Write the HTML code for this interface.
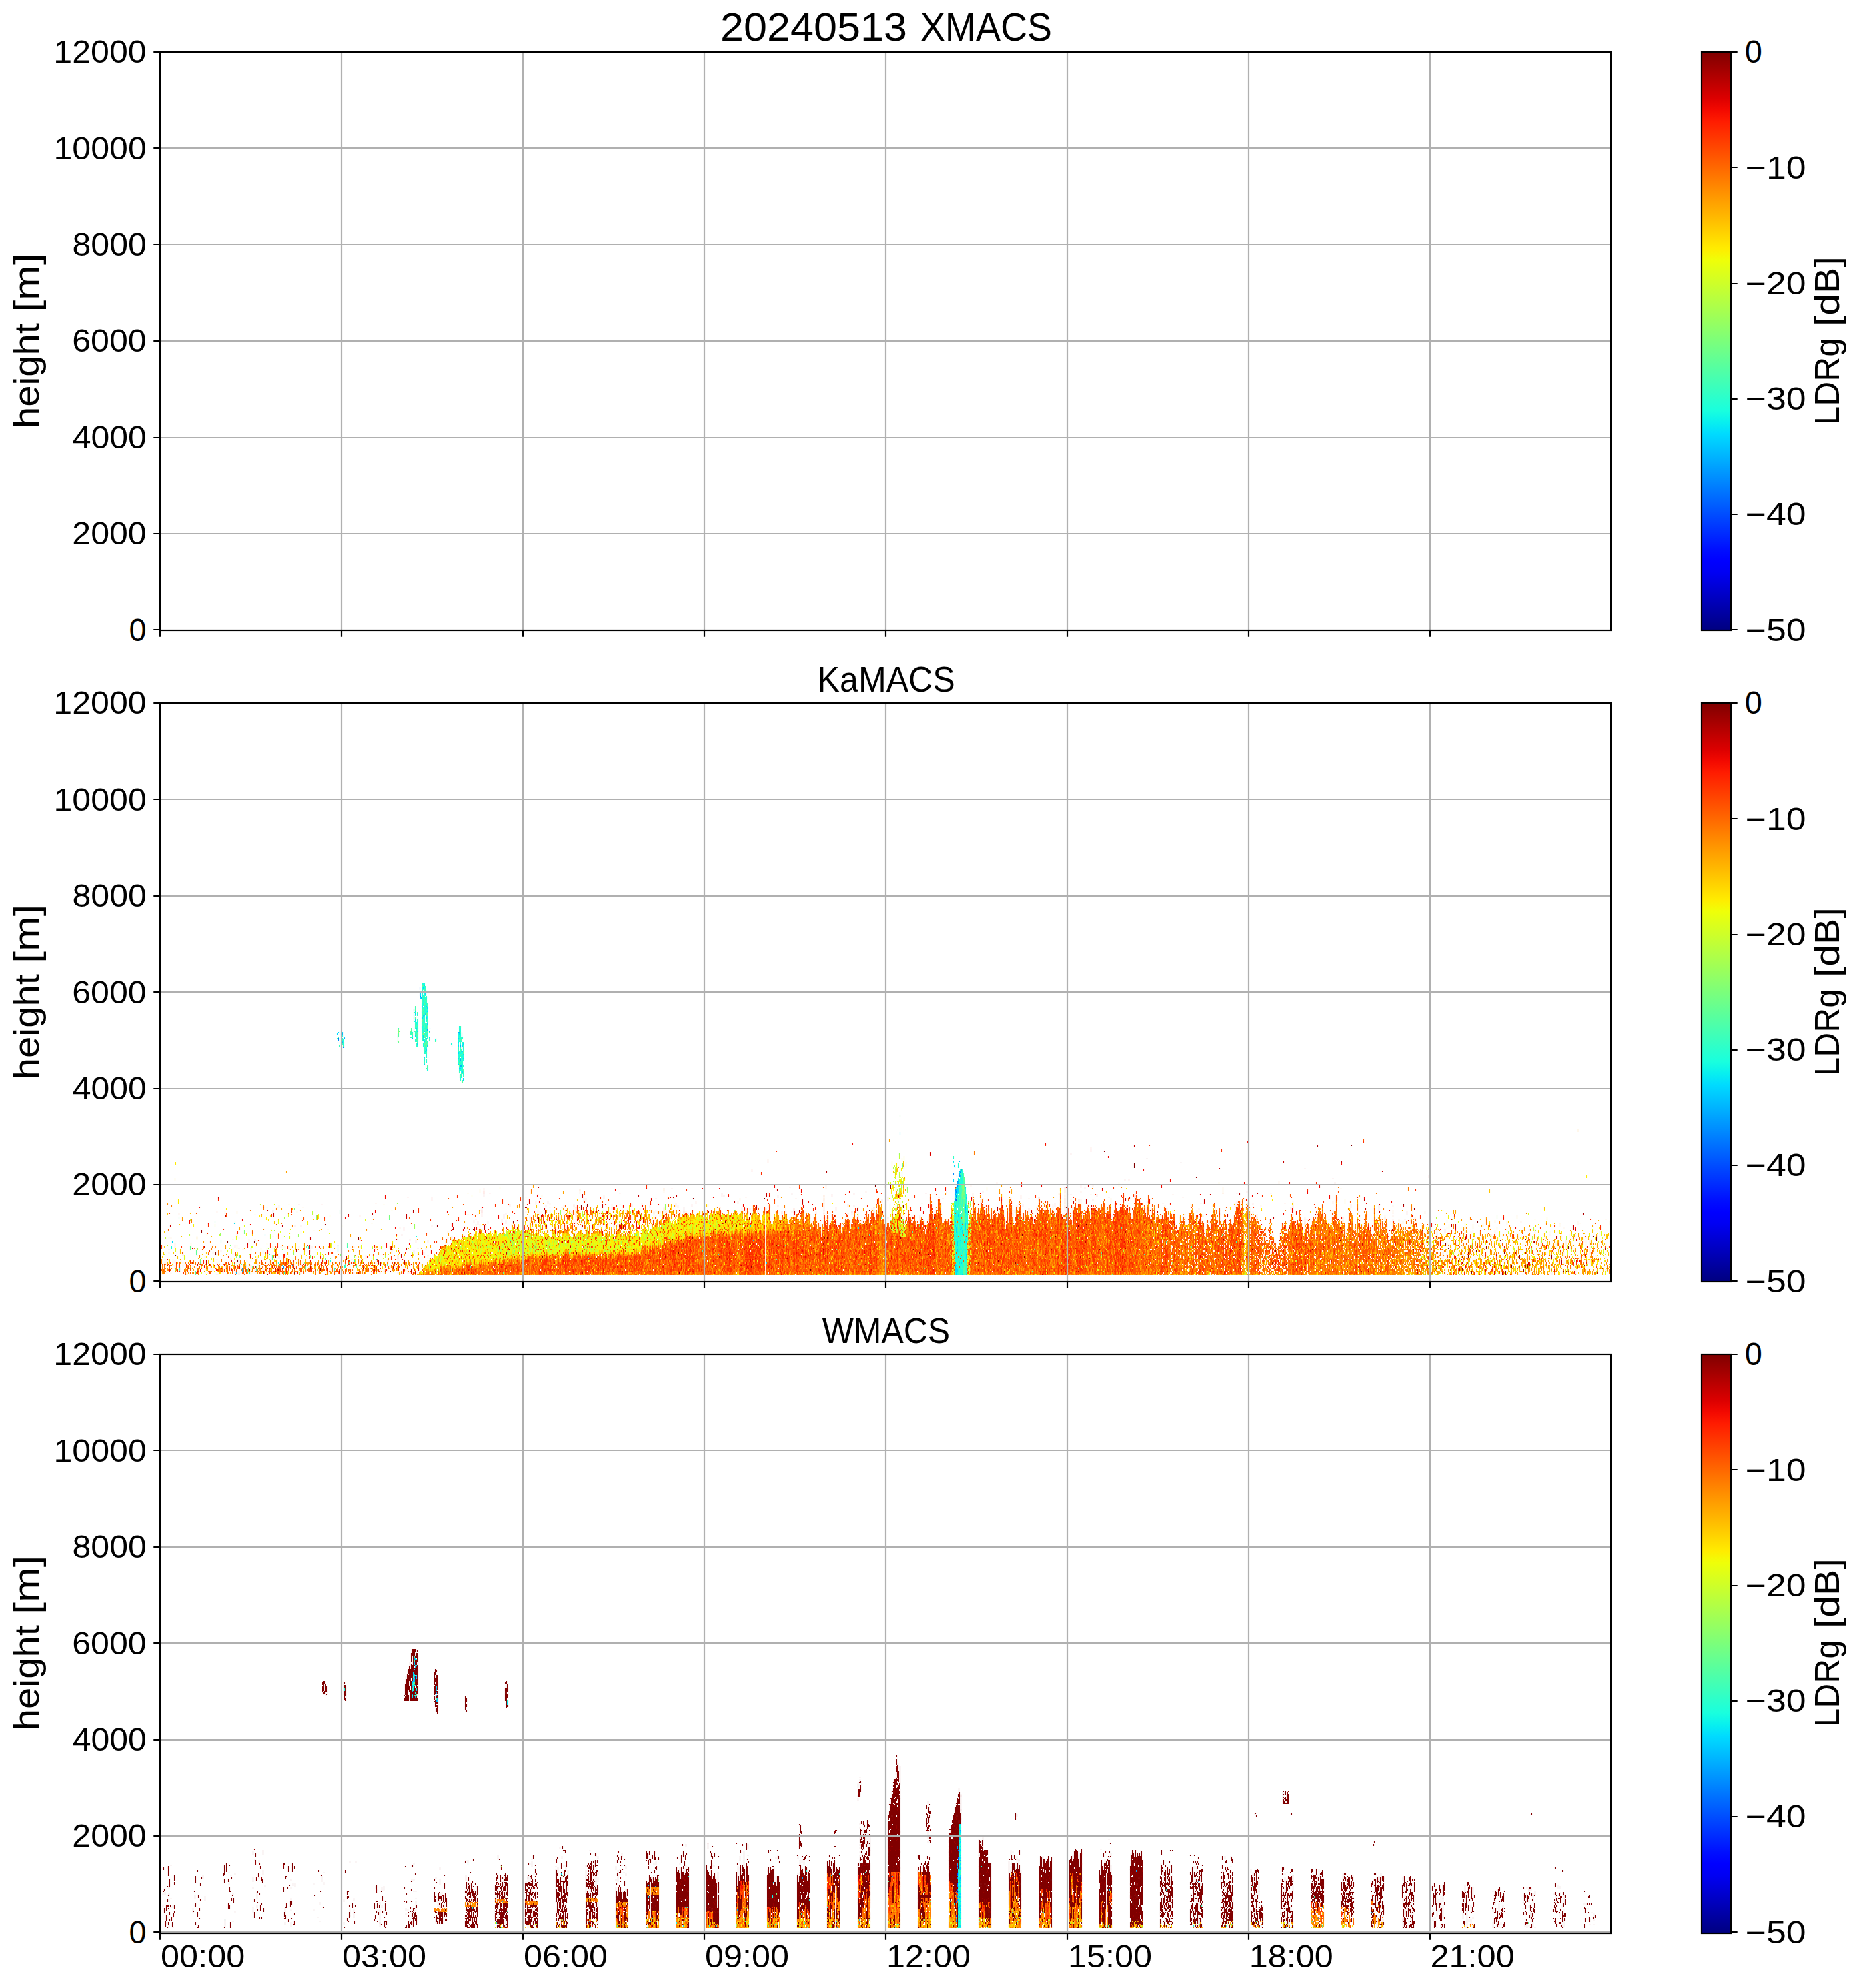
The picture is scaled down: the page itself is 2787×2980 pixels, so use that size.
<!DOCTYPE html>
<html lang="en"><head><meta charset="utf-8"><title>20240513 XMACS / KaMACS / WMACS LDRg</title><style>html,body{margin:0;padding:0;background:#fff}svg{display:block}text{font-family:"Liberation Sans",sans-serif}</style></head>
<body>
<svg width="2787" height="2980" viewBox="0 0 2787 2980">
<defs><linearGradient id="jet" x1="0" y1="0" x2="0" y2="1"><stop offset="0%" stop-color="#800000"/><stop offset="2%" stop-color="#970000"/><stop offset="4%" stop-color="#ae0000"/><stop offset="6%" stop-color="#c50000"/><stop offset="8%" stop-color="#dc0000"/><stop offset="10%" stop-color="#f30900"/><stop offset="12%" stop-color="#ff1c00"/><stop offset="14%" stop-color="#ff2f00"/><stop offset="16%" stop-color="#ff4200"/><stop offset="18%" stop-color="#f50"/><stop offset="20%" stop-color="#ff6800"/><stop offset="22%" stop-color="#ff7b00"/><stop offset="24%" stop-color="#ff8e00"/><stop offset="26%" stop-color="#ffa100"/><stop offset="28%" stop-color="#ffb300"/><stop offset="30%" stop-color="#ffc600"/><stop offset="32%" stop-color="#ffd900"/><stop offset="34%" stop-color="#ffec00"/><stop offset="36%" stop-color="#efff08"/><stop offset="38%" stop-color="#deff19"/><stop offset="40%" stop-color="#ceff29"/><stop offset="42%" stop-color="#bdff3a"/><stop offset="44%" stop-color="#adff4a"/><stop offset="46%" stop-color="#9cff5a"/><stop offset="48%" stop-color="#8cff6b"/><stop offset="50%" stop-color="#7bff7b"/><stop offset="52%" stop-color="#6bff8c"/><stop offset="54%" stop-color="#5aff9c"/><stop offset="56%" stop-color="#4affad"/><stop offset="58%" stop-color="#3affbd"/><stop offset="60%" stop-color="#29ffce"/><stop offset="62%" stop-color="#19ffde"/><stop offset="64%" stop-color="#08f0ef"/><stop offset="66%" stop-color="#00dbff"/><stop offset="68%" stop-color="#00c7ff"/><stop offset="70%" stop-color="#00b3ff"/><stop offset="72%" stop-color="#009eff"/><stop offset="74%" stop-color="#008aff"/><stop offset="76%" stop-color="#0075ff"/><stop offset="78%" stop-color="#0061ff"/><stop offset="80%" stop-color="#004cff"/><stop offset="82%" stop-color="#0038ff"/><stop offset="84%" stop-color="#0024ff"/><stop offset="86%" stop-color="#000fff"/><stop offset="88%" stop-color="#00f"/><stop offset="90%" stop-color="#0000f3"/><stop offset="92%" stop-color="#0000dc"/><stop offset="94%" stop-color="#0000c5"/><stop offset="96%" stop-color="#0000ae"/><stop offset="98%" stop-color="#000097"/><stop offset="100%" stop-color="#000080"/></linearGradient>
<clipPath id="cp0"><rect x="240" y="78" width="2175" height="867"/></clipPath>
<clipPath id="cp1"><rect x="240" y="1054" width="2175" height="867"/></clipPath>
<clipPath id="cp2"><rect x="240" y="2030" width="2175" height="868"/></clipPath>
</defs>
<rect width="2787" height="2980" fill="#fff"/>
<g id="panel0">
<path d="M512 78V945M784 78V945M1056 78V945M1328 78V945M1600 78V945M1872 78V945M2144 78V945M240 800H2415M240 656H2415M240 511H2415M240 367H2415M240 222H2415" stroke="#b0b0b0" stroke-width="2.2" fill="none"/>
<path d="M230.3 944H240M230.3 800H240M230.3 656H240M230.3 511H240M230.3 367H240M230.3 222H240M230.3 78H240M240 945V954.7M512 945V954.7M784 945V954.7M1056 945V954.7M1328 945V954.7M1600 945V954.7M1872 945V954.7M2144 945V954.7M2595 78H2604.7M2595 251H2604.7M2595 425H2604.7M2595 598H2604.7M2595 771H2604.7M2595 944H2604.7" stroke="#000" stroke-width="2.2" fill="none"/>
<rect x="240" y="78" width="2175" height="867" fill="none" stroke="#000" stroke-width="2.2"/>
<rect x="2551" y="78" width="44" height="867" fill="url(#jet)" stroke="#000" stroke-width="2.2"/>
</g>
<g id="panel1">
<g clip-path="url(#cp1)" fill="none" stroke-width="1.2">
<g transform="translate(240.5 1911) scale(1 -1)" stroke-width="1.08"><path stroke="#008aff" d="M1192 104v17"/><path stroke="#00b2ff" d="M1191 104v17m1 0v15m1-15v11"/><path stroke="#00dbff" d="M266 35v10m21-28v7m905-24v17m1-17v17m1 0v18m0 17v17m1-34v17m0 69v18m1-18v18m6-87v17m1-17v17m0 70v17m4-87v35m1-87v18"/><path stroke="#19ffde" d="M1190 52v17m0 18v17m1-104v17m0 70v17m1-87v18m0 34v35m1-87v52m0 18v17m1-104v17m0 18v17m0 17v67m1-136v35m0 17v52m1-104v52m0 17v50m1-102v18m1 0v52m0 52v17m1-156v87m0 34v18m1-87v17m1-69v35m0 17v17m0 70v17m1-156v52m0 87v17m1-156v52m0 35v17m3-35v18m1-70v52m0 52v11m1-132v17m0 18v34m0 18v34m1-104v52m1-17v52"/><path stroke="#3affbd" d="M1190 69v18m1-70v70m1-52v34m1 0v18m0 17v17m2-17v17m1-69v17m1-69v17m0 18v104m1-139v35m0 52v52m1-52v34m0 18v17m1-156v52m0 17v18m0 34v35m1-121v17m0 17v35m0 17v18m1-52v34m1-52v18m0 17v35m1-139v52m1-35v70m1-87v69m0 18v52m1-139v17m0 87v17m1-52v18m1-18v46"/><path stroke="#5aff9c" d="M4 17v7m164-7v13m50-26v13m895 141v9m84-28v13m3-65v34m1-17v17m1-52v18m2-35v17m0 35v17m0 18v13m1-152v17m0 70v60"/><path stroke="#7bff7b" d="M60 17v7m1055 45v13m23-13v7m64 45v18m2-70v35m0 17v18m5-139v17m5 87v6m1-58v17"/><path stroke="#9cff5a" d="M291 17v13m90 39v7m183-41v17m36 37v8m27-45v13m25-13v17m165-17v17m281 0v18m5 34v18m7-70v18m1 34v18m1-70v18m6-18v15m2 39v9m69-97v17m21-17v17m1 52v6m737-110v17"/><path stroke="#bdff3a" d="M187 37v6m22-43v11m19 78v6m170-95v15m12 2v13m11-13v18m4 0v8m25-8v17m24 0v17m7-34v17m1-17v17m15-35v18m3-18v18m17 0v17m1-17v17m1 0v15m1-32v34m1-34v17m1-35v18m6-18v35m3-35v18m0 17v15m7-32v17m2-17v30m3-48v35m1-17v17m4 0v13m6-13v17m6-34v17m2-17v17m1-17v17m3 0v15m1-32v17m3 0v17m12-34v17m9-17v17m7-17v17m6 0v13m8-13v17m7-17v17m2-17v15m3-32v17m1-17v17m6-35v18m6 0v17m1-17v17m1-17v17m1 0v17m5-34v17m1-17v17m1-17v17m2-17v17m1 0v15m11-15v17m2 18v17m2-69v17m5-17v30m10-30v17m3-35v18m16 0v17m3-17v17m1-17v17m25-17v17m4 0v17m12-17v17m13 0v18m23-18v18m5-18v18m11-18v18m5-35v17m17 0v18m4-18v13m12-13v18m9 0v6m16-24v18m29 0v6m211-24v18m1-18v18m2 52v23m4-93v52m2-52v18m0 52v15m0 19v9m1-130v17m2-17v17m1-17v17m1-17v32m1-15v15m1-32v17m1-17v17m72-52v18m0 17v17m2-69v17m0 18v17m21-17v17m1-35v18m2 34v18m1-18v18m822-35v11m19-28v15m1 2v6m51-6v6"/><path stroke="#deff19" d="M114 52v6m78 29v6m111-76v7m100-24v17m5-17v26m4-9v13m1-30v30m3-13v11m4-11v18m1 0v8m2-26v18m1 0v8m3-26v18m1-18v18m1 0v17m2-35v18m3-18v18m3 0v17m1-35v18m1 0v17m1-17v17m2-35v35m1-35v35m2-35v18m3-35v17m1 0v18m3-18v18m1-18v18m5-18v35m3-35v18m2 17v17m1-17v6m1-23v17m1 0v6m1-58v35m1-18v15m1 3v17m5-17v17m1-35v35m4-35v18m1 0v17m1 0v15m1-15v17m1-34v17m2-35v35m4 0v11m3-46v52m1-52v18m2-18v35m2-17v28m2-46v18m4-18v18m1-18v18m0 17v13m1-30v17m1-35v18m1 0v17m2-17v17m2 0v9m1-44v48m3-48v35m7-17v17m1 0v15m1-32v32m1-32v32m1-32v32m1-32v17m1 0v17m1-52v35m1-35v50m1-32v17m1-35v52m1-17v15m1-32v34m2-34v17m1-17v34m1-17v15m1-15v15m1-50v18m1-18v35m1-17v30m1-13v15m2-32v32m1-32v17m1-17v32m2-50v50m1-32v17m1-17v34m1-34v34m1-34v32m1-32v17m1-17v34m1-34v17m1-17v17m2-17v17m2-17v17m2-35v18m1 17v15m2-50v35m2-17v17m0 19v16m3-52v17m1-17v17m4-17v17m1-17v17m3-17v17m3-17v17m1-17v17m1-17v17m1-17v17m1 0v13m1-30v17m2 0v17m1-17v15m1-32v17m1 0v17m1-52v18m2 0v34m1-34v17m2-17v17m2-17v17m3-17v17m2-17v17m1-17v34m1-34v17m1-17v17m1-17v17m1-17v17m1-17v17m1-17v17m2-17v17m1-17v17m2-17v17m1-17v17m4-17v17m3-35v35m2 0v13m1-30v17m2-17v17m3-17v17m1-17v17m1-17v17m3 22v13m1-52v17m2-17v17m5 0v13m1-30v17m2-17v17m1-17v32m1-32v17m2-17v34m1-34v17m1-17v34m0 20v6m1-78v52m1-17v15m2-32v30m1-30v17m1-17v30m4-30v17m2 17v18m2-70v18m1 0v17m0 35v6m2-58v17m1-17v17m4-17v17m2 35v6m1-58v17m1-17v17m2-17v17m2 0v13m1-30v34m2-34v17m6 0v17m1-17v17m1-34v17m1-17v17m2 0v17m1-34v17m7 0v17m1-34v17m1-17v17m2 0v17m3-34v17m1 0v13m4-30v17m1-17v17m1 0v15m1-32v34m1-17v17m2-17v17m1-17v17m2-17v17m1-17v15m1-32v17m1-17v17m1-17v30m3-13v17m2-17v17m8-17v17m3 0v13m1-30v17m1-34v17m1 0v17m1-17v17m1 0v18m1-35v35m4-35v17m1 0v18m1-18v18m1-18v18m2-35v17m4-17v17m2-17v17m7 0v18m2-35v17m5 0v18m2-35v35m1-35v17m8-17v17m2 0v18m6-35v17m2-17v17m0 18v6m1-24v18m2-18v26m6-26v18m6 0v10m5-28v18m1-18v18m2-35v17m3 18v13m2-13v8m2-26v18m10-18v18m9-18v18m2-18v18m3-35v17m1 0v18m5-18v24m6-24v26m5-26v18m21-35v17m20 0v9m1-9v7m177-7v13m3 5v13m4-31v18m2-18v18m0 69v11m1-115v17m4 0v35m77-52v17m1 18v13m1-100v17m0 52v15m1-15v18m1-70v18m20-18v18m1-18v18m1-35v17m0 52v18m1-87v17m1 70v17m559-104v17m120-17v17m2 35v11m6-63v35m5-13v13m3-18v18m3-35v17m24-17v13m31 22v17m2 0v11m45-63v15m2 20v6m31-39v15m1-17v17m61 0v28"/><path stroke="#ffec00" d="M27 106v7m42-113v17m37 0v9m30 9v6m22-24v18m33-18v18m163 17v9m38-61v17m8-17v17m4-17v26m2-26v17m3-17v24m1-24v15m1-15v15m0 2v15m1-30v15m2-17v35m1-35v17m1-17v17m1-17v17m1-17v35m1-18v18m3-18v24m2-24v18m1-18v18m1-18v18m1-35v17m2 0v18m1-18v18m2-18v18m1-18v26m1-8v10m1-28v18m1 0v13m1-48v35m1-35v17m0 18v17m1-35v18m1-18v18m1-18v15m0 3v17m3-35v35m1-52v17m0 18v17m1-35v35m1-35v35m1-35v35m1-17v15m1-33v18m1-18v18m1 0v17m2-35v35m1-17v17m1-35v33m1-33v35m2-35v35m1-35v35m1-17v17m1-35v48m1-48v35m1-35v35m1-35v18m1-18v35m1-17v17m1-17v17m1-35v18m1-18v35m1-35v52m1-52v48m1-48v35m1-35v18m2-18v35m1-35v35m1-35v52m1-34v17m1-35v18m0 17v17m1-52v18m2-18v18m1-18v35m2-35v35m1-35v35m1-35v35m1-35v35m1-35v44m1-44v35m2-17v28m1-46v35m1 0v13m1-48v15m0 3v26m2-44v15m0 3v28m1-28v26m1-26v17m0 2v13m1-50v50m1-50v50m1-32v30m1-30v17m1-35v18m0 17v6m1-23v26m1-44v18m1-18v46m1-46v18m1-18v46m1-46v35m2-35v52m1-52v52m1-17v13m1-48v46m1-11v9m1-9v13m1-48v35m2-35v18m0 17v15m1-15v17m1-52v35m2-35v18m1-18v18m1 17v17m2-17v17m4-34v17m2-17v34m1-17v17m1 0v7m2-59v35m2 0v15m4-50v18m1-18v18m0 17v17m2-34v17m10-17v17m2-35v18m1-18v18m4 0v17m2-35v18m1-18v18m1 0v17m1-17v17m2-35v18m1 0v17m1-35v35m1-35v35m3-35v35m1-17v17m2-35v52m1-52v18m2-18v18m3 0v17m1 0v17m1-34v32m1-32v17m2 17v11m1-45v17m1-17v17m1-17v17m2 35v6m1-76v18m0 17v15m1-50v18m1 0v17m0 17v13m2-47v32m1-32v34m2-34v34m1-17v17m3-17v15m0 20v10m1-45v17m1-17v15m0 22v11m2-13v8m1-78v35m3-17v17m1-35v18m0 17v17m2-34v17m1-17v17m1-17v17m1 0v17m4-34v17m1-17v17m2-17v17m1 0v15m1-32v17m1-17v17m6 35v15m2-67v17m2-17v17m1-17v17m4 0v17m1-17v17m4-34v32m5-32v17m1-17v17m4-17v17m1-17v17m3-17v34m1-34v17m1-17v32m3-32v17m3-17v17m0 35v6m1-58v17m1-17v17m1 0v9m1-26v17m1 17v18m1-70v18m2 0v17m2-17v17m1-17v17m2-17v34m0 18v8m1-78v18m0 17v17m1-34v17m1-17v17m1-17v17m1-17v17m1-17v17m1-17v17m1-17v17m4-17v17m1 0v13m2 22v17m1-69v17m1-17v34m1-34v17m1-17v17m1-17v17m3-17v32m0 20v13m1-65v17m1-17v17m1-17v34m1-17v15m1-32v17m1-17v30m1-30v17m0 17v15m1-49v17m2 0v15m1-32v17m2-17v17m1-17v34m1 18v10m2-45v17m1-34v17m1-17v17m4-17v34m1-34v34m1-34v17m1 0v17m2-34v34m1-34v34m0 18v8m2-43v17m1-17v17m2-34v17m0 2v15m1-34v17m1 0v17m1-17v17m1-17v17m2-17v17m2 0v26m1-43v17m2-17v30m1-30v17m1-17v35m2-35v17m1-17v17m1-17v17m1-17v35m1-18v18m1-35v17m1-17v17m1-17v17m1 20v6m1-43v17m2-17v32m1-15v18m1-35v17m1-17v17m1-17v32m1-32v17m2-17v35m1-18v18m1-35v17m1-17v35m1-35v35m1-35v35m1-35v17m1-17v17m2 0v24m1-41v35m1-18v18m1-35v35m1-18v18m1-35v35m1-35v35m1-18v18m2-35v17m2 0v28m1-45v35m1-35v35m1-18v18m1-35v35m1-18v18m1-35v35m1-18v18m2-35v41m2-41v43m1-26v18m1-35v35m1-18v18m1-18v18m2-18v18m1-35v35m1-18v18m1-35v17m1-17v35m1-35v35m1-35v35m1-35v17m1-17v35m1-18v18m1 0v6m3-24v18m2-18v18m1-18v18m1-18v18m1-35v35m1 0v8m1-8v15m1-33v18m1-18v26m1-26v18m1-18v18m1-18v18m1-18v18m1-18v18m1-18v18m2-35v17m1 0v18m3-18v18m1-18v18m1-18v18m1-18v18m3-35v35m1-35v17m1 0v18m3-35v17m1 0v18m1-18v28m1-28v26m1-26v26m2-26v18m1-35v35m1-18v18m1-35v35m1 0v6m2-24v18m1-18v18m1-35v32m1-15v15m1-32v17m3 0v18m2-18v18m2-18v18m1-18v18m2-18v18m1-18v18m1-18v18m1-18v18m6-35v17m4 0v18m3-18v11m1-11v18m1-18v26m25-26v18m1-18v13m7-13v18m12-35v17m147 52v9m1-61v18m6-18v18m2 0v17m5 35v8m4-95v17m0 20v15m19-69v17m53 35v17m1-87v35m47-17v17m115 69v9m203-130v17m29 52v18m4-35v17m43-69v17m95 0v18m132 17v17m21-69v17m37-17v17m9-15v15m10 52v7m24-7v9m10-78v17m15-15v15m4-17v17m2 0v18m19-33v15m22 18v15m1-33v18m2-13v13m32-33v15m1 35v6m3-6v11m49-24v11m22-33v18m35-33v13m1 22v13"/><path stroke="#ffc600" d="M55 52v6m25-39v7m19-22v13m37-17v15m10-13v7m8-7v15m6-17v15m6-13v15m15-17v17m22 20v11m13-13v13m2-31v7m130 13v13m42-50v6m3-6v17m1-17v11m2-11v13m1-13v15m8-15v17m2-17v17m10 0v15m2-32v17m1-17v17m0 18v8m3-43v17m5 18v15m8-50v35m3-35v17m7-17v17m1-17v17m4 18v17m2-17v17m2-35v18m22 17v11m5-46v18m35-18v18m10-18v18m0 34v7m9-59v18m2-18v15m4-15v18m6-18v18m2 17v15m5 2v9m7 9v6m3-76v18m2 36v16m3-70v18m6 17v13m1-48v18m3-18v18m0 17v15m6-50v18m5 54v13m2-85v18m7 17v15m10 2v18m3-35v17m2-52v18m1 34v18m4 2v15m10-17v6m10-76v18m1 17v15m1-15v13m10 22v8m3-8v17m2-30v13m11-70v18m6 52v8m4-78v18m6 34v18m1-35v15m0 20v13m4-31v15m1 3v10m1-45v17m2 18v8m1-6v15m3-52v17m3-52v18m2 34v18m6 2v8m1-8v8m11-80v18m5 52v8m12-60v17m4 0v17m3 0v13m2 7v6m2-60v17m0 17v11m1-45v17m0 35v8m2-26v15m18-49v17m3 0v17m4 0v18m1-35v17m11 18v8m7-26v18m3-35v17m14 18v8m2-43v17m3 18v6m7-6v6m2-6v10m1-28v18m2-18v18m1-35v17m0 18v8m5-43v17m3 18v13m5-48v17m1 0v18m3-35v35m1-18v18m5-35v35m3 0v6m1-41v17m2 18v6m4-93v17m3 35v17m4 0v18m3 0v8m2-43v17m3 0v18m1-35v17m0 18v6m1-24v18m1 0v8m1-26v15m3-32v17m2-17v17m1-17v17m2 0v18m1-18v18m1-18v33m1-33v18m1-18v18m1-18v18m1-18v15m1-15v18m1-18v18m2-18v13m3-30v17m2 0v18m1-18v18m2-18v18m1-18v18m1-18v18m1-18v18m1-18v18m2-18v18m1-18v11m2-28v17m3 0v18m1-18v18m1-18v18m1-18v26m4-26v18m1-18v13m3-13v13m26-30v17m83-17v17m6 18v15m51-15v13m4-31v18m6-18v18m1 0v17m1 0v17m3-34v15m2 19v18m36-70v11m37-80v17m2-17v17m146 52v18m80-35v17m75-17v17m3-17v17m1-32v15m38-52v15m4-15v35m17 34v18m26-50v15m0 35v17m10-35v11m14-45v17m20-35v18m4 52v6m1-58v17m0 19v16m3-52v17m0 35v17m2-104v17m13 52v11m4-45v17m24-52v17m1-17v17m7 0v18m5 0v17m10-17v17m15 0v17m6-69v17m15-17v17m10 0v15m5 37v13m1-47v17m1 17v7m1-57v16m3-13v13m14-35v17m2-17v17m6 89v7m5-61v17m13-15v15m13-34v17m3-17v17m6-35v18m18-35v17m3-17v17m12 35v28m3-28v17m5-34v17m5-52v17m6 35v15m4-50v18m1-35v17m4 18v17m3-13v13m7-17v17m7-52v17m0 18v17m1-35v18m5 17v15m2-50v18m3 34v7m2-76v15m1 2v18m1-31v13m1 18v17m1-50v15m5-17v17m5-13v13m21-17v17m4-15v15m1 2v16m1 17v11m2-46v18m1-33v15m7-15v15m3-17v35m7 34v7m10-41v17m5 19v7m3-78v15m1 39v7m13-44v18m7 17v9m13-9v6m1-54v13m5-17v17m44 20v15m26-52v17m0 18v17m3 0v11m4-28v13m31-31v13m7 22v6m2-41v18m25 19v7m1-7v7"/><path stroke="#ffa100" d="M7 17v7m12-7v7m21-24v11m1-7v11m48-13v15m29-17v17m7-15v15m8-15v15m34-15v15m16-15v15m2-17v17m3-17v17m62-17v15m8-11v13m63-15v13m20 2v7m38-24v17m23-17v17m20-17v17m4 18v10m6-45v17m1-17v17m18-17v17m2 37v7m1-61v17m1-17v17m3-17v17m24-17v17m7-17v17m3-17v17m8-17v17m4-17v17m1-17v17m2-17v17m18-17v17m8 0v18m1-18v18m3-18v18m7-18v18m8-35v17m2 52v18m1-87v17m1 0v18m13-35v17m0 35v17m4-52v18m5-35v15m5 2v18m1-35v15m7 2v18m1-18v18m16-18v18m3-18v18m0 34v18m19-35v15m9-15v15m7 22v8m2-10v8m1-78v18m1 52v10m5-45v17m4 18v8m2-78v18m0 34v18m4-87v17m7 0v18m4 17v17m3-52v18m2 17v17m3-17v17m12-52v18m0 36v16m2 0v10m4-80v18m5-18v18m11 54v6m1-43v15m3-67v17m3 52v15m1-15v18m1-18v15m2-67v18m1 36v16m4-87v17m2-17v17m6 18v17m3-52v17m5 52v13m5 41v7m2-130v17m1-17v17m2 18v17m3-17v17m1-52v15m2 72v17m4-87v18m4-18v18m4 52v10m1-10v8m1-95v17m2 18v17m3-17v17m1-35v18m2-35v17m7-17v17m14 20v15m1-17v17m3 0v17m8-34v17m7-52v17m2 18v17m2 0v17m2-17v17m2-17v17m0 18v10m7-97v17m5 35v17m3 18v10m14-62v34m2-69v17m1 0v18m3 17v17m6-17v17m9-17v17m3 18v17m1-17v13m1-48v17m2-17v17m0 18v6m13-93v17m2 70v13m5-48v35m3-35v24m1-41v17m2 17v11m1-28v17m1-69v17m1 0v18m2 34v18m1-18v18m1-70v18m0 17v35m1-35v17m1-52v18m3-35v17m1 52v18m1-18v18m1-18v18m1-18v18m1-18v18m1-35v17m2 0v18m1-18v15m1-15v11m1-11v7m1-7v13m1-13v18m2-35v35m1-52v17m1 0v17m3 0v18m8-18v15m1-15v15m1-67v18m1 34v18m6-87v17m1 35v17m1 0v18m2-35v35m1-18v18m7-70v18m3 34v18m1-52v17m3-52v17m11-17v17m4-17v17m7 52v18m2-35v17m7-52v18m5 17v17m8-17v17m4-69v17m14-17v17m4 52v7m2-76v17m5 35v17m13-34v17m4-52v17m1 0v18m0 34v35m1-35v18m1-52v17m3-52v17m1-17v35m1-35v17m9 35v17m3-17v17m2-34v17m4-35v18m7 52v15m6 39v6m14-147v17m33 0v18m1 34v18m3-70v18m3 34v18m2-18v9m8-43v17m1 0v17m30-69v17m3-17v17m13 52v15m2-67v18m1 69v9m7-96v18m1 52v17m1-52v17m5 0v15m1-32v17m1-52v18m0 34v18m7-70v18m0 34v18m2-35v17m3 52v7m9-128v17m9 104v7m1-59v18m1-52v17m18-52v17m5-17v17m2-17v17m3 70v10m9-62v17m1-17v34m1 18v17m5-17v13m12-83v18m3-35v17m3-17v35m0 17v17m3 0v18m1-52v17m3-17v17m1-17v17m0 17v18m6-18v15m2 37v11m23-63v18m11-87v17m4-17v69m2-52v18m8 0v17m7-35v18m1 34v18m1-35v17m2-69v17m4 70v13m2-65v17m6 0v17m8-69v17m21 18v15m4-15v17m3 35v17m2-17v15m0 2v9m4-113v17m0 18v17m1 35v15m2-33v33m3-67v17m2 17v18m1-87v17m1 18v17m0 35v17m1-104v52m3-17v17m1-52v17m1-17v17m3 18v17m3 0v17m2 0v18m1-35v17m2-34v17m2 0v17m1-52v18m0 34v15m4-32v17m7 0v18m1-87v17m0 35v17m0 20v6m6-78v18m1 34v18m11-70v35m1 0v17m1-52v18m0 34v11m2-63v18m1 0v15m1-33v18m2-35v17m1-17v17m2 18v17m1 2v15m2-52v18m0 34v24m1-93v35m2 0v17m1-52v17m0 70v17m1-104v17m5 18v17m5 0v17m5-69v17m3-17v17m1 0v18m1-35v17m0 35v17m5-52v18m1 0v17m8-50v13m0 39v15m8-52v18m3 86v11m3-63v9m7-9v13m4-82v17m1 18v17m4 17v18m0 2v6m10-95v17m1-15v15m0 18v52m1-87v17m0 18v52m1-87v17m3 0v18m0 17v17m0 18v15m2-102v17m0 18v17m0 2v15m2-69v17m1 0v52m2-69v17m4 35v17m1-52v18m5-35v17m5 0v18m7-35v17m2-17v17m0 18v6m2-24v18m6-18v18m12-18v13m2 5v17m2-50v15m0 52v7m1-24v17m8-69v17m2 0v18m2-35v17m1 0v18m4-18v18m4 17v17m7-52v18m2-35v17m5 0v18m2 0v17m4 2v15m3 0v11m2-80v17m1-17v17m0 18v17m3 35v6m1-24v18m1 0v15m3-15v13m4-31v18m3-50v15m0 2v15m1-52v18m1-18v18m2 17v17m3-52v18m1-35v17m0 18v17m1 17v9m1-61v35m0 17v9m1-78v17m0 18v17m0 17v18m2-35v17m3-17v17m1-17v17m1-34v17m2-52v17m1 35v17m3-17v17m2-69v17m0 52v9m1-26v17m1-69v17m1 20v15m2-52v17m0 18v17m2-52v35m0 17v13m1-65v17m0 18v17m1-50v15m1-17v17m0 70v8m3-60v17m1 0v35m2-52v17m0 17v7m1-41v17m2-17v15m1 19v7m2-59v15m1-32v35m0 17v17m0 20v28m1-100v18m1-35v15m0 2v15m3 20v17m1-69v17m0 18v17m8-35v18m0 17v17m4-69v35m4 0v17m1 2v7m1-9v9m1 26v17m2-69v47m2-80v13m0 20v34m6-17v17m1-52v18m0 17v17m1-34v17m1-35v18m0 17v17m2-69v17m1 20v15m0 17v18m1-70v18m1 0v17m1-17v34m7-69v32m0 3v17m3-17v17m3-52v17m1 18v17m1-52v17m0 35v17m1-69v17m1-17v17m0 2v16m0 34v9m1-61v18m0 34v15m2-67v18m1-18v15m2 3v32m1-13v15m1-69v15m0 20v17m2-52v35m1 2v32m3-69v17m1-17v17m0 35v13m3-13v15m2-15v15m1-67v35m1-35v17m0 52v9m1-26v17m1-69v35m4-16v16m1 19v15m1-69v17m3-17v17m1 18v17m2-17v17m1-35v35m4-52v17m1 0v18m9-18v18m4-18v15m11 20v6m10-58v17m3 0v18m3-31v13m1-17v15m4-15v15m7-15v17m4 37v15m7-34v17m6-52v17m11-17v15m1-15v17m1-17v17m0 18v13m4 4v6m3-58v15m15-13v15m9 2v7m9-9v15m7-15v15m8 22v7m15-42v13m3-28v13m7 37v7m6-61v17m2 0v15m6-30v15m14 20v15m4-13v11m1-31v16m5 36v7m15-24v7m9-61v17m8 20v15m2-50v15m1-17v17m1-15v15m6 0v7"/><path stroke="#ff7b00" d="M3 2v15m3-15v15m70-13v11m25-13v13m47-11v13m29-15v13m3-11v13m45-13v13m7-17v17m9-13v13m2 0v15m106-28v13m50-17v15m2-15v17m23-15v15m1-17v17m1-17v17m1 18v10m3-45v17m1-17v17m3-17v17m6-17v17m1-17v17m1-17v17m1-17v17m1-17v17m5-17v17m1-17v17m7-17v17m4-17v17m3-17v17m1-17v17m4-17v17m1-17v17m1-17v17m4-15v15m2-17v17m3-17v17m1-17v17m2-17v17m1-17v17m1-17v17m1-17v17m1-17v17m3-17v17m1-17v17m4-17v17m1-17v17m2-17v17m4-17v17m4-17v17m3-17v17m5-17v17m1-17v17m1-17v17m3-17v17m2-17v17m9-17v17m1-17v17m2-17v17m2 0v18m1-35v17m4-17v17m1-17v17m3-17v17m2-17v17m4-17v17m4 0v18m1-18v18m1 86v7m3-76v17m1-69v17m2-17v17m1-17v17m2-17v17m2 35v17m2 0v18m2-87v17m5-17v17m5-17v17m2-17v17m4-17v35m1-35v35m2-35v17m3-17v17m2 0v18m1-35v35m3-35v17m1 0v18m1-35v17m3-17v17m1-17v17m1-17v17m0 52v18m2-87v17m2-17v17m2 0v18m1-18v18m4-18v18m2-18v18m1-35v17m2-17v17m1 0v18m2-35v17m2 0v18m0 52v10m2 24v7m1-128v35m4-35v17m6 52v18m3-35v17m1-52v18m1-18v18m0 54v13m1-102v17m2-17v17m3-17v17m1-17v35m1-18v18m3 34v18m5-87v17m1 0v18m0 52v8m1-78v18m1-35v17m0 70v6m1-76v18m1-18v18m3-35v17m4 35v17m2-69v17m1 0v18m1-35v17m1-17v17m2 0v18m1-35v17m1-17v17m2-17v35m5-35v17m1 35v15m2-50v18m2-35v17m2-17v17m3 70v6m3-93v17m2 0v18m1-18v18m4-18v18m1-18v18m4 52v8m2-95v17m4-17v17m1 0v18m0 52v6m2-93v35m1-35v17m2 18v17m1 35v17m1-104v35m5-35v17m3 0v18m1-35v35m2-35v17m1 0v18m2-35v35m1-35v17m2 0v18m0 34v15m2-67v18m3-18v35m1-35v18m1-35v17m1-17v17m3-17v17m0 18v17m3-17v17m1-35v18m6-18v18m1-35v17m0 18v17m0 17v18m1-87v17m0 18v17m1-52v17m2-17v17m2 18v17m2-35v35m1-52v17m1 0v18m2-35v17m1 18v17m3-52v35m1 0v17m1-35v18m1-35v17m1 18v17m2 0v17m2-52v18m0 52v6m3-76v18m2-35v17m0 18v17m4-52v17m1 18v17m1-52v17m1 0v18m2-35v17m1 18v17m1-35v18m2-18v18m1-35v17m0 35v17m1-69v35m1 17v17m1-34v17m1-35v35m1 0v17m1-34v17m1-52v35m1-35v17m1-17v17m1 18v17m2-52v17m1-17v52m1-17v17m1-52v17m1 0v35m1 35v8m2-43v17m2-17v17m1-34v17m2-17v17m1-52v17m1 0v35m2-52v17m1 0v18m0 17v17m2-17v17m1-34v34m2-69v17m1-17v17m2 0v35m3 0v17m1-52v35m3 0v17m1-34v17m1-52v17m1-17v17m0 18v17m1-52v35m0 17v17m2-34v17m1 0v17m1-69v17m0 18v17m1-35v18m1 17v17m1-69v35m1-35v17m0 18v17m2-52v17m0 18v34m1-69v17m1 0v18m3 17v17m1-69v17m6 35v17m0 18v13m9-48v17m2-69v17m0 70v17m4-87v18m3 17v17m3-17v17m1-52v18m1-35v17m1 0v18m0 17v17m1-34v15m0 37v10m3-45v17m1-52v18m1-18v18m0 17v17m1-52v18m1-18v18m2-35v17m0 18v17m1-52v17m3-17v17m2-17v35m2 17v17m1-69v17m0 35v17m1-17v17m2-69v17m0 18v17m1-52v17m1-17v17m0 35v17m1-17v17m1-52v18m2 52v8m1-43v17m1-17v17m1-69v17m0 35v17m1-69v17m0 70v17m1-104v17m0 18v17m1 0v43m1-78v18m1-18v35m1 0v17m1-69v17m1 35v17m1-69v17m0 35v17m1-69v35m0 17v32m2-32v30m1-82v35m0 34v18m1-18v18m1-87v17m0 52v18m2-85v33m0 34v18m1-70v18m0 34v15m1-15v18m1-35v32m1-84v17m1 52v15m1-84v17m2 0v35m1-52v17m0 52v18m1-87v17m1-17v35m0 34v31m1-13v17m2-104v52m0 17v9m1-9v18m1-70v18m0 52v8m1-26v18m1-87v17m0 18v34m1-52v35m1-52v52m2-17v17m0 17v18m1-87v17m1 35v26m2-78v17m1-17v17m2-17v17m0 18v17m0 17v18m1-70v35m2-35v18m0 17v28m1-80v17m0 35v17m1-34v17m0 17v9m1-26v17m1-17v17m1-69v52m2-35v18m1-35v35m3-35v35m4 0v17m4-52v17m1 18v17m1-35v18m0 17v17m2 0v18m2-87v17m0 35v17m1-69v17m0 52v18m2-35v17m1-69v17m0 35v17m1-17v17m1-69v17m0 35v17m5-52v35m2-35v48m4-65v17m1-17v69m1 0v18m1-52v34m1-69v35m1-35v35m2 34v13m1-82v52m1-35v18m1-35v17m0 35v17m1-34v17m1-52v17m0 18v17m1-17v17m1-52v17m1 52v18m1-87v17m1 0v18m0 34v11m1-80v17m0 18v17m0 17v13m1-82v35m0 34v18m2-52v47m1-65v18m2 0v17m1-35v52m1-52v18m1-35v17m1-17v17m0 18v17m3-52v35m1-35v17m0 18v17m1 0v17m1-69v35m1-35v17m0 18v17m1 17v18m2-35v15m2 2v18m2-35v35m2-87v17m0 18v17m2 0v30m1-82v35m0 17v17m1-69v17m0 18v34m0 18v17m1-87v18m1 0v17m0 17v18m1-70v18m0 34v18m1-87v17m0 18v34m1-69v52m1-52v35m0 17v50m1-102v104m1-104v52m0 17v15m1-67v35m0 37v6m1-60v49m1-67v18m0 17v17m1-69v35m2 17v17m2-52v18m1 17v35m1-87v17m1 18v17m2-35v18m1-35v35m0 34v13m1-82v17m1 35v17m1-69v17m1 18v34m1-69v17m0 18v34m1-34v17m1 0v17m1-69v17m3 0v18m0 17v17m0 18v15m1-100v50m1-35v18m1-35v35m0 17v17m1-69v35m1 0v17m2-52v17m0 18v17m1-35v18m1-35v17m2-17v35m2 17v17m1-69v17m1 18v34m1-69v52m1-17v17m1-52v17m1-17v17m1 35v17m1-34v17m1-52v17m0 35v17m1-34v17m1 0v17m1 0v11m1-11v7m1-76v17m1 18v17m1-52v17m0 18v34m2-17v17m3-17v35m1-70v18m1-35v35m1 0v34m2-69v17m0 35v17m2-17v15m1-67v17m1-17v17m4 87v17m1-34v13m1-31v18m3-18v15m1-32v35m1-18v15m1-84v17m0 18v17m1-17v17m0 17v18m1-87v35m0 17v17m1-69v35m0 52v10m2-45v35m1-52v52m1-35v35m1 0v17m1-87v52m1-17v17m1-69v17m1-17v17m0 52v9m1-61v35m0 17v11m2-63v18m1-35v17m0 18v17m1 0v17m1-17v17m1-69v35m2 17v17m1-52v35m4-17v17m1-35v18m22 17v17m2-52v35m1 0v17m3-69v17m1 52v35m1-104v17m0 70v30m1-65v17m0 18v13m1-100v17m0 18v52m2-87v15m2 2v18m0 34v18m1-87v17m0 52v18m1-70v18m2-35v17m0 52v18m1-87v17m0 35v17m1-17v17m1-52v35m0 52v9m2-26v15m2-85v18m1-35v17m0 35v17m1-69v17m0 35v17m1-52v18m3 34v18m1-87v17m0 52v18m3 0v13m1-100v17m3 35v17m1-34v17m1 35v6m2-93v17m0 52v13m1-82v17m1 70v6m1-24v18m2-70v18m0 34v18m3-87v52m2-52v17m0 52v18m1-87v17m1-17v17m3 35v17m1-52v18m1 34v9m2-78v35m0 34v18m1-35v17m1-69v17m0 70v30m1-117v17m1-17v17m0 35v17m2-34v34m1-69v17m4-17v17m2-17v17m0 35v17m1-69v17m1-17v17m0 52v33m3-102v17m0 52v18m1-35v17m2-34v17m1-35v18m1 0v34m1-69v17m0 18v17m1-33v16m1-18v35m1-52v17m0 18v17m0 35v8m1-43v17m1-69v17m0 18v34m1 0v15m1-67v18m1-18v18m1-35v17m0 18v52m1-70v18m0 34v18m3-18v15m1-49v17m1-52v17m1 0v18m1 0v17m0 17v18m1-87v35m2 0v34m1-69v35m0 52v17m1-52v17m1 0v28m1-97v52m2-17v17m0 35v13m2-65v17m0 35v17m1-104v17m2 0v18m1-35v35m0 34v18m1 0v23m1-110v17m0 52v18m2-87v17m0 18v17m1-52v17m0 18v17m0 17v31m1-100v17m1-17v17m0 18v17m1-35v18m1-35v17m0 35v35m1-70v18m1 34v18m1-35v17m1-69v17m0 52v18m1-70v18m1-35v35m0 17v17m0 18v15m3-102v35m0 34v18m1-87v35m1-18v35m1-35v18m0 34v18m4-87v17m1-17v17m0 35v17m1-34v17m0 52v17m2-69v17m2-69v17m1 0v18m1-35v17m1 52v18m1-35v17m3-69v52m1-52v17m0 18v67m1-102v35m0 17v17m1-69v35m0 17v17m1 18v10m1-97v35m0 17v17m4 0v35m2-69v17m0 35v17m2-35v18m1-87v17m2-17v35m0 34v13m2-30v17m4-69v17m0 70v10m1-62v17m1-52v17m0 18v34m0 18v17m2-104v17m0 70v8m2-95v35m1-35v17m0 35v17m1-69v17m0 70v13m1-100v17m1-17v17m2 52v33m1-15v17m1-69v17m1-35v18m2-18v18m1-35v17m0 35v17m1-17v17m0 18v13m2-65v17m1-17v34m0 18v17m1-69v34m0 18v15m1-67v17m1-17v17m0 17v41m1-23v17m1-87v18m2-18v18m1 17v17m2-69v35m2-35v17m1-17v17m0 70v17m2-104v17m0 18v34m1-52v35m1-35v18m1-35v52m1-52v17m0 18v17m1-17v17m0 17v18m3-87v17m0 35v17m2 18v8m2-60v34m0 18v10m2-97v17m3 35v17m2-52v18m1 0v17m2-17v17m1-35v18m1-35v35m0 17v35m1-70v18m1-18v35m0 17v18m1-18v33m1-15v6m1-76v18m2-18v52m1-52v18m0 34v18m2-70v18m1 34v18m1-87v17m0 52v18m2-52v17m1-52v17m1 0v18m0 17v61m1-96v18m1-18v18m1-18v18m0 52v17m1-104v52m1-52v17m0 52v18m1-87v17m0 18v17m1-52v17m0 18v34m1-34v17m1-35v18m1-35v35m0 34v18m1-87v17m0 18v34m2-69v17m0 35v35m1-35v35m1-87v15m0 2v18m0 17v17m0 20v15m1-69v17m1-52v17m2 0v18m0 17v32m1-15v15m1-67v18m0 17v17m1-69v35m0 17v48m1-65v62m1-97v52m0 17v35m1-104v17m1 18v17m0 17v9m1-78v52m2-52v17m0 18v17m0 19v16m1-70v18m0 34v18m1-18v18m2-52v17m1-52v17m2 0v18m3-35v52m0 35v15m1-102v17m1-17v17m0 70v13m1-65v17m2-52v17m1 18v17m1-52v17m0 18v17m1-35v18m1 0v17m1-52v17m0 18v17m1 0v17m1-69v17m0 52v18m2-87v17m0 35v17m1-69v17m0 35v17m1-69v17m0 35v17m1-52v15m1-32v17m2-17v35m1 17v15m1-67v17m0 18v17m1-52v35m0 17v17m1-69v17m0 35v35m1-70v18m1-35v17m0 18v17m1 2v15m1-69v15m0 37v35m1-87v35m0 17v17m1-69v17m0 52v15m1-47v15m1-35v18m0 17v17m1-52v18m1-18v35m1-35v18m2-35v17m0 35v17m1-69v15m0 39v15m1 0v18m1-18v18m1-70v18m0 52v15m1-67v34m1-34v17m0 17v18m1-70v18m0 52v6m2-41v17m1 0v15m2-84v17m4-17v17m1 0v35m1-17v17m1-52v17m0 35v17m1 0v11m1-45v34m1-52v18m1 2v15m3-17v17m1-52v32m0 3v47m1-82v17m0 18v34m1-52v35m1-52v17m0 35v17m3-69v17m0 2v16m0 34v15m1-67v18m1-33v15m0 18v17m1-52v17m0 35v17m1-52v18m0 17v17m1-69v35m0 17v17m0 18v17m1-87v18m0 17v15m2-67v17m0 35v17m1-69v17m1-17v17m1-17v17m0 35v17m1-34v17m1-35v18m1-35v17m1-17v17m0 18v17m2-52v17m1-17v17m3 0v52m3-69v17m1-17v35m1 17v17m1-17v15m1-67v17m2 18v17m1-35v18m0 34v7m2-59v18m0 17v17m3-69v17m1 35v17m1-52v18m0 17v17m1-17v17m1-69v15m0 54v18m2 0v13m1-31v18m1-70v18m1-35v17m0 52v28m1-62v34m1-50v16m0 52v26m2-96v18m5-35v15m0 2v15m0 55v17m1-87v18m1 17v35m0 17v6m1-93v18m0 17v17m0 18v23m1-41v33m1-102v17m0 18v17m1 0v32m2-67v18m1-35v15m0 20v17m1-35v35m2 0v17m2-69v17m0 52v11m1-80v17m0 18v17m1-17v17m1-52v17m2-17v17m0 18v17m1-35v18m1 17v15m1-32v15m0 2v17m2-50v33m2-52v17m1 35v13m1-43v13m1-18v18m5 0v17m3-35v15m6-15v15m0 3v13m4-31v18m1-35v17m1 0v18m2-16v16m1-35v17m0 35v17m2-32v15m3-17v17m2-50v15m1-17v17m0 18v15m3-33v50m1-67v35m0 17v13m1-13v17m1-69v17m1 0v18m0 17v35m2-87v17m0 87v6m1-75v17m1-52v17m0 52v11m1-80v17m0 35v17m1-34v34m1-69v17m1-17v17m2-17v17m2 52v18m1-87v17m0 18v17m2 17v13m3-65v18m0 17v6m1-58v17m0 18v28m1-63v17m0 18v17m1-52v17m2-17v17m1 18v17m2-52v52m1-52v17m1-17v17m0 35v15m1-67v35m1-18v18m1-35v80m1-80v17m1-17v17m0 35v17m1-52v67m1-15v15m2-32v17m1-69v17m1-17v69m1-69v87m1-87v17m1-17v17m0 35v48m2-100v17m0 18v52m1-70v18m0 34v18m1-87v35m0 17v17m0 2v16m1-87v17m0 18v17m0 2v15m1-69v35m0 17v17m1-69v17m0 35v35m1-87v17m0 52v18m1-87v15m0 37v17m1-69v15m0 20v32m1-67v17m1 0v18m1 17v17m2-17v17m1-17v17m1-69v17m0 18v17m1-52v17m0 35v17m1-52v18m1 17v17m2-69v17m0 2v16m1-18v18m0 17v17m1-69v17m0 18v17m0 35v8m1-95v35m1-35v15m1-15v15m0 37v32m1-67v52m1-69v52m1-35v35m0 2v28m1-82v69m1-34v17m1-52v15m1 2v52m1-34v17m1 17v9m1-78v17m0 35v26m1-43v17m1-35v18m1-35v17m0 18v28m1-28v17m1-35v18m0 17v17m1-52v15m0 3v17m1-35v33m0 2v35m1-87v69m0 18v13m1-65v15m1 2v17m1-52v35m1-52v17m0 18v52m1-87v35m1-35v35m0 17v15m1-50v18m2 17v15m1-15v11m1-63v17m0 18v17m1-17v17m0 17v18m1-18v15m1-49v49m2-84v17m0 35v15m1-67v17m1 52v7m1-76v69m1-67v15m1-17v17m1 0v18m1-18v15m0 20v17m1-69v17m0 35v35m1-16v16m1-87v17m0 20v15m1-52v17m0 2v16m0 17v17m1 0v9m1-61v18m2-18v35m1-50v59m1-26v17m2-35v15m0 3v17m1-52v17m1-17v35m0 17v35m1-87v17m1 0v18m1-35v17m0 18v17m0 17v15m1-67v18m2-35v87m1-87v15m0 2v18m0 17v17m2-69v50m0 19v15m1-84v52m1-52v17m0 18v17m1-52v17m1 18v17m1-33v50m1-52v50m0 2v9m1-26v17m1-17v17m1-50v16m0 19v15m1-52v18m0 34v7m1-41v17m1-52v17m1-17v35m1-35v15m0 2v35m1-52v17m0 18v17m2 0v15m1-67v15m0 20v17m1-35v35m1-52v17m1-17v35m0 17v17m1-69v17m2-15v33m2-18v35m1-17v34m1-69v17m0 35v17m1-69v13m0 4v48m1-65v17m0 18v34m1-17v17m1-69v32m0 3v17m1-35v18m1-18v33m1-33v18m0 17v17m1-17v9m1-26v34m3-52v35m1-35v18m0 17v15m1-48v33m1-52v15m0 20v32m1-50v18m1 0v17m2-35v18m0 52v17m1-52v17m1-52v33m1-33v18m1 17v17m1-32v15m1-52v17m0 20v15m1-52v17m0 2v50m1-67v15m1 2v16m0 2v15m1-33v31m1-48v15m1 0v18m1-18v15m0 20v17m1-69v35m1-35v17m0 18v17m0 2v13m1 2v9m1-26v13m1 4v7m5-59v18m1-35v17m3 18v15m1-31v16m5 0v17m2 0v6m8-39v16m10-13v13m11-33v13m13 22v15m29 0v9m6 13v13m9-85v15m4 35v15m2-45v13m30-18v18m16-18v11m2-26v15m9-17v13m12 6v16m18-35v17m14 0v18m15-35v17m0 35v9m20-26v8m4-8v17m2-35v18m2-18v18"/><path stroke="#f50" d="M29 4v13m65-15v7m34-5v13m51-17v17m13-15v13m46-13v13m39-13v15m28-17v15m4-11v13m28-15v15m50-17v17m34-17v17m7-17v17m1-17v15m6-15v17m17-17v17m1-17v17m3-17v17m3-17v17m1-17v17m2-17v17m3 35v11m3-63v17m5-17v17m1-17v17m4-17v17m1-17v17m0 35v17m14-69v17m1-17v17m5-17v17m4-17v17m5-17v17m2-17v17m1-17v17m1-17v17m1-17v17m4-17v17m1-17v35m2-35v35m2-35v17m1-17v17m1-17v35m2-35v17m1-17v17m1-17v17m1-17v17m3-17v17m2-17v17m3-17v17m1-17v17m1-17v17m3-17v17m1-17v17m4-17v17m1-17v17m1-17v15m1 2v18m1-35v35m1-18v18m1-35v35m1-35v17m2-17v17m0 35v17m1-69v35m1-35v35m0 36v9m1-80v35m2-35v17m1 0v18m2-35v35m2-35v17m1-17v17m2 0v18m0 54v6m2-78v18m3-35v17m1-17v17m2-17v17m2-17v17m1-17v17m5 0v18m1-35v17m0 70v6m3-93v35m1-18v18m1-35v17m1-17v17m2-17v17m1-17v17m1 57v13m1-87v35m0 34v18m1-87v17m3 0v18m1-35v35m1-35v17m1 0v18m2-18v18m2 17v17m1-69v35m1-18v18m2-35v17m1-17v17m2-17v17m1-17v35m1 52v8m1-26v18m1-87v17m0 72v8m2-97v35m1-18v18m1-35v17m1-17v35m1-18v18m1-35v17m1-17v17m1-17v35m1-35v35m2-35v17m2 0v18m1-18v18m1-35v35m1-35v17m0 52v18m1-70v18m1-35v35m0 17v17m2-69v17m0 70v17m2-104v35m2-35v17m1-15v15m1 0v18m1-35v35m1-18v18m2-35v35m1-18v18m2-35v17m1-17v35m1-35v35m1-35v35m1-35v17m1-17v35m1-35v35m1-35v35m2-35v17m2 57v13m2-87v17m1-17v17m1-17v17m2-17v17m1-17v35m1-35v17m1-17v35m1-35v35m1-18v18m1-35v17m1 0v18m3-35v17m2 0v18m1-35v17m2-17v15m2-15v17m1-17v35m2-18v18m1-35v35m1-35v17m1-17v35m2-35v35m3-35v17m1-17v35m1-35v17m0 70v10m3-97v35m0 17v35m1-87v17m1-17v17m1 0v18m2-18v18m1-35v17m1-17v17m0 35v17m1-69v17m1-17v35m1-35v17m2-17v35m0 52v8m1-78v18m1-35v35m1-33v15m1-17v35m2-35v17m1 0v18m2-18v18m1-35v35m1-35v35m1-35v52m2-52v17m1-17v35m1-35v35m1-35v35m1-18v18m1-18v18m1-18v18m3-35v52m2-52v17m1-17v52m2-17v17m1-52v52m2-52v35m1-35v17m0 18v17m1-52v17m1-17v35m1-35v17m1-17v17m1 0v35m1-35v18m1-18v35m1-52v17m0 18v17m0 35v15m2-85v18m1-18v35m0 35v10m1-97v35m0 34v24m1-93v17m1-17v17m1-17v52m1-52v35m1-18v35m1-52v17m0 18v17m2-35v18m3-35v17m0 18v17m2-35v35m1-52v35m1-35v17m0 18v17m1-52v17m1 0v35m2-52v52m1-35v35m1-35v18m2-35v17m1 18v17m1-52v17m1-17v17m1 18v17m1-52v17m2 0v18m1-35v17m1 18v34m1-69v52m2-52v17m0 18v34m2-52v18m1-35v35m0 17v17m1-34v17m1-35v35m1-35v18m1-35v35m1-18v35m2-52v52m1-35v35m1-52v35m0 17v17m1-34v17m1-52v69m1-69v17m1 0v18m1 0v17m1-35v35m1-52v35m1-35v17m1-17v52m1-52v35m1 0v17m1-35v35m1-35v35m1-52v35m1-35v35m1-18v35m2-52v35m0 17v17m1-52v35m1-52v17m0 35v17m1-34v34m1-52v18m1-35v35m1-35v35m1-35v52m1-52v35m1-35v52m1-52v35m1-18v35m1-52v17m1-17v69m1-52v35m1-52v17m0 18v17m1-52v69m0 18v10m2-97v35m1-18v18m1-18v52m1-52v35m1-52v35m0 17v17m1-69v17m1 0v18m1-35v17m0 35v17m1-69v35m1-35v17m0 35v17m1-69v35m0 17v17m1-34v17m3-17v17m1-35v18m1 0v17m0 17v18m1-87v52m1-52v35m1-18v35m1-35v18m0 17v17m1-34v34m1-69v52m2-35v18m1-18v35m2-35v35m1 0v17m1-69v52m1-52v17m1-17v52m1-35v35m1-17v17m1-52v52m1-52v52m1-35v18m0 17v17m1-69v17m0 18v17m1-52v17m0 18v17m1-35v18m1-35v35m0 17v17m1-69v17m0 35v17m1-17v17m2-34v17m1-52v17m1-17v17m1-17v17m0 18v17m1-35v52m1-52v35m1-52v17m0 18v34m2-69v17m0 18v17m1-52v17m0 18v17m1-52v69m3-34v17m1-52v52m1-52v35m1-35v17m0 18v34m1-52v35m1-52v17m0 18v17m1-50v33m0 17v17m1-52v52m0 18v15m2-102v52m1-52v17m0 18v34m1-69v17m0 18v17m1-17v34m1-69v17m0 18v34m2-52v18m0 17v17m1-52v52m1-69v35m1-35v35m1-18v52m1-69v35m0 17v17m1-34v17m1-35v52m1-69v17m0 18v17m1-35v35m1-52v17m0 18v17m1-52v35m0 17v17m2-34v17m1-17v17m1-52v17m0 18v17m1-52v17m0 18v34m1-52v52m1-69v69m1-34v17m1-52v17m1 0v18m1-18v52m1-52v18m1-35v50m1-50v17m0 35v17m1-69v17m1-17v52m1-17v34m1-52v35m1-35v35m1-17v17m1-52v52m1-52v35m1 0v17m1-52v17m1 0v52m0 18v13m1-100v17m0 35v17m1-34v34m1-69v17m0 35v17m1-17v17m1-52v35m1-17v34m1-69v17m0 18v17m1-35v52m1-69v35m0 17v17m1-69v17m0 35v17m1-34v34m0 18v15m1-67v34m1-34v34m1-69v35m0 17v15m0 2v18m1-87v69m0 18v8m1-43v17m1-34v34m1-34v17m0 17v18m1-87v52m0 35v6m1-76v18m1-35v17m0 35v32m2-84v35m0 17v17m1-69v35m0 17v17m1-52v52m1-69v35m1-35v17m0 2v33m1-35v52m1-52v52m1-69v17m0 18v52m1-70v18m0 17v17m1-69v17m0 35v35m1-87v69m1-69v17m1 0v35m1-52v35m0 17v17m1-52v35m0 17v9m1-78v17m0 18v17m1 0v26m1-78v35m0 17v17m1-69v17m0 18v17m1-17v30m1-65v69m1-69v17m0 18v17m1 17v50m1-119v69m1-69v17m0 18v45m1-63v65m1-82v35m0 17v17m1-69v35m0 52v8m1-95v52m0 17v18m1-70v52m1-50v50m1-69v35m0 17v26m1-78v17m0 18v17m1-52v80m1-80v52m1-52v87m1-70v35m1-35v52m1-52v35m1-52v52m0 17v15m1-49v17m1-52v35m1-18v35m1-52v35m0 17v17m1-52v18m0 17v17m1-69v17m0 18v17m1-35v18m1-35v17m0 35v26m1-78v63m1-63v17m1-17v52m1-52v69m1-69v69m1-52v52m1 0v15m1-84v69m1-69v35m0 34v13m1-47v49m1-49v17m0 17v18m1-87v35m0 17v32m1-84v69m1-17v17m1-34v34m1-52v35m0 17v7m1-76v17m0 35v17m1-52v18m0 17v32m1-84v35m0 17v35m1-70v35m0 17v18m1-87v69m0 18v8m1-60v34m1-69v17m0 18v17m1-35v18m1 0v34m1-69v69m1-69v35m1-35v17m0 35v26m1-43v17m0 17v7m1-76v35m0 17v17m1-69v17m1-17v17m0 35v17m0 2v7m1-61v52m1-52v18m0 17v17m1-52v52m1-69v69m1-34v34m1-52v18m0 17v35m1-87v35m0 34v26m1-60v17m0 17v18m1-70v18m0 17v35m1-87v17m0 18v34m1-52v52m1-69v52m1-52v17m0 52v18m1-87v17m0 35v17m0 18v8m1-95v52m0 17v31m1-100v52m0 35v10m1-97v52m0 17v18m1-70v18m0 17v50m1-102v35m0 17v35m1-87v52m1 17v18m1-18v18m1-87v17m0 18v52m1-87v35m0 17v17m1-34v34m0 18v28m2-63v17m3-17v17m1-17v32m2-49v17m0 17v11m1-45v41m1-76v17m0 18v34m1-69v52m1-52v69m1-69v17m0 18v43m1-61v35m1-35v52m1-69v35m0 17v17m1-69v52m1-52v17m0 18v34m1-17v17m1-52v35m1-52v52m1-35v18m0 17v17m1-69v35m1-18v18m1-35v35m0 17v17m1-69v17m0 18v17m1-35v18m0 17v17m2-52v18m0 17v17m1-69v17m1 35v17m1-69v17m0 18v17m1-17v17m1-17v17m1-52v35m1-18v35m1-35v18m1-35v17m0 18v17m1-17v17m1-52v69m1-34v34m1-69v87m1-87v52m1-35v70m1-87v35m0 34v18m1-35v35m1-87v35m0 17v35m1-70v70m1-70v52m1-69v52m0 17v15m1-84v35m0 17v17m1-52v35m0 17v18m1-70v18m0 17v35m1-87v52m0 17v18m1-87v69m1-69v17m0 35v17m1-34v34m1-69v35m0 17v28m1-63v18m1-35v76m1-76v52m1-52v87m1-87v17m0 35v17m1-69v17m0 18v17m1-52v17m0 18v47m1-47v34m1-69v35m1-18v18m1-18v18m1-35v35m1-18v18m1-18v52m1-52v52m1 0v15m1-67v35m1-52v35m0 17v17m1-69v17m0 52v35m1-35v18m1-87v69m0 18v17m1-104v52m0 17v18m2-87v17m1-17v17m1-17v52m1-35v18m0 17v35m1-87v17m0 35v17m0 18v15m1-67v17m0 35v8m1-60v52m1-87v113m1-113v17m0 18v17m0 35v15m1-102v35m0 52v26m1-113v52m0 35v17m1-104v69m1-69v17m0 52v18m1-87v52m1-35v52m1-52v52m1-69v17m0 35v17m1-69v84m1-84v17m0 35v17m1-52v18m0 17v28m1-63v35m0 17v15m1-84v35m0 34v11m1-45v17m0 17v15m1-84v35m0 17v17m1-69v52m1-52v17m0 35v17m1-52v50m1-67v52m0 17v18m1-35v35m2-35v17m21-69v17m2 18v34m1-17v35m1-70v35m1-52v52m1-52v87m1-70v70m1-87v17m0 35v17m0 35v17m1-104v70m1-87v52m0 17v18m1-70v18m1-35v17m0 18v67m1-85v65m1-82v52m1-52v17m0 18v34m0 18v6m1-76v52m0 18v13m1-100v17m0 18v34m1-69v52m0 17v18m1-52v34m0 18v13m1-83v35m0 17v35m1-104v35m0 34v35m1-104v17m0 35v52m1-104v104m1-104v35m0 17v35m1-87v35m0 17v35m1-87v17m0 18v60m1-60v17m0 17v18m1-70v35m0 17v18m1-87v17m0 18v17m0 17v31m1-100v17m0 18v17m0 17v15m1-84v35m0 2v15m0 17v35m1-104v69m0 18v17m1-87v18m1-35v17m0 18v34m1-69v52m0 17v11m1-80v17m0 18v34m1-52v67m1-84v17m0 18v17m1-17v60m1-95v52m0 35v10m1-97v35m0 17v41m1-93v87m1-87v17m0 18v34m1-52v52m1-34v17m0 17v18m1-87v69m1-52v35m1-52v87m1-87v17m0 18v34m0 18v13m1-100v69m1-52v35m0 17v35m1-52v17m0 18v17m1-69v17m0 17v18m1-52v34m0 18v10m1-80v18m0 17v35m1-18v15m1-67v52m1-69v52m1-52v52m0 17v13m1-82v17m0 18v65m1-65v17m1-52v69m1-34v34m0 18v17m1-104v17m0 18v17m0 17v35m1-87v70m1-70v87m1-87v35m1-52v35m0 17v45m1-97v35m0 34v9m1-61v52m1-69v69m1-69v87m1-87v102m1-85v52m1-69v52m1-35v35m0 17v26m1-78v85m1-85v35m1-52v104m1-104v35m0 17v35m1-70v52m1-69v52m0 17v15m1-84v87m1-87v35m0 17v41m1-93v17m0 18v45m1-63v18m0 34v18m1-70v18m0 17v45m1-97v17m0 18v52m1-87v17m0 35v35m1-70v18m0 17v35m1-70v35m0 17v18m1-70v18m1-18v52m1-69v17m0 18v52m1-87v17m0 18v45m1-63v18m1-35v17m0 18v34m1-69v52m1-52v52m1-52v69m1-69v35m0 17v32m1-67v67m1-84v17m0 18v52m1-87v35m0 52v15m1-50v35m1-87v35m0 34v18m1-87v35m0 34v18m0 17v13m1-82v17m0 17v18m0 17v9m1-113v52m0 17v33m1-102v69m1 0v35m1-104v69m1-69v17m0 35v35m1-70v70m1-87v35m0 17v35m1-35v52m1-87v18m0 17v35m1-87v17m0 35v17m0 18v17m1-69v34m1-69v87m1-70v52m1-69v87m1-70v18m0 17v35m1-35v17m1-52v52m1-52v18m0 17v17m0 2v16m1-52v62m1-80v35m0 35v17m1-104v17m0 18v52m1-52v17m0 35v6m1-93v52m1-35v52m1-69v17m0 18v34m1 0v18m1-87v17m0 18v67m1-85v70m1-35v17m0 18v13m1-48v17m0 18v13m1-100v17m0 35v69m1-86v34m1-69v87m1-87v17m0 18v52m1-70v35m0 17v24m1-76v35m1-17v17m0 17v15m1-84v35m0 17v52m1-104v17m0 18v49m1-67v35m0 17v18m1-87v52m0 17v26m1-78v18m1-35v17m0 18v17m0 17v18m2-87v52m1-52v17m0 18v17m0 17v15m1-84v17m0 52v15m1-84v82m1-30v17m1-52v18m1 0v17m0 17v18m1-52v17m0 17v33m1-102v87m1-52v17m0 17v46m1-115v17m0 18v34m0 2v29m1-100v102m1-102v17m0 35v17m1-69v52m1-52v69m0 18v26m1-113v17m0 35v35m1-87v69m0 18v17m1-87v18m1-18v52m0 18v8m1-95v17m0 52v15m1-32v17m1-69v35m0 17v17m0 2v16m1-87v52m0 17v18m1-87v87m1-87v87m1-87v52m1-35v35m0 17v18m1-70v18m0 17v50m1-85v18m0 34v18m1-70v52m1-52v70m1-18v15m1-49v49m1-49v17m0 17v35m1-87v70m1-70v70m1-35v35m1-87v17m0 18v34m1-69v69m1-69v35m0 17v35m1-87v35m0 17v35m1-87v17m0 35v35m1-87v17m0 2v76m1-95v17m0 18v65m1-83v35m0 17v33m1-102v52m0 17v18m1-87v97m1-97v35m0 17v50m1-102v17m0 52v18m1-87v17m1-17v35m0 34v33m1-102v35m0 17v17m1-52v35m1-52v17m0 18v67m1-102v87m1-87v17m0 18v52m1-87v52m0 17v18m1-70v35m0 17v33m1-50v35m1-87v17m0 2v85m1-87v87m1-52v35m1-87v84m1-67v18m0 34v15m1-84v17m0 52v11m1-80v17m0 18v17m0 17v15m1-32v17m1-52v18m0 34v28m1-97v17m0 70v17m1-52v17m1-69v17m0 18v65m1-83v35m0 17v26m1-78v70m1-52v52m1-87v17m1-17v35m0 34v18m2-70v87m1-104v35m0 17v35m1-87v17m0 52v18m1-87v52m0 17v33m1-102v35m0 34v52m1-121v17m0 18v17m0 17v35m1-104v35m0 17v17m1-69v87m1-87v35m0 17v15m0 2v31m1-100v17m0 18v69m1-69v17m0 35v17m1-104v17m0 18v52m1-87v17m0 35v17m1-69v69m1-69v35m0 17v17m1-69v17m0 18v17m0 17v18m1-87v35m0 17v32m1-15v15m1-32v17m1-69v87m1-87v17m0 35v50m1-102v69m0 18v34m1-104v52m0 18v17m1-104v87m0 17v15m1-119v35m0 17v67m1-102v70m1-87v17m0 18v17m1-52v17m0 18v69m1-104v17m0 18v78m1-61v35m1-35v35m1-70v52m0 18v13m1-83v18m0 17v17m1-52v18m0 34v33m1-102v35m0 17v35m1-87v17m0 35v52m1-69v34m0 18v15m1-85v18m0 52v6m1-76v70m1-70v18m1 52v17m1-69v17m0 17v18m0 17v15m1-119v35m0 17v63m1-98v18m0 17v35m1-68v65m1-49v17m1-52v69m1-69v17m0 18v17m0 19v33m2-104v35m2 0v17m0 17v18m1-87v35m2-33v15m1 0v18m0 17v15m1-65v15m0 35v17m1-69v32m0 20v17m1-69v52m1-52v17m0 35v17m1-34v34m1-52v18m0 17v32m2-84v52m1-52v17m0 18v49m1-32v35m1-52v52m1-18v18m1-87v17m0 35v17m1-52v33m0 2v35m1-52v15m0 2v17m1-52v18m0 34v18m1-70v18m0 17v35m1-85v15m0 18v45m1-80v35m0 17v35m1-70v18m0 17v17m0 18v6m2-58v15m0 2v17m1-69v69m1-52v35m0 19v16m1-52v15m0 19v18m1-70v35m0 17v9m1-78v17m0 18v32m1-50v35m1-17v17m1-17v17m1-52v15m0 2v35m1-35v18m1 0v17m2-52v17m0 18v15m0 19v15m1-32v17m1-52v18m0 2v15m0 17v11m1-45v17m1 19v16m1-52v34m1-17v35m1-52v17m1-17v34m1-69v17m0 35v17m1-69v17m2 0v35m0 17v15m1-49v17m1-17v34m0 18v6m1-93v17m0 18v32m1-67v17m0 35v35m1-70v15m0 42v13m1-70v18m0 17v17m0 18v8m1-60v52m1-85v15m0 52v13m1-82v52m0 17v11m1-61v16m0 17v17m1-69v35m0 17v17m1-52v15m0 3v52m1-35v17m1-69v35m1-18v65m1-65v35m0 17v15m1-84v17m0 35v17m1-69v17m0 52v18m1-70v35m1-52v17m0 18v34m1-52v18m1 2v32m1-69v35m1-18v18m1-35v17m0 18v17m3-35v18m0 34v13m1-82v17m0 35v17m1-52v35m1-52v17m0 18v34m1-50v16m0 17v17m1-34v34m1-69v17m0 35v32m1-67v18m0 17v35m2-85v15m0 52v18m1-50v15m0 17v15m1-82v15m0 18v15m0 37v15m1-85v33m0 19v18m1-70v35m0 17v13m1-65v65m1-65v35m1-35v15m1-32v35m0 17v17m1-69v17m0 18v65m1-83v52m1-17v17m1-69v17m0 2v50m1-52v52m1-34v34m1-69v35m0 17v28m2-80v17m1 18v17m0 2v15m1-69v35m0 17v17m1-52v44m1-26v17m1-52v52m1-52v52m1-35v18m0 17v17m1-69v84m1-32v28m1-80v17m1 0v52m1-69v17m1-17v17m0 18v43m1-78v32m0 3v34m0 2v16m1-52v15m0 2v17m1-69v52m1-52v17m0 18v17m0 17v33m1-102v17m0 18v17m1-35v52m0 18v15m1-102v69m0 18v17m1-104v17m0 18v34m1-69v17m0 18v17m1-52v17m0 54v13m1-67v52m1-69v35m0 34v31m1-65v52m7-52v17m0 2v33m1-18v35m1-104v35m1 0v17m0 17v18m3-70v35m1-52v87m1-87v17m0 18v52m1-70v18m0 17v35m1-87v17m0 52v18m1-87v17m0 18v34m0 2v16m1-70v35m0 17v15m1-84v17m0 18v17m0 2v30m1-67v18m0 2v32m1-52v18m0 17v15m0 2v18m1-70v18m0 17v17m2-34v17m1-35v18m1 0v17m1-48v13m3-17v17m0 35v15m1-67v17m1 22v30m1-52v18m2 0v17m1-35v18m3 2v13m1-50v17m1-17v17m0 35v32m1-84v35m3-18v18m0 2v15m1-52v15m0 2v18m2 0v17m1-50v15m1 0v18m1-18v18m1-16v13m1 3v8m1-26v18m2-35v17m0 18v17m1-52v17m0 20v32m2-69v17m0 18v17m0 17v9m1-61v18m0 17v17m1-69v52m1-35v61m2-78v35m0 17v17m1-17v17m1-52v18m1 19v7m1-61v32m0 3v34m2-34v15m1-50v17m0 18v17m1-35v67m1-49v17m1-52v17m0 35v17m1-52v87m1-104v35m0 17v17m1-52v18m0 2v32m1-34v17m1-52v17m1 0v18m0 17v17m2-69v35m0 34v13m1-65v52m1-69v15m1-15v35m0 52v10m1-80v18m0 17v35m1-87v69m1-52v52m1-69v17m0 18v17m2-17v15m1-33v18m1-18v18m0 17v15m0 2v18m1-52v34m1-52v52m1-34v34m1-52v18m1-33v33m0 17v17m1-17v17m1-34v17m1-35v35m1-17v17m1-52v17m0 18v34m2-52v52m1-52v35m0 17v18m2-70v18m0 17v17m1-34v17m1-35v35m1-35v70m3-70v18m1-18v35m1-52v17m0 18v15m0 2v35m1-70v18m1-35v17m0 18v17m1-15v15m0 35v17m2-69v17m0 17v15m1-67v33m1-33v18m1 0v17m0 17v18m2-70v18m0 17v17m1-69v17m0 20v15m1-52v17m0 18v17m0 17v9m1-76v67m1-69v17m0 18v17m2-35v18m0 17v17m2-17v17m1-69v52m1-52v52m0 19v16m1-52v60m1-93v15m0 18v17m0 17v18m1-70v18m0 34v18m1-52v17m0 17v50m1-102v18m0 19v28m1-65v35m1 17v15m1-15v9m3-61v18m1-18v52m2-52v18m0 34v18m2-70v18m1-35v35m0 17v17m2-52v18m5 34v18m1-87v35m0 17v32m1-84v35m0 34v18m1-87v17m1 0v15m1 20v17m2-69v17m0 18v30m1-65v35m0 17v17m1-69v52m1-52v52m3-17v15m2-50v69m1-50v16m0 2v15m1-35v35m1-35v18m0 17v17m2-52v35m1-33v48m1-67v17m0 18v34m1-69v17m0 18v17m0 17v13m1-65v18m1-35v69m3-69v17m0 18v34m1-69v15m0 20v34m1-34v32m1-67v17m0 35v17m2-67v15m0 35v9m1-59v33m1-35v17m1 2v33m1-17v17m1-35v52m1-69v17m1 0v18m0 17v17m6-15v15m3-52v18m0 17v15m0 2v15m4-84v35m1 0v17m0 17v11m1-80v17m0 54v13m1-84v15m1-15v35m1-18v35m3-33v16m1-18v35m2-35v18m0 17v17m1-69v17m0 37v15m1-52v18m1 0v17m0 17v9m1-61v18m0 17v26m1-43v17m2-15v15m6 17v9m7-61v18m2-35v17m1 20v15m4-33v16m1-35v87m4-18v15m4-13v7m2-78v17m2 35v15m5-65v15m0 35v17m13-34v15m18-33v18m3-35v17m7 0v18m9 2v15m21-17v6m32 11v9m3-61v17m2 37v7m27-7v7m3-44v18m12 17v15m87-32v10m1-28v15"/><path stroke="#ff2f00" d="M72 71v7m73-61v11m28 7v8m12-26v15m4-30v15m19-13v13m49-15v13m88 22v6m118-43v17m3-17v17m6-17v17m4-17v17m9 104v9m3-130v17m9-17v17m4-17v17m12 89v7m22-113v17m10-17v17m2 0v18m16 69v6m5-110v17m2-17v17m2-17v17m1-17v17m3 0v18m3-18v18m3-35v17m3-17v17m15-17v17m3 0v18m2-18v18m2-35v35m4-35v17m3-17v17m0 70v10m3-97v17m1-17v17m2 0v18m0 17v15m5 20v17m7-104v35m0 34v15m1-84v17m3 0v18m1-35v17m2-17v35m2-35v35m2-35v35m6-35v17m14-17v17m1 0v18m3-18v18m2-18v18m0 52v8m10-95v17m6 0v18m1-35v35m0 52v6m1-76v18m3-35v17m4 0v18m3-35v35m0 34v18m1-70v18m3-35v35m5-35v17m1-17v17m1-17v17m3 0v18m2-18v18m1-35v35m4-18v15m10 55v6m7-93v17m0 87v6m4-93v18m0 34v13m4-65v18m5-18v18m5 0v17m1-52v15m1 2v18m1-18v18m1 0v17m4-35v35m4-35v18m1-35v17m0 18v17m2-35v18m1-18v18m2-18v35m1-52v17m5-17v17m0 18v17m4-52v52m1-35v18m2-18v18m3-18v18m1-18v35m1-52v17m0 18v17m1-35v35m1-52v17m2-17v52m2-35v35m0 35v6m2-58v17m1-52v35m1-35v17m1 18v17m3-52v17m0 18v17m4-52v17m5-17v17m13 35v17m2-69v35m1 0v17m1-17v17m9 0v17m1 18v15m2-102v52m2-17v17m3-17v17m2-52v17m0 18v17m1-35v35m1-17v17m2-17v17m1-52v35m1-35v52m1-52v35m1-18v18m5-35v17m9-17v17m0 18v17m2-35v52m0 18v15m3-102v35m1 52v15m2-102v17m0 18v17m1-35v18m1-18v18m1-35v17m0 18v34m1-34v17m1-35v35m1-52v52m1-52v35m0 2v15m1-52v35m1-18v35m1-35v35m1-35v18m1-35v17m2 0v18m1-35v52m1-35v18m0 17v17m3-69v52m1-52v52m1-52v35m0 17v17m1-17v17m1-34v17m10-52v17m2-17v52m0 35v17m3-69v17m3-17v17m5-35v18m1 0v17m2-35v18m2-18v18m4-35v35m1-18v35m1-17v17m4-17v17m1 0v17m2-52v18m1-35v17m6 0v35m2-35v35m2-17v17m1-52v52m1-52v17m1 0v18m1-18v18m2 0v17m3-35v18m2 0v17m3-52v35m1 17v17m5-34v17m3-17v17m1 0v17m6 20v6m5-78v18m2 0v17m4-35v18m0 17v15m1-32v34m1 0v18m1-70v18m3 0v52m1-35v17m4 0v9m2-26v17m4-69v17m2 0v18m0 34v13m1-47v17m2-17v17m1-52v17m0 18v17m1 0v17m1-69v17m0 18v43m6-9v11m7-45v17m5-35v18m5-18v18m0 34v15m1-32v17m1-17v17m2 0v18m2-52v17m1-35v18m0 17v17m1 0v13m2-47v17m7-17v17m3-35v18m1-35v17m2 0v52m1-52v35m1 2v15m2-17v17m0 18v6m2-58v17m3-35v18m13-18v18m4-35v17m5 18v17m8-17v17m1-52v52m0 17v18m1-87v17m0 18v17m1-17v17m6-52v17m3 0v18m17-18v18m1-18v18m6-18v35m0 17v13m1-65v18m2 34v15m2-84v17m0 18v47m1-47v17m1-17v17m1-52v17m0 18v17m3-52v69m1-69v17m0 35v17m1-34v17m0 17v18m1-70v52m1-69v69m2-17v17m1-69v69m1-52v52m1-52v35m1 0v17m16-34v17m0 17v15m2-84v17m3 18v17m0 17v11m3-80v17m33 0v35m4-35v18m2 17v17m4-17v17m3-34v17m4-17v17m0 35v15m5-85v18m0 17v17m1-17v17m2-34v34m1-52v18m4-18v18m0 17v35m1-87v15m0 2v18m1 34v18m5-70v18m1 34v18m1-87v17m0 35v17m0 18v8m3-26v33m1-102v17m0 35v17m0 35v17m1-52v18m1-87v35m0 17v17m0 18v10m1-80v18m1 0v17m1-35v52m2-17v17m3-69v35m0 17v17m1 0v18m2-70v18m10 34v15m1-32v45m3-45v17m2-34v17m18 0v17m1-17v24m5-24v17m4-17v17m3-17v17m1 0v18m1-70v18m1-35v17m2 0v35m1-52v17m0 18v17m1-17v17m0 17v18m1 0v13m2-13v10m14-80v18m1-35v17m0 70v15m4-102v17m2 0v18m1-35v17m0 35v17m1-17v17m1-52v18m2-18v18m1-35v17m1 35v17m1-34v69m1-52v17m0 18v13m1-83v70m1-35v17m1-52v18m1-18v52m8-52v18m2-18v35m0 17v18m1-35v17m1 0v18m1-70v18m2-35v17m0 18v34m0 18v17m1-35v18m1-70v52m1-34v17m1-17v17m3 35v8m1-43v35m1-35v17m3-69v17m0 52v18m7-70v35m0 35v17m1-87v18m0 34v31m2-65v17m1 35v15m9-85v18m3 34v18m5-87v17m0 35v17m4-52v35m4 0v17m1 0v18m1-35v17m1-52v18m0 17v17m1-69v52m0 17v41m1-93v18m2 52v8m1-95v35m1-18v50m0 2v18m2-87v102m2-67v17m0 35v15m1-85v52m0 18v17m2-69v34m1-17v17m1 0v18m1 0v15m7-67v17m0 17v18m1-35v17m2-69v17m1-17v17m0 18v17m4 52v11m30-63v17m5-34v17m1 17v15m2-67v18m1-35v17m0 18v17m1-50v13m0 37v35m1-18v18m1-70v18m2-18v18m0 52v17m1-87v52m1-52v18m0 34v26m1-95v17m1 0v18m5 34v18m5-70v18m4-35v17m0 2v16m0 17v17m1-17v15m15-15v17m5-52v18m4-35v17m3 18v17m4-17v45m1-80v17m2 52v18m1-70v15m0 20v15m2-50v18m2-35v17m0 52v9m2-43v17m10-17v17m10-17v17m7-35v15m1 3v17m1-52v32m2-32v35m0 34v15m8-84v17m0 2v16m1 0v34m3-52v18m2-18v18m3-18v18m0 34v35m2-35v18m1-70v18m0 34v18m1-70v18m0 17v17m0 18v17m1-69v15m0 2v17m0 18v10m22-97v17m5 0v50m1-15v17m20-34v15m9-50v17m2-17v17m1 35v11m6-63v17m12 52v18m2-18v11m3-63v18m1 0v17m2-17v17m1 17v9m1-43v17m0 2v15m1-34v34m3-69v17m6 0v18m22-18v18m72-18v18m29 17v11m8 6v15m12-49v17m13-17v17m31-17v15m15-13v15m233 0v6"/><path stroke="#f30900" d="M56 2v15m168 18v10m97-10v10m35-28v13m81 41v7m20 11v6m25-8v15m110-50v17m31 18v15m47-15v8m281-6v6m86-6v6m140 26v11m206-45v6m320-4v6m17 26v7m186-57v7m94-78v17m15 18v8"/><path stroke="#c50000" d="M170 87v6m41-91v15m135 20v6m207 63v7m24-26v10m114-28v15m203 3v17m69 0v9m425-7v7m177-7v7m304-24v6m45-43v17m43-17v6m150-21v15"/><path stroke="#970000" d="M785 87v15m1300-80v13"/><path stroke="#800000" d="M1953 17v15m200 20v9"/><path stroke="#0061ff" d="M332 15v2m861 93v3m1 15v2m6 13v4"/><path stroke="#008aff" d="M123 9v2m62 0v2m13 0v2m134-2v2m557 35v2m300 97v3m2-42v3m0 2v2m1 9v2m1-13v4m0 4v3m2 6v2m0 5v2m2 8v3m1-5v2m1 3v2m1-13v2m312-119v2"/><path stroke="#00b2ff" d="M114 2v2m9 0v5m62 0v2m139 11v2m32 4v2m835 130v2m1-151v2m0 100v2m2-52v2m0 61v2m0 2v2m0 15v2m1-13v3m1-3v5m1 0v2m1 6v3m0 2v2m0 13v2m1-24v2m0 5v2m1-2v2m1 0v2m2-156v2m0 57v2m0 91v2m4-56v2"/><path stroke="#00dbff" d="M18 48v2m93 26v2m46-20v3m26-48v2m702 56v3m24-57v2m74 24v2m64 24v2m62 139v4m80-75v4m0 26v2m1-9v3m1-107v3m0 32v2m1-24v3m0 4v2m0 22v2m0 13v2m1-56v8m0 50v2m1-88v2m0 2v4m0 26v7m0 15v2m0 2v2m0 16v2m0 4v2m0 13v2m1-132v5m0 71v2m1 5v4m0 50v2m2-126v2m1 31v2m0 15v2m1 65v2m1-119v2m0 50v2m1-71v2m0 74v2m1-78v2m0 2v2m0 5v2m0 9v2m0 6v9m0 4v2m0 24v2m0 5v2m0 56v2m4-86v4m0 13v2m0 35v2m0 24v2m1-132v2m0 46v2m0 63v4m1-78v2m0 13v2m1 20v2m638-78v2"/><path stroke="#19ffde" d="M17 39v4m12-34v2m102-7v5m3-7v2m10 2v3m20 21v2m13-15v2m9-17v2m31 7v4m5 24v4m20-26v5m3-7v2m0 2v3m10-3v3m6-13v2m5 24v2m10-26v4m11 0v2m4 2v3m93 34v2m141-8v2m117-28v2m195 4v2m352 135v2m0 4v2m1-125v2m0 19v3m0 6v4m0 20v2m1-76v2m0 5v2m0 17v2m0 3v2m0 4v4m0 33v6m0 52v3m1-165v4m0 33v4m0 2v2m0 7v2m0 2v2m0 9v2m0 35v4m1-97v2m0 2v2m0 67v3m0 19v4m1-91v3m0 2v4m0 24v4m0 2v3m1-22v4m0 7v2m0 65v4m1-67v2m0 65v2m0 7v2m0 11v2m0 15v5m1-100v4m0 46v4m0 2v2m0 24v2m1-140v2m0 2v4m0 2v3m0 65v2m0 43v7m1-52v4m0 24v2m0 22v2m0 4v2m1-145v2m0 22v4m0 106v3m1-102v4m0 7v2m0 21v3m0 62v3m1-87v2m0 2v2m0 9v7m0 62v3m1-87v4m0 11v2m0 2v5m0 45v2m0 9v2m0 2v7m0 4v2m1-112v4m1 26v2m1 18v2m0 19v2m0 13v3m0 2v2m0 2v2m1-56v6m0 3v6m0 13v2m0 11v2m1-102v5m0 8v3m0 43v4m1-11v3m0 17v2m0 11v2m1-56v2m116-41v2"/><path stroke="#3affbd" d="M29 6v3m5 2v2m57 35v4m18-37v2m59 9v2m11-15v2m14-2v2m40-2v2m9 7v2m19-18v3m8 86v2m8-86v2m3 28v2m3-26v2m16-8v2m30 2v2m11-4v2m125-4v2m170 11v2m79 32v3m99-26v2m10 39v2m101-56v2m107 4v2m50 54v3m83-7v2m25 93v3m1-87v6m0 5v2m0 2v4m1-110v2m0 95v5m0 19v2m1-15v2m0 5v2m1-100v2m0 18v4m0 13v2m0 39v9m0 24v2m1-24v2m1-93v2m0 5v2m0 41v2m0 17v3m0 2v2m0 2v4m1-88v6m0 2v5m0 23v3m0 26v6m0 15v2m0 3v4m0 30v2m0 29v2m1-139v7m0 104v2m1-102v4m0 9v2m0 2v2m0 7v6m1-36v2m0 45v5m0 36v9m0 24v2m1-106v2m0 63v4m0 35v2m1-149v4m0 11v2m0 4v5m0 17v4m0 5v2m0 41v2m0 39v7m1-143v2m0 17v4m0 5v4m0 2v2m0 5v2m0 2v2m0 2v3m0 17v2m0 54v2m0 20v2m1-132v2m0 59v4m0 11v2m1-52v2m0 11v2m0 4v3m0 65v2m1-141v2m0 11v2m0 82v3m0 34v5m1-70v2m0 3v2m0 4v2m1-65v2m0 3v2m0 15v4m0 15v3m0 23v3m0 36v3m1-117v2m0 6v2m0 18v2m0 22v2m0 2v4m0 18v2m0 6v2m0 3v8m1-45v6m1-17v2m0 2v2m0 11v5m75-59v2m9 63v2m13-78v2m134 63v2m34-41v2m33 16v2m38-9v2m67 5v2m208 8v3"/><path stroke="#5aff9c" d="M28 84v3m17-50v2m0 2v2m8-43v6m1 24v7m6-20v2m22 59v2m37-54v4m3-15v2m6-4v2m10-4v2m104-4v2m5 11v2m22 67v4m8-82v4m3 26v5m14-37v4m41 15v2m5-17v2m3 65v2m49-73v2m122-11v2m2 54v3m97-29v3m124-16v3m20 60v2m104 11v2m32-28v2m36 13v3m8-44v2m60-45v2m17 35v2m49 19v3m40 54v2m11-35v2m14-21v2m18-56v2m17 58v2m29-8v2m1 13v2m3-11v5m1-57v2m0 24v2m0 9v2m0 28v5m0 4v4m0 9v2m0 24v7m1-42v5m0 11v4m0 9v2m1-28v4m1-59v7m0 26v4m0 2v3m0 39v2m0 2v2m1-50v2m0 11v2m0 3v2m0 19v2m0 7v4m1-45v4m0 20v4m0 9v2m2-126v7m0 8v2m0 13v3m0 34v2m0 3v4m0 13v2m0 41v5m1-87v4m0 7v2m0 13v2m0 2v5m1-65v4m0 6v3m0 10v9m0 11v4m0 2v3m0 43v2m0 20v2m1-141v2m1 67v5m1 8v2m2-8v2m14 0v2m85-43v2m52-4v2m49-5v3m16-35v2m145-2v2m20 56v3m66-35v2m13 9v2"/><path stroke="#7bff7b" d="M45 39v2m4-35v5m39-9v2m17 39v2m6-30v2m15 44v6m18-56v2m7 0v2m6 17v5m3 63v2m8-74v2m1 7v4m27-28v2m3 4v3m2 75v3m15-83v2m3 22v2m6-17v4m5-11v3m4 62v5m13-65v2m8-2v2m15 2v4m73 52v5m166-41v2m19-7v2m3-10v2m30 4v2m17 7v2m20-9v2m33 35v2m9-26v2m21-8v2m20-2v2m102-13v2m264-26v2m23-4v2m7 46v2m17 37v6m1-26v2m8 37v2m0 7v2m1-35v2m2 29v2m0 2v2m3-63v2m0 165v4m2-175v2m1 11v2m0 72v4m1-17v2m0 24v2m2-100v2m5 61v2m21-95v2m45 28v2m0 37v2m1-43v2m0 22v2m14 6v3m1 17v4m2-17v2m0 7v4m0 2v2m1-41v2m0 7v4m0 20v4m0 2v4m0 3v2m7-80v2m1-37v2m1 50v2m1 17v3m71-3v3m72 0v2m18-80v2m35 17v2m48-2v2m339-2v2"/><path stroke="#9cff5a" d="M13 54v2m15-34v2m16-15v2m12 28v2m26-11v2m8 26v5m19-26v4m5-15v6m57 33v2m12-30v2m3 45v3m13-65v4m0 6v5m1-7v5m7 21v5m1-57v2m26 76v2m14-54v2m70 7v2m20-22v5m17 82v2m10-99v2m38 0v2m11-9v2m1 16v2m19-13v2m2-7v3m15 32v2m1-26v2m0 16v2m7 17v2m9-8v2m7-9v2m7 0v2m3 5v2m5-11v2m10-2v2m7-8v2m0 2v2m4-4v2m1-2v2m0 6v3m2-7v2m4 5v2m2-18v3m0 23v3m3 4v2m2-9v3m3-16v5m1-5v3m2-9v2m1 20v2m2 0v2m3-24v2m1 18v2m5-33v2m5 29v2m5-26v2m2 0v2m0 15v2m5-28v2m0 18v4m1-11v2m1-6v2m1 15v2m9-21v2m8 13v2m2-19v2m0 6v2m1 0v3m1-9v2m0 13v2m3-15v2m1 0v2m6 3v2m4-9v2m1 2v3m8 2v2m4 4v2m5-10v2m8 4v2m5 20v8m4-36v2m0 39v2m3-52v2m2 11v2m1-2v2m1-17v2m6-2v2m1-2v2m0 6v3m3-5v2m16-10v2m0 13v2m11 2v2m6-6v2m1-2v2m3-9v2m4 3v2m14 41v4m3-45v2m2-20v3m10 4v2m6 11v2m3 2v2m4-6v2m1 7v2m14 4v2m2-19v2m2 11v2m1 4v2m4 29v6m6-52v2m7 15v3m9 0v2m5-18v3m4 15v2m26-4v2m1 6v2m3 0v3m16-26v2m22-9v2m6 24v2m72-30v2m79-17v2m81 58v3m0 13v2m5 24v2m0 19v2m2-78v3m3-20v2m2 13v2m0 13v5m0 19v2m0 16v2m1-33v2m1-41v2m0 52v7m0 50v2m1-91v2m0 50v2m2-84v2m1 24v2m0 19v2m0 37v5m1-16v3m1-74v2m0 2v2m1-13v3m0 8v2m3-8v2m61-9v2m8 13v3m0 6v2m1-80v2m0 46v2m0 15v2m0 24v2m0 2v3m1-74v2m0 52v2m0 20v2m15 24v6m5-130v2m1-2v2m0 5v2m0 13v2m1 15v2m1-2v2m0 5v2m1-46v3m1 34v2m0 22v2m0 5v2m0 11v2m0 13v2m1-35v2m3 18v2m53-39v2m63 0v2m6 31v2m4-20v2m43-58v2m90 37v2m6-41v2m34 2v2m56-19v2m130 17v3m71-22v2m7 48v2m113-48v2m3 18v2m18 26v2m22 28v2m29-43v4m38 39v5m11-50v2m47 24v2m19-28v2m39-22v3"/><path stroke="#bdff3a" d="M6 30v2m2 22v2m3-13v2m12-39v3m13 15v2m8 32v3m1 19v4m11-47v2m26-7v3m7 23v3m2-59v4m21 70v4m22-50v2m3 9v2m13 61v2m1-97v2m11 28v2m3 13v7m1-20v2m3-43v2m2 35v4m15 15v2m13-21v2m6-4v2m26-11v2m4-22v3m21 36v3m25-48v4m44 2v3m6 30v2m4-39v2m2 22v4m65-17v2m1-6v2m1 0v2m3-4v2m6 4v2m0 2v3m2-5v5m2 4v2m3-9v5m2 4v2m2-15v2m0 7v2m1 6v3m2-3v3m1-11v2m0 2v2m1-4v2m0 13v2m3-8v2m2-22v2m3 13v2m0 9v2m1-17v2m0 9v2m2-4v2m2 2v2m1-19v2m0 24v2m2-28v2m1 17v2m2 5v2m3-13v2m4-15v2m1 15v2m2 2v3m1-48v2m0 30v3m1 0v2m0 11v2m3 4v2m1-13v2m2-26v5m0 19v2m0 9v2m1-30v2m0 15v5m7-5v2m1-6v2m0 15v2m1-13v5m3-22v2m1-8v2m0 8v3m2 17v2m1-2v2m2-11v5m2-7v2m1-4v2m1 7v2m0 2v2m2-28v2m0 22v2m1-22v2m0 22v2m1-28v2m0 11v2m2-4v2m1 0v2m1-6v2m0 6v3m4-24v2m0 19v3m0 4v2m1-15v2m1-13v2m0 9v2m0 9v4m1 2v5m1-33v2m1 9v2m1-15v2m0 9v2m0 19v3m1-18v2m1 5v2m0 4v5m1-26v4m1-13v2m0 7v2m0 4v2m2 0v2m0 11v2m1-13v3m1-20v2m1-6v2m1 32v3m3-33v2m2 5v2m0 17v4m1-28v5m0 17v2m1-6v2m0 11v4m1-35v2m0 9v2m0 11v2m1-8v2m0 2v4m1-8v2m0 2v4m1 5v2m1-31v3m0 26v2m1-31v9m0 11v2m1-6v2m1 4v2m0 7v2m1-11v2m1-26v2m0 13v3m0 6v2m0 11v2m1-34v2m0 13v2m1-13v2m1-4v4m1 24v2m1-13v2m1-32v2m2 2v2m0 22v2m2-22v3m0 17v4m1-21v2m0 6v2m0 18v2m1-26v2m1-9v3m0 8v2m1-13v5m0 11v2m1-18v3m0 4v2m1-9v3m0 23v3m2-3v3m1-29v3m0 4v4m0 7v2m0 6v3m1-29v5m1-2v4m0 15v2m1-17v2m0 2v2m0 3v2m1-20v2m2 0v7m1 15v2m1-21v2m0 15v2m1 4v3m3-26v2m1 2v4m4-8v2m0 32v7m2-41v2m1 6v2m1 9v2m3-15v7m1-16v3m0 13v2m2-11v4m0 5v2m3-13v2m0 9v2m1-9v4m0 7v2m1-15v2m0 2v2m1-10v2m1 13v2m1-15v2m0 9v2m0 2v2m1-22v3m1 21v2m1-2v2m1-21v2m0 11v2m2-7v3m3-7v2m0 7v2m2-13v2m0 7v2m0 8v3m0 2v2m1-35v2m0 24v2m1-21v2m1 6v3m1-3v3m1-5v2m0 5v2m1 0v2m2-9v3m1 4v2m1-11v2m1 11v2m3-23v4m1 9v4m1-17v2m1 0v2m0 6v3m2-7v2m0 5v2m2-11v2m1 7v2m2-18v3m0 4v2m2 13v2m1-26v2m2 11v5m0 36v3m1-35v2m3-9v3m1 6v7m0 26v2m0 2v4m1-8v4m1-48v2m0 7v2m0 2v2m1-17v2m2 35v2m1-26v2m1-24v3m2 0v2m0 4v2m2-11v3m3 19v2m1-2v2m2-15v2m1-2v2m1-8v2m1 8v3m1-11v2m1-4v2m0 15v2m1-17v2m0 13v2m0 28v5m2-39v4m1-4v2m1 4v2m1 28v3m3-39v2m0 2v2m1 28v2m1-47v2m0 6v3m0 4v2m1-2v4m1 39v2m1-62v2m1-7v2m1 20v2m0 2v2m1-19v4m1-8v2m0 2v2m0 15v2m1-19v2m2-4v2m1 17v2m2-2v2m2-6v2m1-17v4m0 9v2m1 2v2m2-4v2m3-15v4m0 13v2m0 20v2m1-30v2m2-7v3m1 4v2m2-15v2m0 22v2m1-24v2m1 7v2m2-22v2m0 7v2m2 7v2m1-2v2m1 2v2m5-22v3m0 34v2m3-23v2m3 2v2m0 4v3m2-24v2m0 22v2m2-9v2m2 0v2m1 31v2m1-48v2m1 5v2m0 11v2m1-13v4m2-11v3m0 8v2m0 3v2m1-2v2m1-9v2m0 7v2m1-2v2m1-7v3m0 4v2m1-9v3m1-11v2m0 2v2m0 7v2m2-43v2m3 19v2m0 22v2m3-4v2m1-4v4m1-11v2m3-8v2m1-9v2m1 11v2m0 9v2m1-17v4m0 13v2m1-2v2m3-23v2m0 8v3m0 10v3m1-16v5m1 8v3m3-13v2m1 34v3m2-31v2m3-15v2m1 20v2m1-11v2m1 5v2m1-24v2m1 7v2m2-7v3m1 2v2m1-4v2m2 6v2m2 3v2m1-7v2m3-10v2m1 2v2m5-2v2m3 2v2m7-8v2m0 4v2m2-4v2m4 0v2m4 11v2m1-8v2m4-37v2m3 37v2m1-19v2m1 19v3m6-9v2m0 7v2m4-24v2m0 17v3m1-13v2m3-5v3m5-7v2m1 7v2m4-2v4m0 2v2m1-10v2m6-31v3m0 19v2m0 13v2m6 0v3m3-20v4m2 5v2m1-11v2m8 15v3m1-3v3m2-11v4m3-22v3m4 19v2m23 0v2m28-41v2m36-2v2m45 9v2m37 33v2m20-76v2m27-13v2m0 130v3m2-74v2m0 48v2m0 19v3m3-63v2m1-13v2m0 28v2m0 18v4m1-54v2m0 91v2m1-71v4m0 15v7m1-2v2m0 15v2m0 20v2m1-59v5m0 36v3m1-74v2m0 7v2m0 37v2m0 2v2m1-54v2m0 2v2m0 63v2m1-69v2m0 33v4m0 20v2m2-9v2m1 0v2m1-43v2m0 7v2m1-33v3m0 13v4m0 35v2m0 6v2m1 3v2m0 4v2m1-28v2m1 0v2m0 50v2m1-101v2m1 13v2m2-2v2m0 39v2m1-63v2m0 44v4m0 22v2m3-48v2m9-4v2m56-30v2m1-30v4m0 9v2m0 54v2m0 11v2m1-102v3m0 65v2m0 15v2m1-93v2m0 35v2m0 30v2m0 13v3m0 4v2m0 2v5m1-72v2m19-17v2m1 33v2m1 30v2m0 7v2m0 11v4m1-100v3m0 54v2m0 17v2m0 7v2m0 7v2m1-76v2m0 13v2m0 9v2m0 4v3m0 17v2m0 20v2m1-85v2m0 5v2m0 24v2m0 54v2m1-15v2m104-17v2m32-63v2m8 44v2m21-56v2m9 8v3m17 28v2m8-48v2m26 46v2m4-19v2m47 30v2m8-6v2m18-37v2m69 15v3m4-22v2m5-19v2m3 54v2m27-67v2m0 87v2m2-89v2m1 2v3m13 21v2m8 24v2m28-39v3m119-16v3m13 58v2m68-69v2m6 22v2m6-11v2m2 9v2m4-28v2m2 13v2m1 33v2m2-52v2m1 46v2m3-28v2m1 37v4m2-65v2m3 11v2m3 69v3m1-59v4m5-30v2m0 15v3m7 2v6m11 2v3m2-5v5m6-7v2m3-26v2m8 0v3m5 6v4m5 20v2m1 11v2m27 2v2m4-54v2m3 24v2m0 24v2m3-36v2m17 39v2m9-28v4m6-30v2m17-2v2m6 54v4m7-15v2m1-34v2m4 22v2m3-26v2m3-2v2m1 37v2m5-37v2m2-21v2m5 19v2m3-6v2m4 2v2m2 9v2m5 2v5m5-46v7m6 4v2m0 20v2m1 2v2m2 15v3m1-33v2m1-8v2m2 26v2m0 2v2m12-28v2m5-17v4m6 24v2m1-21v2m0 2v6m7-30v4m2 18v4m3 33v4m5-33v3m0 2v2m1 17v2"/><path stroke="#deff19" d="M10 97v3m9-91v2m4 24v4m13-17v2m0 2v4m14 44v2m5-44v3m7-33v2m0 20v2m15-4v4m5 45v5m3-48v2m12-13v2m4 16v2m3 2v2m3-9v5m19 34v3m3-16v3m9-20v2m4 46v2m9-59v3m5-11v4m1-4v2m2-17v2m1 26v4m4-19v2m1 63v2m2-24v2m4-52v2m0 5v2m0 4v2m0 74v2m6-30v6m3-19v2m4-46v5m3 17v2m5-41v4m2 5v2m0 41v4m1 9v2m7-39v2m3-4v2m3-11v3m3 39v4m4-59v3m6 67v2m16 9v4m3-61v5m4-11v6m9 31v2m3-22v4m16 26v3m20-57v7m9 17v4m6 35v4m11-43v2m1-21v6m4 11v4m2-30v2m6 26v2m3-19v2m8 4v2m5 63v2m1-60v2m8-13v2m1 11v2m17-19v2m1 17v4m3-13v3m1-5v2m11-28v2m3-4v2m3 7v2m2-2v2m4 2v2m2-2v2m1-2v4m2-13v3m0 10v3m3-3v3m1-13v2m3-5v3m0 2v2m0 6v3m1-13v2m0 13v2m2-13v2m1-9v5m1 0v4m0 9v4m2 0v2m1-17v2m0 11v2m1-15v2m0 20v2m1-15v2m0 2v2m1-2v2m0 9v2m1-22v2m1-4v2m0 20v2m2-17v2m1-9v2m0 18v4m1 0v4m1-19v2m1-11v2m0 13v5m1 2v2m0 4v2m1-28v2m0 7v2m0 7v2m1-15v2m1 8v3m1 13v2m1-35v2m0 15v3m1-3v3m3-20v2m1-2v2m0 5v2m0 15v2m1-6v2m1-11v2m0 4v3m1-7v2m0 13v2m1 0v3m1-3v5m1-31v3m0 26v2m1-22v2m0 9v2m0 2v2m1-30v2m0 24v2m0 7v2m1-4v2m1-24v2m0 9v2m0 15v2m1-19v2m0 2v2m0 2v3m0 6v2m1-32v2m0 6v3m0 10v3m1-31v5m2 17v2m0 11v2m2-19v2m1-18v3m0 6v2m0 7v2m0 9v2m1-22v2m1-11v3m0 2v2m0 22v2m2-18v3m0 13v4m1-17v2m0 13v2m1-37v2m0 24v2m0 2v3m1 4v2m1-35v3m0 2v4m0 20v2m1-22v4m0 5v2m0 2v2m0 5v2m1-5v3m0 2v4m1-30v2m1-4v2m0 6v5m2-5v2m0 7v2m0 11v2m0 4v3m1-44v2m0 42v2m1-37v2m0 11v6m1-4v2m0 9v2m2-17v2m0 2v2m0 5v4m1-13v2m1-17v4m0 26v4m0 3v2m1-28v2m0 11v2m1 2v4m1-28v2m0 5v2m0 8v3m1-18v2m0 7v2m0 4v3m1-31v2m0 22v2m0 9v6m1-32v4m1-4v2m0 11v2m0 2v2m1-23v2m0 6v2m0 3v2m0 15v2m2-17v2m0 4v2m0 13v3m1-35v4m0 11v2m0 9v2m0 4v3m1-9v4m1-19v2m0 9v2m0 6v2m1-30v2m0 2v3m1-31v2m0 18v2m0 2v2m1 5v2m0 19v2m1-8v2m0 11v2m1-39v2m0 11v2m1-15v2m0 9v2m0 11v4m1-17v2m2-22v2m0 5v2m1 9v2m0 4v2m0 15v3m1-37v2m0 2v2m0 24v4m1-30v2m0 24v2m1-4v4m1-28v2m1-8v4m0 19v3m2-26v2m0 2v2m0 13v2m0 2v3m1-5v2m0 11v2m1-4v2m1-24v3m0 2v4m0 7v2m1-18v7m0 17v2m1-28v5m0 2v2m0 13v2m0 9v2m1-39v2m0 13v2m0 13v2m1-28v2m0 16v8m1-32v4m0 17v5m0 4v4m1-32v2m0 4v3m1 4v2m0 7v4m4-33v3m0 36v3m1-31v2m0 7v2m1 17v3m2-33v2m0 35v2m2-28v4m0 5v2m2-13v2m0 2v2m1 13v2m0 7v2m2-37v2m0 9v2m1-15v2m0 7v4m0 2v2m1-6v2m0 7v4m1 0v2m0 2v2m1-26v3m1-9v2m0 7v4m0 11v2m1-22v2m0 5v4m0 17v3m1-29v3m1-5v2m0 26v5m1-35v2m1 0v2m0 13v3m0 2v2m0 4v5m2 0v2m0 17v2m2-50v3m1-5v2m1 24v2m0 3v2m2-11v2m0 2v2m1-54v2m0 50v2m1-19v2m0 7v2m0 4v2m0 2v3m1-5v2m1-19v4m0 2v3m0 8v2m1-26v3m0 21v2m1-26v3m0 17v2m0 2v2m0 3v2m1-26v2m0 2v2m0 9v2m0 4v3m1-26v2m0 6v2m0 5v2m1-13v4m0 9v2m0 2v2m1 3v2m1-31v3m0 8v2m0 3v2m0 4v4m1-6v4m1-15v4m0 5v6m1-24v3m0 13v4m0 2v2m0 24v4m1-65v3m0 8v2m1-2v2m0 20v2m1-17v2m0 2v2m0 20v2m1-20v3m0 4v2m1-48v3m0 30v2m0 7v2m0 4v2m2-24v3m0 17v2m0 20v4m1-50v2m0 9v2m0 4v3m1-7v2m0 5v2m0 4v4m0 24v2m2-43v2m0 2v3m0 6v2m1-24v3m0 2v2m0 9v2m0 2v4m0 2v3m1-29v3m0 17v4m1-26v2m1-2v5m0 17v4m0 28v3m0 2v2m1-59v3m0 17v2m0 11v2m0 11v4m0 9v2m1-50v2m0 3v2m2-11v2m0 11v2m0 4v3m1-55v3m0 36v3m1-39v2m0 19v7m0 6v5m0 2v2m1-20v3m0 19v2m1-11v5m1-15v2m0 2v2m0 37v2m1-45v6m3-4v4m0 15v2m2-26v3m0 6v2m0 11v2m1-2v2m1-47v2m0 32v2m0 3v2m0 4v4m1-26v5m0 4v2m0 24v2m1-39v2m1 3v2m0 4v2m0 20v2m3-9v2m1-2v2m5-15v5m0 36v3m1-35v6m1-28v2m0 20v4m0 28v7m1-50v2m2 13v2m1-10v2m0 28v6m1-47v2m0 11v2m1-11v2m0 2v3m0 4v2m2-19v2m0 11v4m1-13v4m0 2v3m0 4v2m0 2v2m1 0v3m1-20v2m0 9v2m1-4v2m1 2v4m2-6v2m0 2v2m1-10v2m1-13v2m0 13v2m1 0v2m0 2v3m1-7v2m1 18v2m1-41v4m1 19v3m0 19v2m1-41v4m0 5v2m1 0v2m0 9v2m0 2v4m2-39v3m1 19v2m1-17v2m0 2v2m0 11v2m1-23v2m0 6v2m0 5v2m0 2v2m1 24v4m1-52v5m0 4v2m2-2v4m0 5v2m0 4v2m0 33v2m0 2v5m1-44v2m0 29v2m2-31v3m2-48v2m0 61v2m1-24v4m0 22v4m2 0v3m1-48v2m0 2v2m1-2v5m0 4v6m2-4v2m0 26v2m1-52v3m1 4v2m0 4v3m0 43v2m1-61v3m0 10v3m0 6v2m1-26v2m0 3v4m0 6v3m0 6v2m0 24v2m1-78v2m0 48v2m0 20v4m1-45v2m1 6v2m0 48v2m2-54v2m0 2v3m0 6v2m2-21v2m0 8v3m2-16v3m0 17v4m1-8v2m0 2v6m1-23v2m0 2v2m0 15v2m1-23v2m0 11v2m1 6v2m1-17v2m0 7v4m0 4v3m1-29v3m0 2v2m0 9v2m0 4v2m1 0v2m1-6v2m0 33v4m1-50v2m0 54v3m2-61v4m1-4v2m2 2v2m0 5v2m1 4v2m1-13v5m1-11v2m0 13v2m0 22v2m0 2v2m1-36v2m0 4v4m1-8v2m0 2v4m1-17v4m1-2v2m1-6v2m0 37v2m2-80v2m0 26v2m0 22v2m0 2v2m1-15v2m0 3v4m1-11v2m0 7v2m2-13v2m0 2v2m1-8v2m0 58v3m1-55v3m0 4v2m1-13v2m0 11v2m1-21v2m0 13v2m0 19v3m1-39v2m0 17v2m1-21v2m0 4v2m0 5v2m2 2v2m0 2v2m1 0v3m0 36v3m1-63v2m1-2v2m0 15v4m1-15v2m0 7v2m1 4v3m1-11v2m1 4v2m0 3v2m0 11v2m1-35v2m0 13v2m1-4v2m2 0v5m0 21v7m1-41v2m3-9v2m0 15v3m0 2v2m1-17v4m1-7v3m0 2v2m1 6v3m3-9v2m0 2v2m0 26v3m1-33v2m0 11v7m2-11v4m1-9v5m1-26v2m0 11v2m1 9v4m1-15v2m0 17v2m2-23v2m0 4v2m0 11v2m1-11v3m0 2v2m1-20v3m0 10v3m0 2v2m1-15v2m0 9v2m0 8v3m1-9v2m1-22v3m0 19v4m1-21v2m0 17v2m1-39v3m2 15v2m0 9v2m2-2v2m2-18v3m2-35v2m1 41v2m1-2v2m0 9v2m0 5v4m1-9v2m0 3v2m3-18v3m2 10v5m1 0v2m1-17v2m0 6v7m1-20v2m1-4v4m0 11v2m1 0v3m1-18v2m0 7v2m0 4v3m0 6v2m1-13v2m0 5v2m1-24v2m0 18v2m1-7v2m1 0v3m0 2v2m1-15v4m0 9v2m1-2v4m1-24v2m0 5v2m0 2v2m2-11v3m0 2v2m0 9v2m1-5v3m1-13v2m0 6v2m0 9v2m1-28v2m0 5v2m1 0v2m0 6v3m0 2v2m0 4v2m1-32v2m0 2v2m1 3v2m1-2v2m0 15v2m2 2v2m1-28v2m0 26v3m1-22v2m1 4v5m0 11v2m2-20v5m0 4v2m1-22v3m0 8v2m0 5v2m2-7v3m1-9v2m0 2v2m0 7v2m3-19v2m1 2v2m0 13v2m1-17v4m0 2v3m0 6v2m1-17v2m0 4v7m1-2v4m1-6v4m1-9v2m0 13v3m1 0v2m1-26v2m0 15v2m2-39v2m0 29v2m0 4v2m1-15v2m0 2v3m0 10v5m1-22v2m0 15v3m1-11v2m0 6v3m1-20v2m0 7v2m1-20v3m1 6v2m0 9v4m1-6v2m0 2v2m0 2v3m1-18v5m1-5v2m0 11v2m1-2v2m1-15v2m0 9v2m1-19v2m0 11v2m0 4v5m1-20v2m0 7v2m0 2v2m1-19v2m0 15v4m1-4v2m1-19v2m1 22v2m2-5v3m3-57v2m0 37v5m0 2v2m2-2v2m0 4v2m1-21v2m0 9v4m0 2v2m0 7v2m1-24v2m3 0v2m1-6v2m0 7v2m1-7v2m1 16v2m1-20v2m0 16v2m1-15v2m1-9v2m2 7v2m1-13v2m0 17v3m1-7v2m1-13v2m1-8v2m1 0v2m1 11v2m0 2v2m0 3v4m1-13v2m1-13v2m1-56v2m0 50v2m0 9v2m2 4v2m1-10v2m0 6v2m0 3v2m1-13v2m1-72v3m0 56v2m1 7v2m1 2v2m0 4v5m1-15v2m1 0v2m1-46v3m1 36v3m0 15v2m1-15v2m6 4v2m1-17v2m0 5v4m1-20v3m0 4v2m0 11v2m3-6v2m2-7v2m0 7v2m1-13v2m1 0v2m2 11v2m1-41v2m2 37v5m1-11v2m1-13v2m1-48v3m5-3v3m1 54v2m3-41v2m0 39v2m4-9v3m2 0v2m1 0v2m2 0v2m0 4v3m1-57v2m3 48v2m15-80v2m7 76v2m2 0v2m1 0v3m1-61v2m6 22v2m6 15v2m2-17v2m7 2v2m5-56v2m4 72v2m6-59v3m0 17v2m4-39v2m9-4v2m4 30v3m13-3v3m2-13v2m8 21v3m2-42v3m6 45v2m34-26v2m4-26v3m2 8v2m11 33v2m1-11v2m14-6v2m0 15v2m5 55v2m1-52v2m0 11v2m1 9v2m0 47v3m1-72v2m0 11v2m1-28v2m0 24v2m0 5v2m0 21v5m0 50v6m1-104v2m0 61v2m3-17v2m0 28v2m0 15v3m2-98v2m0 2v3m0 62v5m0 21v7m1-106v2m0 22v4m0 6v3m0 13v4m0 32v3m1-63v2m1-72v3m0 41v2m0 28v2m0 7v2m0 6v3m1-35v2m0 7v2m0 32v2m0 9v2m0 5v2m1 0v2m0 2v2m1-89v3m1-61v2m0 65v2m0 67v3m0 6v2m1-76v3m0 19v9m0 34v3m0 2v4m1-63v5m0 84v2m1-102v3m0 8v2m0 18v2m0 54v2m1-104v2m0 83v4m1-80v2m1-9v3m0 13v2m1-20v5m0 6v4m1-10v2m0 13v4m0 82v7m1-169v2m0 95v3m6-46v2m1-56v2m55 11v2m5 67v2m1-78v3m0 4v2m0 13v4m0 9v2m1-17v2m0 11v2m0 65v2m1-106v2m0 28v3m0 15v2m0 2v2m0 5v2m0 2v2m0 20v2m0 15v2m1-71v2m19-35v2m1-4v2m0 13v2m1-11v3m0 62v3m0 21v2m1-62v2m0 28v2m0 28v2m1-41v2m0 3v2m0 17v2m1-52v2m0 3v2m0 21v3m0 2v2m0 6v3m1-24v2m0 6v3m0 19v4m0 13v3m1-70v2m0 35v2m11-43v2m2 50v2m1-69v2m0 56v2m18-15v2m3-32v2m0 43v3m17-20v2m15-56v2m14 35v2m7-9v2m8-32v2m6 9v2m10-11v2m0 2v3m1 28v2m8 17v2m3-56v2m10 70v2m8-5v3m6-16v3m1-35v2m4-6v2m6 30v2m3-2v2m4-6v2m1 24v2m5-67v2m3 19v3m14-29v3m1-3v3m5 17v2m6 28v2m1-21v2m6 32v3m3-57v2m7 44v2m3 69v2m31-106v2m4 31v2m18-2v2m3-63v2m8 50v2m1-4v2m7 0v2m8 5v2m0 2v2m1 24v2m25-84v2m8-11v2m1 74v2m1-54v2m4 67v4m2-60v2m1-24v2m0 52v2m8-6v2m2-63v2m5 57v2m29-52v2m17-2v2m0 78v2m2-28v4m0 7v2m2-50v2m1-21v2m0 30v2m1-45v2m0 22v2m0 30v2m1 24v2m16-28v2m20 5v2m5-65v2m29 87v2m13-67v2m12-4v2m16-18v3m13 56v2m12-35v3m3-3v3m28-20v2m2-8v2m2 19v2m3-32v2m4 48v2m7-41v2m15 50v2m22-41v2m5-15v2m8-11v2m4 48v2m10-6v2m0 21v3m6-44v2m8 33v2m1-61v3m2 15v6m2 7v2m1-17v2m1 28v2m1-50v2m0 52v3m1-22v2m1 4v3m1 17v2m1-43v2m0 32v3m0 4v2m1-28v2m3 7v2m2-5v3m1-18v2m1-30v2m2 15v3m1 21v2m0 3v2m1 21v5m1-76v2m1 9v2m1-2v2m1 9v2m8-11v2m2 37v6m2-36v2m0 63v2m1-89v2m0 15v2m3 26v3m5 4v2m1-17v4m2-24v2m0 33v2m2-17v4m1 37v2m1-11v2m1-23v2m1-31v3m3-18v2m1 11v2m1 35v2m1-41v2m1-2v2m4 20v2m1-26v2m4 24v2m5-11v2m1-13v3m7-16v3m0 17v6m3-26v3m4-5v2m1 7v2m0 7v2m0 43v2m1-24v3m2-18v2m1-15v5m1 2v4m1 13v2m0 11v2m1-37v3m1-7v7m3 0v2m1-5v3m1-9v4m2 26v7m2-37v2m3-13v2m0 11v2m2 26v5m0 8v7m1-52v2m0 6v3m4 19v4m2-21v2m2 0v2m0 22v2m4-35v5m0 39v2m8-26v4m1-35v5m3 37v2m1-44v3m0 15v2m0 30v5m3-20v2m2 11v2m1 7v2m2-35v2m1 0v5m2-15v2m4-15v4m1 22v2m1 52v4m3-50v5m2-20v2m1 22v2m2-28v2m0 37v2m2-50v2m5 35v2m2-54v2m0 31v2m1-18v3m2 28v6m1-28v2m1-28v2m2 35v2m10-37v2m3 11v2m0 3v2m4-24v2m2 22v2m3 37v2m1-59v3m7 28v2m5-17v4m1-7v3m2-13v2m2 24v2m1 2v2m2 9v4m1-24v2m1 0v3m2-20v2m0 18v2m0 15v2m1-43v4m9 26v4m2-34v2m3 15v2m5 26v5m5 6v2m2-52v2m0 46v2m6-39v2m1 18v2m1-41v2m1 47v3m2-29v3m0 23v7m1-50v2m0 13v2m1-2v2m0 22v2m1-21v2m2-18v3m1-20v2m2 5v2m1-7v2m0 33v2m5 7v2"/><path stroke="#ffec00" d="M0 30v2m14-15v7m4-9v2m5 22v2m0 124v4m21-150v3m6 49v3m5-39v4m7-28v2m7 13v2m1 30v5m2-50v2m8-4v6m0 2v3m1-18v2m1 22v2m2-21v2m2-7v2m1 22v2m1-13v5m2-20v2m7 15v5m2 73v3m8-63v2m1-24v4m3 3v4m3 30v2m1-30v2m0 9v4m1-13v5m13 26v2m7-33v5m7-9v2m4-2v4m2 57v2m2-78v2m0 24v2m8-26v2m0 67v5m1-78v2m0 34v3m2 32v4m3-78v3m3 0v2m1 37v2m1-48v2m1 15v3m0 13v2m3-2v2m1 19v2m6-54v2m3 33v2m3-4v2m6-30v4m0 91v2m1-45v2m6-28v2m5-22v2m3 5v2m0 15v2m7 22v2m1-35v5m1-33v2m0 11v4m2 9v2m2 44v2m0 2v2m14-50v5m2 49v3m3-72v2m0 11v2m3-26v2m0 24v2m2 3v2m4-37v2m3 39v2m2 44v2m6-72v2m1 29v2m19-26v2m1-15v2m3 28v2m13-17v2m4 11v2m8-28v2m10-4v2m14-4v4m2-7v3m8 0v2m5 37v2m6-15v2m1-28v2m1-5v3m1 21v2m1-17v2m1 5v2m10-11v2m1-2v2m9 13v2m2-21v2m1-5v3m5 23v3m2-35v2m2 0v4m7 7v2m1-6v2m0 2v2m2-2v4m0 7v4m2-22v3m0 8v5m2-9v2m1 2v7m1-2v2m1-7v2m2 5v2m2-9v7m1 2v2m2-2v2m1-4v2m1 2v2m2-15v2m1 15v3m1-16v3m0 8v2m0 3v2m1-26v2m1 2v2m0 2v7m0 11v2m1-26v2m0 24v2m1-2v2m2-19v2m0 2v2m1-15v2m0 2v2m0 13v3m2 4v4m1-28v7m0 4v2m0 7v4m1-2v2m0 4v2m2-39v5m0 17v2m0 2v3m1-35v2m0 13v2m0 20v4m1-32v2m0 2v2m0 9v4m0 4v3m1 8v2m1-28v2m0 5v2m0 6v3m1 6v4m0 3v2m1-35v2m0 20v2m0 6v3m1-37v4m1-6v2m0 8v3m0 4v2m0 2v2m0 5v2m1-26v2m0 15v2m0 9v4m0 5v2m3-37v2m1-2v2m1 35v2m1-39v2m0 7v4m0 4v3m0 17v2m1-41v4m0 22v2m0 9v2m1-37v2m0 33v2m1-30v2m0 8v3m1-18v2m0 11v5m0 6v2m0 2v3m2-22v2m0 4v3m0 17v2m1-2v4m1-41v2m0 35v4m1-28v2m0 5v4m0 15v2m2-4v2m1-35v3m0 4v2m0 24v4m2-56v2m0 59v2m1-48v2m0 37v2m1-19v2m0 2v2m0 5v2m0 2v2m2-26v4m0 20v2m0 63v2m1-106v2m0 4v5m0 30v2m1-41v2m0 33v2m0 4v2m1-6v2m3-2v4m0 2v3m1-24v2m0 2v2m0 11v2m0 2v3m1-42v5m0 8v3m0 8v2m0 5v4m1 2v2m1 0v3m2-35v2m0 2v2m0 24v2m1-21v2m0 6v5m1 2v2m0 7v2m1-33v9m0 22v2m1-28v2m0 2v2m0 4v3m0 10v3m0 13v2m1-24v9m1-44v2m0 11v5m0 21v7m1-9v2m0 2v3m1-7v2m1-41v2m1 44v2m2-9v4m1-52v3m0 10v5m0 15v2m0 4v5m1-28v4m1 28v4m0 3v2m1-44v3m0 2v2m0 9v4m0 9v2m1-44v3m1 15v2m0 4v2m0 3v2m0 13v2m0 2v2m2-28v2m0 2v3m5-9v2m0 24v2m1-9v5m1-31v5m0 8v3m1-22v2m0 37v2m2-19v2m0 2v2m0 2v2m0 16v2m0 65v4m3-108v2m0 15v2m0 18v2m3-31v3m0 2v2m2-15v2m0 4v2m0 7v2m0 7v2m1-15v2m0 13v2m1 0v4m0 9v2m1-48v3m0 17v2m1 9v2m2 4v2m1-28v2m0 5v2m0 2v2m0 22v2m1-15v2m0 11v2m1-32v4m0 6v3m0 17v2m1-28v2m2-13v2m0 13v2m1-21v2m0 37v2m1-20v3m0 2v2m0 4v2m1-30v2m0 2v7m0 2v2m0 24v2m1-11v5m1-37v2m0 4v3m1-5v5m1-5v2m0 18v2m1-24v4m0 3v2m0 21v5m2-11v2m0 2v2m1-36v2m0 28v2m0 2v2m1-34v2m0 11v2m0 6v3m1-39v2m0 47v3m0 2v2m1-65v2m0 46v2m1-22v2m0 26v2m1-13v3m0 2v2m0 2v2m0 5v2m0 2v2m1-22v3m1-18v2m0 5v2m0 13v2m0 20v4m1-15v2m1-41v2m0 22v4m0 11v2m1-37v2m0 7v6m0 9v2m1-22v3m0 6v2m0 18v2m1-28v4m0 9v2m0 11v2m0 2v2m0 30v3m1-72v2m0 24v2m1-13v5m0 2v6m1-28v2m0 39v2m1-39v3m1 0v2m0 11v2m0 4v2m2-15v2m0 9v4m1-56v2m0 41v2m0 13v3m1-24v2m0 15v2m0 2v3m1-33v2m0 20v2m1-28v2m0 28v2m1-26v5m0 28v2m0 9v2m1-44v3m0 19v2m0 2v5m1-37v2m0 4v3m0 8v7m0 2v2m1-15v2m0 11v2m0 4v3m1-16v3m0 2v2m0 4v2m0 20v4m1-26v2m0 22v2m0 2v3m1-31v2m0 7v2m1-26v2m0 2v3m0 2v6m1-8v2m0 4v4m1-26v3m0 19v4m1 18v2m1-26v2m1-19v2m0 4v7m0 6v2m0 2v3m1-5v7m0 6v2m1-19v4m1 2v3m1-5v2m2-8v2m1-22v2m0 24v2m1-58v2m0 72v4m1-30v4m0 24v2m0 2v2m0 5v2m1-41v4m1-33v3m0 39v2m1-59v2m0 5v2m0 19v5m0 4v2m0 31v2m0 2v4m2-50v3m0 26v2m0 19v2m1-69v2m0 44v2m1-22v2m1-11v3m0 19v2m1-34v4m0 26v4m1-2v2m1-15v2m0 9v2m0 4v3m1-52v2m0 19v5m0 8v2m0 7v4m2-4v4m2-24v3m0 15v4m2-24v2m0 44v8m1-43v2m0 2v5m0 6v2m1-36v2m1-7v2m0 20v4m1-4v2m0 13v2m0 5v2m1-26v4m0 7v2m0 8v3m1-22v2m0 7v2m1-13v2m0 2v2m0 7v2m0 26v2m0 15v2m1-62v2m0 2v2m0 9v2m1-9v5m0 15v2m1-13v2m0 2v2m1-6v4m1-24v3m0 2v2m0 6v3m0 43v2m1-65v2m0 20v2m1-20v3m0 17v2m0 22v8m1-49v2m0 8v3m1-13v2m0 2v2m0 4v3m0 4v2m2-22v3m0 26v2m1-7v2m0 7v2m1-37v2m0 3v2m0 4v2m0 5v2m0 19v2m0 16v2m1-33v5m1-26v2m0 11v2m0 8v3m1-35v2m0 20v2m0 4v4m0 20v4m1-24v3m0 32v2m1-95v2m0 56v7m1-20v3m1 8v2m0 31v2m1-63v2m0 9v2m0 2v2m0 39v3m1-68v3m0 30v2m0 2v5m1-52v2m1 21v3m0 2v2m0 4v2m1-19v2m0 4v7m1-9v5m0 13v2m0 2v2m1-9v5m0 4v4m1-23v4m0 22v2m1-7v2m0 20v2m1-45v2m0 11v2m0 34v5m1-57v3m0 19v2m1-37v3m0 15v4m0 11v2m0 20v6m1-65v2m0 35v2m0 4v3m0 15v2m1-26v2m1-9v5m0 2v2m1-22v3m0 19v7m1-33v4m0 7v2m0 17v3m0 13v6m1-71v2m0 21v5m0 6v2m0 5v2m1-20v3m0 10v5m0 21v3m1-35v2m0 9v4m1-48v3m0 26v2m0 13v4m0 4v3m0 30v2m1-61v3m0 4v2m0 7v2m2-46v2m0 26v3m0 4v6m0 16v2m1-31v3m0 2v2m0 6v5m1-18v5m0 2v4m0 11v2m0 5v2m1-24v4m0 20v2m0 17v2m1-28v2m1 29v2m1-54v2m0 6v2m0 3v2m0 8v3m1-57v2m0 31v2m0 19v3m0 8v2m1-36v2m0 19v2m0 3v2m0 6v2m1-17v2m1 22v2m1-67v2m0 13v2m0 9v2m0 11v2m0 2v2m0 31v4m1-63v2m0 24v2m0 16v2m0 4v2m0 2v3m2-33v2m0 5v2m0 19v5m1-55v3m1-7v2m0 9v2m0 2v2m0 26v3m1-29v3m0 6v2m0 35v2m1-69v2m0 28v2m0 33v2m1-59v3m0 10v3m1-3v5m1 34v3m1-87v2m0 50v4m0 2v3m0 28v2m1-33v3m1-29v7m0 9v4m1-50v2m1 46v4m0 2v2m0 31v2m3-63v2m0 22v2m0 2v2m0 33v2m0 2v2m1-65v3m0 10v3m0 4v2m1 0v2m0 39v5m1-48v2m0 2v2m1-41v2m0 16v2m0 2v2m0 17v3m2-13v2m1 2v2m0 20v2m1-44v3m0 45v2m2-30v2m1 0v2m0 33v2m1-33v3m1-7v2m1-24v3m0 15v2m1-20v5m0 4v2m0 11v2m1-17v2m0 4v3m0 8v2m0 5v2m1-11v2m1-6v2m1-17v4m0 15v2m1-37v3m0 10v3m0 4v2m0 2v2m0 13v3m1-31v5m0 19v2m0 2v3m1-29v3m1 17v6m0 3v4m1-13v2m1 2v2m1-26v5m0 13v8m1-28v2m0 9v2m0 11v2m0 2v3m1 23v3m1-35v6m1-26v3m2 0v2m0 4v4m0 33v4m1-21v2m1 13v4m2-28v2m1-19v2m0 8v5m0 2v4m0 5v2m1-13v2m0 19v3m1-16v3m0 4v2m0 20v4m1-43v2m0 8v5m1-11v6m0 13v3m2-72v2m0 61v4m1-2v2m0 7v2m1-48v2m1 31v2m0 26v6m1-45v2m0 11v2m1-37v2m0 55v2m1-54v2m0 4v2m0 7v2m0 4v2m0 3v2m0 21v5m1-44v3m0 8v2m0 37v2m1-4v2m2-43v2m0 2v2m2-6v2m0 9v2m0 2v2m0 15v3m2-18v2m1-10v2m0 6v5m1-26v4m0 17v2m1-71v2m0 43v5m1-5v3m0 13v2m0 4v2m1-58v2m1 41v2m0 2v3m0 10v3m2-29v5m2-2v2m0 6v7m0 6v2m1-32v2m1 11v2m0 15v5m1-26v4m0 15v2m1 0v2m1-19v2m0 9v2m0 6v3m0 8v2m1-43v2m3 18v2m0 4v2m0 2v5m1-5v3m0 4v2m1-11v2m0 3v2m1-26v2m1-2v2m1 2v4m0 37v5m1-22v2m1-11v2m0 3v4m0 19v5m1-26v2m1-13v4m0 5v2m0 2v2m1-43v2m0 30v2m0 3v2m1-22v7m0 13v2m2-28v2m0 11v2m0 2v4m1-67v2m0 70v2m1-7v5m2 0v2m1-13v2m0 13v2m2-24v5m1 13v4m1-46v3m3 47v2m1-4v2m1-24v3m0 15v2m0 2v2m5-15v2m1-63v3m2 56v2m1 7v2m1-46v2m0 44v2m0 4v2m0 3v2m1-18v3m0 4v2m6-19v2m0 2v2m0 20v2m1 0v2m1-69v2m0 39v2m1-4v2m0 2v2m0 7v2m0 2v2m0 2v2m0 5v2m2-24v2m0 7v2m0 4v2m0 9v2m4-28v2m0 18v2m2-28v2m0 15v2m0 2v2m2 3v2m1-28v4m1 13v4m0 5v2m1 15v2m1-17v2m2-20v5m3-52v2m0 41v2m0 7v2m0 4v2m1-17v7m0 6v2m1-13v2m0 3v2m2-76v2m0 72v2m0 6v9m1-69v2m0 63v2m1-76v2m0 76v2m1-28v2m0 20v2m1-57v3m0 52v2m1-24v2m1 2v2m0 13v3m1-20v2m0 18v2m1-22v2m4-4v2m1 22v6m1-6v2m1-26v2m0 2v2m0 3v2m0 2v2m0 7v2m1-20v2m0 3v2m0 11v2m1-74v2m0 48v2m0 20v2m1-20v5m1-7v2m0 13v2m1-19v2m0 22v2m1-30v2m0 24v2m1-26v2m0 28v2m2-32v2m0 6v3m0 6v2m1 2v3m2-65v2m0 47v3m0 8v2m1-17v2m1 0v2m1-4v2m0 9v2m0 2v2m1-13v5m0 2v4m0 5v2m1-22v2m0 18v2m0 2v2m1-67v2m1-26v2m0 2v3m2-9v2m0 65v4m0 3v2m0 4v2m0 5v2m1-35v2m1-56v2m0 85v2m1-72v2m0 26v3m0 17v2m0 20v2m1-2v2m1-18v3m0 2v2m0 6v3m1-39v2m0 4v2m0 13v2m0 3v2m2-48v2m2-30v2m0 59v2m1 15v2m1-13v4m1-67v2m0 61v2m0 7v4m1-80v2m1 85v2m2-18v3m1-33v4m1-13v3m2 10v3m1 15v2m0 22v2m2-2v2m1-20v2m1-4v2m0 11v7m0 2v2m1-26v2m0 11v2m1-9v3m1 0v2m0 4v2m0 5v2m2-76v2m0 56v3m0 6v2m1-28v2m0 7v2m0 6v3m1-7v2m0 2v3m0 10v3m3-20v2m0 5v2m1-9v2m3 7v2m1-4v2m0 11v2m3-22v4m0 3v4m1-7v3m0 10v3m0 2v2m1-61v2m1 46v2m0 7v4m2-22v7m0 15v2m2-67v2m1 35v2m1 6v3m1 0v2m1 4v2m1-15v7m0 13v2m1-13v2m0 2v2m0 2v3m1-7v2m0 2v3m2-85v2m0 63v2m1 2v3m1-3v3m0 6v2m3-15v2m1 9v2m7-26v2m0 26v2m2-39v3m0 32v2m3-82v2m0 65v4m1-4v2m2 11v2m2-21v2m8-11v2m0 13v2m1-15v2m3 20v2m12-43v2m0 47v3m3-13v2m1-44v3m1 15v2m7-41v2m4-13v2m4 9v2m2 45v3m1 45v2m1-80v2m4 52v2m2-39v3m4-24v2m0 11v2m0 37v2m2-61v2m0 39v3m0 45v2m5-54v2m3-26v2m2-23v2m3 41v2m2-39v2m8 0v2m2 57v2m1-24v2m1-56v2m16 39v2m1 20v2m10-39v2m5 43v3m5-13v2m3-24v2m2-15v2m1 9v2m0 2v2m7-34v2m2 43v2m1-54v2m2 61v2m4 4v3m1-74v2m0 87v2m2-2v2m0 35v2m0 34v3m1-115v2m0 76v2m0 2v2m1-71v2m0 4v2m0 39v5m0 11v4m0 2v2m1-69v2m0 4v3m0 8v2m0 3v2m1-26v2m0 2v2m0 35v2m1-39v2m0 5v2m0 8v5m0 28v4m0 18v2m0 6v2m1-62v2m0 6v2m1-23v2m0 4v2m0 2v3m0 19v2m0 44v2m0 11v2m1-83v3m0 26v4m0 22v2m1-70v3m0 32v2m0 15v3m0 2v2m0 17v2m0 13v3m1-91v2m0 13v2m0 43v5m1-72v2m0 9v2m0 33v2m1-41v2m0 2v2m0 17v3m0 26v2m1-50v2m0 46v4m1-72v3m0 8v2m0 3v2m0 41v4m0 2v3m0 30v4m1-97v2m0 4v2m0 18v2m0 9v2m0 71v2m1-175v2m0 67v2m0 74v2m1-13v7m1-61v2m0 44v2m0 43v7m1-122v2m0 37v2m0 44v2m1-72v3m0 6v2m1-30v2m0 11v2m0 7v2m0 6v2m1 16v6m5-61v3m0 10v3m4-35v2m0 30v3m6 6v2m3-11v3m4-13v2m1-50v2m0 35v2m2 11v2m4 0v2m6-17v2m2-4v2m1-24v2m1 28v2m3 37v2m3-21v2m1-37v2m4-6v2m1-26v2m0 91v2m1-93v2m0 5v2m1 50v2m7-9v2m3-2v2m4 0v2m0 18v2m1-26v2m0 4v3m0 23v3m0 10v3m0 4v2m1-102v2m0 9v2m0 7v2m0 2v2m0 26v2m0 42v2m1-98v2m0 13v3m0 2v2m0 13v2m0 65v2m1-99v2m0 28v2m19-30v2m1 15v2m0 13v2m1-45v2m0 20v2m0 17v2m0 13v2m0 9v2m0 31v2m1-100v2m0 5v2m1-7v2m0 3v2m0 54v2m0 4v3m1-42v3m1 26v2m0 24v2m3 21v3m2-31v2m2-60v2m2 13v2m3-37v2m1 65v3m1 6v2m0 15v3m3-98v2m0 5v2m4 63v2m3 11v2m0 41v2m2-110v2m1-15v2m0 56v4m2-32v2m2-6v2m0 2v2m2-13v2m8 26v2m10 16v2m4-74v2m0 5v2m1-7v2m2 0v3m5 69v2m1-76v2m6 63v2m4-23v2m1-18v3m2 45v2m3-50v3m2 30v2m1-45v2m3-11v2m5 22v2m4 13v2m4 0v4m1-26v3m2 67v2m7-76v2m0 41v3m4-13v2m1-7v2m1 44v2m1-13v2m1-32v2m5 28v2m1-22v3m5-46v2m1 22v2m1-26v2m0 11v2m6 7v4m10 17v3m10-7v2m3-58v2m3 74v2m1 4v2m1-19v2m2-67v2m0 17v2m0 57v2m2-54v2m0 19v3m1-35v2m1 30v3m8-5v2m4-41v2m1 44v2m1-24v2m2 37v2m3-73v2m2 76v2m1-41v2m2-7v2m6-23v2m0 32v2m1 24v2m1-73v2m1 61v2m4 0v2m8 2v2m7 50v2m0 2v3m2-100v2m9 87v2m2-78v2m2-19v2m0 26v2m0 19v3m5-78v2m3 43v2m3-17v2m8-19v2m1 76v2m3-102v2m3 11v2m7 67v2m1-19v2m2-19v2m1 37v2m4-89v2m0 13v2m2 31v2m1-2v2m1 21v3m6-55v3m1 6v2m0 24v2m2-56v2m0 20v2m2 30v2m4-24v3m2 58v2m1-11v3m10-87v2m1 37v2m4 24v2m2-17v2m3 19v3m2-68v3m0 52v2m4 8v3m2-68v3m0 17v2m1-6v2m3 2v2m3 20v2m3 4v2m0 22v2m4-39v2m2 11v2m2-32v2m1-4v2m2-11v2m0 28v2m5 20v2m1-17v2m0 11v2m1-65v2m2 0v2m3 2v3m0 32v2m0 2v3m3 43v2m3-80v2m2 11v2m3 0v2m8 44v2m4-76v2m0 56v3m1-5v2m4-58v2m0 95v5m4-44v3m1-7v2m2-13v2m3 9v2m2-6v2m2-30v2m4-22v2m1 72v2m2-50v2m0 2v3m0 6v4m0 42v2m1-74v2m0 2v3m1 23v3m0 6v2m0 28v3m1-44v2m0 5v2m0 4v2m2-54v2m3 3v2m0 19v2m0 35v2m0 22v2m6-71v2m2 19v2m2-45v2m1-2v2m0 59v2m0 11v2m6-28v2m1-50v2m0 95v3m4-83v2m1 42v2m1-48v2m0 24v2m2-43v2m3 35v2m3-39v2m2 108v3m2-109v2m4-6v2m8 0v2m1 54v3m1-3v3m1-5v2m3-13v3m0 26v2m8-63v2m2 4v3m0 82v2m1-30v2m4-59v3m5 43v2m1 2v2m3-43v2m1-6v2m0 37v2m1-20v3m1-44v2m0 5v2m1 45v3m3-33v2m4-21v2m1 4v2m2 15v3m2 34v2m3-65v3m0 23v3m2-18v2m3-19v4m3 57v2m1 11v2m1-7v2m1-23v2m1-31v3m1 6v2m3 28v3m2 19v2m1-78v2m4 68v2m3 0v2m6-54v2m4 9v2m1 39v2m1 0v2m3-9v3m2-11v4m2-24v2m1-15v2m2-15v2m1-19v2m4 11v2m0 82v3m2-72v2m3 5v2m7 47v3m1-18v2m1-26v3m3-13v2m0 37v2m1-59v2m0 48v2m0 5v2m4-74v2m1 52v2m4-10v2m4-50v2m6 20v2m2-22v2m0 2v3m0 19v2m0 11v2m0 35v2m1-65v2m0 61v2m4-30v2m3-52v2m0 13v2m1 39v2m1-21v2m0 17v2m3-49v2m1 67v2m10-37v2m2-2v2m1-30v2m0 2v3m1-13v2m1 21v3m4-13v2m1 34v3m2-22v2m1-17v2m0 6v3m0 4v2m0 7v2m1 17v2m2-21v2m1-46v2m0 52v3m1-13v2m1-22v2m1 7v2m0 24v2m2-65v2m1 15v2m1-4v2m0 9v2m1-22v3m3-7v2m2 28v3m5 4v2m4 0v2m1 5v2m0 8v3m3-39v4m1-17v2m0 11v2m2 2v2m2-17v2m0 35v2m1 6v2m1-15v2m2 22v4m1-56v2m2 52v2m1-56v2m0 7v2m1-4v2m0 24v2m1-50v2m0 46v2m0 13v2m1-61v2m0 16v2m1 39v2m1-9v2m0 3v2m1-26v2m0 30v2m1-49v2m0 26v2m1-50v2m0 2v3m1 4v2m0 4v3m1-22v2m0 41v2m0 7v2m0 2v2m0 9v2m2-24v3m1-11v2m1-24v4m0 18v2m1-24v2m0 11v2m0 26v2m2-6v2m1-11v2m1 50v2m1-56v4m1 9v7m2-18v2m3 13v3m1 8v2m0 7v4m1-71v6m1 67v3m1-81v3m0 6v2m0 33v2m0 11v2m1-33v3m1-7v4m0 3v2m0 19v2m2-56v2m1 15v3m2 30v2m0 2v2m1-52v3m2-7v2m0 37v4m1-26v5m1-13v2m0 2v2m0 2v3m0 10v3m3 32v2m1-50v3m0 13v2m0 8v3m0 2v2m2-24v2m0 39v2m1-67v2m0 20v2m1-28v2m0 11v2m1 22v2m3 6v3m0 13v4m2-48v2m0 55v2m1-54v2m8-15v4m1 11v2m2-9v2m0 39v3m2-48v2m0 4v3m1 10v3m1-24v2m1 24v4m1-41v6m0 11v2m0 18v2m1-28v2m0 58v3m1-52v2m1-24v2m2 30v7m0 9v2m1-35v2m1 13v2m0 5v2m2-15v2m1-26v2m0 24v2m1 20v2m1-39v2m1-4v2m0 24v2m0 2v4m3-37v5m0 26v4m1-13v2m0 48v2m2-78v2m1-2v2m1-2v2m0 15v3m0 19v2m1-8v2m1-37v2m0 9v2m1 24v2m0 9v2m1-31v5m1-11v2m0 24v2m2 24v4m1-17v4m2-30v2m1-6v2m0 39v2m1-56v2m0 6v2m0 20v2m4-22v3m0 6v2m0 15v3m1-39v2m0 26v2m1-37v2m0 7v6m0 9v2m1-13v2m0 20v2m3-9v2m1-30v2m0 22v2m1-17v2m1-2v4m2-13v2m1 15v3m1-13v2m0 15v2m1 0v2m0 20v2m2-11v2m1-26v2m0 3v2m0 11v2m0 17v2m2-52v2m1 22v2m2-24v3m0 39v2m2-35v2m1-4v2m1 22v6m1-32v2m0 11v2m2-22v2m0 7v4m0 37v2m1-13v7m2-18v3m3 19v2m6-43v2m1-11v2m0 18v2m1 6v3m1-18v2m0 7v2m2-4v2m2-11v2m0 65v2m1-62v2m4 41v2m0 7v2m2-70v3m0 10v3m1 0v2m4 4v7m0 10v3m2 8v2m0 37v2m2-84v4m0 15v3m1-24v2m1 71v3m1-42v3m1-44v2m1 24v7m1 24v2m1 11v2m2-57v3m0 2v2m2-7v3m0 10v3m2 4v2m3-28v2m1-9v5m0 39v2m1-26v2m1-26v2m0 9v2m0 17v3m1-35v4m0 57v2m0 2v2m1-35v3m2 26v4m1-61v2m0 20v2m0 2v2m5-30v7m1 28v2m0 9v2m0 2v2m2-19v2m0 2v2m1-22v3m0 13v2m1-37v4m0 18v2m2-18v3m0 2v2m0 6v3m1-18v2m1 11v2m0 39v3m1-57v5m1 17v2m2-22v3m0 49v3m2 0v2m1-50v2m0 2v2m4-8v6m3 15v5m4-26v2m1-9v2m1 29v4m1-17v2m2 121v4m3-127v2m1-24v2m0 20v2m0 37v2m1-63v4m0 48v2m2-37v5m1 23v5m1-28v2m1-13v2m0 28v2m3 9v4m3-41v7m0 6v2m0 31v2m2-44v3m1 47v2m1-65v3m0 23v3m0 13v4m0 4v2m1-45v2m1-6v2m0 24v2m3-28v2m0 32v2m1-19v2m2-28v2m0 2v2m0 24v2m1-4v2m0 2v5m3 4v2m3 5v4"/><path stroke="#ffc600" d="M3 26v2m1-17v2m1 17v5m1 6v2m0 20v2m1-48v2m4 70v4m2-80v2m3-2v2m0 61v2m4-46v3m2 106v4m4-128v2m0 5v4m3 46v2m1-44v7m2 17v2m5-41v2m0 5v4m8 63v2m1-48v3m11-24v2m6 4v2m5-17v2m1 15v3m1-9v2m2-11v5m5 34v2m2-43v7m0 21v2m8-36v4m1-13v2m0 28v2m1-30v2m2 2v5m1 0v2m1-2v2m4 2v2m0 74v4m6-82v4m2-15v2m1 13v2m2-6v2m1-4v2m1-4v6m5-13v2m0 13v7m0 6v2m0 11v2m0 46v2m1-65v2m2 24v2m0 9v4m2-41v2m1-19v4m7 0v4m4-15v5m1-5v2m2 18v2m3-17v2m0 47v3m3-44v2m3 3v2m1-11v2m3 2v5m3 17v2m1-39v2m0 83v2m2-54v2m3-35v2m1 5v2m1-7v2m1 24v2m1-8v2m0 4v2m2-28v5m3 8v5m0 45v2m1-60v2m1-9v2m1 2v5m1 2v2m1 61v4m1-74v3m1-7v2m0 15v3m1-16v3m0 6v2m1 2v7m2 35v2m0 19v2m7-43v4m3-34v6m3 9v4m1-13v2m0 11v5m2 6v4m1-23v2m4 73v3m4-85v4m2-2v2m1 74v2m3-80v2m1-11v3m3 15v6m2-11v3m8-7v2m5-15v2m0 9v2m2-13v2m0 78v2m1-19v2m1-56v2m1-4v4m4 24v2m2 26v2m1-65v7m13 8v2m2-10v2m0 2v2m0 2v2m1-15v2m0 35v7m5-29v3m4-5v2m3-6v2m2-9v5m3 0v2m3-2v2m4-9v2m3 18v6m2-13v5m1-20v2m4 31v4m2-17v2m4-18v5m1 17v4m1-26v3m3 45v2m1-47v2m0 13v6m1-26v7m0 15v2m3-17v4m1-4v2m1-11v7m3 0v4m3 15v4m2-17v2m2 59v2m1-63v4m4-8v4m1-6v2m1-9v2m2 35v2m5-24v2m0 48v2m3-52v2m1 85v2m1-91v4m1 13v3m1-22v2m11-11v2m1-2v2m1 35v4m4-39v3m0 2v2m1-4v2m1 4v2m1-17v4m1 15v3m0 2v2m2-22v2m1 11v2m4-15v2m0 22v4m1-21v4m2 0v2m3 22v2m6-15v2m1-15v2m5-4v2m2 17v5m1-13v2m2-22v2m6 5v2m1 37v2m2-46v2m1 5v2m0 28v2m1-30v6m1-10v4m0 4v2m1-8v2m1-11v2m1 18v2m1-2v2m2-7v2m1-13v3m0 13v2m1-20v2m0 9v2m0 5v2m1-20v2m0 22v2m1-28v2m0 24v2m2-2v2m1-30v2m2 20v2m2-20v2m0 20v2m0 2v2m1-15v5m0 13v2m2-22v4m0 13v3m1-18v2m0 18v2m1 0v2m2-24v2m0 22v2m1-28v2m1 2v3m0 2v2m1-15v2m1-2v4m0 4v3m0 13v4m2-28v2m1 2v2m0 22v4m3-24v3m0 19v2m1-8v2m1-28v4m0 13v2m0 22v2m1-41v2m1 11v4m0 24v2m1-41v2m0 2v5m0 30v2m1-45v2m0 19v2m0 7v2m0 7v4m1-35v2m2 0v3m0 26v4m1-50v2m0 9v2m1 13v2m0 7v2m1-22v7m0 17v2m0 2v3m1-37v2m0 19v3m0 6v4m3-32v2m0 37v2m1-41v2m0 37v2m2-52v2m0 15v3m0 10v3m0 10v5m1-41v2m0 37v2m1-37v2m0 2v2m0 16v2m1-5v3m0 6v2m1-26v5m0 2v2m1 2v2m0 5v2m1 8v3m0 6v2m1-39v2m0 3v2m0 17v2m0 78v2m1-106v2m0 37v2m0 5v2m1-46v3m1-16v3m0 19v4m0 24v2m2-58v2m0 37v2m1-32v4m1 13v2m1-15v2m0 2v2m0 9v2m1-13v2m0 16v2m0 6v5m0 6v4m1-45v2m0 37v4m1-43v2m0 9v2m0 11v2m0 2v2m0 18v2m1-33v2m0 3v2m0 8v5m0 6v2m1-58v2m0 15v2m0 31v2m0 9v4m1-54v2m0 2v2m0 28v5m1-26v4m0 7v4m0 15v2m1-43v2m0 24v4m0 7v2m1-33v3m0 23v3m0 4v2m0 39v2m1-95v2m0 33v2m0 11v2m0 73v5m1-128v2m0 15v5m1 0v2m0 6v2m1 18v2m0 13v2m1-52v2m0 5v2m1-5v5m0 8v3m0 6v2m0 18v2m2-48v4m0 37v2m1-39v3m0 13v2m0 15v2m2-39v7m1-7v9m0 11v2m1-20v2m0 26v3m0 10v3m1-46v2m1 2v3m1 15v2m1-17v2m0 39v2m1-46v3m3 0v2m1 0v2m0 19v3m1 10v3m1-37v2m0 35v2m1-46v5m0 21v2m0 13v3m1-42v3m0 19v2m1-21v2m0 8v3m0 19v2m2-45v2m0 19v3m1-11v2m2-7v5m2-24v2m0 20v2m0 2v2m1-11v2m1 42v2m0 2v2m1-4v2m1-65v2m0 9v2m1 2v2m1 41v3m1-55v3m0 13v2m1-24v2m0 24v2m0 56v5m1-70v3m1 0v2m2-24v2m1 22v2m2-26v6m1 16v2m0 45v2m1-32v2m0 26v2m1-47v2m1 0v2m1-26v2m0 15v2m0 5v2m2-4v2m1 4v2m0 37v2m3-32v2m0 61v2m1-80v2m0 34v3m1-44v5m1-20v2m0 18v2m1 13v2m1-15v2m0 39v2m1-41v2m2-4v2m1 52v2m1-80v4m0 33v2m0 76v2m1-91v2m1 7v2m0 52v2m1-61v2m0 18v2m0 22v2m0 17v4m1-67v2m0 9v2m0 52v2m2-69v2m0 46v4m1-50v5m0 30v2m1-37v2m1-6v2m1-28v2m0 30v3m0 32v2m0 2v3m1 60v2m1-119v2m0 7v2m1-28v2m0 76v6m1-36v2m0 21v5m1-54v2m0 6v2m0 50v2m0 3v4m1-78v2m0 30v3m0 23v3m0 26v4m3-78v2m1 2v2m0 39v3m1-44v2m1 31v2m2-39v2m0 89v2m1-89v2m1-6v4m0 48v2m1-54v2m0 50v2m2 7v2m1-18v3m0 2v2m0 11v2m1-56v2m0 37v2m1 8v3m1-29v3m1-35v2m2-4v2m1 0v2m0 46v2m1-2v2m2-67v2m0 50v4m0 6v3m0 2v2m0 9v4m2-91v2m0 61v4m0 13v2m1-82v2m1 0v2m0 26v2m0 26v3m1 26v2m1-72v2m0 72v2m1-35v7m0 9v2m1-74v4m0 24v2m1 48v2m0 5v2m1-65v4m0 30v3m1-46v2m0 7v4m1-9v3m0 6v2m1-2v2m0 35v2m0 15v7m1-54v2m0 28v2m0 9v2m1-20v3m1-59v2m0 24v2m0 28v5m1-7v2m0 7v2m0 22v2m0 2v2m1-93v2m0 28v5m0 24v2m1-7v2m0 37v2m1-65v5m0 50v4m1-41v2m0 6v5m0 13v2m1-20v3m0 32v2m1-95v2m0 30v3m0 26v2m0 30v2m1-60v2m0 21v3m1-31v2m0 42v2m0 4v2m0 9v2m1-67v4m0 57v2m1-85v2m0 65v7m1-54v4m1 2v2m1-32v2m0 24v2m0 54v2m1-54v2m0 29v2m1-28v2m0 17v2m1-26v2m1-2v5m0 32v4m1-43v2m1-6v2m0 67v2m1-65v5m0 26v2m0 47v3m1-102v2m0 11v2m0 24v4m0 17v5m1-15v2m0 24v2m1-57v3m0 65v2m1-102v2m0 11v2m0 13v2m1 2v3m0 23v3m0 23v3m1-61v2m1-28v2m0 52v2m1-24v3m0 45v4m1-54v2m1 7v2m1-41v2m0 11v2m0 13v2m0 24v4m0 26v3m1-37v2m0 6v3m0 4v2m1-4v2m1-28v2m0 19v3m0 13v4m2-48v2m0 18v2m0 26v2m2-61v3m1 6v2m0 15v3m0 10v3m0 26v4m1-59v3m0 21v2m1-56v2m1 22v2m1 30v3m0 13v2m1-15v2m0 4v4m1-36v2m0 24v2m0 6v2m0 20v2m1-24v9m1-50v4m0 29v2m0 13v8m1-47v4m0 48v2m2-61v2m0 26v3m1-55v3m0 21v2m0 31v2m2-50v2m0 15v5m0 21v3m0 30v2m1-93v2m0 56v3m0 15v2m0 6v3m1-55v3m1-35v2m0 24v2m0 7v2m2-2v2m1-9v2m0 28v3m0 23v3m1-63v2m0 24v2m0 32v5m1-63v2m0 59v2m0 2v2m1-56v2m0 6v3m0 13v2m1-63v2m0 46v2m0 2v2m0 24v4m1-41v2m0 44v2m1-28v2m0 6v2m1-39v3m0 47v2m1-52v3m0 2v2m0 13v2m0 2v5m0 32v7m1-31v2m1-13v3m0 15v6m1 9v2m1-24v2m1-34v2m0 2v2m0 31v2m0 4v2m0 5v4m3-63v4m1-6v2m1 2v2m0 44v4m1-54v2m0 33v2m0 13v2m0 15v2m1-95v2m0 28v2m0 22v2m0 37v4m1-65v3m0 47v5m3-26v4m1-37v2m0 31v4m1-33v5m0 17v2m2-19v2m0 2v2m0 7v2m0 6v3m0 30v2m1-61v3m0 13v2m0 11v2m0 8v5m1-20v2m1-49v2m0 21v5m0 24v2m0 2v4m1-60v2m0 24v2m2 45v2m0 5v2m1-91v2m0 30v3m0 39v4m0 13v2m1-35v3m0 6v2m1-37v3m0 2v2m0 22v2m1-61v2m0 52v2m1-28v2m0 13v5m0 43v2m1-45v2m0 9v2m1-33v2m0 29v4m1-28v2m0 4v2m2-45v2m0 26v4m3 7v2m0 20v2m0 2v2m0 15v2m0 5v2m1-59v5m1 13v2m1-13v2m1-41v2m0 87v2m1-52v2m0 22v2m1-30v2m1 41v2m1-43v2m2 0v2m0 28v2m1-32v2m0 15v2m0 26v3m1-20v2m0 15v3m1-81v3m0 30v2m0 24v2m1-28v2m0 37v2m1-35v3m0 21v5m0 13v4m2-50v2m0 22v2m0 7v2m0 2v2m1-65v2m0 20v6m0 24v2m0 20v2m1-91v2m0 20v2m0 15v2m0 2v2m0 39v3m0 6v2m1-56v4m1 15v3m0 28v2m1-48v2m0 37v7m1-89v2m0 41v2m0 50v2m1-52v3m0 4v2m1 22v2m1-24v2m0 13v2m1-26v3m1-7v4m1-4v4m0 33v2m0 9v2m1-43v2m1-7v2m0 29v2m1-33v2m0 22v2m0 5v2m1-76v2m1 39v2m0 28v3m0 8v2m1-47v4m1 7v4m1 11v2m1-2v2m0 9v2m0 2v2m1-74v3m0 71v2m1-54v2m0 11v2m1-8v2m0 50v2m1-7v2m1-36v6m0 2v2m1 0v3m1-9v2m1-4v2m1-46v3m0 6v2m1 39v5m0 15v4m1-30v2m0 11v2m1-2v4m1-9v5m0 21v3m1-22v2m1-17v2m0 28v2m0 11v2m0 5v2m1-50v4m1-8v2m0 13v2m0 28v2m0 7v4m1-54v2m1-45v2m0 65v2m0 15v2m1-43v2m1-4v2m1 0v2m0 13v2m0 2v3m1 4v4m1-24v3m1-33v2m0 26v2m1-56v2m0 54v3m1-59v2m0 48v2m1-41v2m0 59v2m0 8v3m1-37v2m0 2v2m0 28v3m1-35v4m0 22v2m0 2v2m1-84v2m0 54v5m0 21v2m1-2v2m1 0v3m1-72v2m0 33v2m0 9v2m0 24v4m1-24v7m0 2v2m1-24v2m0 11v2m0 13v2m1-60v2m0 28v2m0 26v5m1-26v2m0 8v3m0 4v2m1-9v3m0 8v2m1-21v2m0 6v3m0 8v2m1-26v3m0 23v3m1-22v2m0 4v5m0 6v2m1-39v3m0 8v2m0 29v2m1-80v2m0 50v4m0 19v3m1-18v5m1-16v3m1-11v2m0 9v2m0 17v2m0 2v3m1-22v2m0 13v2m0 2v5m1-20v2m0 9v2m0 2v3m0 2v2m1-91v2m0 7v2m0 63v2m0 8v3m1-5v2m1-26v3m0 23v5m1-89v2m0 17v3m0 34v5m0 21v2m1-30v2m1 0v2m0 29v2m1-31v5m1-13v2m0 4v2m1-2v2m1 0v3m0 13v2m0 15v2m1-80v2m0 48v2m0 13v2m0 9v2m2-35v5m0 26v2m1-24v2m0 2v2m1-6v2m0 24v2m1-65v2m1 57v2m1-89v2m0 87v2m1-78v2m0 9v2m0 32v3m1-7v2m1-6v2m0 32v3m0 15v2m1-41v2m0 26v2m1-54v2m0 17v5m1-24v2m0 17v5m1-44v3m1 49v3m1 4v4m1-52v2m1 35v2m1-52v2m0 44v2m0 11v2m0 4v2m0 5v2m2-48v2m0 37v2m1-19v2m0 30v3m2-39v4m0 26v2m1-89v2m0 50v2m1-34v2m0 52v2m0 13v2m1-95v2m0 20v2m0 41v2m0 2v2m0 18v2m1-35v2m0 7v2m0 4v3m0 15v2m1-91v2m0 4v3m0 52v2m0 4v2m0 5v2m1 11v2m1-24v2m0 4v3m0 8v2m1-36v2m0 17v4m0 5v2m0 4v2m1-78v3m0 54v4m0 17v3m1-83v2m0 76v5m1-46v2m0 20v2m1-65v2m0 54v5m0 28v4m1-76v2m0 39v3m2 4v2m1-4v2m0 11v2m0 4v5m1-20v2m0 2v3m0 2v4m0 9v2m1-67v2m0 4v2m0 29v2m0 11v2m0 11v2m1-15v2m0 15v2m2-61v3m0 30v2m0 15v2m1-41v2m0 18v2m0 17v2m1-15v2m1-71v2m0 69v3m1-9v2m0 13v2m2 7v2m1-26v2m0 9v2m0 2v4m0 5v2m1-22v2m1-45v2m0 39v4m0 16v2m1-11v2m1-32v2m0 41v2m1-78v2m0 22v4m1-41v2m1 63v2m0 20v2m1-28v2m0 4v2m1 16v2m1-50v2m0 26v2m0 11v4m1-10v4m0 2v2m0 5v2m1-9v2m1-26v5m1 8v5m0 8v2m1-75v2m0 54v2m0 15v2m0 5v2m1-28v2m0 9v6m1-80v2m0 85v2m1-20v5m0 2v2m1 11v2m1-26v2m0 9v2m0 4v2m1-21v4m1 0v4m0 3v4m1-65v2m0 37v2m0 17v5m1-7v2m1-2v2m0 3v2m0 4v2m1-71v2m1 26v2m0 28v2m0 7v4m1-15v2m0 2v3m0 15v2m2-4v2m2-22v2m1 20v4m1-6v2m1-24v2m2-26v2m1 24v4m0 13v3m1-20v2m1-58v2m0 56v5m0 2v2m1-15v4m1-30v2m0 37v2m0 2v2m0 5v2m1-22v2m0 5v4m0 13v2m5-28v2m0 20v4m1-63v2m0 5v2m0 50v2m1-76v2m0 11v2m0 39v2m1 22v2m1-19v2m0 2v2m1-78v2m0 63v2m0 18v4m2-24v4m1-62v2m0 58v2m1-41v2m0 37v2m1 0v3m1-7v2m1 20v2m1-26v4m1-32v2m0 28v2m1-39v2m0 52v3m1-18v2m1-4v2m0 5v2m0 8v5m1-22v2m1-15v2m1 13v2m0 9v2m1-17v2m0 2v2m1-4v2m1-19v2m0 19v3m1 4v2m1-15v2m0 17v3m1-87v2m0 69v5m1-76v2m0 30v3m1-20v2m0 15v3m0 15v4m0 22v4m0 7v4m1-43v2m0 30v2m0 7v2m1-91v2m0 59v2m0 17v2m1-71v2m0 69v2m1-84v2m0 65v2m2 2v3m1-5v2m2-43v2m0 52v2m1-84v4m1 46v2m0 15v2m0 7v2m0 6v3m1-24v2m0 4v2m1 0v3m0 8v2m2-6v2m1-45v2m3 21v3m1 19v2m2-69v2m2 59v2m0 4v2m1-13v2m1 13v3m3-35v2m1 13v2m0 5v2m1-74v2m0 44v2m1-41v2m0 65v2m3-41v2m0 11v2m0 26v2m2-35v3m3-46v2m1 67v3m3-74v2m0 17v5m0 54v2m1-45v4m1 13v2m0 26v2m1-30v2m2-4v4m1-32v2m0 21v3m0 13v2m1-9v2m3-43v2m1-15v2m1-2v2m0 39v2m4-41v2m3 41v3m7-5v5m1-22v2m0 39v2m0 11v2m1-19v2m2 2v2m2-11v3m6-59v2m1 31v2m3-37v2m0 63v2m3-56v2m0 9v2m1 13v2m1 39v2m5-80v2m0 4v3m1 47v2m0 7v2m1-41v2m0 11v2m1 28v2m3-49v2m1 4v2m1-30v2m0 2v2m0 46v2m7-24v2m0 29v2m0 13v2m1-65v2m1-15v2m1 17v3m1 54v2m6-63v2m1 48v2m2-67v4m1-4v2m0 7v2m2-11v4m0 15v3m2-22v2m0 65v2m5-41v2m1 33v2m0 4v5m1-74v4m0 44v4m0 6v3m0 4v2m1-6v2m1 15v2m1 22v2m2-104v2m0 80v2m1-78v3m0 41v2m1-22v2m0 29v2m1-63v2m0 28v2m0 46v2m0 20v2m1-72v2m0 37v2m1-71v4m1 2v3m0 6v4m1 37v2m1-32v2m3-4v2m0 24v2m1-39v2m1 17v3m1-18v2m1 9v4m1-26v3m0 30v2m1-39v2m0 72v2m2 4v2m0 44v2m0 4v2m1-62v2m0 8v3m1 13v2m0 28v2m0 20v4m1-87v2m1-71v2m0 95v3m1-20v4m0 24v2m0 3v4m0 32v3m1-122v2m0 18v2m0 24v2m0 19v3m0 41v2m1-93v2m0 102v4m1-152v3m0 108v4m0 33v6m1-93v2m0 26v2m2-75v2m0 50v2m0 39v2m0 15v2m1-69v2m0 4v3m0 19v4m1-34v2m0 19v3m0 10v3m0 17v2m0 4v3m1-122v2m0 3v2m0 34v3m0 91v2m1-87v2m1 61v2m1-24v2m0 68v6m3-171v2m0 102v2m1-106v2m0 30v3m0 56v2m1 13v2m2-106v2m0 24v2m0 31v4m6-41v2m5 6v3m1 17v2m0 7v2m1-24v2m1-30v2m2-13v4m2 52v2m3-8v2m1-28v2m2 26v2m0 26v2m5-78v2m1 42v2m2-50v2m2 69v3m8-74v2m0 17v3m2 41v2m0 9v2m0 13v2m2-72v3m0 4v2m0 7v2m1 56v2m1-28v2m0 33v2m1-102v2m1 50v2m4 15v3m4-59v2m0 65v2m1-67v2m0 31v2m0 6v3m2-61v2m1 43v3m1-18v2m0 3v2m0 47v3m2-85v2m0 24v2m0 20v2m0 28v2m0 9v4m1-13v2m1-43v2m0 26v2m0 11v2m0 29v2m2-96v3m20-5v2m0 13v3m0 6v2m1-17v2m1 11v2m0 20v2m0 6v2m1-47v2m0 61v2m1-67v2m0 54v2m0 24v2m1-43v2m1 22v2m4-89v2m1 39v2m0 20v2m1 6v3m1-55v3m2 45v2m1-67v2m0 28v3m2 32v2m1-26v5m0 21v2m1-4v2m1-30v2m1 9v2m2-52v2m2 2v2m1 0v3m0 10v3m2 104v4m2-85v3m0 8v2m0 26v3m1-13v2m0 11v2m2-83v3m1 60v2m1-71v2m0 61v2m1-48v2m4-17v2m1 46v2m1 13v2m2-13v2m1-43v2m2 65v2m1-69v2m0 59v2m1-46v2m1-32v2m0 17v3m0 95v2m1-91v2m0 18v2m2 26v2m1-72v3m1 26v2m3 4v2m4-19v2m0 17v2m0 61v2m2-91v5m1 13v2m0 19v2m1 13v3m3-63v2m2-13v4m2 15v3m0 13v2m1 58v2m1-34v2m2-54v2m0 69v2m4-84v2m0 54v2m2-21v2m1-39v2m3 54v2m1-32v2m2 37v2m0 4v3m1-16v3m1-59v2m2 0v2m0 22v2m1-30v2m0 41v2m1 20v2m1-65v2m0 50v2m5-56v2m2 24v2m0 17v3m0 17v2m1-22v3m1-46v2m5 20v2m4 35v2m0 19v2m1-60v2m3 74v2m1-20v2m1-21v2m2 19v5m3-78v2m1-2v2m0 28v2m0 31v2m1-65v2m1 22v2m1 28v2m2-9v3m1-22v2m0 2v2m0 9v2m3-34v2m0 21v3m1-9v4m1 11v2m0 70v2m4-44v3m1-74v2m0 54v2m2 46v2m1-93v2m0 37v2m4-52v2m1-2v2m1 13v2m3 9v2m2 35v2m0 4v3m2-85v2m0 24v2m1 28v3m1-42v3m1-9v2m0 15v2m1 5v2m1 45v3m2-87v2m0 33v2m1-37v2m4-2v2m0 7v2m1-5v3m1 23v3m1 52v2m6-63v2m0 39v2m2 24v2m4-95v2m1 2v2m1 29v2m1 28v2m1-58v2m0 28v2m1 17v3m2-31v2m0 44v2m0 2v2m1-82v2m1 20v2m1 17v2m1-32v2m2-2v2m0 35v2m1-44v3m0 2v2m1 58v3m0 6v2m1-8v2m3-54v2m2 28v2m0 69v3m5-107v3m0 28v2m1 50v2m2-104v2m4 37v2m0 41v2m2-32v2m6-43v2m0 24v2m4-39v2m3 30v3m1 49v3m2-87v2m1 11v2m0 87v2m2-28v2m1-39v2m0 39v2m1 11v2m1-37v3m6-44v2m1-19v2m0 33v2m0 39v2m1-35v2m1-34v2m1 4v2m0 18v2m2 45v3m0 4v2m1-17v2m0 19v3m2-91v2m0 82v2m1-84v4m0 17v3m0 39v2m1 2v2m1-26v2m0 37v2m2-95v2m1 65v2m1 2v3m3-33v2m0 44v2m1-59v2m0 3v2m0 28v2m1-37v2m0 13v3m0 23v3m2-16v3m0 13v2m2-26v2m1-20v3m1-13v2m0 2v2m0 30v3m0 2v2m2-65v2m0 78v2m1-82v2m0 46v2m1-50v2m0 37v2m2-13v2m1 37v2m1-54v2m1-13v2m0 13v3m1-22v2m0 9v2m1-7v3m0 60v2m1 3v2m1-31v3m0 30v2m1-11v2m1 5v2m2-17v2m1-18v3m3 28v2m1 13v2m1-13v2m1-82v4m1 7v2m1 54v2m1-69v2m1-2v2m0 61v2m2-13v2m2-45v2m0 4v2m0 41v3m1-61v2m0 2v2m0 46v4m0 39v2m1-88v2m0 43v2m1-56v2m0 9v2m0 24v2m3-9v2m0 26v3m2-33v2m1 33v2m0 11v2m1-76v2m0 11v2m0 31v2m2-48v2m1 41v3m1-39v4m1 0v2m0 22v2m1 26v2m2-67v2m0 69v3m2-48v4m1-26v2m0 63v2m1-10v2m1-63v2m0 54v2m1 0v3m1-35v2m0 7v2m0 4v2m0 24v2m2-34v2m0 2v2m1 43v3m0 4v2m0 2v2m1-91v3m0 13v2m0 30v2m0 24v4m1-84v2m0 35v2m0 32v3m2 2v2m1-41v2m0 26v2m0 2v2m3-62v2m0 65v2m1-61v2m4 3v2m2 4v2m0 44v2m1-67v2m2 11v2m3 28v2m1-30v2m0 15v2m0 24v2m0 2v3m1-74v2m2 7v2m1 11v2m1 13v2m1 37v2m1-46v3m0 8v2m1 7v2m1-48v3m0 71v2m0 11v2m2-76v3m2 41v2m1-33v3m1-24v2m0 24v2m1 28v2m2-32v2m0 26v2m0 67v5m1-139v2m0 30v3m2-20v2m0 18v2m2-31v3m1 58v2m1 9v2m2-43v2m1 9v2m5-26v2m0 15v2m3-24v3m1 8v2m1-15v2m1 42v2m1-63v2m0 33v2m1 67v2m3-30v2m3-78v2m1 85v2m3-80v2m1 8v3m0 41v2m1-65v2m0 26v2m0 7v2m0 48v2m1-52v2m0 6v3m0 4v2m0 2v5m0 10v5m1-76v2m0 15v2m0 31v4m0 11v4m0 15v5m1-87v2m0 13v2m0 18v2m0 35v2m0 2v2m1-80v4m0 5v2m0 30v2m0 5v2m0 21v3m0 8v2m0 3v2m1-85v2m0 22v2m0 5v2m0 34v3m0 4v2m1-78v2m0 5v2m0 6v2m0 9v2m0 22v2m0 37v2m0 4v3m1-72v2m1 31v2m2 43v2m1-91v2m0 59v2m0 4v5m2-89v2m0 39v2m0 31v2m2-65v2m2 76v2m3-91v2m1 69v3m2-74v2m0 28v2m0 50v2m4-15v5m1-42v3m1-24v2m0 28v2m0 52v2m1-80v2m1 16v2m0 8v3m1-48v2m0 13v2m1-17v2m2 4v3m1-5v2m0 13v3m5-13v2m0 6v2m0 18v2m2-13v2m0 13v2m1 74v2m3-117v2m0 26v2m10 18v2m1 6v3m1-57v2m0 57v2m2-41v2m0 13v2m0 7v2m0 11v2m1-63v2m1 2v2m1 0v3m1-9v2m1 65v2m3-39v2m1-2v2m0 31v4m1-67v2m1 30v3m1 52v2m1-89v2m0 63v2m0 17v3m1-55v3m0 71v2m4-108v2m0 22v2m2-11v2m2 13v7m0 32v2m1-10v2m0 13v2m2-2v2m1-39v2m1 26v2m2-41v2m0 11v2m2-4v2m5-19v2m0 39v2m2-9v2m1-47v4m0 24v2m1-13v2m0 9v2m1 28v2m0 22v2m3-43v2m1-41v2m0 28v5m1 13v2m1-52v2m0 50v2m0 4v2m1-71v2m1 50v2m0 24v2m2-35v3m1-39v2m0 8v3m0 23v5m0 32v2m1-67v2m1-8v2m1 50v2m0 11v2m3-65v2m0 2v2m1-6v2m0 17v3m1-29v3m0 45v2m0 15v3m0 8v2m1-80v2m0 26v3m1-33v2m0 44v2m1-13v2m0 22v2m0 4v2m1-52v2m1-19v2m0 30v3m0 8v2m1-17v2m2-19v2m0 63v2m3-72v3m0 39v2m0 8v3m1-29v3m1-9v2m0 2v2m0 18v2m0 4v2m1-26v3m0 34v2m2-71v2m2 61v2m1-9v2m0 5v2m1-54v2m0 37v2m0 54v2m1-91v2m0 3v2m0 50v2m2-48v2m0 31v2m1-2v2m1-41v2m0 47v3m2-33v2m0 20v2m0 4v2m1-71v2m1 9v2m0 35v4m1-35v2m0 20v2m1-32v2m0 28v2m0 15v2m1-17v2m3-28v2m0 44v2m1-44v3m1 8v5m0 19v2m0 9v2m1-63v2m0 11v2m0 16v2m0 8v3m0 26v2m1-63v2m0 24v2m0 15v2m0 5v2m0 22v2m2-48v2m1-43v2m0 85v2m1-78v2m0 15v2m0 50v4m1-84v2m2 11v2m0 35v2m1-2v2m2-13v2m3-37v2m0 55v2m0 26v2m0 15v2m1-104v2m0 16v2m1-22v2m3 65v2m2-69v2m0 13v2m0 22v2m0 15v3m1-48v2m0 39v2m2-56v2m2-2v2m1 63v2m1-48v3m3-9v2m0 15v2m3 0v3m1 21v2m2-58v2m1 9v2m1 2v2m0 83v2m2-78v2m0 6v3m1-35v4m0 52v2m1-52v3m0 8v2m0 35v2m0 20v2m2-33v3m0 6v2m0 2v3m0 23v3m1-33v2m0 20v2m1-78v2m0 9v2m0 35v2m0 21v3m1-74v2m0 87v2m1-26v2m1-39v2m1-21v2m0 2v2m0 4v3m0 26v2m1-2v4m1-2v2m0 4v2m1-47v2m0 11v4m0 13v4m0 29v2m1-63v2m2-11v2m0 42v2m2-26v2m2 19v3m0 6v2m1-56v2m0 9v2m0 15v2m1-26v2m0 3v2m0 37v2m1-33v2m0 26v3m1-44v2m0 9v2m1 33v2m1-17v2m3 30v4m1-54v2m1-13v3m0 36v3m0 23v3m1-72v2m0 65v2m1-30v2m1-24v5m0 19v2m0 18v2m1-59v3m0 45v2m0 20v2m1-78v2m0 2v2m0 31v2m1-33v3m1 17v2m1 17v3m0 8v2m0 5v2m1-9v5m1-55v3m0 52v2m1-63v2m0 37v2m1-41v2m1 0v4m0 9v4m0 5v2m0 6v3m1-16v3m0 2v2m0 13v2m0 17v3m2-24v2m0 11v2m1-43v2m0 32v2m0 9v2m1-56v2m0 11v2m0 24v2m2 22v2m2-48v2m0 35v2m1-56v4m0 26v2m0 50v2m1-62v2m1-18v3m0 10v3m1-13v2m1-11v2m2 39v2m2-32v2m0 11v2m0 35v2m2-57v5m0 34v3m0 13v2m0 2v2m1-52v2m0 41v3m2-13v2m1-44v3m0 41v4m2-15v2m1-39v2m0 37v2m1-13v2m1-28v2m0 37v2m0 5v2m1-48v2m0 33v2m0 17v3m1-59v2m0 15v3m0 17v2m1-35v3m0 2v2m0 2v2m0 9v2m0 9v2m0 9v2m1 0v2m1-37v2m0 2v3m1-16v3m1-9v2m0 33v2m0 15v2m1-28v4m1-15v2m0 18v2m1-35v2m0 54v3m1-61v2m0 30v3m1-7v2m0 11v2m0 15v3m1-22v2m1-15v2m0 9v2m0 9v2m1-31v3m0 2v2m1 24v2m1-22v2m1-32v2m0 15v2m0 24v2m0 22v2m1-13v2m1-45v2m2 50v2m1-63v2m2 24v2m1-15v2m0 18v2m0 17v5m2-44v2m0 5v2m1 17v2m0 5v2m1-46v3m0 10v3m1-20v2m0 11v4m1 0v5m0 13v2m1-2v2m1-28v4m0 7v2m0 21v5m0 8v3m1-5v2m2-39v3m0 19v7m0 4v2m1-54v4m0 24v4m0 3v2m0 17v2m1-15v4m0 13v5m1-48v2m1 18v2m1-28v2m0 6v2m0 5v2m2 19v7m0 2v2m1-19v2m0 22v2m1-18v3m1-31v2m0 18v4m0 22v2m0 26v2m1-89v2m1 7v2m0 11v2m1-13v2m0 26v2m1-17v4m0 18v2m1-52v2m1 13v2m1-8v2m1 43v2m1-19v2m1-4v2m0 13v2m1 6v3m1-48v4m0 2v3m1-18v2m0 26v3m1-22v2m0 17v3m0 23v3m0 6v2m1-60v2m0 24v8m2-19v2m0 11v4m0 2v2m2-10v4m0 13v2m2-35v3m1-18v2m0 5v2m0 13v2m1-4v2m0 24v2m1-22v2m2-26v3m1 21v2m0 20v2m1-35v3m0 34v2m0 3v2m1-61v4m0 44v2m1-37v4m1-13v3m0 4v2m0 15v2m1-28v2m0 11v5m1-11v8m0 9v2m1-8v4m0 9v2m1-11v2m0 2v2m1-8v2m0 26v4m1-43v2m0 67v2m1-82v2m0 2v3m1-7v2m0 11v4m1 16v6m1 9v2m1-43v2m0 39v2m0 4v2m2-19v4m1-24v3m1-7v2m1-15v2m0 2v3m0 28v2m1-30v2m0 37v2m0 6v2m1-19v2m0 26v4m1-60v2m1 61v4m0 45v5m1-98v2m1-2v2m3-32v2m0 4v3m0 13v2m0 26v2m1-30v6m0 2v2m1-17v2m1-17v2m0 13v2m0 63v2m1-80v2m0 31v4m1-28v2m0 2v2m0 28v7m1-26v6m0 37v2m1-56v4m0 31v2m1-9v5m1-26v2m0 26v2m1-26v4m1 11v4m2-41v2m1 46v2m1-45v2m0 11v4m1 9v2m2-26v2m2 17v5m1-35v2m0 4v7m1 15v2m1 11v2m0 5v4m0 26v2m1-65v4m0 50v2m1-19v2m1 11v4m1-39v2m1 29v6m1-43v4m1-22v3m0 19v4m0 3v2m1-33v7m1 4v2m0 15v3m1-5v2m1-26v7m0 32v7m1-48v2m1-2v2m0 78v3m1-87v2m2 50v4m1-52v7m1 34v3m2-24v2m0 11v2m0 24v4m1-56v2m0 4v2m0 3v2m0 13v2m1-26v2m0 39v2m1-39v2m1-8v2m1 32v5m2 6v2m2-39v3m0 4v2m0 15v2m1-43v2m0 33v2m1-20v7m1 22v4m1-37v2m2 5v2m1-13v4m2-15v2m0 2v2m1-6v2m0 22v4m1-9v7m0 19v3m1-33v2m0 7v2m0 45v3m1-59v4m0 18v4m1-11v5m0 15v2m0 4v2m1-28v2m1 31v2m1-13v2m1-50v2m0 3v2m0 15v2m1-19v2m0 2v2m1-15v2m0 50v2m1-52v2m0 11v2m1-6v2m0 6v3m2-18v2m0 11v2m0 3v2m0 17v2m1 15v5m0 34v5m1-96v3m0 6v2m0 24v2m1-21v2m0 26v2m1 2v4m0 20v2m1-30v4m0 28v2m1-80v2m0 42v2m1-41v2m0 30v2m1-37v3m0 2v2m0 11v2m1 19v3m1-13v2m0 34v3m1-52v2m0 15v2m1-13v2m0 15v3m3-42v3m1 4v4m0 24v2m0 20v4m0 9v2m1-56v2m1 2v4m1-19v2m0 19v3m1-22v4m0 9v6m0 11v2m0 3v2m1-22v7m0 8v2m0 18v4m1-41v2m1-13v2m1-13v2m0 29v4m0 17v2m0 18v2m1-48v5m1-26v2m0 39v2m1-24v2m0 26v2m1-28v2m1-17v2m1-13v2m0 22v4m3-28v5m0 41v2m1-35v5m1-9v2m0 13v2m1-19v2m0 19v3m1 10v3m1-48v2m1 35v8m1-26v5m0 24v2m1-20v2m0 29v4m1-22v2m1-41v2m0 50v2m1-2v2m1-23v2m2-26v2m1-7v3m1 0v2m2 17v4m1-30v2m0 39v2m1-34v4m1-15v4m0 41v7m2-2v6m1-4v2m1-41v4m0 35v2m0 11v2m1-61v5m2 0v2m0 48v2m1-61v7m1 45v4m1-36v2m0 8v3m0 2v2m4-37v2m1 5v2m1-9v2m1 9v4m0 28v7m1-11v4m1-32v4m0 46v4m1-50v2m0 3v2m1-20v7m0 26v2m1-39v2m1 20v2m0 21v3m1-48v2m0 24v2m1-15v4m1-11v3m0 26v4m1-37v4m0 3v4m1 11v2m0 54v2m1-50v5m1-33v2m1 5v2m0 9v4m1-15v2m1-9v2m0 5v2m1-13v4m0 44v4m1-48v5m0 19v2m1 7v2m1-24v2m0 7v2m0 19v3m0 10v3m1-42v3m1 2v2m1-11v2m1 18v2m1-18v3m0 13v4m1-30v2m0 17v2m0 2v3m0 23v5m2-57v3m0 4v2"/><path stroke="#ffa100" d="M0 17v5m3-20v2m0 2v3m4-5v2m0 7v2m3-9v3m1-3v5m0 4v4m0 87v2m5-34v2m7-72v2m0 3v2m7 6v2m0 3v2m1-7v5m0 10v3m2 47v5m1-72v2m0 15v3m3-31v2m0 9v2m1-11v5m1-5v3m3-7v2m1 5v2m2 0v2m1 28v4m1-28v2m1-17v2m0 5v2m2-5v3m2 0v4m3-9v2m0 48v2m1-47v2m1-9v2m2 5v2m0 4v2m5-4v2m1 33v2m1-46v2m1 20v2m2-15v2m2-9v3m0 2v2m6-2v2m4-2v2m11-7v3m3 19v2m3 11v4m1-34v4m0 15v2m1-19v2m2-13v2m7 9v2m4-6v2m2 82v2m2-86v2m2 56v4m1-45v2m1-19v2m0 6v2m3-4v4m2-10v4m0 4v2m0 20v2m5-39v2m2 13v2m0 29v6m1-41v2m2-9v3m0 10v7m0 11v2m1-35v2m4 3v2m2 6v7m1-15v2m0 6v5m0 21v2m1-43v2m0 7v2m1-11v2m2 0v2m1 0v7m1-11v2m0 2v5m0 17v7m1-29v3m1 80v2m1-87v2m1 26v3m2-33v4m0 16v2m2-2v2m1 0v2m1-26v2m0 4v3m0 23v3m1-9v4m1-26v2m1 11v2m2-2v2m4 22v2m0 13v2m1-30v2m1-28v2m3 9v2m0 2v5m0 6v7m1-5v2m0 5v2m2-26v2m1 0v2m1-17v4m1 9v2m0 2v2m1-13v3m0 2v2m0 2v4m1 78v3m4-96v2m3 7v2m0 137v4m1-154v2m3 22v2m0 11v2m2-24v2m0 18v2m1-35v2m0 9v2m1-15v2m1 7v2m0 28v2m1-32v2m1 4v2m2-6v2m2-11v2m3 7v4m0 2v3m1-5v2m2 76v2m1-95v2m2 5v4m1-4v2m0 4v2m0 83v2m2-93v2m0 32v5m2-44v2m0 11v2m1-2v2m2-6v6m1-2v2m2-10v2m7-2v2m2-2v2m2 2v2m0 67v7m2-80v4m0 2v7m3-20v2m1 5v2m0 56v2m1-58v4m1 7v2m1 15v4m8-28v2m0 2v3m3-20v2m1-2v2m3 11v2m2 22v2m1-32v2m0 13v2m1-15v2m2-4v2m2-7v2m0 5v2m1 2v2m1-17v2m0 2v2m1 3v2m3-5v3m0 2v2m1 6v3m1-13v2m3 6v2m5-13v3m1 0v2m0 4v2m0 18v2m1 19v5m4-50v2m2 4v2m2 7v2m1-13v2m1-15v2m2 37v2m1-30v2m0 15v5m2-22v6m0 7v4m2 5v2m0 8v3m1-46v4m5 0v5m1 54v2m1-54v2m1-2v2m1-11v2m3 3v2m1 6v5m1-11v4m0 9v2m1-20v5m4-5v5m2 30v2m1-2v2m2-13v5m2 6v2m2-39v2m3 9v2m1-8v4m1 0v2m1-13v2m0 26v2m5-10v4m3 6v3m3-24v2m0 28v2m1-37v3m2-3v3m1 8v2m0 81v2m9-87v2m1-15v2m0 7v2m2 4v2m3-4v4m3-8v2m2 2v7m1-7v2m5 11v4m1-15v2m2-17v2m1 13v2m3-19v2m0 7v4m0 39v2m1-50v7m1-11v2m0 22v2m1-26v4m1 7v2m2 26v2m4-35v3m3-7v2m2 0v5m3-5v2m1 0v3m1-5v2m0 35v4m1-41v2m1-6v2m2 0v2m2-4v2m0 28v2m1-23v2m0 2v2m1-9v3m2-9v2m2 4v5m0 19v2m1-32v4m0 28v3m1-35v2m0 35v2m2-26v2m0 26v2m1-19v2m1-22v5m1-7v2m1 5v2m0 4v2m1-4v2m1-6v2m0 28v2m1-35v3m0 34v2m2-45v2m0 9v2m1-11v2m0 5v2m0 43v2m0 5v2m1-5v5m0 26v2m2-87v2m1-4v2m0 9v2m0 28v2m0 9v2m2-56v2m0 4v3m1 41v2m0 48v2m1-98v2m0 3v2m1 0v2m1 39v2m1-50v2m0 9v2m0 18v2m0 4v2m1-24v3m1-9v2m1-15v2m0 15v2m1-13v3m0 2v2m0 32v3m1-39v2m0 39v2m1-48v2m0 16v2m1 13v2m1-37v2m0 7v2m4 4v2m2-8v2m0 65v2m1-74v3m0 2v2m0 11v2m2-7v5m1-7v2m0 50v2m1-71v2m0 13v2m0 72v2m1-76v2m0 41v3m1-57v2m0 11v2m1-19v2m1 20v2m0 19v2m1-28v2m0 26v3m1-48v2m0 17v3m1-13v2m1 0v2m1 2v2m0 41v3m1-16v3m1-37v2m0 2v2m0 41v3m1-61v4m0 15v3m0 39v2m0 8v3m1-63v6m1-11v3m0 4v2m0 11v2m1-9v5m1-13v2m0 2v2m1 7v2m0 35v2m0 28v2m0 2v2m1-75v2m0 37v2m0 8v3m1-72v2m0 61v4m1-6v4m1-48v3m0 4v2m1-28v2m2-2v2m0 13v2m1-11v3m2-9v2m2 11v2m3 2v2m0 35v2m0 5v2m2-46v2m2-19v2m0 11v2m0 7v2m1-7v2m1-17v2m0 15v3m1 0v2m1-5v3m1-11v2m1-13v4m3 11v4m2-19v2m1 11v2m0 9v2m1-9v2m1-19v2m0 15v2m1-17v2m0 13v5m0 32v2m2-32v2m0 37v2m0 2v4m1-54v5m1-20v2m2-4v2m0 24v2m1-11v5m1 2v2m2-7v3m0 2v2m1 58v3m1-59v2m1-11v5m1 0v2m1 41v2m0 2v3m1-55v3m0 2v2m0 45v3m1-5v2m1-58v2m0 4v3m0 36v3m1-42v5m1-5v3m2-16v3m1 17v2m0 72v4m1-37v2m1-4v4m0 2v3m1-74v4m0 35v2m1-24v5m1-20v2m0 5v2m1-11v2m1 24v2m1-26v2m0 15v5m2-15v2m0 13v2m1-13v2m1-13v2m0 5v2m0 13v2m0 58v3m2-65v2m1 2v2m0 43v3m0 23v3m1-100v2m0 26v2m1-2v2m0 63v2m2-8v2m1-15v2m1-18v5m0 58v2m1-123v2m0 9v2m0 4v2m0 5v2m0 15v2m1-21v2m0 6v2m0 20v2m0 9v2m1-61v2m0 11v2m0 7v2m0 11v2m0 22v2m0 2v2m0 61v4m1-121v2m0 9v2m0 6v3m0 52v2m1-87v2m0 7v2m0 9v2m0 26v2m1-11v2m1-37v3m0 6v2m0 61v2m1-76v2m0 20v4m1 57v4m1-74v2m0 46v2m1-52v7m0 67v2m1-76v2m0 5v4m0 39v2m0 9v2m2-52v2m0 24v2m1-28v2m0 28v2m0 22v2m3 24v2m1-84v2m0 61v2m1-78v2m0 17v2m0 42v4m1-78v4m0 85v2m1-22v2m0 7v2m1-19v2m0 30v4m1-95v4m0 24v2m0 31v2m0 15v4m1-84v2m0 15v2m0 5v2m0 35v2m0 4v2m1-65v2m0 18v2m1-11v2m1 83v2m1-37v2m1-58v2m0 11v2m1 8v3m0 28v2m0 19v3m1-63v2m1-24v2m0 11v2m0 11v4m1-2v2m0 52v3m1-24v2m0 4v5m0 10v3m1-87v2m0 54v2m1-58v2m0 22v2m1-22v2m0 3v2m0 8v3m0 62v5m1-89v2m0 22v2m0 4v2m1-23v4m0 50v2m1 11v4m1-61v5m0 37v4m0 15v2m1-71v2m0 9v2m0 52v2m1-9v5m1-70v2m0 5v2m0 9v2m0 39v2m0 9v2m1-76v2m1-2v2m0 24v2m0 35v2m1 32v3m0 21v5m1-96v2m0 7v2m0 39v4m0 7v2m1-93v2m0 61v2m1-30v4m0 24v4m1-67v2m0 61v2m1-48v2m0 13v5m0 41v2m0 11v2m1-58v2m0 24v4m0 17v2m0 13v3m2-39v2m0 4v4m1-71v2m0 26v2m0 52v2m1-71v2m0 52v2m0 13v2m1-73v2m0 2v2m0 11v2m1-30v2m0 61v2m0 4v5m1-48v2m1 4v3m0 28v2m0 19v5m1-80v4m0 54v2m1-58v2m0 2v2m0 2v3m0 10v3m1 30v2m1-56v2m2-11v2m0 24v2m1-30v2m0 26v2m0 46v2m0 6v5m0 2v2m1-87v3m0 10v3m1-22v2m0 30v3m0 28v2m1-63v2m0 26v2m0 46v4m0 5v6m1-82v2m1 0v2m0 15v2m1 33v2m0 11v2m1-43v2m0 35v2m2-74v2m0 48v2m2-52v4m0 52v3m0 30v4m1-63v3m0 34v5m1-74v2m0 28v2m1-13v3m0 10v5m1-24v2m1 13v2m0 31v2m0 13v2m0 11v4m1-63v2m1-2v2m0 24v2m0 5v2m2-35v2m0 50v2m1-84v2m0 26v4m1 31v2m1-65v2m0 59v2m0 2v2m0 17v3m1-76v2m0 61v2m1-65v2m0 6v3m0 41v2m0 6v3m0 4v2m1-48v3m0 2v2m0 22v4m1-2v2m0 9v2m0 11v4m1-89v4m0 52v5m1-35v4m0 31v2m0 15v2m1-54v2m1-2v2m0 35v2m0 7v2m0 2v2m1-80v2m0 56v3m0 6v2m0 5v2m1-76v2m0 7v2m0 19v2m0 48v7m1-52v2m0 45v2m1-21v2m0 9v4m1-30v2m0 11v2m1-33v2m0 55v2m1-57v3m1-9v2m1-2v2m0 39v2m2 22v2m1-74v3m1 47v2m0 7v2m1-80v4m0 20v2m0 37v2m0 9v4m1-78v2m0 9v2m0 15v2m0 31v2m0 17v2m1 18v2m1-102v2m0 26v2m0 37v2m1-43v4m0 61v4m1-93v2m0 5v2m0 21v5m1-35v2m0 18v2m1-22v2m0 72v4m0 2v2m1-84v2m0 11v2m0 9v2m1 56v5m0 6v2m2-95v2m0 46v2m1-50v2m0 7v2m0 6v2m0 9v2m0 50v4m1-6v2m1-9v3m0 4v2m0 9v2m1-91v2m0 26v2m0 31v2m1-28v2m1-22v2m0 15v3m0 13v2m0 11v4m1-48v2m0 16v2m1-13v2m0 78v2m1-106v2m0 28v2m0 33v2m1-37v2m0 59v2m1-93v2m0 26v2m0 2v5m0 24v2m1-48v2m0 2v3m0 8v2m0 37v2m0 13v5m1-89v2m0 56v3m0 34v2m1-67v2m1-32v2m0 61v2m0 22v2m1-61v4m0 44v4m1-78v2m0 22v2m0 52v2m0 2v3m1-59v4m0 52v3m1 6v4m1-67v2m0 3v2m0 26v2m0 15v4m0 3v2m1-89v2m0 11v2m0 43v3m1-59v2m0 63v4m0 20v2m1-80v2m0 13v2m0 57v2m1-87v2m0 2v3m0 58v2m1-67v2m0 20v2m1 41v2m1-54v2m0 54v3m1-74v2m0 28v2m0 61v2m1-67v2m0 20v2m1-20v3m0 43v2m0 11v2m1-91v2m0 7v2m0 17v2m0 50v2m1-82v2m0 24v4m1 3v4m1-35v2m0 13v3m0 8v5m0 30v2m1-67v4m0 15v3m0 15v2m2 43v2m1-78v3m0 26v2m0 39v2m0 19v3m1-100v2m0 15v2m1 3v4m0 11v2m2-7v3m0 2v2m0 4v2m1-45v2m0 35v2m0 28v2m1-32v2m0 28v2m0 20v2m1-74v2m1 42v2m1-63v2m0 37v2m0 4v3m0 19v2m0 7v2m1-43v2m0 45v7m1-83v3m0 8v5m0 15v2m0 56v2m1-97v2m0 13v4m0 18v2m0 19v3m0 13v4m1-78v2m0 11v2m0 2v2m0 13v3m0 4v2m1 0v2m0 46v2m1-69v2m0 17v2m1 0v2m0 22v2m0 9v4m1-52v5m0 30v2m1-67v2m0 11v2m0 20v2m0 13v4m0 17v3m0 21v2m1-49v2m0 21v3m1-35v2m0 28v2m1-43v2m2 0v2m0 44v2m1 4v2m1-54v5m0 8v2m0 7v2m0 17v3m1-37v2m0 39v2m1-74v5m0 13v2m0 15v2m0 48v2m1-89v2m0 3v2m0 13v2m0 19v3m1-9v2m1-26v2m0 9v2m0 2v2m0 7v4m0 33v2m0 9v2m0 4v2m1-82v2m0 30v3m1-48v2m0 17v3m0 8v2m0 5v2m0 17v2m0 18v2m1-65v2m0 35v2m1-52v2m0 50v2m0 9v2m0 26v2m1-48v3m0 32v2m1-63v3m0 28v2m1-24v2m0 28v3m0 26v2m1-11v4m1-39v2m0 11v2m0 24v2m2-56v2m0 24v4m0 22v2m1-4v4m0 5v2m1-87v2m0 11v2m0 24v2m0 2v3m0 32v2m0 7v2m1-72v3m0 62v3m0 8v2m1-60v2m1 54v2m1-56v2m0 9v2m0 32v3m1-48v2m1-39v2m0 85v2m1-46v3m0 41v4m1-48v5m0 28v2m1-30v2m0 50v2m1-100v2m1-2v2m0 18v2m0 24v2m0 15v2m0 20v2m1-91v2m0 48v2m0 35v2m0 2v6m1-45v2m1-54v2m0 2v2m0 31v2m0 11v2m1-11v2m0 15v3m1-48v4m0 35v2m2 13v2m0 15v3m1-85v4m0 13v3m0 62v3m1-83v2m0 50v2m1-52v3m1-9v4m0 44v2m1 13v2m0 19v3m1-81v3m0 6v2m0 35v2m1-35v3m0 15v2m1 54v2m1-91v2m0 61v2m0 15v3m1-11v2m0 11v2m2-63v2m0 13v2m1-45v2m1 20v2m0 6v2m0 5v2m0 24v2m0 19v3m1-7v2m0 5v2m1-74v2m0 11v2m0 26v5m1-31v2m0 50v2m1-23v2m0 28v2m1-6v2m1-78v2m0 9v2m0 45v2m1-30v2m0 11v4m1-56v2m0 50v2m1 0v2m1-58v2m0 24v2m1-22v3m0 10v3m0 69v2m1-84v2m0 21v3m1-5v2m0 3v2m1-37v2m0 15v2m0 26v3m0 15v2m0 22v2m1-28v2m1 0v2m1 0v2m1-35v3m0 23v3m1-61v2m0 22v2m0 17v7m0 37v2m0 4v2m1-71v2m0 6v3m0 4v2m0 2v2m0 31v2m1-78v2m0 37v4m0 9v2m0 11v2m0 22v2m1-89v2m0 2v3m0 41v2m0 6v3m1-5v2m0 31v2m1-91v4m0 35v2m0 15v2m1-58v2m0 43v3m0 8v2m0 31v4m1-76v2m0 22v2m0 18v2m0 30v2m3-73v2m0 4v2m0 7v2m0 13v2m0 2v2m1-43v2m0 28v3m0 10v3m0 6v4m0 18v2m1-33v3m1-61v2m0 7v2m0 21v3m0 30v2m1-19v2m1 8v3m1-50v2m0 54v2m0 22v2m1-93v2m0 50v4m1-56v2m0 33v4m0 24v2m0 30v2m1-65v3m0 6v2m1-43v2m0 9v2m0 4v2m0 33v2m0 39v2m1-93v2m0 24v4m0 13v3m0 45v2m1-41v2m1-37v3m0 10v3m0 15v2m1-46v3m0 52v2m0 30v2m1-67v2m0 33v2m1-50v2m0 44v2m1-59v2m0 57v2m0 19v3m1-78v2m0 8v3m1-22v2m0 37v2m0 20v2m1-33v2m1 57v2m1-65v2m0 26v2m0 22v2m1-39v2m0 18v2m0 21v3m1-87v2m0 56v3m3-3v3m0 13v2m0 6v2m1-62v2m0 8v5m0 41v2m1-80v4m0 18v2m0 6v2m0 18v2m0 9v2m0 2v2m0 26v2m1-45v2m0 32v3m1-87v2m1 43v3m0 6v4m1 3v4m0 9v2m0 2v2m1-67v2m0 26v4m0 20v2m0 20v2m1-67v2m0 15v2m0 22v2m1-65v2m1-2v2m0 30v5m0 24v2m1-63v2m0 61v2m0 28v2m1-95v6m0 59v4m1-52v2m0 11v2m0 16v2m0 39v2m1-91v2m0 7v2m0 19v2m0 29v2m0 30v2m1-93v4m0 18v2m0 58v3m1-78v2m0 41v2m0 2v2m1-32v4m0 20v2m0 6v5m0 19v2m1-71v2m0 26v2m0 20v2m1-59v5m0 45v2m0 3v2m0 26v2m0 19v5m1-48v2m0 20v2m1-87v2m0 13v3m0 71v2m1-28v4m0 18v2m1-87v2m0 13v3m0 41v4m0 9v2m1-48v5m0 10v3m0 4v4m1-2v2m1-50v3m0 75v5m1-72v2m1 29v2m0 13v4m0 22v2m1-89v2m0 54v5m0 26v2m1-85v3m0 58v2m1-52v2m0 44v2m0 19v3m1-26v2m0 13v4m2-19v2m0 6v2m1-10v2m1 24v2m1-31v3m1 4v2m0 17v5m1-70v3m0 41v2m0 15v2m1-54v2m0 37v2m0 7v6m1-63v3m0 6v2m1 20v4m0 30v3m0 4v2m1-17v2m0 4v2m1-17v2m0 9v2m1-24v2m0 3v2m0 17v4m1-84v2m0 22v2m0 11v4m0 7v2m0 13v2m0 2v2m0 13v2m1-28v5m0 19v2m0 2v5m1-24v2m0 20v2m1-26v2m0 6v3m1-57v2m0 5v2m0 43v2m1-36v4m0 26v2m1-6v2m0 11v2m1-76v2m0 30v3m0 26v2m1-5v3m0 4v2m0 2v5m0 4v2m0 9v2m1-85v3m0 58v2m0 13v5m1-31v2m0 7v4m0 13v2m0 5v2m2-72v3m0 43v2m0 2v5m0 8v2m1-45v4m0 18v4m1-46v3m0 21v2m0 5v2m0 15v4m0 20v2m1-93v2m0 61v4m0 13v2m0 5v8m1-73v2m0 8v3m0 4v2m0 11v2m1 33v2m1-89v2m0 9v2m0 22v2m0 15v2m0 11v2m0 33v4m1-56v4m0 13v2m0 2v5m2-16v3m1-55v3m0 58v2m1-6v2m1-15v2m0 17v2m0 7v2m0 2v2m1-62v2m0 56v4m1-84v2m0 4v3m1 21v2m0 7v2m0 7v2m0 15v2m0 11v2m1-67v2m0 72v6m1-28v2m0 20v4m1-2v2m1-76v2m0 18v2m0 47v5m1-89v2m0 13v2m0 46v11m1-7v2m0 13v2m1-13v3m1-9v2m0 2v2m0 9v2m0 33v2m1-102v2m0 31v2m0 11v2m0 4v2m2-2v2m1-21v2m0 8v5m0 24v2m1-63v2m0 20v2m0 37v2m1-87v2m0 18v2m0 17v2m0 2v3m0 21v2m1-71v2m0 82v3m1-20v2m0 18v2m2-87v2m0 15v3m0 19v2m1 0v2m1-43v2m0 26v5m1 19v2m0 2v3m1-59v4m0 18v2m0 37v4m0 9v4m1-65v7m1-11v2m0 52v6m0 9v2m1-65v2m0 52v3m1-74v2m0 56v3m0 6v2m0 2v5m1-70v3m0 4v2m0 59v4m1-78v2m1 13v2m0 31v2m0 34v3m1-72v2m0 57v2m0 2v2m1-80v2m0 13v2m1 22v2m0 37v4m1-21v2m0 6v2m1-69v2m0 35v2m0 26v2m1-13v2m0 9v2m0 5v2m0 2v2m1-76v2m0 11v5m0 13v2m1-28v2m0 54v4m1-21v2m0 8v5m0 2v2m0 9v4m1-56v2m1 2v4m0 37v2m0 3v2m1-24v2m1-54v2m0 22v2m0 50v4m1-80v2m0 28v2m0 7v2m0 15v2m0 13v3m1-29v5m0 2v2m0 11v2m0 2v2m1-49v2m0 28v2m0 33v2m1-89v2m0 17v3m0 15v2m0 32v3m0 17v2m1-39v2m1-56v2m0 4v3m0 39v4m0 4v2m1-58v2m0 20v2m0 63v2m1-89v2m0 9v2m0 17v2m0 11v2m0 16v2m1-63v2m0 24v2m0 2v5m0 30v2m1-50v2m0 48v2m1-11v3m0 15v2m1-46v3m1-22v2m0 28v2m0 20v2m1-54v2m1-15v2m0 2v2m1 22v2m0 7v2m0 37v2m1-78v2m0 22v2m0 13v2m0 2v2m0 42v2m1-78v2m0 19v3m0 32v2m1-50v3m0 32v2m0 18v2m1-76v2m0 13v2m0 18v2m0 28v2m1 9v2m1-59v3m0 15v2m0 30v2m1-23v2m0 8v3m1-20v2m1-39v2m0 59v4m1-69v2m0 22v2m1-11v4m0 35v2m1-39v2m0 48v4m0 3v2m1-70v3m0 8v2m0 44v2m0 4v2m1-71v2m0 4v3m0 15v2m0 2v2m0 83v2m2-61v2m1-26v2m1-28v2m0 24v5m0 6v2m0 13v2m2-45v4m0 74v2m1-63v2m1-26v3m0 23v3m1-33v2m0 33v4m0 22v2m2-65v2m0 15v2m0 7v2m0 39v2m0 9v2m1-50v2m1-26v3m0 60v2m1-67v2m0 18v2m0 4v5m0 30v2m1-67v2m0 4v3m1 39v2m1-31v3m0 39v2m1-48v2m0 46v2m1-54v2m0 39v2m1-54v2m0 11v2m0 43v3m1-50v2m0 19v3m1 0v2m1-37v2m0 13v2m0 20v2m0 6v3m0 13v2m0 2v2m1-67v2m1 11v2m0 52v2m2-58v2m0 9v2m0 8v3m0 13v2m1 26v2m2-78v2m0 46v2m2-50v2m0 33v2m0 13v4m0 11v2m0 9v2m1-67v2m0 2v2m1 0v2m0 50v2m2-67v2m1 18v2m0 11v2m1-37v4m0 13v3m0 34v5m0 10v3m0 28v2m1-104v2m0 13v4m1 5v2m1-26v4m0 13v2m0 18v2m1 0v2m0 7v2m0 11v2m1-52v2m0 19v3m0 26v2m1-22v2m0 2v3m0 19v4m0 13v3m1-78v2m0 47v5m0 13v2m0 11v2m1-89v2m0 2v3m0 13v4m0 43v2m0 20v2m1-93v2m0 30v3m0 8v2m1-45v2m0 43v3m2 10v3m0 8v2m1 29v2m1-102v2m0 22v2m0 11v2m0 11v2m1-52v2m0 13v2m0 9v2m0 11v2m0 15v2m0 5v2m2-63v2m0 11v2m0 57v2m1-33v2m0 29v2m1-72v2m0 48v2m1-45v2m0 48v4m1-56v4m0 24v2m0 56v5m1-70v2m1 24v2m1-45v2m0 4v3m0 45v2m0 5v2m1-15v2m1-63v4m0 41v3m0 4v2m1 30v3m1-57v2m0 11v2m0 5v2m1-50v2m0 41v3m1-26v2m1 11v2m0 26v2m1 2v4m1-39v3m1 43v2m1-76v2m0 22v4m0 3v2m0 11v2m0 21v3m0 21v2m1-80v2m1-19v2m0 15v2m0 29v2m0 15v2m0 2v2m0 20v2m1-17v2m1-72v3m0 56v2m1-4v2m0 9v2m1-76v2m0 61v2m0 4v2m0 22v2m0 7v2m1-104v2m0 35v2m0 6v5m1-44v3m0 4v4m0 9v4m0 2v3m0 2v2m0 19v3m0 26v2m0 15v4m1-60v2m0 41v2m1-91v2m0 35v2m0 7v2m0 8v3m0 2v4m1-67v2m0 17v3m0 10v3m0 4v2m0 13v4m1-58v2m0 4v3m0 17v2m0 30v3m0 4v2m0 28v2m0 3v2m1-100v2m0 9v2m0 4v3m0 6v2m0 9v4m0 33v2m0 2v2m0 13v5m0 2v2m1-104v2m0 9v2m0 11v2m0 2v2m0 18v2m0 4v4m0 9v2m1-41v2m0 31v2m0 2v2m1-30v2m0 6v3m0 6v2m1-32v2m1-24v2m0 33v2m0 22v2m1-63v2m0 24v2m1-28v2m0 48v2m1-52v2m0 20v2m1-13v2m0 4v2m0 3v2m0 11v2m1-37v2m0 15v2m0 16v2m0 37v2m1-76v2m0 33v2m1-37v2m0 24v2m0 4v3m0 164v5m1-204v4m0 22v4m2-30v2m0 4v3m0 54v2m0 9v2m1-63v2m0 76v2m0 24v4m1-121v2m0 13v2m0 11v2m0 33v2m0 13v4m0 5v2m1-89v2m0 22v4m0 30v3m0 10v3m0 10v3m0 8v2m1-65v3m0 2v2m0 117v2m1-156v2m0 39v2m0 9v4m0 13v3m1-29v3m0 2v2m0 6v3m1-20v2m0 35v2m0 46v2m1-46v2m0 33v9m3-126v2m0 102v2m1-82v2m0 39v2m0 35v4m0 11v4m1-76v3m0 65v6m1-48v3m0 45v2m1-73v2m0 71v2m1-99v2m1 6v3m1-33v2m0 119v3m0 4v4m0 28v3m1-152v2m0 9v4m0 59v2m0 69v4m1-162v2m0 41v2m1-43v2m0 9v2m0 20v4m0 87v2m1-100v2m0 5v4m0 91v4m1-132v2m0 5v2m0 19v2m0 31v2m0 4v5m1-72v2m0 57v2m0 2v2m0 2v2m1-71v2m0 17v3m0 36v3m1-61v2m0 9v2m0 26v2m0 69v3m1-109v2m0 35v2m1-28v2m0 13v2m0 16v2m0 21v3m2-59v2m0 20v2m0 32v3m1-70v2m0 46v2m0 7v2m1-11v2m0 2v2m1-49v2m0 24v2m0 17v2m0 11v2m1-30v2m0 20v6m0 4v3m1-72v2m0 48v2m1-54v2m0 72v2m1-44v3m0 6v2m0 5v2m1-31v3m0 19v2m1-30v2m0 7v2m0 24v2m0 2v2m1-54v4m0 31v2m1-33v2m0 9v2m0 15v3m1-33v2m0 61v2m1-19v2m0 32v5m2-87v2m0 33v2m0 15v2m0 26v2m1-67v2m0 2v3m0 23v3m0 21v2m0 35v2m1-99v2m0 11v2m0 2v2m1 13v2m1-43v2m1-2v2m2 13v4m0 44v2m1-54v2m0 58v3m1-68v3m0 36v3m0 6v2m1-56v2m1 48v2m1 11v2m2-33v5m1 0v2m0 22v2m0 30v2m2-84v2m2 9v2m1-24v4m0 41v3m0 32v2m1-82v2m0 33v4m0 26v2m0 4v5m0 4v2m1-26v5m0 28v2m0 9v2m1-102v2m0 15v2m0 11v2m1-21v4m0 17v3m0 17v2m0 17v3m0 6v2m1-80v2m0 5v2m0 69v4m1-78v3m0 2v2m0 24v2m0 17v2m0 18v2m1-72v3m0 30v2m0 4v3m0 13v2m1-63v2m0 41v2m0 55v2m1-93v2m0 21v3m0 28v4m1-67v2m0 2v2m0 24v2m0 11v2m0 11v2m0 11v2m0 3v2m1-74v4m0 48v2m1-56v4m0 20v2m1-17v2m0 28v2m0 22v2m1-56v2m0 30v2m1-4v4m0 33v2m1 43v2m1-112v2m0 11v2m0 11v2m0 11v2m0 19v3m1-74v2m0 11v2m0 61v2m1-22v2m0 7v2m0 11v2m1-50v2m0 16v4m1-50v2m0 72v2m1-72v3m0 23v3m0 13v2m0 8v3m1-61v2m0 17v5m0 45v2m2-71v2m0 2v2m0 91v3m1-55v3m1-29v3m0 26v2m0 8v3m0 2v2m0 30v2m1-62v2m0 6v2m1-45v2m0 24v2m0 9v2m2 89v2m17-121v2m1 19v2m1 13v5m0 8v3m0 8v2m1 9v2m0 22v2m1-106v2m0 20v2m0 26v2m1-11v2m0 33v2m0 6v3m2-46v7m0 36v3m0 2v2m2-91v2m0 56v3m0 10v5m0 15v2m1-93v2m0 7v2m0 73v3m0 4v2m0 2v2m0 13v3m1-94v3m0 58v2m0 5v2m1-31v5m0 15v2m1-61v3m0 30v2m0 41v2m1-97v2m0 9v2m0 32v3m0 30v2m1-9v3m1-46v2m0 9v2m0 2v2m0 42v2m1-67v2m0 17v2m0 5v4m0 22v4m1-78v2m0 13v2m0 13v2m1-6v2m0 37v2m0 2v2m0 16v2m1-78v2m0 82v2m0 20v2m1-119v2m1-2v2m0 41v2m0 11v2m0 35v2m1-95v2m0 28v5m0 13v2m1-31v5m1 2v2m0 20v2m0 11v2m0 11v2m0 2v2m0 11v2m2-76v2m1 42v4m0 6v3m1-72v4m0 33v2m0 17v3m1-22v2m1-37v2m0 74v2m1-41v2m0 50v2m1-84v2m0 4v2m0 33v2m0 17v3m0 28v2m1-74v2m2 7v2m0 35v2m2-59v3m1-5v2m1-19v2m0 22v2m2-22v2m0 5v2m0 26v2m0 4v3m0 4v2m1-41v2m0 37v2m0 9v2m1-65v2m0 39v2m0 20v2m1-59v3m1 39v2m1-35v2m0 5v2m0 30v2m1-56v2m0 56v3m0 21v5m1-74v2m0 15v2m0 11v2m0 24v2m0 7v2m1-24v5m1-33v2m0 67v3m1-83v2m0 33v4m0 24v2m0 37v2m0 11v4m1-127v2m0 15v2m2-13v2m0 18v2m0 17v4m0 20v2m0 11v2m1-24v2m0 13v3m2-61v2m1-26v2m0 24v2m0 44v2m1-76v2m0 11v2m0 39v2m0 2v3m1-57v2m0 7v2m0 15v5m0 19v2m0 39v2m1-95v2m1 13v2m0 57v2m1-74v2m0 22v2m0 2v3m0 75v3m0 2v2m1-52v2m0 33v2m1-102v2m0 13v2m0 5v2m0 11v2m0 52v4m1-84v2m0 19v5m0 23v3m1-61v2m0 13v4m0 29v2m0 2v2m0 2v2m1-30v4m1-32v2m0 63v2m1-54v2m2 7v2m0 15v2m1-13v2m0 61v2m1-43v2m1-4v2m0 43v2m1-95v2m0 30v5m0 8v3m1-37v2m1-7v5m1-11v2m0 11v2m0 39v4m0 3v2m0 43v2m1-108v2m0 7v2m0 117v2m1-124v5m0 28v2m0 15v2m0 13v3m1-20v2m1-17v2m1-35v5m0 13v2m1 41v4m1-4v4m1-71v2m0 41v2m0 5v2m0 22v2m0 4v2m0 2v3m1-85v4m0 20v4m0 7v2m0 48v2m1-39v2m1-52v2m0 2v2m0 31v2m0 2v2m0 11v2m0 15v3m0 2v2m1-35v2m0 7v2m0 7v2m0 24v2m1-89v2m0 48v2m0 4v2m0 3v2m1-13v2m0 13v4m1-26v2m1-15v2m0 42v2m1-72v2m0 9v2m0 35v2m0 17v3m1-74v2m0 4v3m1-9v2m0 13v2m0 28v3m0 10v3m0 13v4m1-43v2m1-37v2m0 37v2m1-41v2m0 80v2m1-78v3m2-9v2m0 30v5m0 45v2m1-80v2m0 11v2m0 3v2m0 30v2m1-56v2m0 85v2m1-37v2m0 13v2m0 13v2m1-56v4m0 48v2m1-54v4m0 37v2m1-49v4m0 9v2m0 2v2m0 13v4m0 9v2m0 7v2m0 6v3m1-57v7m0 37v2m1-63v2m0 39v2m1-30v2m0 17v3m0 2v2m0 13v2m1 39v2m1-97v2m0 82v2m0 7v2m1-91v2m0 57v2m1-33v2m1-32v2m1-15v2m0 39v2m0 18v4m0 6v3m1-24v2m0 19v3m1 0v2m0 8v3m1-72v2m0 9v2m0 30v3m0 4v2m1-45v2m0 6v2m0 3v2m0 47v7m1-91v2m0 43v3m0 17v2m0 4v5m0 4v2m0 7v4m1-87v3m0 2v2m0 13v2m0 9v2m0 17v2m0 18v2m0 2v2m1-63v5m0 19v2m1-15v2m0 33v2m0 13v2m1-58v2m0 9v2m0 24v4m1-63v2m0 24v2m0 28v3m0 4v2m0 2v2m0 44v2m2-113v2m0 57v2m1-65v2m1-2v2m0 24v2m0 13v2m1-43v2m0 4v3m0 56v2m0 7v2m0 21v3m2-63v2m0 15v2m1-41v2m0 11v2m0 65v2m0 22v4m1-123v2m0 15v2m0 5v4m0 26v2m1-56v4m0 31v2m0 8v3m0 52v2m0 4v2m0 2v3m0 15v2m1-115v2m0 65v2m1-75v2m0 37v2m0 13v2m2-43v4m0 2v2m0 41v3m1-29v3m1-46v2m1-2v2m0 2v3m0 91v2m1-41v2m0 19v2m0 3v2m1-57v3m0 6v2m1-11v3m0 56v2m1 0v2m1-45v2m1-46v3m1-9v2m1-2v2m0 2v2m0 63v2m1-49v2m0 34v3m0 28v4m0 17v3m1-109v2m0 16v2m1-15v2m0 21v3m0 36v3m1-72v2m0 37v2m0 44v2m1-87v2m1-4v2m0 2v2m0 24v2m0 42v2m1-76v2m0 28v2m1-15v2m0 13v7m2-37v2m0 35v2m2 56v3m1-94v5m0 26v2m0 15v2m0 52v2m1-49v2m2-57v3m0 78v2m1-89v2m0 24v2m1 11v2m1 4v3m1-48v2m0 76v2m1-80v2m0 9v2m0 9v2m0 4v2m0 54v3m1-52v2m1-22v2m0 63v4m0 9v2m1-95v2m0 59v2m1-54v2m0 39v2m0 24v2m1-46v3m1-33v2m0 2v3m0 19v2m0 20v2m0 32v3m1-87v2m0 50v2m1-41v2m0 7v2m0 21v7m0 19v3m2-72v2m0 7v2m0 4v5m0 30v2m0 13v2m1-69v2m0 2v5m0 78v2m2-67v2m0 13v2m0 2v2m0 39v2m0 11v2m1-97v2m0 7v2m0 82v2m1-95v2m0 69v3m1-74v2m0 24v2m0 13v2m0 2v3m0 52v2m1-78v2m0 6v3m0 49v5m1-85v2m0 61v4m1-71v2m0 76v2m1-71v4m0 11v2m0 9v2m0 8v3m0 4v4m0 9v2m0 17v3m0 2v2m1-37v2m1-28v2m0 48v2m0 2v2m1-56v4m0 13v3m0 10v5m0 32v2m1-97v2m0 20v2m0 11v2m1-5v3m0 10v3m1-48v4m0 44v2m0 4v2m0 18v2m0 17v2m1-43v2m0 39v2m1-24v3m0 10v3m1-59v2m0 11v2m0 2v3m0 39v2m1-48v2m0 9v2m0 15v2m1-71v2m0 22v2m0 37v2m0 26v4m1-80v7m0 6v2m0 9v2m1 7v4m0 19v3m1-37v2m0 9v2m0 15v2m1-65v2m0 31v2m0 60v3m1-91v2m0 15v2m0 24v2m0 28v2m1-4v2m1-67v2m2 0v2m0 3v2m0 41v2m0 41v7m1-113v2m0 2v3m0 23v3m1-5v2m1-17v2m1 2v3m0 23v3m1-16v5m1-37v2m1 24v2m0 56v3m2-48v2m0 4v3m1-31v2m1 18v2m0 6v3m0 23v3m2-74v4m0 41v3m0 6v2m0 15v3m1-65v2m0 69v2m1-82v2m0 91v2m1-65v5m2 6v2m1-6v4m0 59v2m0 4v2m1-108v4m0 80v3m1-87v2m0 43v5m0 41v2m1-41v2m0 4v3m0 26v2m1-52v2m1-39v4m0 22v2m0 2v2m0 65v3m0 4v2m1-97v2m0 32v2m0 3v2m0 11v2m0 15v4m1-82v4m0 59v4m0 7v2m0 13v2m1-50v4m0 13v3m1-13v4m0 13v2m1-67v4m0 22v2m0 2v2m0 42v2m1-52v2m1-26v2m0 54v2m1-13v3m0 2v2m0 11v4m0 7v2m1-41v2m0 43v2m0 2v3m1-87v2m0 28v2m0 24v2m0 9v2m1 9v2m1-48v3m0 2v2m0 9v2m0 13v2m0 2v2m0 9v2m1-48v7m1-37v2m0 67v3m0 2v2m1-78v2m0 13v2m0 18v2m0 15v2m0 30v3m1-59v2m0 39v5m1-74v4m0 13v5m0 52v2m0 11v2m0 13v2m1-82v4m0 15v2m0 5v2m1-26v2m1 63v2m0 4v2m1-97v2m0 43v3m0 4v2m0 9v2m0 13v2m1-80v4m0 9v2m0 43v5m0 28v2m1-93v2m0 30v3m1-33v2m0 24v2m0 63v2m1-91v2m0 48v2m1-41v4m0 7v2m0 26v2m0 5v2m0 11v2m0 6v2m0 7v2m0 7v2m1-80v4m0 11v2m0 11v2m0 2v2m0 13v2m0 5v2m0 9v4m1-89v2m0 31v4m1-11v2m0 13v2m0 3v2m0 6v2m0 9v2m1-69v2m0 7v2m0 45v2m0 18v2m0 4v2m1-28v2m0 9v7m0 28v2m1-85v3m0 10v5m0 13v2m0 11v6m0 9v2m0 22v6m1-84v2m0 17v2m0 9v2m0 48v2m1-106v2m0 65v4m1-41v2m0 24v2m0 7v4m1-47v2m0 39v2m1-59v3m0 30v2m0 30v5m1-59v2m0 22v4m0 5v2m1-48v2m0 9v2m0 2v5m0 52v2m0 13v2m0 4v3m1-96v2m0 3v2m0 8v3m0 8v2m0 9v2m0 13v2m0 20v2m1-76v2m0 18v4m0 22v2m0 2v2m0 9v2m0 9v4m0 20v2m1-87v2m0 2v3m0 6v2m0 20v2m0 17v2m1-71v2m0 24v2m1-24v2m0 3v2m0 28v2m0 15v2m0 7v2m1-56v2m0 30v2m0 5v2m0 17v2m1-65v3m0 30v2m1-24v2m0 7v2m0 43v3m0 2v2m0 9v2m1-80v2m0 15v2m0 7v4m0 28v4m1-71v2m0 43v3m0 23v3m1-18v2m1-43v2m0 44v2m0 6v2m1-54v2m0 52v3m2-72v2m1 39v2m1 3v2m0 4v2m0 7v2m1-17v2m0 41v2m1-80v2m0 63v4m1-82v2m0 4v3m1-9v2m0 87v2m1-76v4m1 31v2m1-46v5m0 67v2m1-41v2m0 7v2m1-46v2m0 18v2m0 6v3m0 4v2m0 2v2m1-4v2m0 24v2m0 9v2m1-71v2m1-5v3m0 34v2m0 11v2m1-49v2m1-11v2m0 30v3m0 19v2m0 15v5m1-63v2m0 2v2m2 5v2m0 15v2m0 15v3m0 4v2m1-39v2m0 26v2m2-23v2m1-33v2m0 3v2m0 47v3m1-61v2m0 9v2m0 4v2m0 22v2m0 11v2m0 5v2m1-50v2m0 9v2m1-26v2m0 2v2m0 57v2m0 15v9m1-61v4m0 16v2m0 24v2m1-72v2m0 7v2m1-13v2m0 28v3m0 30v2m0 7v2m1-41v2m0 4v2m0 28v3m0 13v2m1-85v2m0 9v2m0 5v2m0 8v3m0 19v2m0 33v2m1-91v2m0 43v3m0 19v2m0 13v2m1-54v5m0 2v2m0 13v2m0 15v7m1-48v2m1 5v2m0 6v2m0 13v3m1-44v2m0 18v2m0 4v2m1-43v2m0 24v4m0 39v3m1-37v4m1-39v2m0 50v2m0 31v2m1-46v2m0 20v2m1-28v2m0 9v2m0 9v2m1 19v2m0 16v6m1-39v2m0 9v4m1-60v4m0 19v3m0 4v4m1-21v2m0 15v2m1-19v2m0 26v2m0 26v2m1-91v2m0 5v2m0 39v2m0 6v3m0 2v4m0 2v2m1-58v2m0 11v2m0 22v6m1-47v2m0 52v2m0 2v2m1-2v2m0 7v2m0 2v2m1-47v2m0 28v2m0 15v2m1-65v3m0 49v3m0 10v3m1-87v2m0 13v2m0 5v2m0 47v3m1-70v2m0 13v3m0 41v2m0 2v2m0 11v2m2 9v2m1-93v2m0 24v2m1-28v4m0 39v2m0 9v2m0 9v2m0 20v4m1-33v3m1-24v4m0 11v2m1-13v2m0 2v3m0 4v2m1-30v2m0 26v2m1-37v2m0 31v2m3-52v4m0 5v2m0 8v3m0 4v2m0 9v4m0 33v2m0 2v2m1-35v3m0 13v2m1-61v4m0 11v2m0 35v2m1-52v5m0 15v2m0 26v2m1-45v2m1-2v2m0 17v2m0 22v2m1-43v4m0 26v2m0 15v5m0 2v2m0 15v2m1-84v2m0 76v2m1-69v2m0 4v2m0 5v2m0 11v2m0 11v2m0 2v4m0 18v2m1-74v2m0 9v2m0 35v2m0 7v2m1-31v3m0 8v2m0 37v5m0 2v2m0 11v4m1-95v2m0 35v4m0 2v2m0 13v2m0 9v2m1-26v2m0 31v2m1-13v2m0 7v2m1-83v3m0 39v2m0 4v2m0 2v3m1-61v4m0 37v2m0 18v4m0 2v2m0 2v3m1-5v2m0 9v2m1-80v2m0 13v2m0 48v2m1-43v2m0 4v3m0 32v4m1-49v4m0 32v3m0 4v2m1-67v2m0 26v2m0 46v2m1-69v2m0 43v2m1-56v2m0 24v2m0 2v2m1-8v2m0 9v2m0 37v2m1-74v2m0 41v3m1-46v4m0 65v3m1-5v2m1-30v2m3-41v2m1 5v2m0 2v2m0 13v2m0 5v2m1-37v2m0 11v2m0 20v2m0 17v2m0 7v2m1-59v3m0 13v2m0 4v2m0 9v2m0 4v3m0 6v2m1-50v3m0 36v3m1-20v2m0 22v2m0 2v2m1-15v2m1-45v2m0 17v3m1 0v4m0 19v3m1-48v2m0 22v2m0 26v2m0 2v2m1-56v2m0 26v2m0 24v2m1-58v4m0 54v3m1-9v2m1-54v2m0 35v2m0 4v2m1-19v2m0 4v3m0 2v2m0 35v2m1 26v2m1-104v2m0 37v2m0 28v2m0 9v2m1-45v2m0 9v2m0 50v2m1-44v3m0 23v3m1-87v2m0 37v2m0 13v2m1-56v2m1 2v2m0 5v2m0 50v2m0 6v3m0 2v2m1-61v2m0 5v2m0 13v2m0 2v2m0 9v2m1-24v5m0 2v2m0 24v2m0 2v2m0 20v2m0 9v4m1-87v5m0 2v2m0 59v4m1-65v2m0 2v2m0 63v5m1-55v3m0 2v2m0 11v2m0 2v2m0 7v2m0 2v2m1-56v4m0 9v2m0 4v3m0 4v2m0 2v2m0 7v6m1-62v2m0 2v2m0 7v2m0 8v3m0 4v2m0 22v2m0 9v4m0 11v2m1-80v2m0 2v2m0 20v6m0 37v2m0 22v2m1-106v4m0 59v2m0 17v2m0 3v2m0 15v2m2-78v2m0 18v2m0 2v2m0 7v2m0 28v2m1-76v2m0 3v2m0 28v2m0 9v2m0 11v2m0 17v2m1-82v2m0 54v3m0 6v2m0 11v2m1-95v2m0 37v4m1-11v3m0 8v2m0 11v5m0 4v2m0 2v2m0 20v2m1-93v2m0 26v2m0 44v4m1-56v2m1 19v5m0 4v2m0 15v2m0 7v2m1-80v2m0 22v2m0 15v2m0 5v2m0 26v2m0 6v3m1-87v4m0 41v3m0 28v4m1-80v2m0 13v2m0 15v3m0 10v5m1-20v2m1-30v2m0 44v2m0 15v4m0 9v2m1-45v2m0 13v2m0 13v2m2 4v3m1-72v4m0 42v2m1-35v4m1-10v2m0 8v3m0 2v2m0 17v2m0 5v2m1-48v2m0 44v2m0 13v2m1-52v2m0 13v2m1-30v2m0 2v3m0 43v2m1-54v2m0 17v3m0 10v3m0 8v2m0 11v2m1-21v2m1 9v2m1-37v2m0 13v2m0 33v2m1 19v3m1-85v2m0 13v2m1-2v5m1-22v2m0 17v3m1-22v2m1 13v2m0 26v2m1-45v2m0 74v2m1-78v4m0 67v3m1-70v2m0 18v2m1-24v2m0 5v2m0 17v4m0 11v5m0 26v4m1-37v2m1-11v3m1 19v2m3-30v2m0 11v2m1-6v2m1-18v3m0 13v2m1-35v2m0 7v2m1-11v2m2-4v2m0 39v2m1-43v2m0 4v3m1-7v2m1 11v2m2 9v2m0 28v2m1-56v2m1-4v2m0 30v3m0 32v2m1-50v3m0 13v2m0 15v2m1-26v2m0 13v2m0 22v2m0 7v2m1-54v2m0 50v2m1-67v2m0 6v3m0 21v2m1-36v2m0 13v2m0 17v2m0 3v2m1-35v2m0 11v2m0 7v2m0 6v3m1-29v3m0 15v2m0 15v4m1-34v2m0 2v2m0 22v2m0 4v3m1-61v2m0 41v2m0 9v2m0 13v2m0 3v2m1-74v2m0 5v2m0 24v2m0 19v2m1-36v2m0 4v4m0 9v2m0 26v2m0 11v2m1-49v2m0 13v6m1-8v2m0 13v4m0 7v2m0 24v4m1-72v3m0 30v2m1-56v2m0 43v2m0 5v2m1-63v2m0 54v3m1-61v2m0 37v2m1-39v2m1 28v3m1 13v2m0 21v3m1-68v5m0 15v2m0 4v3m0 28v2m1-65v2m0 4v3m1 28v2m0 45v3m1-87v2m0 13v2m1 13v2m0 29v2m1 13v2m1-39v2m0 13v2m1-34v2m0 4v2m0 26v2m1-28v2m0 5v2m1-4v2m0 2v2m0 15v2m1-13v3m0 2v4m0 11v2m0 15v2m1-84v2m0 61v2m0 6v3m1-63v2m1 2v2m0 50v2m1-32v2m1-37v2m1-4v2m0 15v2m0 5v2m0 11v2m0 28v2m1-56v2m0 4v3m0 15v2m0 2v2m0 11v4m1-58v2m0 28v2m0 31v2m1-46v5m0 4v2m0 5v2m1-37v2m0 48v4m1-54v2m0 2v2m0 13v3m0 17v4m1-11v3m1-35v2m0 46v2m0 15v2m0 9v2m1-48v2m0 11v5m0 13v2m0 13v4m2-80v2m0 46v2m1-48v2m0 7v2m0 15v2m0 33v2m0 2v2m1-41v2m0 18v2m0 2v2m0 4v3m0 15v2m1-67v2m0 4v2m0 9v2m1-8v2m0 8v3m0 19v2m0 5v2m1-61v2m0 67v3m1-74v2m0 13v9m0 56v4m0 7v4m1-95v2m1-2v4m0 39v5m0 41v2m1-59v3m0 23v3m1-59v2m0 24v2m0 26v2m0 20v4m0 11v2m0 2v3m1-100v2m0 7v2m0 15v2m1-28v2m0 7v2m0 15v2m0 2v2m0 31v2m0 6v5m1-72v2m0 9v2m0 20v2m0 13v2m0 24v2m1-80v2m0 2v2m0 20v6m0 50v2m1-34v2m0 11v2m0 9v2m0 6v2m1-71v2m0 24v4m0 15v3m0 8v2m1-71v2m0 4v3m0 15v2m0 22v2m1-50v2m0 15v2m0 5v2m1-17v2m0 24v2m0 30v2m1-65v2m1-6v4m0 31v4m0 17v2m1-32v2m0 24v2m0 7v2m0 6v5m1-57v2m0 24v2m1-45v2m0 7v2m0 2v2m0 37v2m1-35v3m0 6v4m0 26v3m0 6v2m1-69v2m0 74v2m1-69v2m0 60v3m1-74v2m0 9v2m0 15v2m1 0v2m0 18v2m0 2v2m0 33v2m1-91v2m0 30v3m0 34v2m1-62v2m0 6v2m0 13v5m0 50v2m0 2v2m1-91v2m0 9v2m0 48v4m1-67v2m0 11v2m0 43v3m0 2v2m1-39v2m0 9v2m0 17v2m0 16v2m1-76v2m0 11v2m0 9v4m0 7v2m0 6v2m0 3v2m1-44v5m0 8v3m0 6v2m1-30v2m0 2v5m0 21v5m0 10v5m0 15v2m1-65v2m0 39v2m0 42v2m0 39v2m1-98v3m0 30v2m1-50v7m0 21v3m0 4v2m0 13v2m1-67v2m0 2v3m0 10v3m0 10v3m0 2v2m1-7v3m0 19v2m0 2v3m0 15v2m1-76v2m0 28v3m0 34v2m1-43v2m0 2v3m0 8v2m0 11v2m1-26v3m1-11v2m0 4v2m0 9v2m1-4v4m1-24v3m1-3v3m0 17v2m0 11v2m0 13v2m0 2v3m1-55v3m0 39v2m0 11v2m1-72v2m0 22v2m1-21v2m0 13v4m1-26v2m0 52v2m0 24v5m1-87v2m0 4v3m0 21v2m0 3v2m0 13v2m0 37v2m1-80v2m0 4v2m0 61v2m0 5v2m1-74v2m0 13v5m1-20v2m0 7v2m0 2v2m0 24v2m1-52v2m0 5v2m0 6v5m0 28v2m1-52v2m0 15v3m0 41v2m1-65v2m0 15v2m0 18v2m0 13v2m1-11v2m0 13v3m1-3v3m1-22v2m0 4v3m0 2v2m0 22v4m1-78v2m0 80v2m1-49v2m1-37v2m0 24v2m0 35v4m0 50v2m1-119v2m0 48v2m1-48v2m0 24v2m1-13v3m1-18v2m0 3v2m0 37v2m0 4v4m1-39v3m0 17v2m0 17v3m2-57v2m0 31v2m0 30v2m1-71v2m0 35v2m0 15v2m0 9v2m1-65v2m0 18v2m0 17v2m0 2v3m0 15v2m0 4v2m0 5v2m0 11v2m1-91v2m0 13v2m0 59v2m1-78v2m1-2v2m0 13v2m0 13v2m0 18v2m0 2v2m1-43v2m0 17v3m0 6v2m0 18v2m1-44v3m0 32v4m1-15v2m0 20v2m1-50v2m0 3v2m0 17v2m1-37v3m0 4v2m0 9v2m0 9v4m0 19v3m1-55v5m0 17v2m0 5v2m1-31v3m0 6v4m0 35v2m1-37v3m0 2v2m0 19v5m1-18v3m0 15v2m1-39v2m0 11v2m0 4v3m0 21v2m0 3v2m1-61v2m0 9v2m0 2v5m0 19v2m1-43v2m0 24v2m0 2v2m1-28v2m0 26v3m0 23v3m0 4v2m1-35v3m1-35v2m0 15v2m1-19v4m0 28v5m0 2v2m0 11v2m0 2v2m0 13v5m1-76v2m0 22v2m0 13v2m0 20v2m0 11v2m0 2v2m1-67v2m0 35v2m0 28v2m1-69v4m0 41v3m0 17v2m1-78v2m0 13v2m0 9v2m0 18v4m1-52v2m0 41v2m1-45v2m0 15v2m0 11v2m0 20v2m1-43v2m1-4v2m0 2v4m0 15v5m0 6v2m0 9v2m1-39v2m0 3v2m1-24v2m0 15v2m0 44v2m0 22v2m1-39v2m0 4v2m0 5v4m0 2v2m1-71v4m0 22v2m0 26v2m0 2v3m0 17v2m1-80v4m0 13v2m0 13v3m1-9v2m0 15v2m1-4v2m1-32v2m0 6v3m0 2v2m0 13v2m1-24v2m0 11v2m0 9v2m1-41v2m0 15v3m1-22v4m0 9v2m0 28v2m0 29v4m1-17v2m1-41v2m1-22v2m0 13v2m0 26v3m0 10v3m0 13v2m0 17v2m1-82v2m0 52v2m3-50v5m0 2v2m0 22v2m0 9v4m1-43v2m0 28v2m1-28v2m0 2v2m1 11v2m0 11v2m0 9v2m1-30v4m0 13v2m0 9v2m1-69v2m0 2v2m0 5v2m0 24v2m0 4v2m1-28v2m0 44v2m1-65v2m0 7v2m0 45v5m1 8v2m1-69v2m0 9v4m0 9v2m0 2v2m0 3v2m0 15v2m1-39v2m0 2v3m0 10v3m0 60v2m1-97v2m0 7v2m0 15v4m1 0v5m0 19v2m0 13v2m1-69v2m0 5v4m0 6v5m0 6v5m0 21v2m1-15v2m0 16v2m1-41v2m0 2v2m1-9v3m0 6v4m0 5v2m0 11v2m0 6v3m1-61v2m0 9v2m0 9v2m1 0v2m0 2v2m1-8v2m0 2v2m0 17v3m1-48v2m0 15v2m0 7v2m0 7v2m0 13v2m0 13v2m1-63v2m0 11v2m0 5v4m0 15v2m1-36v2m0 11v2m0 6v2m0 37v2m1-71v2m0 17v3m0 26v2m0 13v2m0 9v2m1-33v2m0 5v2m0 52v2m1-61v3m0 2v2m0 9v2m1-41v2m0 17v2m1-41v2m0 65v2m1-26v3m1-22v2m0 48v2m1-78v2m0 48v2m0 6v3m0 2v2m0 2v2m1-60v2m0 2v2m0 17v3m0 4v2m0 15v2m0 3v2m1-11v4m1-56v2m0 26v2m0 20v2m1-33v3m0 10v3m0 6v2m1-30v2m0 9v2m0 11v2m0 24v2m1-65v2m0 11v2m0 2v2m0 13v3m0 17v2m0 9v2m1-48v2m1 39v3m1-59v2m0 39v2m1-43v2m0 11v4m0 48v2m0 2v3m2-39v2m0 17v2m0 13v2m1-62v2m0 2v4m0 24v2m0 15v3m1 0v2m1-46v2m0 18v2m1-4v2m0 2v2m1-9v3m0 4v2m1-32v2m1-11v2m0 2v2m0 26v3m0 26v4m1-63v2m0 22v2m0 17v3m1-48v2m0 2v2m0 29v2m0 8v3m1-42v3m0 10v3m0 45v2m1-69v2m0 7v2m0 13v2m0 2v4m0 3v2m1-22v2m0 11v2m1-24v3m1 6v2m0 7v2m0 4v2m0 3v2m1-31v3m0 6v2m0 13v2m1 5v4m2-26v2m0 11v2m1-26v2m0 39v5m0 19v2m1-62v2m0 43v2m1-56v6m1-4v4m0 20v2m0 39v2m1-63v3m0 32v2m1-41v2m0 15v3m0 6v2m0 24v2m1-45v2m0 48v2m1-48v2m0 9v2m0 13v2m1-34v4m0 28v2m1-24v3m0 28v2m1-52v2m0 2v2m0 31v2m0 9v2m1 2v2m1 0v2m0 18v4m2-43v2m0 19v2m1 33v2m1-87v3m1-9v2m0 15v7m0 34v3m1-57v5m0 47v2m1-30v2m1-4v2m1-2v2m2-19v4m0 6v3m0 10v3m0 15v2m1-41v4m0 20v2m0 13v2m1-17v2m1 54v6m1-62v2m0 47v3m1-87v4m0 37v2m1-43v2m0 91v4m2-75v4m0 15v7m1 15v2m1-61v2m0 11v2m0 20v2m0 15v2m1-52v7m0 13v4m1-8v4m1-20v3m0 2v2m0 17v5m1-18v2m1 16v2m0 6v2m0 35v4m1-30v2m1-28v2m0 9v4m1-37v3m0 13v2m0 45v2m1-45v2m0 13v2m0 9v2m1-15v2m0 28v2m1-15v2m1 5v4m1-52v2m0 39v2m0 5v2m3-54v2m0 26v2m1-17v2m0 4v2m1 11v2m0 37v2m1-78v3m0 17v2m0 15v2m1-32v2m0 2v2m1 24v5m1-44v2m0 7v4m0 5v2m0 13v2m0 24v4m1-65v4m0 13v3m0 6v2m0 2v3m2-29v7m0 17v2m0 3v2m0 6v5m1-5v7m1-46v2m0 5v2m0 2v2m0 2v3m0 19v2m1-15v2m1 24v2m1-2v2m1-34v2m0 4v2m1 18v2m1-33v9m0 15v4m1-21v6m0 2v3m0 21v2m1-47v2m0 6v3m0 8v2m0 39v3m1-68v5m0 17v2m0 26v2m1-34v2m0 45v3m1-59v2m0 22v2m1-35v3m0 4v2m1-13v2m0 15v3m2-13v2m0 73v3m1-87v2m0 2v2m1 20v2m0 30v3m1-44v7m0 17v2m0 28v3m1-52v2m1-22v2m0 54v3m1-37v2m0 6v3m0 15v4m1-39v2m1 13v7m0 6v7m2-20v5m1 21v2m1-28v5m0 8v5m1 4v4m0 22v2m2-74v5m1-11v6m0 3v2m1-7v5m0 10v3m1 10v3m1-3v3m0 13v2m1-37v2m0 2v2m1-6v4m0 9v4m1-24v5m1-2v2m3 11v2m0 34v3m1-52v2m0 6v2m1 3v2m0 11v2m1-28v2m1 30v2m0 2v3m1-46v2m0 74v2m2-35v3m1-24v2m1-22v2m0 16v2m0 2v2m0 4v3m0 13v4m1-24v2m0 13v2m0 11v7m0 6v2m1-69v2m0 24v2m0 2v3m1-33v4m1 3v2m1 6v5m0 17v2m1-30v2m0 6v3m0 26v2m0 13v2m1-17v2m1-18v3m0 13v6m2-35v5m0 26v2m1 9v2m0 24v2m1-87v2m0 41v3m1-16v11m0 9v2m1-43v4m0 2v2m0 11v2m1 33v2m3-52v2m0 5v2m1-5v3m0 2v2m0 26v2m1-39v2m2 0v2m0 5v2m0 39v6m1-65v3m0 41v2m1-35v7m0 32v2m1-58v2m0 30v5m0 11v2m1-50v4m1 5v2m1 0v4m0 24v2m1-32v2m0 56v2m1-43v2m0 4v3m0 4v2m0 17v3m0 10v3m1-9v2m1-61v7m1-7v5m1 11v2m2-11v2m0 15v2m1-30v2m0 7v2m0 9v2m2-13v4m1-13v4m0 7v2m0 30v3m1-7v2m0 9v2m1-39v4m0 31v6m1-37v3m0 6v2m0 13v5m2-9v2m1-26v4m0 16v2m1 4v2m0 2v3m1-20v2m0 9v2m2 7v6m1-35v3m1-22v4m0 18v2m1-11v2m0 2v2m0 13v3m0 26v2m1-33v2m0 5v6m3-43v4m1 15v3m0 21v2m1-41v2m0 3v2m0 2v2m0 2v2m0 26v5m1 13v2m2-35v7m1 13v2m1-39v6m0 22v2m1-39v2m0 5v2m1-9v2m0 16v2m0 2v2m0 15v7m1-41v2m0 37v6m1-50v2m0 46v2m2-48v5m1 34v3m1-33v2m0 20v6m1 5v4m1-13v4m1-34v4m0 11v2m1-15v4m0 41v2m2-56v2m0 20v2m0 28v2m1-41v2m0 11v2m0 13v2m1-43v2m0 35v2m0 2v2m1-13v3m3-33v2m0 22v2m2-11v2m1-6v6m0 18v2m1-33v3m1 41v2m1-48v2m1 37v5m0 4v2m0 11v2m1-45v2m0 17v2m1-28v2m0 13v2m1-30v2m1-2v2m0 31v2m0 6v2m1-8v2m1 17v5m1-61v2m0 26v4m0 5v4m3-32v2m0 17v2m1-21v4m0 201v5m1-195v2m0 30v7m2 13v2m1-35v2m1-32v2m0 7v4m1 0v2m1 0v2m0 24v2m1-26v2m0 29v2m1-37v2m0 20v4m1-30v2m0 4v2m2 13v5m1-33v2m0 18v2m1-33v2m1 0v5m1-9v4m0 46v2m1-50v2m1 16v2m0 11v4m1-35v2m0 20v2m1-6v2m2-24v6m0 11v2m0 52v3m1-68v3m0 10v3m0 13v4m1 19v5m1-41v2m1-24v2m1 2v7m0 6v2m0 3v2m1-2v4m0 32v3m1-57v2m0 16v2m0 17v7m2-9v2m3-11v5m1-18v2m1-13v3m1 36v3m2-37v2m0 4v2m0 13v3m1-22v2m2 26v7m0 34v2m2-78v3m0 10v5m0 32v2m1-54v2m0 7v2m0 41v2m1-28v2m1-21v2m0 2v2m1 9v4m0 26v2m0 16v6m1-52v4"/><path stroke="#ff7b00" d="M0 11v2m1-7v3m1 8v7m2-20v2m1-4v4m2 0v3m1-5v2m0 3v2m0 4v2m2-15v2m0 9v9m1 82v2m1-100v3m0 56v2m1-63v2m1 3v2m1 2v2m1-13v2m0 5v2m0 43v2m1-47v2m0 2v2m0 87v2m5-61v2m2-39v5m1-7v5m0 4v2m8 65v2m3-78v5m2-7v4m0 11v2m3-10v2m1 2v2m0 2v2m4-13v3m1 69v6m2-73v4m1-13v2m0 13v5m1-11v2m0 26v2m2-26v4m3-13v3m1-9v2m0 4v5m2 15v4m3-15v2m1-4v4m2 22v2m2-28v2m2-6v4m1-4v2m1-2v2m1-7v2m0 26v3m3-31v2m0 9v2m0 31v2m2-46v2m0 31v4m1 0v2m1-37v5m3 2v2m1 26v2m2-30v6m2-15v2m0 26v5m2-28v2m1-7v7m2 8v5m1-20v7m5 4v4m0 20v2m2-41v2m2 13v2m4-8v4m1-4v2m0 2v2m4-4v4m1-13v9m3-2v8m2-6v2m1-13v4m0 15v3m1-7v2m1 0v5m1-20v2m1 2v3m3-3v5m1-11v2m0 11v4m0 2v3m1-13v2m1 0v2m1-9v2m1 5v2m2-4v2m1 4v2m1-13v2m0 9v2m1 78v2m3-93v5m0 56v2m1-65v2m4 28v3m1-31v2m0 39v3m1-39v2m1-5v3m3 4v2m0 2v2m1-15v2m2-2v2m1 5v2m0 2v4m2-4v2m0 50v2m0 28v3m0 2v2m1-91v2m1-11v2m0 7v2m2-4v2m1-9v2m0 29v2m3-28v2m2-7v2m0 3v2m0 4v2m0 2v3m1-16v3m1-7v4m0 9v2m3 9v2m1-24v2m1 5v2m1 0v2m1-11v2m0 5v2m0 24v4m0 56v3m1-94v3m1-5v2m2 94v4m1-100v2m1 13v3m1-13v2m1 4v4m0 57v2m1-61v2m0 24v2m1-30v4m1 0v5m1-7v2m1-13v3m1-3v5m1-2v2m0 8v7m1-9v2m1-19v6m0 9v2m1 0v2m0 72v2m1-78v2m0 20v2m1-26v2m1-6v2m0 8v3m2-18v2m0 9v2m1-13v5m0 62v3m1-72v4m1 3v2m1-11v2m0 2v5m2-5v2m0 16v6m3-24v2m1 16v2m0 13v2m1-15v2m0 15v2m1-43v2m1 15v2m4-15v2m1 5v2m1-2v4m0 22v2m2-33v3m4-5v7m1 0v2m1 4v2m1-2v2m1-8v2m0 2v4m1-8v2m1-4v2m3 2v4m1 0v2m1 18v2m2-22v2m3-15v2m0 3v2m2 28v2m3-28v2m1-6v4m1 4v2m2 11v2m2-26v5m1-9v2m1-4v6m0 61v2m2-65v2m1 9v2m2-6v4m1-13v2m1 0v5m2 4v2m1-15v2m0 2v2m1 20v2m1-26v2m0 13v2m1 7v2m1-22v3m2-7v2m0 26v2m5-23v2m2-9v4m3 16v2m2-18v5m1 2v2m2-11v2m0 11v2m0 16v2m6-31v3m0 32v2m2-26v5m1-9v2m1-2v2m0 13v2m1-15v2m1-15v2m2 0v2m0 5v2m1 4v7m1-22v2m0 2v3m0 26v2m2-35v4m2 11v5m1-16v3m0 2v4m0 7v2m5 0v6m1-21v4m0 54v2m1-65v5m1 0v2m1 2v6m2-15v2m2-6v2m0 2v2m1 11v2m2-6v2m0 67v2m2-67v2m4 18v2m12-33v3m3 8v2m6-8v4m1-6v2m1-5v5m3 2v4m0 11v2m1 67v3m1-78v2m1-18v3m1 8v2m1-6v6m1-2v2m1 13v3m3-33v2m0 9v2m1-11v2m0 3v2m3 11v6m4-11v2m1-10v2m2-7v2m1 11v2m4-17v2m2-4v2m1 0v2m0 7v2m2-13v2m1-2v2m1 13v4m1-6v2m1 2v2m1 11v2m2-23v2m0 6v2m2-19v2m3 0v2m1-4v2m0 2v2m1 3v2m1-11v2m1-2v2m2-2v4m2-4v2m0 2v2m1-6v2m1-2v2m0 2v2m0 18v2m1-26v2m0 22v2m1-26v4m1-2v2m1-4v6m1-6v2m1-2v4m1 2v3m0 10v3m1-20v2m0 2v3m1-9v2m3-2v4m0 7v2m1-9v2m2 3v2m1-2v2m1 0v2m1-7v3m0 6v2m1-17v4m0 50v2m1-15v2m2-19v2m0 17v2m1-45v2m0 2v2m1-2v2m0 24v2m0 13v5m1-44v3m0 15v2m0 22v4m2-20v3m0 28v2m1-65v2m0 4v3m1-5v2m0 7v2m1 7v2m1 0v2m2 9v2m1-37v2m1 0v2m4 13v2m0 16v2m1-7v2m0 9v2m1-37v3m0 17v2m1-26v2m0 44v4m1-41v2m0 39v2m1-52v2m0 5v2m3-11v2m0 4v3m1 0v4m1 0v4m1-17v2m0 22v2m1-26v2m0 9v2m1 17v2m2-26v5m0 2v2m0 26v2m1-34v2m0 6v2m1-19v2m0 13v2m1 33v2m1-52v2m0 2v2m0 24v2m1-30v2m0 11v2m0 31v2m2-33v5m1-7v2m1-15v2m0 2v3m1-9v2m0 22v2m1 11v2m1 22v2m2-61v2m0 5v2m1 11v2m0 4v2m0 44v2m3-61v4m0 70v2m2-91v2m0 4v3m0 2v2m0 4v2m0 46v2m1-65v2m0 5v2m0 6v5m0 23v3m0 6v2m0 18v2m1-35v2m1-26v5m1-13v4m0 54v2m1-26v2m1-28v2m1 0v3m1 10v3m0 17v2m1-37v2m1-8v4m0 13v2m1-30v4m0 9v2m1 22v2m1 0v2m1-9v3m1-35v2m0 9v2m0 2v2m1-17v2m0 2v2m0 11v2m1 26v3m2-33v4m0 22v2m0 18v2m1-18v3m1-48v2m1 0v2m0 7v2m0 2v2m0 2v3m1-5v2m1 3v2m0 41v2m1-63v2m0 9v2m0 31v2m1-48v2m0 5v2m0 2v2m0 2v2m0 9v2m0 18v2m1-41v2m0 45v2m1-4v2m1-56v2m0 4v3m1-5v2m0 16v2m1-5v5m1-24v4m0 5v2m0 50v2m1-61v2m1 2v3m0 6v2m0 35v2m1-35v3m0 26v2m0 11v2m1-41v2m0 24v2m2-28v2m1-7v2m1 3v4m0 17v2m2-43v2m0 11v2m0 20v2m0 2v2m1-26v2m0 13v3m1-35v2m0 7v2m0 4v4m1-19v4m0 2v3m0 8v2m0 3v2m1-5v3m0 4v2m1-28v2m0 9v2m1-13v2m0 20v2m0 4v2m1-4v2m0 15v2m0 29v2m1-76v2m0 4v3m0 6v4m0 7v2m0 24v2m1-54v2m0 17v5m0 6v2m0 44v2m1-61v2m0 24v2m0 20v2m1-6v4m1-63v2m0 2v3m0 2v2m0 9v2m1-7v2m0 5v2m1-26v2m0 11v2m0 4v3m0 30v2m1-54v2m0 13v2m1 7v4m0 30v3m0 10v3m1-74v2m0 11v2m0 4v3m0 32v2m1-43v4m0 2v5m0 19v2m0 9v2m0 46v4m1-106v2m0 7v2m0 2v2m2 4v3m0 4v2m1-28v2m0 9v2m0 6v3m1-9v6m2-19v2m0 13v7m1-3v3m0 10v3m1-29v3m0 4v2m0 11v2m1-22v3m0 13v4m1-26v4m0 7v2m0 4v2m0 37v2m0 26v3m1-63v2m1-15v2m0 52v4m1-60v4m0 4v2m0 37v2m1-43v2m0 5v2m1-13v2m0 2v2m0 52v2m0 13v3m1-85v7m0 4v2m1-15v2m0 11v4m0 2v3m0 4v2m0 35v2m0 13v6m1-82v2m0 9v2m0 7v2m0 13v2m0 30v2m1-62v2m0 6v2m0 9v2m0 15v3m0 30v2m1-80v4m0 26v2m0 52v5m1-67v2m1 0v2m1-9v2m0 5v2m0 9v2m0 17v2m1 18v4m1-78v4m0 20v2m0 11v2m0 22v2m0 6v2m1-52v7m0 11v2m1-24v2m0 5v4m0 63v2m1-91v2m0 9v4m0 7v4m1-17v2m0 2v2m0 2v2m1-17v2m0 13v2m0 9v2m0 2v3m0 30v2m1-56v2m0 2v4m0 5v2m1 6v3m0 2v2m0 43v5m1-87v2m0 9v2m0 9v4m0 65v4m1-95v6m0 16v2m0 43v7m1-52v4m0 35v2m1-63v2m0 2v2m0 11v2m0 37v2m0 11v2m1-47v4m1 43v3m1-65v2m0 6v2m1-19v2m0 9v2m0 19v3m1-35v2m0 9v2m0 4v2m0 68v2m1-67v2m0 4v2m1-30v4m0 13v2m0 3v2m0 63v4m1-69v4m0 15v2m1-41v2m0 15v3m0 82v4m1-108v2m0 22v2m0 11v2m1-39v2m0 13v2m0 2v3m0 15v2m1 15v2m0 31v4m2-30v2m0 17v2m1-54v2m0 37v2m1-67v2m0 61v2m0 7v2m0 6v2m0 16v2m1-96v3m0 6v2m0 52v2m1-49v2m0 4v2m1-4v2m0 2v2m1-23v4m0 67v2m1-17v4m1-67v2m0 22v2m0 54v2m1-84v2m0 4v3m0 67v4m1-30v2m0 22v2m1-76v2m0 61v4m1-43v4m1-22v3m0 10v3m0 4v2m0 43v5m1-67v2m0 17v2m1 46v2m1-50v2m0 37v2m0 31v4m1-39v4m0 18v2m1 0v2m1-74v5m0 8v2m0 11v2m0 20v2m1-41v2m0 9v2m0 24v2m1-35v5m0 30v2m1-63v2m0 37v2m0 18v2m1-65v2m0 9v2m0 52v2m0 15v2m1-75v2m1 13v2m1-2v2m0 43v2m1-39v3m1 21v2m1-41v2m0 5v2m0 35v2m0 2v2m2-11v5m0 13v2m0 15v2m1-93v2m0 26v2m0 26v2m1-30v2m1-17v2m0 30v3m0 41v2m1-82v2m0 4v2m0 9v2m0 15v2m0 7v2m0 13v4m1-52v5m1-24v2m0 2v2m0 16v2m1-15v2m0 63v2m1-63v2m1-13v2m0 22v2m0 2v5m1 28v2m0 9v2m1-76v2m0 22v2m1-20v3m0 73v2m1-84v2m0 26v4m1-6v4m0 20v2m0 28v2m1-82v2m0 26v2m0 15v3m1-39v2m0 13v2m0 52v2m0 9v2m0 30v2m1-123v2m0 28v2m1-21v2m0 11v2m0 2v2m0 54v3m1-87v2m0 2v2m0 22v2m1-15v4m0 35v2m1-56v2m0 24v2m0 35v2m0 9v2m1-76v2m0 13v2m0 39v2m0 3v2m1-63v4m0 24v2m0 11v2m0 26v5m0 13v2m1-89v2m0 7v2m0 30v2m1-37v3m0 4v2m1 7v2m0 24v2m0 11v2m0 26v4m1-78v4m1 37v2m0 35v2m1-95v2m0 13v2m0 7v4m1-28v2m0 7v2m0 6v2m0 13v3m0 30v2m0 7v2m1-54v2m0 41v2m1-26v2m0 24v2m1-63v3m0 6v2m0 18v2m0 19v2m0 20v2m1-80v2m0 13v2m0 61v2m0 2v5m0 8v7m1-102v2m0 9v2m0 54v2m0 5v2m1-76v2m0 22v2m0 41v2m1-47v4m1-24v4m0 11v2m0 9v2m0 31v2m0 15v2m1-78v2m0 9v2m0 2v2m1-15v2m0 22v2m0 48v4m0 2v3m1-68v3m0 41v2m0 26v2m1-93v2m0 4v3m0 54v2m2-41v2m1-24v2m0 11v2m1-11v3m0 4v2m0 50v2m1-67v2m0 4v3m0 21v2m0 57v2m1-4v2m1-61v2m0 31v2m1-46v2m0 3v2m0 26v2m0 4v2m1-56v4m0 11v2m0 7v2m0 15v2m1-45v2m0 4v3m0 19v2m1-28v2m0 22v2m0 22v2m0 39v2m1-93v2m0 11v4m0 2v3m0 60v5m2-81v5m0 65v2m1-52v2m0 2v5m0 67v2m2-104v2m0 13v2m0 7v4m0 59v2m1-89v6m1 16v4m0 35v4m1-43v2m0 32v2m1-45v2m0 7v4m0 17v2m1 42v2m1-87v4m1-6v2m0 24v2m0 2v5m0 47v2m0 3v2m1-89v2m0 11v2m0 4v3m0 8v2m0 13v3m1-48v2m0 9v2m0 2v2m0 48v4m0 5v2m1-59v5m0 30v2m0 11v2m2-61v5m0 8v3m0 6v2m2-24v3m0 17v4m0 61v2m1-76v2m0 9v2m1-28v4m0 33v2m0 35v2m1-56v4m0 41v2m1-28v2m0 13v2m0 16v2m1-72v2m0 13v3m0 69v2m1-87v3m0 43v4m0 22v2m1-80v2m0 17v3m0 6v2m0 13v2m0 16v2m0 13v2m0 2v2m1-82v2m0 20v2m1-2v2m0 2v2m0 2v2m0 16v2m0 19v5m0 17v4m1-95v2m0 9v2m0 15v2m0 31v2m0 8v5m1-67v2m0 4v2m0 61v2m1-80v2m0 67v2m1-71v2m0 9v2m0 17v5m1-26v2m0 11v2m0 2v2m0 37v2m0 4v3m0 15v2m1-85v3m0 10v3m0 4v2m0 37v2m1-65v2m0 9v2m0 30v3m1-48v2m0 35v2m0 24v2m1-65v2m0 33v4m1-22v2m0 65v5m1-76v2m0 4v3m0 58v7m1-85v4m0 26v3m0 32v4m1-69v2m1 31v2m0 41v2m1-80v2m0 7v2m0 11v2m0 8v3m1-31v2m0 5v2m0 17v2m0 48v2m0 7v2m1-82v2m0 2v2m0 4v3m0 4v2m0 4v3m0 4v2m0 28v2m1-43v2m0 52v2m1-84v2m0 11v2m0 20v2m1-33v2m0 9v4m0 3v2m0 11v4m0 63v6m1-73v2m1-9v4m1-32v2m0 28v7m0 32v2m0 16v2m1-78v6m0 11v4m0 31v2m1-59v3m0 4v4m0 2v5m0 8v3m0 8v2m0 3v2m1-13v2m0 22v2m1-63v2m0 2v2m0 16v2m0 2v2m1-19v2m0 50v2m0 15v4m1-80v2m0 9v2m0 11v2m0 54v2m1-73v2m1 26v2m0 35v2m0 2v2m1-76v3m0 2v2m0 11v2m0 4v5m0 4v2m0 17v3m1-61v2m0 4v3m0 8v2m0 9v2m0 9v2m1-35v3m0 2v4m0 78v4m1-60v2m0 35v2m1-76v2m0 15v2m0 3v2m0 19v2m0 29v2m1-50v4m1-30v6m0 33v2m0 20v2m0 19v2m1-75v4m0 9v2m0 6v2m0 9v4m1 20v2m1 20v2m0 4v2m1-91v2m0 18v2m0 2v2m0 5v2m0 37v2m1-41v2m1-37v2m0 9v2m0 4v2m0 7v2m0 7v2m0 56v2m1-95v4m0 39v2m0 46v4m1-95v4m0 33v2m1-39v2m0 65v2m0 11v2m2-71v4m0 20v2m1-18v3m0 6v2m0 9v2m0 7v2m1-33v2m0 65v3m0 6v2m1-69v2m0 13v2m0 31v2m1-76v2m0 33v2m0 32v2m0 3v2m0 8v5m0 8v3m0 26v2m1-111v5m1-16v3m0 2v2m0 22v2m0 8v3m1-37v2m0 4v2m0 18v2m0 11v2m0 2v2m0 2v3m0 30v2m1-93v2m0 9v4m0 7v2m1-24v2m0 13v2m0 24v2m0 2v3m0 34v5m1-85v2m0 11v2m0 33v2m0 30v5m1-87v2m0 9v2m0 11v2m0 17v2m0 3v2m0 2v2m0 17v3m0 8v2m0 3v2m0 13v4m0 9v2m1-117v2m0 24v2m0 4v3m0 4v4m0 50v2m1-82v2m0 9v4m1-11v5m0 28v2m0 13v4m0 28v3m1-87v4m0 20v2m0 32v3m1-50v6m0 35v2m0 20v4m1-65v2m0 41v2m1-30v2m0 50v4m1-97v2m0 11v2m0 13v2m0 9v4m1 2v5m1-50v4m0 15v3m0 23v3m1-48v2m0 4v3m1-7v4m0 18v2m0 6v3m1-35v2m0 2v2m1 11v2m0 9v2m0 18v2m0 30v4m1-84v2m0 9v2m0 2v2m0 26v2m0 11v2m0 29v2m1-89v2m0 22v2m0 6v3m0 54v2m1-43v4m0 32v3m0 4v2m1-89v2m0 9v7m0 4v2m1-28v2m0 46v2m0 6v2m0 16v2m1-76v4m0 2v3m0 10v3m0 2v2m0 13v2m0 4v3m0 6v2m1-8v2m1-41v2m0 13v2m1-26v2m0 11v2m0 20v2m0 4v2m0 9v2m0 33v2m1-70v3m0 21v5m0 2v2m0 35v4m1-69v2m0 30v4m1-52v3m0 2v2m0 19v3m0 10v7m1-52v4m0 18v2m0 24v2m1-44v3m0 28v4m0 11v4m1-4v2m1-54v2m0 7v2m0 13v2m0 4v2m0 20v4m1-13v2m1-45v2m0 4v3m0 26v2m0 2v2m0 2v2m0 13v3m0 26v4m1-78v2m0 4v3m0 4v2m0 15v2m1-28v2m0 13v3m0 54v2m1-91v2m0 13v2m0 44v2m0 26v2m1-91v2m0 9v2m0 17v2m0 3v4m0 13v2m0 4v3m1-31v5m0 15v6m0 33v2m1-61v2m0 24v2m0 29v4m1-91v2m0 13v2m0 15v3m1-11v4m1-28v2m0 41v2m0 3v2m0 2v2m1-52v2m0 15v3m0 10v3m0 2v2m0 13v4m1-39v2m0 5v2m0 15v4m0 5v2m0 2v2m1-50v3m0 17v2m0 26v2m1-56v4m0 33v2m0 15v2m1-54v2m0 11v2m0 2v3m0 6v4m0 3v6m0 20v2m0 15v2m1-80v2m0 7v2m0 30v2m0 5v2m0 2v2m0 2v2m0 33v2m1-74v7m0 9v2m0 13v2m1-11v2m0 39v2m1-84v2m0 4v3m0 10v3m0 19v4m0 5v2m0 37v2m1-87v2m0 3v2m0 11v2m0 2v2m0 2v2m0 20v4m0 2v3m0 8v2m0 7v2m0 9v2m1-82v2m0 41v2m0 17v3m1-72v2m0 15v3m0 8v2m0 3v4m1-30v2m0 19v2m1 3v2m0 4v2m0 48v2m1-76v5m0 19v2m0 9v2m1-37v2m0 13v3m0 8v2m1-43v2m0 11v2m0 35v2m0 24v2m1-80v2m0 7v2m0 15v2m0 7v2m0 13v6m0 46v4m1-80v2m0 2v5m0 15v2m0 4v2m1-4v2m0 28v5m1-89v2m0 11v2m0 4v5m0 37v4m1-43v2m0 8v3m0 6v2m0 7v4m1-43v2m0 2v2m0 41v3m0 2v2m1-41v2m0 13v2m0 24v2m1-65v2m0 24v2m0 13v2m0 16v2m1-50v2m0 13v4m0 9v2m0 2v3m0 45v2m1-91v2m0 11v2m0 7v2m0 20v2m0 8v5m1-52v2m0 13v2m0 65v2m1-95v2m0 26v2m0 24v2m1-37v3m0 23v7m0 6v3m1-61v2m0 4v3m0 15v2m0 6v3m0 17v2m0 28v2m1-67v2m0 13v3m0 4v2m0 2v2m0 11v2m0 3v2m0 37v2m1-93v4m0 2v2m0 35v4m0 5v2m0 32v2m1-97v2m0 7v2m0 4v4m0 7v2m0 4v3m0 4v2m0 50v2m1-61v3m0 30v2m0 28v5m1-100v2m0 35v2m0 2v2m0 46v4m1-93v2m0 4v3m0 10v5m0 34v3m1-55v3m0 2v2m0 17v2m0 9v2m1-39v2m0 3v2m1 2v4m0 11v2m0 7v2m0 6v3m0 8v2m1-41v2m0 20v2m0 2v2m0 5v2m1-24v4m0 7v2m0 11v2m1-54v4m0 22v2m0 4v3m0 21v2m1-52v3m0 43v2m0 2v2m1-28v2m1-32v2m0 9v2m0 2v2m0 22v2m0 15v2m2-58v2m1 56v3m0 2v2m0 30v2m1-95v2m0 54v3m0 26v2m1-50v2m0 9v2m1-52v2m0 13v2m0 9v2m1-11v2m0 29v2m0 8v3m0 15v2m0 11v2m1-72v3m0 34v2m0 20v2m1-43v2m1-37v2m0 2v3m0 39v2m0 2v2m0 2v5m0 13v2m0 15v2m1-84v2m0 6v2m0 11v2m1-30v2m0 2v3m0 15v2m0 17v2m1-26v3m0 34v5m0 15v2m0 15v2m1-91v2m0 39v3m0 2v2m0 9v4m0 15v2m0 11v2m1-80v4m0 3v2m0 8v3m0 2v4m0 9v2m1-13v2m0 2v2m0 13v3m0 17v2m1-50v2m0 29v2m1-50v4m0 7v2m0 4v2m0 11v2m1-13v3m0 45v2m1-65v2m0 3v2m0 8v3m0 17v4m0 28v3m0 4v2m1-91v2m0 7v2m0 22v2m0 28v2m1-67v2m0 22v2m0 2v2m0 26v2m0 3v2m1-39v2m0 24v2m0 11v2m0 26v4m1-95v2m0 9v2m0 9v2m0 19v5m0 36v3m0 4v4m1-71v2m0 9v2m0 6v2m1-41v2m0 11v2m0 20v2m1-30v2m0 9v6m0 30v5m1 24v2m1-87v2m0 22v2m0 17v3m0 2v4m0 7v2m2-48v2m0 18v2m0 4v2m1 26v2m1-56v2m0 20v2m0 11v2m0 2v2m1-37v3m1-22v2m0 13v2m0 31v2m0 17v2m1-67v2m0 50v2m1-56v2m0 20v2m0 39v2m1-41v2m1-26v2m0 11v2m0 35v2m0 9v2m0 26v2m1-78v4m0 31v2m0 50v2m1-102v2m0 20v2m0 26v2m0 2v2m0 7v2m1-48v2m0 11v2m0 7v2m0 11v2m0 4v3m1-52v2m0 21v3m0 34v5m0 19v2m1-95v2m0 26v2m0 22v2m0 7v2m0 28v2m1-89v2m0 31v2m0 19v3m1-57v2m0 48v2m1-30v2m0 7v2m0 15v2m1-52v4m0 22v2m0 31v2m1-63v2m0 26v2m0 59v2m1-91v2m0 30v3m0 8v2m0 16v2m1-11v2m1-54v4m0 26v5m1-35v2m0 35v2m0 9v2m1-33v2m0 7v2m0 2v2m0 3v2m0 2v2m0 9v4m0 4v3m1-61v2m0 35v2m0 9v2m0 43v2m1-91v2m0 59v2m1-65v2m0 11v2m0 5v2m0 6v2m0 59v2m2-93v6m0 16v2m0 11v2m0 54v2m1-93v4m0 31v2m0 21v3m0 10v3m0 17v2m1-93v2m0 4v3m0 36v3m1-37v2m0 24v2m0 9v2m1-50v2m0 4v3m0 32v2m0 22v4m0 15v3m0 6v4m1-88v2m0 17v2m0 9v2m0 17v3m0 28v2m0 2v2m0 9v2m1-80v2m0 4v3m0 19v2m0 5v2m1-41v2m0 11v2m0 2v2m0 20v4m1-65v2m0 2v2m0 18v2m0 4v2m0 26v3m1-57v2m0 16v2m0 2v4m0 9v2m0 2v2m0 5v6m1-39v2m0 13v7m0 15v4m0 7v2m1-67v4m0 13v2m0 7v2m0 33v2m1-18v3m0 8v2m1-54v7m0 15v2m0 2v2m0 11v5m0 2v2m0 9v2m0 2v2m1-65v2m0 5v2m0 8v3m0 4v2m0 50v2m1-54v4m0 2v5m0 4v2m0 26v2m0 16v2m0 4v2m1-95v2m0 9v2m0 11v2m0 24v2m0 22v2m0 17v2m1-95v2m0 7v2m0 26v2m0 37v2m0 2v2m0 9v2m1-74v3m0 8v2m0 26v5m0 6v2m0 20v2m1-43v2m0 4v2m1-30v2m0 2v7m0 11v2m1-50v2m0 7v2m0 17v5m0 2v4m0 9v2m0 22v4m1-78v2m0 35v2m0 41v2m1-78v5m0 36v5m0 2v2m0 20v2m1-76v2m0 9v4m0 7v2m0 4v4m0 13v3m0 4v2m0 2v2m0 26v3m1-87v6m0 33v2m0 28v2m0 9v2m0 2v3m1-83v5m0 2v2m0 24v2m0 32v5m1-59v2m1-2v2m0 18v4m0 4v3m0 6v2m0 11v4m0 5v2m1-59v3m0 41v2m1-56v2m1 0v4m0 50v2m1-15v2m0 11v2m0 4v5m1-72v2m0 3v2m0 6v2m0 9v2m0 13v2m0 26v5m1-31v3m0 26v2m1-70v3m0 19v2m0 5v2m0 43v2m1-50v3m0 10v3m0 32v2m0 2v3m1-52v2m0 4v2m1-43v2m0 4v3m0 4v2m0 26v2m0 13v2m0 16v2m0 8v3m1-78v2m0 11v2m0 13v2m0 9v2m1 13v2m1-63v2m0 9v2m0 2v2m0 5v2m0 11v2m0 11v2m0 4v2m0 7v2m1-50v2m0 11v7m0 24v2m1-59v2m0 31v2m0 19v3m0 6v2m0 15v3m1-37v2m0 2v2m0 5v2m0 2v2m1-26v4m0 11v2m0 31v2m1-89v2m0 63v2m0 20v2m1-54v2m0 2v2m0 44v2m1-24v2m0 9v2m1-63v4m0 5v2m0 26v2m1-35v5m0 15v2m0 2v2m0 5v2m0 17v2m1-71v4m0 28v3m0 19v2m0 15v3m0 8v2m1-84v2m0 11v2m0 41v2m0 16v2m1-59v2m0 24v2m0 18v2m0 24v2m1-65v2m0 15v2m0 3v4m0 2v2m0 5v2m0 15v4m0 7v2m1-33v3m0 6v2m1-69v2m0 7v2m0 19v2m0 18v2m0 4v2m0 22v2m1-76v3m0 13v2m0 2v2m0 11v2m0 28v7m1-18v5m1-63v2m0 15v2m1-15v2m0 9v2m0 20v2m0 28v2m0 13v5m1-85v2m0 11v2m0 5v2m0 15v2m0 9v4m0 7v4m1 11v2m0 2v4m1-82v2m0 5v2m0 47v3m0 8v5m0 2v2m1-11v2m0 2v3m0 8v2m0 5v4m1-84v2m0 2v2m0 17v3m0 6v2m0 2v3m0 23v3m0 4v2m0 2v2m0 3v4m1-89v2m0 48v2m0 9v2m1-20v3m0 15v2m0 6v3m1-65v2m0 8v3m0 13v2m0 8v5m1-50v2m0 2v2m0 35v4m0 22v2m1-28v2m0 2v5m0 17v4m1-34v2m0 2v2m0 2v3m1-31v2m0 50v2m1-54v2m1-17v4m0 55v4m0 6v3m0 2v2m0 2v2m1-82v6m0 24v2m0 5v2m0 22v2m0 2v2m0 4v3m1-39v2m0 4v2m1 2v5m1-37v4m1-15v2m0 31v2m0 2v2m0 30v3m1-33v2m0 2v3m1 13v2m0 2v2m1-67v2m0 7v2m0 32v2m0 5v2m1-41v2m0 24v2m0 11v2m1-15v4m0 15v2m1-56v2m0 2v3m0 54v2m0 6v3m1-74v2m0 13v2m0 2v3m0 39v2m1-24v2m0 39v2m0 2v3m0 23v3m0 4v2m1-119v2m0 2v2m0 9v4m0 7v2m0 24v2m0 13v2m1-58v2m0 17v2m0 29v6m0 9v2m1-76v2m0 11v2m0 18v2m0 30v7m0 56v2m1-132v2m0 7v2m0 4v2m0 7v2m0 32v3m0 6v2m0 11v2m1-71v4m0 59v2m1-76v2m0 4v3m0 13v2m0 19v2m0 3v2m0 32v2m1-75v4m0 6v5m0 2v2m0 11v2m0 7v2m1-26v2m0 11v2m0 4v2m0 3v2m0 4v4m0 5v2m0 4v2m1-67v2m0 9v4m0 33v2m0 7v2m1-28v2m0 37v2m1-74v2m0 35v2m0 4v3m0 4v4m0 9v2m0 4v3m1-74v2m0 11v2m0 11v2m0 13v2m0 5v2m0 4v2m1-56v2m0 13v2m0 11v2m0 20v2m0 4v2m0 3v2m1-35v2m0 5v2m0 4v2m0 31v2m1-57v5m0 2v2m0 7v4m0 50v2m1-89v2m0 15v3m0 10v3m0 21v2m1-58v2m0 20v4m0 19v3m0 32v2m1-47v2m0 37v2m2-59v5m0 19v4m1-28v2m0 5v2m0 9v2m0 2v2m0 17v3m0 2v2m0 4v2m1-71v2m0 28v5m0 21v2m0 7v4m1-47v2m0 8v3m0 8v2m0 18v2m0 2v2m1-65v2m0 22v2m0 31v2m1-61v2m0 7v2m0 48v2m0 2v2m1-26v2m0 11v2m1-56v2m0 4v3m1-5v5m0 10v3m0 21v5m0 4v2m0 15v2m0 13v3m1-87v2m0 17v5m0 21v3m0 2v2m0 17v2m0 3v2m1-70v3m0 2v2m0 11v2m0 13v2m0 20v2m0 6v2m1-36v2m0 28v2m0 2v2m1 7v4m1-63v3m0 45v2m1-67v4m0 13v3m0 8v2m0 44v2m1-24v2m0 2v3m1 2v6m1-69v2m0 20v2m0 2v2m0 7v2m0 13v2m0 11v2m0 15v2m1-65v2m0 11v2m0 7v2m0 13v2m0 11v2m1-2v2m1-58v4m0 22v2m0 4v2m0 18v2m1-39v2m0 2v2m0 13v5m1-37v2m0 17v3m0 17v4m0 11v7m1-57v2m0 5v2m0 26v2m0 13v4m1-71v2m0 11v2m0 15v2m0 20v2m0 7v2m0 8v3m0 6v2m1-60v4m0 4v2m0 13v3m0 2v4m0 11v2m0 17v3m0 4v2m1-80v2m0 20v2m0 2v2m0 9v2m0 2v4m0 31v2m1-50v2m0 35v2m0 2v2m1-49v2m0 11v2m0 6v5m1-42v3m1 13v6m0 20v2m1-63v2m0 4v3m0 17v6m0 22v2m0 5v2m2-50v2m0 22v2m0 19v3m1-55v3m0 13v2m0 4v2m1-13v2m0 7v2m0 4v3m0 30v2m0 13v2m1-82v2m0 2v2m0 65v3m1-74v2m0 7v2m0 30v2m0 9v2m0 13v2m1-50v3m0 4v2m0 17v5m0 8v3m0 4v2m0 7v2m1-50v6m0 20v4m1-54v4m0 11v2m0 13v3m0 6v4m0 13v3m0 2v2m1-59v3m0 36v3m0 10v5m0 13v2m1-30v2m0 19v5m0 2v4m1-26v2m0 24v2m0 2v3m1-48v2m0 9v2m0 17v2m0 5v2m0 4v2m0 5v2m1-54v2m0 13v2m0 9v2m1-41v2m0 6v3m0 17v2m0 15v2m1-52v3m0 45v2m1-52v2m0 11v2m0 13v3m0 4v2m0 22v2m1-69v2m0 11v2m0 8v3m0 34v2m1-23v2m0 4v2m1-41v2m0 20v6m0 22v2m1-67v2m0 26v2m0 26v5m0 19v2m0 2v5m0 2v2m1-93v4m0 2v3m0 17v2m0 4v3m0 4v2m1-39v2m0 2v3m0 21v5m0 6v2m0 28v3m1-55v3m0 32v2m0 11v2m0 2v3m0 19v2m1-93v2m0 2v3m0 23v3m0 21v5m0 2v2m0 4v5m0 4v2m1-80v2m0 9v2m0 22v2m1-2v6m0 28v2m0 5v2m0 9v2m1-18v3m0 8v2m1-82v2m0 7v2m0 39v4m0 11v7m1-72v2m0 20v2m0 30v2m0 9v2m0 22v2m1-91v2m0 11v2m0 20v2m0 26v4m0 37v4m1-91v3m0 2v2m0 45v3m0 13v2m1-37v2m0 13v4m0 7v4m0 2v3m1-50v2m0 2v2m0 7v2m0 56v2m1-6v2m1-54v2m1-50v2m0 7v4m0 46v2m0 2v2m0 13v2m1-80v2m0 3v4m0 6v3m0 65v2m1-89v4m0 31v2m0 6v2m0 5v2m0 17v2m1-32v2m0 13v4m1-56v2m0 2v3m0 15v2m0 6v3m0 13v2m0 6v2m0 11v2m1-58v6m0 13v3m0 6v2m0 26v2m1-69v2m0 11v2m0 9v2m0 7v2m0 19v2m1-58v2m0 48v6m0 20v2m1-59v3m0 17v4m1-13v5m0 4v2m0 15v5m0 4v2m0 2v2m0 3v2m1-65v2m0 9v2m0 30v2m0 5v2m1-59v2m0 3v2m0 6v2m0 5v2m0 11v2m0 6v3m0 8v2m0 3v2m1-57v3m0 30v4m0 15v3m0 6v2m2-47v2m0 11v2m0 15v2m1-48v3m0 8v2m0 7v2m0 7v4m0 43v2m1-52v5m0 6v2m0 3v2m0 4v2m0 18v2m1-76v2m0 28v2m0 52v3m1-13v2m1-76v2m0 15v2m0 5v4m0 26v2m0 7v2m0 4v2m0 7v2m1-80v2m0 15v5m0 2v2m0 9v2m0 11v2m0 50v2m0 28v2m1-115v5m0 13v2m0 24v2m1-15v2m0 11v2m0 28v2m1-61v3m0 10v5m0 4v2m1-47v2m0 24v4m0 121v2m1-67v2m1-86v4m0 20v2m0 4v2m1-8v2m0 8v3m0 2v2m0 28v2m0 9v2m1-54v2m0 2v2m1-45v2m0 50v2m1-30v2m0 13v2m0 24v2m1-37v5m0 19v2m0 15v3m1-70v5m1 8v2m0 22v2m0 9v2m1-50v5m1 34v2m0 3v2m1-28v4m0 6v3m0 2v2m0 2v2m0 9v2m0 7v2m0 2v2m1-67v2m0 2v2m0 16v2m0 11v4m0 6v3m0 23v7m1-39v2m0 7v4m0 17v5m0 23v7m1-102v2m0 65v2m0 5v2m0 13v4m1-37v3m0 2v2m1-63v2m0 13v2m0 13v3m0 45v2m0 2v3m1-57v5m0 28v2m0 4v5m0 10v3m1-68v3m0 28v6m0 11v2m0 11v2m1-82v2m0 7v2m0 17v2m0 2v3m0 10v7m1-52v2m0 9v2m0 41v2m0 15v3m1-57v2m0 13v3m1-31v2m0 9v2m0 2v3m0 4v2m0 4v3m0 47v2m0 3v2m1-89v2m0 2v2m0 16v2m0 13v4m0 41v2m1-60v2m0 2v2m0 13v2m0 5v2m0 6v3m0 6v2m1-69v2m0 2v2m0 22v2m0 5v2m0 13v2m1-30v2m0 21v5m0 11v4m1-65v2m0 15v2m0 5v2m1 6v3m1-24v2m0 9v2m0 2v2m0 2v2m0 7v2m0 20v2m1-63v2m0 7v2m0 2v2m0 24v6m0 29v2m1-76v2m0 9v2m0 26v2m0 30v3m0 6v2m1-82v2m0 4v3m0 10v3m0 2v4m0 26v2m0 5v2m0 2v2m1-65v2m0 7v2m0 11v2m0 6v3m0 15v2m1-50v2m0 31v2m0 6v2m0 11v2m0 5v2m0 6v3m1-26v2m0 11v2m1-63v2m0 24v4m0 48v2m1-78v4m0 20v2m0 17v3m1-24v4m0 4v3m0 13v2m1-41v2m0 2v2m0 2v5m0 26v2m1-50v2m0 17v3m1 4v2m0 4v3m0 26v2m0 2v2m1-41v2m0 4v3m0 17v2m0 13v2m0 2v3m1-72v2m0 59v2m1-37v2m0 5v2m1-33v2m0 16v2m0 28v2m0 7v2m0 17v2m0 2v3m1-81v3m0 39v2m0 28v2m1-69v2m0 9v2m0 26v2m0 2v2m1-56v2m0 13v4m0 39v3m0 47v2m1-110v2m0 33v2m0 2v2m0 20v2m0 2v2m0 2v2m0 13v3m1-78v2m0 24v2m0 28v2m0 2v2m1-71v2m0 17v3m1-9v4m0 2v3m0 26v4m1-48v2m0 13v3m0 10v3m0 2v2m1-17v2m0 37v2m0 4v2m1-67v4m0 9v4m0 7v2m0 24v2m0 7v2m0 28v2m1-56v2m0 2v2m0 7v2m0 24v2m0 15v2m1-50v3m0 2v2m0 9v2m0 2v2m0 9v2m1-78v2m0 4v3m0 15v2m0 13v2m0 7v2m0 4v2m0 11v2m1-69v2m0 2v2m0 24v5m0 52v4m0 2v2m1-84v4m0 2v2m0 72v2m0 9v2m0 4v2m1-101v2m0 4v2m0 18v2m0 11v2m0 47v3m1-87v2m0 13v4m0 35v2m0 9v2m0 2v2m1-13v3m0 2v2m0 11v2m1-91v2m0 17v3m0 6v2m1 9v4m1-19v2m0 6v3m0 6v7m1-48v2m0 13v2m0 35v2m0 11v2m1-67v2m0 13v2m0 2v3m0 13v4m0 19v3m0 6v2m0 5v2m0 2v2m1-80v2m0 11v2m0 28v2m0 7v2m0 11v2m0 13v4m0 35v2m1-99v2m0 6v5m0 39v2m1-59v2m0 5v2m0 15v2m0 35v4m1-82v4m0 41v5m1-7v2m1-39v3m0 8v5m0 17v2m0 15v2m0 3v2m0 11v2m1-76v2m0 2v2m0 20v2m0 15v2m0 5v2m0 19v3m1-72v2m0 57v2m1-52v2m0 9v2m2-9v2m0 5v2m0 39v2m0 2v2m0 9v2m1-28v4m0 48v2m1-95v4m0 52v2m1-67v2m0 11v4m0 29v2m2-33v2m3 59v2m1-54v2m0 28v2m1-23v2m3-37v2m1 26v2m8-30v2m1 20v2m1-15v2m0 4v4m0 13v3m0 39v2m1-52v2m0 26v2m0 13v2m1 7v2m1-74v2m0 9v2m0 31v2m1-44v5m0 6v2m0 35v2m0 11v2m0 5v2m1-76v4m0 9v2m0 13v2m0 2v5m0 26v2m0 13v4m0 15v3m1-61v2m0 2v5m0 28v4m1-71v6m0 20v4m0 24v2m0 50v2m1-100v2m0 18v4m0 11v4m0 9v2m1-65v4m0 7v2m0 15v2m0 9v2m0 5v2m0 26v2m0 102v6m1-162v4m0 4v3m1-35v4m0 9v2m0 15v5m0 13v2m0 19v2m0 9v2m0 9v2m1-65v4m0 5v2m0 4v2m0 22v4m1-71v2m0 24v2m0 4v3m0 8v2m0 22v4m1-71v4m0 7v2m0 28v2m0 18v4m1-46v3m0 2v2m0 9v2m0 24v2m1-50v2m0 26v2m0 5v6m0 9v4m0 13v2m0 7v2m1-91v2m0 13v2m0 5v2m0 4v2m0 7v2m0 17v2m0 31v2m1-72v5m0 4v2m0 11v2m0 18v2m0 4v2m0 22v2m0 22v2m1-100v2m0 5v2m0 2v2m0 7v6m0 44v2m0 13v2m0 6v3m1-111v2m0 15v5m0 13v2m0 2v2m0 41v5m0 15v2m1-91v2m0 35v2m0 22v2m0 24v2m1-104v2m0 26v4m0 11v2m0 16v2m0 6v5m0 8v2m0 7v2m0 9v6m0 2v3m1-111v2m0 5v2m0 13v2m0 2v2m0 20v2m0 6v3m0 2v2m1-30v2m0 13v2m0 2v2m0 5v2m0 17v4m1-84v4m0 35v2m0 7v2m0 11v2m0 8v3m0 17v2m1-61v3m0 15v2m0 28v2m1-63v3m0 6v4m0 9v2m0 7v2m0 24v2m0 9v2m0 6v2m1-97v2m0 2v2m0 35v2m0 5v2m0 8v3m0 6v2m0 7v2m0 4v2m0 11v2m1-97v2m0 13v4m0 22v2m0 13v2m1-58v2m0 7v2m0 28v2m0 7v2m1-50v2m0 2v2m0 13v3m0 4v2m0 9v2m0 6v5m0 4v2m0 7v2m0 32v3m0 4v2m1-61v3m0 19v2m0 18v4m1-72v5m0 32v2m0 3v2m0 17v4m1-84v2m0 7v2m0 21v3m0 6v2m0 13v2m0 9v2m1-67v2m0 5v2m0 8v5m0 19v2m0 16v2m0 2v2m0 2v2m1-49v2m0 4v2m0 9v2m0 20v4m0 11v2m1-78v2m0 13v2m0 35v2m0 28v2m1-82v2m0 18v2m0 2v2m0 11v4m0 26v2m0 7v2m1-80v2m0 72v2m0 19v2m1-97v2m0 4v3m0 23v3m0 23v5m0 13v2m0 4v2m1-82v2m0 2v3m0 6v4m0 7v2m0 7v2m0 4v2m0 5v2m0 6v2m1-56v2m0 13v2m0 5v4m0 9v2m0 9v2m0 8v5m0 6v2m0 5v4m0 2v2m1-56v2m0 9v2m0 2v2m1-2v2m0 16v2m0 2v2m1-67v2m0 26v2m0 2v3m0 10v3m0 26v2m1-61v2m0 24v4m0 11v2m0 5v2m1-65v2m0 4v3m0 6v4m0 26v7m0 30v2m0 37v2m1-34v2m0 2v2m1-95v2m0 13v4m0 3v2m0 34v3m0 39v2m1 2v2m1-15v4m1-91v7m0 8v3m0 4v2m0 20v2m0 21v3m1-44v5m0 54v2m1-59v3m0 15v2m0 4v2m0 20v4m1-63v3m1-22v2m0 9v2m0 4v2m0 9v4m0 7v4m0 2v3m0 15v4m1-52v2m0 9v2m0 11v4m0 7v2m0 11v2m0 37v2m1-102v2m0 2v3m0 41v2m0 19v3m0 6v2m1-82v2m0 46v6m0 22v4m1-80v2m0 13v2m0 7v2m0 22v2m1 8v3m0 4v2m0 17v3m0 4v2m1-56v2m0 28v2m0 24v2m0 9v2m0 2v2m1-110v2m0 7v2m0 34v3m0 23v3m0 4v2m0 50v2m1-108v2m0 4v2m0 5v2m0 4v2m0 11v2m0 5v2m0 13v2m1-43v4m0 41v2m0 11v2m1-71v4m0 15v3m0 21v2m0 3v2m0 4v2m1-76v5m0 21v3m0 2v2m0 4v2m0 11v2m0 18v2m0 17v2m1-91v3m0 4v2m0 13v2m0 2v3m0 34v2m1-54v2m0 5v2m0 15v2m0 5v2m0 2v2m0 7v2m1-52v2m0 2v2m0 2v3m0 28v2m0 15v2m0 7v2m1-74v2m0 29v2m0 6v2m0 7v4m0 15v5m1-74v4m0 18v4m0 24v2m0 35v2m0 2v2m1-69v6m0 13v3m0 13v2m0 4v4m0 3v2m1-65v2m0 39v2m0 9v2m0 2v2m0 11v2m1-60v2m0 15v2m0 2v2m0 24v5m0 6v2m0 11v2m1-76v5m0 45v2m0 13v3m1-57v2m0 16v2m0 2v4m0 52v2m1-108v2m0 5v2m0 8v3m0 36v3m0 21v7m0 2v2m0 2v2m1-71v2m0 11v2m0 11v2m0 24v2m1-63v2m0 13v3m0 2v2m0 2v2m0 7v2m0 11v2m1-59v3m0 2v2m0 17v2m0 13v3m0 2v2m0 30v2m1-84v2m0 11v2m0 13v2m0 35v2m0 15v2m1-84v2m0 17v3m0 4v4m0 31v4m0 13v2m1-71v2m0 2v2m0 22v2m0 4v2m0 5v2m0 6v3m0 4v2m1-65v4m0 5v2m0 11v2m0 45v5m0 4v2m1-63v3m0 6v2m0 22v2m0 7v2m1-63v2m0 33v2m0 4v2m0 18v4m0 9v6m1-80v2m0 56v3m0 26v2m1-63v2m0 4v3m0 26v2m0 2v2m0 2v2m0 7v2m1-80v2m0 2v2m0 16v4m0 9v2m0 4v2m0 26v2m0 3v2m1-59v2m0 5v4m0 43v3m1-65v2m0 2v6m0 11v2m0 5v2m0 24v2m1-65v2m0 4v3m0 26v2m0 19v2m0 3v2m0 2v2m1-67v2m0 37v2m0 13v2m0 2v3m0 10v3m1-57v2m0 7v4m1-28v2m0 33v2m0 6v5m0 4v2m1-45v4m0 2v5m0 10v5m0 4v2m0 13v2m0 11v2m1-67v2m0 24v2m0 22v2m0 7v2m1-56v4m0 9v2m1-9v2m0 7v2m0 4v2m0 26v3m0 2v2m0 13v4m1-54v2m0 11v7m0 23v3m1-39v6m0 22v2m0 11v4m1-69v4m0 85v2m1-65v4m0 7v2m0 11v2m0 4v4m0 11v2m0 3v4m1-89v2m0 9v4m0 11v7m0 2v4m0 2v2m0 7v2m0 4v3m0 17v2m0 4v3m0 15v2m1-104v2m0 67v5m0 10v3m0 4v2m0 2v2m0 9v2m1-71v4m0 11v2m0 17v3m0 10v3m0 21v2m1-104v3m0 2v2m0 19v3m0 8v5m0 43v2m1-93v2m0 17v3m0 4v2m0 13v2m0 5v2m0 8v3m1 8v2m0 7v2m0 2v2m1-78v3m0 2v2m0 13v2m0 28v2m0 5v2m0 6v3m0 21v2m1-97v2m0 22v2m0 2v2m0 48v2m0 2v2m1-73v2m0 4v2m0 18v4m0 20v2m0 4v4m0 5v2m1-78v2m0 13v2m0 9v2m0 4v3m0 32v2m0 15v3m1-50v2m0 15v2m0 11v2m0 22v2m0 4v5m1-61v2m0 44v2m0 6v2m1-97v2m0 13v2m0 35v4m0 20v4m0 2v2m0 9v2m1-56v2m0 24v2m1-67v2m0 9v2m0 11v4m0 15v5m0 4v2m0 2v2m0 11v2m0 5v2m1-48v2m0 16v4m0 9v4m0 28v2m1-89v3m0 15v2m0 24v4m0 22v6m0 9v2m1-65v2m0 2v3m0 17v2m0 11v2m0 15v2m1-65v5m0 6v2m0 26v3m1-42v3m0 10v3m0 10v3m0 26v2m1-59v2m0 5v2m0 30v2m0 7v4m0 5v2m1-74v2m0 37v7m0 6v2m0 2v3m0 17v2m0 2v2m0 11v2m1-71v2m0 11v2m0 7v2m0 37v2m0 2v4m0 9v2m1-102v2m0 3v2m0 34v7m0 4v2m0 9v2m0 5v2m0 17v2m1-95v2m0 13v2m0 5v2m0 13v2m0 6v3m0 8v2m0 9v2m1-69v2m0 26v2m0 9v2m0 7v2m0 24v2m0 2v2m2-78v2m0 2v3m0 30v2m0 11v2m0 15v2m0 9v2m1-47v4m0 32v3m1-74v2m0 9v2m0 17v2m0 16v2m0 43v2m0 2v3m1-81v5m0 11v2m0 4v2m0 13v5m0 36v5m1-63v4m0 15v3m0 32v2m1-50v3m0 8v5m0 4v2m0 2v7m0 8v7m1-87v2m0 9v2m0 74v2m0 2v2m0 5v4m0 13v4m1-123v4m1 20v2m0 19v3m0 10v3m1-57v2m0 9v2m0 48v9m0 8v2m1-71v2m0 11v2m0 37v4m0 5v2m1-52v2m0 4v2m0 7v4m0 11v2m0 7v2m0 9v2m0 2v2m0 7v2m1-61v4m0 39v3m0 4v4m1-82v2m0 2v2m0 78v3m0 8v2m0 5v2m0 22v2m1-89v2m0 26v2m0 20v2m1-91v2m0 33v2m0 8v5m1-50v2m0 9v2m0 2v2m0 2v3m0 13v2m0 6v2m0 20v4m0 7v2m1 2v2m0 2v5m0 2v2m1-91v2m0 83v2m1-22v2m1-41v2m0 7v2m0 2v2m1-37v3m0 2v2m0 11v2m0 17v2m0 3v2m0 21v3m0 13v2m1-65v2m0 37v2m0 9v2m1-76v2m0 13v2m0 31v2m0 6v2m0 9v2m0 5v2m1-15v4m0 4v2m1-43v4m1 3v2m0 58v2m1-54v2m0 5v2m0 17v5m0 4v2m0 7v2m0 4v2m1-93v2m0 15v3m0 15v4m0 22v4m1-26v2m0 2v3m0 23v3m0 6v2m0 5v2m0 4v2m1-80v4m0 5v2m0 28v2m0 5v2m0 32v2m1-75v2m0 17v2m0 18v2m0 13v4m0 2v2m0 9v2m1-95v2m0 24v2m0 22v2m0 15v2m0 20v2m1-43v4m1-20v3m0 8v2m0 48v4m1-71v4m0 22v2m0 30v3m1-87v2m0 54v2m0 7v2m0 4v5m0 11v2m0 6v2m0 7v2m1-106v2m0 22v4m0 39v2m0 33v2m0 4v2m1-86v2m0 30v2m0 3v2m0 11v2m0 8v3m0 6v2m1-52v2m0 13v5m0 13v2m0 15v2m1-34v2m0 4v2m1-56v2m0 7v2m0 13v2m0 17v5m0 19v2m1-58v2m0 52v4m1-82v2m0 2v2m0 7v2m0 9v2m0 2v2m0 7v2m0 13v4m0 9v2m0 2v2m0 18v4m1-93v2m0 15v2m0 5v4m0 17v3m0 15v2m0 2v2m1-67v2m0 20v2m0 37v4m0 17v7m1-43v2m0 28v2m1-80v2m0 11v4m0 2v3m0 49v3m0 2v2m0 11v2m1-15v4m1-76v2m0 11v2m0 9v4m0 9v2m1-17v2m0 26v2m0 5v2m0 13v2m0 4v2m1-80v2m0 11v2m0 9v2m0 9v4m0 13v2m0 5v4m0 11v4m1-43v2m0 4v3m0 17v2m0 2v2m0 5v2m0 41v2m1-102v3m0 4v2m0 2v2m0 46v2m1-48v3m0 6v2m0 15v3m0 8v5m0 54v2m1-111v3m0 8v2m0 7v2m0 15v2m0 11v2m1 7v2m0 7v2m1-57v3m0 28v2m0 4v2m1-54v2m0 5v2m0 22v2m0 8v3m1-61v2m0 17v5m0 11v2m0 32v5m1-74v2m0 20v2m0 6v2m0 42v2m0 2v2m0 4v3m0 4v2m1-58v2m0 2v2m0 20v2m0 2v6m0 16v2m0 4v2m1-93v2m0 18v2m0 6v2m0 16v4m0 30v2m1-84v2m0 43v3m0 4v2m0 26v2m0 7v2m0 2v2m1-78v2m0 5v4m0 11v2m0 43v3m0 4v2m0 4v3m1-94v3m0 4v4m0 22v2m0 7v2m0 19v2m0 7v2m1-78v2m0 9v2m0 9v4m0 13v2m0 11v2m0 2v5m1-63v4m0 50v2m0 9v4m0 22v2m1-84v2m0 8v5m0 54v6m0 20v2m1-106v2m0 15v5m1-22v2m0 24v2m0 2v2m0 22v2m0 11v4m0 9v2m1-82v2m0 13v2m0 13v2m0 26v3m0 2v4m1-54v4m0 7v2m0 2v2m0 18v2m0 13v2m0 2v2m0 2v3m0 2v2m0 28v2m1-97v2m0 43v2m0 9v2m0 2v3m0 21v2m0 3v2m1-89v2m0 7v2m0 21v3m0 2v2m0 6v3m0 10v3m1-74v2m0 4v5m0 34v3m0 6v2m0 5v2m0 6v2m0 13v3m0 4v2m1-93v2m0 22v2m0 9v2m0 13v2m0 19v3m0 13v2m1-89v2m0 24v2m0 39v2m1-34v2m0 8v3m0 10v3m0 13v2m0 2v2m0 11v4m1-95v2m0 11v2m0 13v4m0 18v2m0 11v2m0 13v2m0 7v4m1-69v2m0 2v2m0 20v2m0 6v2m0 3v4m0 13v2m0 2v2m0 7v2m0 2v5m1-24v2m0 2v2m1-63v3m0 13v2m0 13v2m0 4v2m0 3v2m0 11v2m1 2v2m0 2v2m1-82v2m0 9v2m0 59v4m1-78v2m0 2v2m0 7v2m0 37v2m1 2v2m0 5v2m0 4v5m1-57v2m0 39v3m0 34v2m1-36v2m0 26v2m0 4v2m1-75v4m0 22v2m0 17v2m1-69v4m0 2v3m0 36v3m1-29v3m0 10v3m0 8v2m0 3v2m1-50v2m0 11v2m0 9v2m0 13v2m0 2v2m0 16v2m1-63v2m0 33v2m0 2v2m0 22v2m0 4v2m1-67v5m0 23v3m0 4v2m1-35v3m0 17v2m0 41v2m0 13v3m1-81v3m0 8v2m0 31v2m0 9v2m0 15v2m0 9v2m1-43v2m0 11v2m0 2v2m0 7v6m0 15v5m1-100v2m0 26v2m0 5v2m0 17v2m0 5v4m0 19v3m0 43v2m1-117v2m0 15v3m0 2v2m0 30v2m0 5v2m0 9v2m1-78v4m0 28v2m0 5v2m0 37v2m1-91v2m0 17v5m0 37v4m0 32v3m1-65v4m0 37v4m0 13v2m0 2v3m1-91v2m0 41v2m0 33v4m0 4v2m1-95v2m0 5v2m0 6v2m0 5v2m0 9v2m0 13v2m0 4v2m0 3v2m0 19v5m1-72v4m0 35v2m0 26v5m1-83v2m0 3v2m0 24v2m0 13v4m0 13v4m0 9v2m0 13v2m1-62v2m0 50v2m0 2v2m1-78v2m0 26v2m0 13v3m0 8v2m0 9v2m0 31v2m1-115v2m0 9v4m0 52v2m1-63v3m0 19v2m0 24v4m0 5v2m1-46v3m0 21v2m0 11v2m0 5v2m0 11v2m0 2v2m1-82v2m0 9v2m0 24v4m0 4v3m0 36v3m1-78v2m0 15v2m0 7v2m0 17v2m0 15v3m0 4v2m1-80v4m0 67v3m1-74v2m0 35v4m0 15v2m0 3v2m1-39v2m0 6v5m0 4v2m0 15v3m0 4v2m0 2v2m0 13v5m1-89v2m0 46v4m0 19v3m0 2v2m0 4v2m0 7v2m0 2v2m1-95v7m0 10v3m0 2v2m0 15v2m0 2v3m0 8v2m0 7v2m0 22v4m0 9v4m1-76v2m0 7v2m0 7v2m0 4v4m0 9v2m0 18v4m1-85v3m0 13v2m0 24v8m0 41v3m0 10v5m1-93v2m0 8v3m0 26v2m0 4v2m0 2v5m0 2v2m0 20v2m0 8v3m1-91v2m0 6v2m0 22v2m0 2v3m0 36v5m1-87v2m0 20v2m0 4v2m1-45v2m0 33v4m0 22v4m0 9v2m0 6v7m1-89v2m0 9v4m0 20v2m0 17v2m0 11v2m0 28v3m1-100v4m0 11v2m0 26v2m0 3v4m0 4v2m0 18v4m0 24v2m1-45v2m0 13v2m0 2v2m0 9v2m1-63v7m0 11v2m0 6v2m0 7v2m0 22v2m0 4v2m1-69v2m0 37v2m0 5v4m0 2v2m0 9v2m0 2v2m0 7v4m1-37v3m0 2v2m0 11v2m1-89v2m0 2v3m0 17v2m0 24v2m0 11v2m0 2v5m0 17v2m1-91v2m0 9v2m0 24v2m0 9v2m0 11v4m0 13v2m0 7v2m1-52v2m0 2v2m0 7v2m0 2v2m0 5v2m0 32v5m1-80v4m0 6v3m0 34v2m0 7v2m1-78v4m0 13v3m0 4v2m0 22v2m0 6v3m0 4v2m1-48v5m0 2v2m0 11v2m0 9v2m0 39v2m0 4v3m0 4v2m1-97v2m0 2v4m0 9v2m0 15v2m0 48v4m1-60v2m0 30v2m0 3v2m1-76v2m0 13v2m0 48v2m0 15v2m0 5v2m0 4v2m0 5v2m0 2v2m1-78v2m0 3v2m0 11v4m0 2v4m0 13v3m0 4v2m1-80v2m0 2v2m0 7v2m0 9v2m0 9v2m1-28v4m0 2v2m0 20v2m0 6v5m1-50v2m0 2v2m0 11v7m0 17v2m0 13v2m0 3v2m1-63v4m0 41v3m0 32v2m0 5v4m0 6v3m1-65v2m0 2v2m1-39v2m0 24v2m0 2v3m1 32v2m1-32v2m0 24v4m0 17v3m1-76v2m0 19v3m0 23v3m1-7v2m0 5v2m1-41v2m0 8v3m0 13v2m0 8v3m0 15v2m0 2v4m1-54v2m0 33v2m1-58v4m0 22v4m0 13v2m0 11v4m1-63v3m0 30v4m1-41v4m0 13v3m0 4v2m0 9v2m0 2v2m0 7v2m0 2v2m0 11v2m0 5v2m1-61v2m0 2v5m0 8v3m0 19v2m0 11v4m0 5v4m1-50v7m0 50v2m1-89v2m0 37v2m0 26v2m0 5v2m1-63v2m0 30v3m0 19v2m1-69v2m0 35v2m1-39v2m0 7v2m0 8v3m0 2v2m0 15v2m0 7v2m0 26v2m1-13v2m0 7v2m1-33v3m0 13v4m0 6v3m0 4v2m0 9v2m1-41v2m0 32v3m1-78v2m0 13v2m1-20v3m0 19v4m0 20v2m0 4v3m0 15v2m1-59v3m0 23v5m0 4v2m0 9v4m0 5v2m1-72v2m0 3v2m0 2v2m0 2v2m0 5v2m0 6v3m0 19v4m0 3v2m0 6v2m0 7v2m0 2v2m0 7v2m1-30v2m0 15v2m1-80v7m0 26v2m0 8v3m1-33v2m0 9v2m0 2v2m0 48v2m0 7v2m1-74v2m0 9v2m0 26v2m0 7v2m0 2v2m1-71v2m0 17v3m0 2v2m0 61v4m1-52v2m0 7v2m0 4v2m1-4v2m1-19v4m0 41v2m1-43v2m0 2v2m0 42v2m1-67v4m0 4v2m0 5v2m0 11v2m1-43v2m0 32v2m0 16v2m1-44v3m0 4v2m0 17v3m0 4v4m1-56v2m0 22v2m0 17v2m1-8v2m0 4v2m0 9v2m1-50v3m0 2v2m0 6v3m0 26v2m1-31v3m0 8v2m0 20v2m1-6v2m0 19v2m1-52v3m0 10v3m0 8v2m1-45v2m0 13v2m0 18v2m0 21v3m0 2v2m0 15v2m1-58v4m0 2v2m0 24v2m0 16v2m1-67v2m0 2v2m0 4v3m0 17v2m0 7v2m1-33v2m1 26v5m0 21v3m0 8v2m1-58v2m0 2v2m0 3v4m0 11v2m0 2v2m1-50v7m0 11v4m0 26v2m0 2v3m1-18v2m0 24v2m1-71v2m0 37v4m0 11v2m0 5v2m0 8v3m1-74v2m0 7v2m0 4v2m0 35v2m0 15v2m1-71v2m0 13v2m0 20v2m0 6v3m0 4v2m0 13v2m1-58v2m0 6v3m0 52v2m1-59v2m0 5v4m0 13v4m0 33v2m1-63v2m0 9v2m0 5v2m0 8v5m0 26v2m0 6v3m0 4v2m1-74v3m0 8v2m0 13v3m1-48v2m0 46v2m0 2v2m1-48v3m0 6v2m0 20v2m0 13v2m0 2v2m0 5v2m0 6v5m1-76v2m0 78v4m0 9v2m0 7v4m1-104v2m0 52v5m1-57v5m0 30v2m0 41v2m1-80v5m0 8v2m0 3v2m0 21v3m0 32v2m1-58v2m0 17v5m1-42v3m0 4v2m0 7v2m0 37v2m1-59v2m0 9v2m0 5v2m0 24v2m0 6v5m0 23v3m1-57v2m0 13v3m0 8v2m0 9v2m0 11v2m1-76v3m0 21v2m0 11v2m0 11v2m0 7v4m1-60v4m0 6v3m0 8v2m0 3v2m0 4v2m0 11v4m1-56v2m0 22v2m0 33v2m1-44v3m0 8v5m0 10v3m0 4v2m0 9v2m0 17v2m1-84v2m0 50v2m0 9v2m1-63v2m0 15v3m0 30v2m0 28v2m0 7v2m1-76v2m0 9v2m0 7v4m0 35v2m1-63v2m0 18v2m1-35v2m0 11v2m0 15v3m0 36v3m1-63v2m0 48v2m0 6v2m1-71v6m0 20v2m0 26v4m1-56v4m0 13v3m0 23v3m0 4v2m1-39v2m0 18v2m0 17v2m1-56v2m0 4v3m0 4v2m2 13v2m0 39v2m1-65v5m0 41v2m0 11v4m0 2v3m1-55v5m0 26v2m1-48v2m0 11v2m0 7v2m0 7v2m0 4v2m0 7v6m0 9v2m1-54v2m0 4v5m0 43v2m1-30v2m0 2v2m1-43v4m1 16v2m0 41v2m0 11v4m0 7v2m1-69v2m0 2v4m0 20v2m0 32v3m1-74v4m0 28v3m0 32v2m0 5v2m0 4v2m1-58v2m0 6v3m0 23v3m0 30v2m1-104v2m0 31v2m0 2v2m0 30v3m0 6v2m0 5v2m0 6v2m1-95v4m0 11v2m0 9v2m0 24v2m0 11v2m0 15v3m0 2v2m1-67v2m0 11v4m0 28v2m0 3v2m0 15v4m1-65v5m0 4v2m0 4v3m0 26v2m1-59v7m0 21v5m0 37v2m1-65v2m0 4v2m0 18v2m1-52v2m0 11v2m0 9v2m0 4v2m0 20v2m0 9v2m0 6v5m1-74v2m0 5v2m0 52v2m0 4v2m0 11v5m0 8v2m1-78v5m0 17v2m0 5v2m0 4v2m0 5v4m0 13v2m1-63v2m0 11v2m0 20v2m1-30v2m0 2v2m0 15v3m1-26v2m0 2v2m0 35v4m1-17v2m0 24v2m1-69v2m0 4v2m0 2v3m0 23v3m0 19v4m1-58v2m0 2v5m0 23v3m0 4v4m0 31v4m1-87v2m0 5v2m1 0v9m0 13v2m0 13v2m0 6v3m0 2v2m0 4v2m0 24v2m1-97v2m0 7v2m0 6v2m0 24v2m0 3v2m0 8v3m0 2v2m0 6v3m1-55v3m0 4v2m1 20v6m0 4v3m1-46v2m0 13v2m0 5v4m1-22v3m0 13v4m1 15v4m0 11v2m1-26v3m0 13v2m0 6v2m0 11v2m1-84v4m0 50v4m0 5v2m1-4v2m1-61v2m0 5v2m0 21v3m0 34v2m1-69v2m0 11v2m0 26v2m0 24v2m1-67v2m0 9v2m0 15v3m0 2v2m0 19v3m1-55v3m0 10v3m0 15v2m0 17v2m0 9v2m0 15v3m1-68v5m0 4v2m0 11v2m0 31v2m1-74v2m0 11v4m0 16v2m0 34v3m0 4v2m0 9v2m1-91v2m0 7v4m0 22v2m0 41v2m1-80v2m0 98v2m1-61v2m0 7v6m0 31v2m1-78v2m0 4v2m0 5v2m0 13v2m0 4v3m0 4v2m0 15v2m0 31v2m1-98v3m0 17v2m0 13v2m1-37v3m0 54v2m0 2v2m0 26v2m0 9v2m1-93v2m0 35v2m0 20v2m0 4v2m1-52v2m1-32v2m0 20v2m0 2v2m0 48v2m0 6v3m0 8v2m1-91v3m0 34v2m0 3v2m0 6v2m0 20v2m0 4v3m1-37v2m1-37v2m0 18v2m0 4v4m0 18v2m0 6v3m0 17v2m1-32v2m1 11v2m3-39v4m0 4v3m0 13v2m0 4v4m0 3v2m0 30v2m1-108v2m0 11v2m0 26v2m0 5v4m0 2v2m0 11v4m0 3v2m0 17v7m1-94v3m0 15v2m0 4v2m0 9v2m0 44v2m1-74v2m0 18v2m0 2v2m0 28v2m0 3v2m0 6v2m1-73v2m0 6v3m0 2v4m0 7v2m0 6v5m0 17v2m1-45v2m0 45v2m0 3v2m1-65v2m0 9v6m0 11v2m0 4v3m0 39v2m1-78v4m0 4v3m0 34v2m0 13v3m0 4v2m1-78v4m0 7v2m0 26v2m0 7v2m0 6v5m0 4v2m0 7v4m1-52v4m0 22v2m0 9v4m1-67v2m0 11v2m0 35v2m0 2v2m0 16v2m1-52v2m0 4v5m0 8v2m0 7v2m0 26v2m1-65v2m0 3v2m0 52v2m0 2v4m1-60v2m0 6v3m0 6v2m0 20v2m0 6v3m0 2v2m1-50v4m0 11v2m0 5v2m0 9v2m1-46v2m0 11v2m0 22v2m1-54v2m0 9v2m0 7v4m0 26v2m0 9v4m1-41v2m0 30v5m0 15v2m1-65v2m0 15v3m0 2v2m0 6v3m0 4v2m1-22v3m0 36v3m1-72v2m0 7v2m0 28v2m0 24v2m1-50v3m0 2v2m0 13v2m0 61v2m1-102v2m0 22v2m1-28v2m0 35v2m0 11v2m0 2v2m0 5v2m0 4v2m1-4v2m1-63v2m0 7v2m0 17v5m0 2v2m1-17v2m0 13v4m1-11v3m0 2v2m0 2v2m1-32v2m0 26v2m0 20v2m0 6v2m1-65v5m0 4v2m0 26v5m1-42v3m1-3v3m0 17v2m0 4v3m0 10v3m1-31v2m0 7v2m0 11v6m0 20v4m1-69v4m0 9v2m0 13v2m0 11v2m2-37v3m0 10v3m0 47v2m1-65v5m0 6v2m0 42v2m1-24v4m0 11v2m0 11v2m1-69v2m0 37v2m0 11v4m1-56v4m0 5v2m0 4v2m0 11v2m0 15v3m0 2v2m0 6v3m1-44v2m1-13v3m0 32v2m1-43v2m0 41v5m1-44v2m1-4v2m0 5v2m0 11v2m1-20v2m0 7v2m0 2v2m0 3v2m1-2v2m1-24v2m0 13v2m0 20v2m1 95v7m1-137v2m0 29v2m0 8v3m1-46v2m0 11v2m0 9v2m0 17v3m1-48v2m0 7v2m0 26v4m0 15v2m1-23v2m1-26v2m0 11v2m0 6v3m0 13v4m0 9v2m0 8v3m1-72v2m0 5v2m1 0v2m0 6v3m0 8v2m0 22v2m0 13v2m1-36v2m1-20v2m0 44v2m0 4v2m1-67v2m0 3v2m0 6v2m0 7v2m0 7v2m0 2v2m0 15v2m0 7v2m0 11v2m0 15v2m1-71v2m0 30v3m1-44v2m1-2v2m0 9v4m0 18v2m1-52v4m0 5v2m0 6v2m0 16v2m0 24v4m1-61v2m0 5v2m0 2v2m1 18v2m0 8v3m0 23v3m1-70v2m0 3v4m0 4v2m0 7v2m0 2v2m0 3v2m0 13v2m0 19v3m0 2v2m1-61v2m0 29v2m0 2v2m0 4v3m0 13v2m0 2v4m1-73v4m0 24v4m0 2v2m1-45v2m0 7v2m0 2v2m0 13v2m0 9v2m0 4v3m0 8v2m0 20v2m1-61v3m0 10v3m0 8v5m0 6v2m0 2v3m0 8v2m0 11v2m1-65v3m0 34v2m0 3v2m1-39v6m0 13v5m0 19v2m1-41v2m0 5v2m0 8v5m1-48v2m0 5v2m0 13v2m1-9v2m0 13v3m0 30v2m0 7v2m1-57v3m0 13v2m1-37v2m0 37v2m0 9v2m0 6v3m0 2v2m1-43v4m0 17v2m0 3v4m0 22v2m1-57v5m0 54v2m1-80v2m0 33v2m0 13v8m0 29v4m1-61v5m0 39v4m1-78v2m0 61v2m0 4v5m1-59v2m0 50v2m1-69v2m0 11v6m0 7v2m0 20v2m0 6v5m1-59v2m0 5v2m0 2v6m0 22v2m0 5v2m1-50v2m0 46v2m1-18v3m1-18v2m0 42v4m1-41v4m0 17v3m0 2v2m0 13v4m1-67v2m0 5v2m0 4v7m0 13v4m0 9v2m0 8v5m0 4v4m0 3v2m1-48v4m0 3v2m0 24v2m0 2v2m2-48v5m0 8v3m0 10v5m0 8v3m0 10v3m1-18v2m0 7v2m1-43v2m0 6v3m0 8v2m0 7v2m0 4v3m1-44v2m0 20v2m1-4v2m0 4v2m0 18v2m0 2v2m1-67v7m0 30v4m0 13v5m0 10v3m2-44v2m0 16v4m0 9v2m0 4v2m1-45v6m0 7v2m0 6v3m0 2v2m0 22v2m0 2v2m1-78v2m0 5v2m1-2v2m0 6v2m0 13v3m0 8v2m1-43v4m0 3v2m0 8v3m0 23v3m0 2v2m1-37v4m0 7v2m0 15v2m0 3v2m0 21v3m1-31v2m0 5v2m0 4v2m0 20v6m1-13v3m0 6v2m0 7v2m1 6v3m1-48v2m1-30v2m0 13v2m0 2v2m0 3v2m1-48v4m0 11v2m0 9v2m0 9v2m0 7v2m0 11v2m0 4v7m0 15v2m1-67v2m0 6v3m1-26v4m0 22v4m0 6v3m0 17v2m0 22v2m1-52v4m0 48v2m0 11v2m1-87v3m0 8v2m0 42v2m0 4v2m1-47v2m0 2v2m0 28v2m0 11v2m1-67v2m0 26v3m1-31v2m0 22v2m0 2v3m0 39v2m1-61v2m0 5v2m0 4v2m0 5v2m0 30v2m0 2v3m0 2v2m1-69v2m0 4v2m0 44v2m1-59v2m0 11v2m0 3v2m0 6v5m0 4v4m1-50v5m0 28v4m0 7v2m0 2v2m0 9v4m0 5v2m1-72v2m0 7v2m0 4v3m0 4v2m0 4v3m0 2v2m0 6v3m0 26v2m1-74v2m0 2v3m0 13v2m0 4v2m0 5v4m0 2v2m0 9v2m1-45v2m0 4v2m0 15v3m1-35v4m0 9v2m0 9v2m0 6v3m0 2v2m0 4v2m1-15v2m0 20v2m0 13v2m0 7v2m1-43v4m0 2v2m1-43v4m0 37v2m0 2v3m0 13v4m0 15v4m1-78v3m0 17v2m0 2v5m0 13v4m0 17v5m0 4v2m1-78v2m0 9v2m0 9v4m0 20v4m0 2v4m0 9v2m1-13v5m0 6v2m0 9v2m0 13v2m1-93v2m0 9v2m0 28v2m0 26v3m0 13v2m0 4v2m1-78v2m0 9v2m0 22v2m0 13v2m0 2v3m0 2v2m1-39v2m0 2v2m0 7v2m0 20v6m0 13v2m0 5v2m0 6v2m1-67v2m0 3v2m0 8v3m2-61v4m0 9v2m0 63v2m0 50v2m1-74v3m0 2v2m0 2v2m1-56v4m2-13v2m0 5v4m0 4v3m0 2v2m0 4v2m0 29v2m0 4v2m0 2v3m0 2v2m1-59v7m0 9v2m0 8v3m0 10v5m1-59v2m0 9v2m0 52v5m1-70v2m0 9v2m0 5v2m0 6v2m0 35v2m0 11v2m0 2v3m1-72v2m0 9v2m0 7v2m0 6v2m0 7v2m1-37v2m0 9v4m0 7v2m1-41v2m0 13v4m0 39v3m0 4v2m1-67v2m0 7v2m0 30v2m0 2v3m1-20v2m1-28v4m0 11v2m0 13v3m0 17v4m1-50v3m0 6v2m0 20v2m0 4v2m0 3v4m1-43v2m0 2v2m0 46v6m0 2v2m0 5v2m0 19v3m1-91v4m0 78v2m2-93v2m0 2v5m0 19v2m0 2v3m0 19v2m0 5v4m0 22v2m0 2v2m1-82v2m0 13v2m0 4v5m0 11v2m0 24v2m0 13v2m1-82v2m0 43v2m0 5v2m0 2v2m0 2v2m0 3v2m0 11v2m0 2v2m2-30v2m0 4v2m1-34v2m0 4v2m1-36v2m0 2v2m0 33v2m1-50v2m0 20v2m0 2v4m0 35v4m1-50v3m0 2v2m0 2v2m0 11v2m0 7v2m0 22v2m1-76v2m0 15v2m0 5v2m0 22v2m1-26v2m0 2v2m0 31v2m1-63v2m0 4v5m0 11v2m0 4v2m0 2v3m0 19v2m0 9v4m0 31v6m1-67v2m0 4v3m1-42v3m0 4v2m0 7v2m0 6v2m1-30v4m0 26v3m1-16v3m1 4v4m0 2v3m0 13v2m0 8v3m0 2v2m1-56v6m0 7v2m0 8v3m0 2v2m0 2v7m0 4v2m0 7v4m2-48v2m0 7v2m0 13v7m0 8v2m1-19v2m0 17v3m0 4v2m1-61v3m0 6v2m0 26v5m0 13v2m0 8v3m0 19v2m1-89v5m0 2v2m0 61v2m0 2v2m1-65v2m0 11v2m0 11v2m0 5v2m0 35v2m1-87v2m0 9v2m0 11v2m0 17v3m0 15v2m0 24v6m1-71v2m0 2v2m0 22v2m0 7v2m0 2v2m0 2v2m0 3v4m0 2v2m1-41v4m1-45v2m0 15v5m0 13v2m0 21v3m0 2v2m1-30v2m0 4v2m0 9v2m1-54v4m0 11v4m0 3v2m0 13v2m0 19v5m1-61v2m0 7v2m0 2v2m0 46v2m0 2v2m2-65v2m0 5v2m0 6v3m0 8v2m1-30v4m0 35v2m0 5v6m0 2v2m1-45v2m0 43v3m1-20v4m0 9v2m1-21v2m0 56v4m1-65v3m0 2v2m0 6v5m0 11v2m0 6v2m1-62v4m0 32v5m0 2v2m0 11v4m0 5v2m0 4v2m1-58v2m0 28v2m0 7v2m0 56v2m1-119v2m0 3v2m0 30v2m0 7v2m0 4v5m0 8v2m1-62v2m0 8v3m0 19v2m0 20v2m0 11v4m2-39v2m0 5v2m1-48v2m0 2v3m0 10v3m0 2v2m0 19v3m0 6v2m0 2v3m0 21v7m1-28v2m0 4v2m1-13v5m1-37v2m0 26v4m0 11v2m1-45v2m0 2v2m0 5v2m0 13v2m0 2v2m0 7v2m0 13v2m0 2v2m1-80v7m0 13v2m0 6v3m0 19v4m0 9v2m1-67v2m0 65v2m0 26v3m1-98v2m0 11v2m1 2v3m0 2v2m0 17v5m0 23v3m0 10v3m1-74v2m0 2v2m0 3v2m0 15v2m0 7v2m1-35v2m0 28v3m0 23v3m0 6v2m1-71v2m0 26v2m0 11v2m1-54v2m0 11v2m0 17v3m1 8v2m1 5v2m2-28v4m0 24v2m1-24v5m0 13v6m0 24v2m1-74v3m0 2v2m0 9v2m0 4v2m0 7v2m0 2v2m1-11v3m1 41v2m0 17v2m0 5v2m1-82v2m0 8v3m0 15v4m0 9v2m0 4v2m1-34v2m0 2v2m1-15v4m0 26v3m0 15v2m1-76v2m0 5v2m0 21v7m0 30v2m1-36v2m0 11v2m0 4v2m0 5v2m1-63v2m0 15v2m0 5v2m0 6v3m0 10v3m0 15v2m0 2v2m1-63v3m0 6v2m1-15v2m0 2v3m0 6v2m0 9v2m0 43v5m1-59v2m0 3v2m0 15v4m0 28v3m0 6v2m2-8v2m1-76v2m0 37v4m1 11v2m0 11v2m1-63v3m0 2v4m0 20v4m0 15v2m1-2v4m0 11v2m0 5v4m1-78v4m0 31v2m0 2v2m0 2v3m2-22v2m1-22v3m0 2v2m0 4v2m0 24v2m0 11v2m0 5v2m0 4v2m1-67v5m0 2v4m0 26v2m0 18v2m0 13v4m1-78v2m0 5v2m0 43v4m0 3v2m1-63v2m0 4v3m0 32v2m0 7v2m1-48v2m0 5v2m0 39v2m0 7v2m0 6v2m0 55v6m1-102v5m1-29v5m0 4v2m0 20v2m0 13v4m0 5v2m1-59v5m0 10v3m0 4v2m0 28v2m0 5v2m1-41v2m0 13v4m0 15v3m0 17v2m1-71v2m0 4v2m0 18v2m0 19v2m0 18v2m0 2v2m1-71v4m0 17v3m0 2v2m0 2v2m1-43v2m0 9v2m0 2v2m0 46v2m0 11v2m1-67v4m0 41v2m0 5v2m0 13v2m0 2v2m1-62v4m0 24v2m0 17v2m1-62v2m0 4v4m0 11v2m0 20v6m0 13v3m0 4v2m1-58v4m0 2v2m0 35v2m2-35v3m0 2v2m0 2v7m0 17v2m0 2v5m1-61v2m0 39v4m1-47v2m1 6v3m0 8v2m0 3v2m0 15v2m1-15v2m0 4v3m0 6v4m1-56v4m1 37v2m0 3v2m1-28v4m1-4v2m0 6v2m0 5v2m0 9v2m0 6v2m1-45v4m0 5v2m0 2v4m0 7v4m1-35v3m0 6v2m0 28v3m1-26v2m0 2v2m0 11v2m0 20v2m1-52v2m0 13v2m0 2v2m0 3v2m0 19v2m0 33v4m1-60v2m0 21v3m1-48v2m0 2v5m1-16v3m0 36v3m0 4v2m1-28v2m0 4v3m0 2v2m0 4v2m1-43v2m0 33v4m0 13v4m0 9v2m1-2v2m1-67v2m0 5v2m0 6v2m0 33v2m1-45v2m0 26v2m0 26v2m1-30v2m1-37v2m0 22v2m1-26v4m0 11v2m0 11v2m1-13v3m0 10v3m1-18v2m0 9v2m1-21v2m0 32v2m0 18v2m1-43v4m1-9v5m0 17v2m0 9v2m1-37v2m0 15v3m0 4v2m0 9v2m0 2v2m1-52v5m0 17v2m1-2v2m0 20v2m1-7v2m0 3v2m0 45v2m1-93v2m0 3v2m0 13v2m0 22v2m1-41v2m0 2v2m0 50v2m1-58v2m0 2v2m1-9v3m0 4v2m0 13v2m0 2v3m1-31v2m0 44v2m0 2v2m1-39v2m1-17v2m0 26v2m1-17v4m0 9v2m1-28v2m0 9v2m0 2v2m0 16v2m1-31v3m2 10v3m1 13v4m2-20v3m0 21v2m3-45v4m0 28v3m0 2v2m2-39v2m0 28v2m1-17v2m1-13v2m0 3v2m0 6v2m0 7v2m1-17v2m0 56v7m1-48v2m0 15v3m1-42v3m0 2v2m1 6v7m0 35v2m1-63v2m0 22v2m0 17v2m1-45v2m0 4v3m2-7v2m0 5v2m1 21v5m1-26v2m0 28v2m2-43v2m0 9v2m1-4v4m0 17v2m0 16v6m2-54v2m0 28v2m0 31v2m1-22v5m0 13v2m0 4v2m1-47v4m0 13v2m1-4v2m0 15v2m2-45v2m0 11v2m0 43v2m1-39v3m0 17v4m0 11v2m1-65v7m1 0v2m0 28v2m1-2v2m1-37v3m0 13v2m0 8v5m1-5v3m0 49v3m1-85v4m0 46v2m0 4v7m1-54v2m0 2v2m1-13v2m0 29v2m0 4v2m1-24v3m1-22v2m0 54v2m2-36v6m0 13v2m1-4v2m1-24v2m0 3v2m1 13v6m0 7v2m1-48v2m1 46v2m1-50v2m0 11v2m1 31v2m1-43v2m0 47v3m0 2v2m1-56v2m0 26v2m1-17v2m0 21v3m1-16v3m1-7v2m0 5v2m0 2v2m1 7v2m1-13v2m0 28v2m1-58v2m0 43v5m2-55v3m0 8v5m1 6v2m2-28v2m2-4v2m1-2v6m0 29v4m0 28v2m1-69v2m1 17v3m2-7v2m0 7v2m0 30v2m1-4v2m1-32v2m0 15v2m2-32v2m0 4v2m0 35v4m2-34v2m3-24v2m1 11v2m0 24v2m0 33v4m2-69v2m1-7v3m0 2v2m1 30v2m1-43v2m0 11v2m0 18v2m0 19v5m1-61v2m2 0v2m0 2v5m1 0v2m0 22v4m1-39v2m0 7v2m0 2v2m0 24v2m0 2v2m0 13v3m1-29v3m0 6v4m0 29v4m1-69v4m0 6v3m0 15v4m2 11v2m0 7v2m1-39v2m0 45v3m1-63v6m0 9v2m1-24v5m0 15v2m1-26v2m1 52v2m1-52v2m0 7v2m1 2v2m0 13v3m1-5v2m1-6v4m1-28v2m1 31v2m0 15v2m1-52v2m0 11v2m1 0v2m0 37v2m1-32v2m1-19v2m0 8v5m0 15v2m1-4v2m1-35v2m1 20v2m1-24v2m0 7v2m0 2v2m1 44v2m1-65v2m0 7v2m1 8v5m0 30v2m1-37v3m1-13v2m0 54v2m2-65v2m0 5v2m0 26v2m0 52v2m1-78v2m1 28v7m1-2v6m0 2v3m1-33v2m0 35v2m1-45v4m0 9v2m0 4v2m0 18v2m2-35v2m2-28v2m0 15v3m1-20v4m0 26v3m2-16v3m2-22v2m0 17v3m3-22v2m0 17v3m1-20v2m3 0v2m0 5v2m0 26v2m1 2v2m1-39v7m0 4v5m0 19v2m2-30v6m1-8v4m0 28v2m1-41v2m0 22v7m0 2v2m0 2v4m2-26v3m1-9v4m0 57v4m1-67v2m0 32v5m1-7v2m0 7v2m1-54v2m0 9v4m0 9v2m2-24v2m0 54v3m2-55v3m0 4v4m1 26v2m0 3v2m2-9v4m3-30v2m0 7v2m1-20v3m0 8v2m0 5v2m0 19v3m1-44v2m1 13v3m3-5v7m1-5v5m1 2v2m0 33v2m1-41v2m1 19v5m1-16v3m1-29v3m0 32v2m0 2v3m1-5v2m0 24v2m2-45v2m1 17v3m2-29v3m0 4v2m1-22v3m1 6v4m1 29v2m2-41v4m0 4v2m1-17v2m0 15v3m0 2v2m0 13v2m3 13v2m1-6v2m2-17v2m1-37v2m0 28v5m1-11v2m1-13v2m0 7v2m1 52v4m2-37v5m0 4v4m1-50v3m0 13v6m0 15v2m1-30v4m1-4v2m0 13v2m0 5v4m2 4v3m1-33v4m1-6v6m0 33v2m1-24v5m1 2v4m2-28v2m0 4v3m1-22v4m1 13v2m2-13v3m1 10v3m1 23v3m3-9v2m1-2v2m0 4v3m1-33v2m0 15v5m1-35v2m0 15v3m0 17v2m1-39v2m2 52v2m1-49v2m5-2v2m1 37v2m4-50v2m4 15v2m1-8v4m3-13v7m1-7v4m0 48v2m1-4v2"/><path stroke="#f50" d="M0 9v2m1-7v2m1 0v3m1 6v2m1-17v4m1 2v3m7 58v2m2-58v4m1-9v3m7 32v2m0 2v3m2-37v4m4 74v4m1-76v2m4 13v3m4-29v3m1-9v2m2-2v2m1 4v3m4-7v2m0 2v5m0 2v2m9-13v2m0 87v2m1-65v2m2-13v2m1-10v2m1 0v2m3-4v2m0 2v2m1 22v2m2 2v2m5-41v2m0 2v3m2 21v2m2-30v4m1-4v2m1 9v2m6 24v2m3-19v2m0 69v2m2-89v3m0 21v2m2-21v2m6 2v2m1-11v3m1 0v2m0 2v2m2 72v4m2-89v7m1 8v2m1-8v2m1-7v3m0 2v2m2 11v2m2-24v7m1 21v2m0 20v2m2-48v5m0 6v2m2-19v2m0 26v7m1-31v5m1 47v2m1-49v6m2 0v4m0 3v4m1-13v2m4-13v2m1 33v2m1-37v4m4-4v2m0 2v3m1 4v2m6-6v4m2 11v2m0 35v4m2-56v4m2-11v7m1-5v2m2 18v2m2-22v2m0 3v2m1-5v3m0 4v2m1-13v2m2 13v2m1-4v4m3 81v2m2-96v5m1 0v2m0 4v2m0 13v3m1-29v3m1-7v2m1 9v2m1 0v2m2-13v5m0 4v2m2 0v2m0 5v4m2-9v2m1-17v2m1 11v2m1-6v2m2 19v3m0 6v2m1 31v2m1-72v2m0 5v2m0 87v2m1-74v2m1-28v2m0 7v2m0 41v4m1-56v2m2 0v2m0 9v2m2-4v2m1-13v2m0 2v3m1-5v2m0 7v2m1 9v2m1-13v4m2-2v2m1-2v2m2-6v2m2 4v5m2-11v4m2 2v2m0 70v2m0 4v2m2-80v2m1-6v4m4-8v4m1 0v2m0 2v2m2-2v2m2-10v2m1-7v7m0 4v2m0 2v3m1-9v4m1-13v7m3-9v4m0 76v5m1-48v2m4-35v3m0 4v2m1-9v3m3-5v5m0 15v4m2-19v2m1-2v2m0 28v2m2-37v2m3 7v4m0 24v2m4-34v2m4 13v2m3-20v3m1-3v3m2-3v3m0 8v2m0 61v4m1-71v2m0 2v2m3-15v2m6 26v3m1-31v2m1 3v2m0 6v2m3-17v2m1 0v2m0 11v2m2-15v5m1 4v2m3 2v2m1-4v2m2-17v2m6 15v5m5-16v3m1 10v3m2-18v5m2 8v2m1-17v2m0 33v2m1-26v2m4 2v2m5-15v2m1-2v2m0 35v2m2-26v5m1 0v2m2-18v3m1 15v2m1-24v2m0 11v2m1-8v2m0 2v2m5-9v5m2 0v2m3-4v2m2-7v2m0 22v4m1-28v5m3 97v2m2-89v5m1-20v2m1-2v2m0 9v2m2 22v2m5-11v2m4-17v2m3-13v5m0 13v2m1-15v4m2 26v2m1 0v2m2-11v3m1-18v2m9 16v2m1-26v2m7 4v5m3-16v5m5 73v3m1-76v4m1-11v2m1 70v2m2-78v2m2-2v2m6 0v2m7 2v3m1-9v2m1 0v2m2 9v2m1-6v2m1 47v3m2-57v2m0 13v3m1-20v2m2-2v2m3 0v2m0 5v2m1 11v2m2-20v3m0 17v2m3-26v2m0 9v2m1-2v2m2-11v5m1-9v4m1 13v2m2-19v2m0 2v2m0 5v2m0 26v2m1-2v2m1-37v2m0 29v2m1 4v2m0 9v2m1-24v2m0 5v2m1-37v2m0 7v2m0 15v2m1-28v4m0 3v2m0 24v2m1-35v2m0 2v3m3-5v2m0 16v2m2-20v2m0 107v2m1-113v2m0 24v2m1-6v2m1 26v2m1-17v2m0 6v3m1-46v4m1-2v2m0 3v2m0 8v3m1-22v2m0 33v2m1-35v2m0 2v3m0 39v2m1-48v2m0 20v4m1-26v2m0 24v2m1-28v2m0 7v2m1-11v7m1-5v2m0 3v2m0 37v2m1-50v2m0 2v2m1-4v2m0 2v3m1-9v2m0 22v2m1-26v2m0 26v2m0 5v2m1-2v2m0 8v3m1-44v2m0 18v4m1 11v2m2-35v3m0 43v2m0 50v2m1-104v4m0 22v2m1 26v2m1-32v2m1-26v4m0 16v2m0 28v2m2-26v2m0 20v2m1-50v2m0 5v2m0 13v2m2-17v2m0 13v2m0 4v2m0 13v3m0 8v2m1-54v2m0 3v2m1-7v2m0 7v4m1-13v2m1-2v2m0 18v2m0 15v2m2-37v3m1-9v6m0 74v2m1-80v2m0 2v3m0 8v7m1 63v2m1-72v2m0 24v2m1-10v2m2-26v2m1-11v4m0 37v2m1 22v2m1-26v2m0 24v2m1-45v2m0 22v2m0 9v4m1-59v3m0 6v2m1-13v2m0 7v6m0 22v2m2-37v5m0 2v4m1-11v5m0 17v2m1-26v2m0 3v2m1-7v2m0 16v2m0 8v3m1-33v2m0 67v3m1-68v3m1-7v7m1-7v4m0 3v4m0 63v4m1-78v4m0 5v2m0 13v2m0 22v2m0 9v2m2-44v3m0 10v3m0 15v2m1-50v4m0 22v2m0 2v3m1-31v2m0 5v2m0 4v2m0 33v2m1-52v2m0 7v2m1-11v2m0 9v2m0 39v2m1-39v2m0 5v2m0 17v2m1-39v3m0 4v2m0 2v2m0 37v2m1-58v4m0 11v2m0 37v2m1-43v4m0 2v3m0 23v5m1-24v2m0 28v2m1-58v2m0 20v4m1-24v4m0 5v2m0 30v2m1-43v2m0 2v3m0 15v2m0 22v2m1-5v5m1-31v3m0 15v2m1-39v2m0 4v3m0 8v2m1 5v2m0 6v3m3 2v2m0 26v4m1-63v3m0 4v2m0 4v3m1-16v3m0 2v6m0 5v2m0 11v2m0 11v2m0 8v3m1-46v7m0 23v3m3-35v2m2-13v7m0 4v2m0 20v2m0 28v2m1-30v2m1-20v3m0 39v2m1-13v2m1-50v2m0 11v4m0 29v2m0 13v2m1-48v5m0 21v2m1-23v4m0 15v2m0 18v2m1-5v3m1-11v2m1-46v3m0 2v2m0 17v2m1-28v5m0 2v2m0 2v4m0 55v2m2-76v2m0 4v3m0 2v2m0 9v2m0 8v5m1 4v2m1-41v2m0 9v2m0 33v2m1-44v3m0 2v2m0 4v5m0 13v2m0 11v2m1-33v2m0 13v3m0 8v2m1-28v2m0 9v2m0 26v2m2-54v2m0 5v4m0 43v3m0 54v2m1-113v2m0 3v2m0 37v2m1-33v2m0 3v2m0 11v2m2-37v2m0 9v4m0 2v5m0 21v2m1-43v2m0 2v3m0 13v2m0 15v2m1-35v5m0 4v4m0 44v2m0 2v2m0 2v3m1-57v2m0 20v2m0 15v2m0 5v2m1-48v5m0 47v2m1-26v3m1-46v2m0 7v4m0 28v2m0 18v2m1-26v2m0 7v2m1-37v2m2 2v5m0 2v2m0 15v2m0 22v4m2-45v2m0 58v3m2-46v2m1 0v2m0 37v2m1-78v7m1 4v2m1-17v2m0 7v2m1-13v6m0 11v5m1 36v3m0 4v2m1-63v2m0 9v4m0 31v2m0 32v3m1-68v3m0 69v6m1-52v3m0 2v2m1-52v2m0 9v2m0 6v3m0 19v2m1-34v2m0 2v2m0 48v2m1-65v2m0 7v2m0 26v2m1-30v2m0 2v4m0 59v4m1-71v2m0 2v2m0 2v5m0 19v2m0 7v2m0 37v2m1-74v2m0 26v3m1-29v3m0 58v2m0 2v5m1-70v3m0 49v5m1-74v2m0 5v2m1 11v4m1-22v2m0 5v4m0 4v3m0 2v2m1 2v4m1-8v4m0 26v2m1-45v2m0 2v2m0 9v2m0 11v2m0 9v2m0 43v2m1-86v2m0 2v2m0 2v3m0 34v2m1-56v4m0 7v2m0 4v3m1-13v2m0 6v2m0 3v2m1-22v2m0 9v4m1 0v2m0 5v2m0 28v2m0 28v3m1-87v2m0 4v7m0 11v4m1-28v2m0 20v2m0 4v2m0 26v2m2-49v2m0 2v2m1 4v3m0 4v2m1-4v2m0 26v2m1-48v3m0 4v2m0 2v2m0 11v2m0 9v4m0 5v2m0 9v4m1-22v2m0 52v3m2-85v4m0 13v3m0 13v2m0 11v2m1-18v3m0 43v2m1-76v2m0 16v2m0 28v2m1-63v5m0 4v2m0 2v5m1-16v5m1 4v2m0 31v2m1 19v2m0 11v2m1-60v2m0 28v2m1-56v2m0 7v4m0 65v2m1-78v4m0 5v2m0 4v2m0 7v2m1-22v3m0 6v2m0 52v2m1-71v4m0 18v2m0 8v3m0 67v2m1-102v4m0 3v2m0 17v2m0 39v2m1-6v2m1-67v2m0 2v2m0 5v2m0 54v2m0 15v5m1-87v2m0 11v4m0 3v2m0 41v2m1-50v2m0 9v4m0 52v5m1-67v2m0 30v2m0 28v3m1-87v4m0 5v2m1 6v5m0 21v2m0 42v2m2-89v2m0 4v3m0 19v2m0 13v2m1-43v2m0 5v2m0 2v2m0 4v5m0 43v2m1-50v3m0 2v2m0 28v2m1-56v2m0 2v2m0 11v2m0 22v2m1 28v3m1-70v2m0 3v2m0 4v2m0 18v2m0 2v2m0 13v2m1-37v5m0 37v4m0 2v2m0 13v5m2-78v2m0 2v4m0 76v4m1-80v2m1 3v2m0 4v4m2 16v2m0 8v3m0 30v2m0 33v2m1-128v2m0 4v3m0 6v2m0 2v3m0 2v2m1-4v2m1-22v2m0 7v2m0 22v2m0 2v2m1-35v3m0 2v2m0 30v2m0 16v2m1-52v4m0 41v2m0 24v2m1-36v2m0 37v2m1-52v2m0 80v2m0 2v3m1-117v2m0 4v2m0 26v2m1 37v2m1-71v4m0 9v2m0 2v2m0 33v2m1-48v5m0 17v2m0 2v3m1-46v2m0 20v2m1 63v2m1-87v2m0 11v2m0 7v2m1-11v5m1 71v2m1-82v4m2-13v2m0 5v2m0 28v2m1-34v2m0 11v2m0 39v2m1-11v2m2-54v4m0 5v2m0 2v2m0 2v3m0 30v2m1-37v2m0 44v4m1-17v2m0 2v2m0 11v2m2 7v2m1-59v3m0 4v2m1 35v2m3-56v2m0 2v6m0 3v2m0 41v4m1-50v3m0 49v7m1-78v2m0 2v5m0 17v4m0 78v2m1-93v2m0 72v2m1-74v3m1-3v3m0 10v3m1-13v2m0 2v4m0 26v2m1-34v4m0 13v2m0 46v2m1-89v4m0 20v2m0 22v2m0 6v3m0 4v2m1-48v3m0 15v2m0 13v2m1-17v2m0 11v2m0 32v3m1-68v3m0 4v2m0 82v3m3-102v2m1 4v2m0 9v2m1-24v3m0 6v2m0 33v4m0 11v2m0 37v2m1-104v2m0 7v2m0 4v2m0 11v2m1-26v3m0 10v3m0 6v2m0 5v2m1-20v2m0 3v2m0 19v5m1-35v9m0 13v2m0 6v2m0 42v2m1-76v4m0 28v3m1-29v3m1-20v4m0 9v4m0 37v2m0 5v2m0 19v3m1-61v2m0 9v2m0 26v2m1-56v4m0 9v2m0 58v3m1-20v2m1 0v2m1-67v2m0 5v4m0 7v2m0 45v2m1-69v2m0 5v2m0 4v2m1 18v2m0 15v2m0 13v2m1-50v3m0 2v2m0 4v2m2-23v6m0 11v2m0 4v3m0 17v2m1-4v2m1-50v4m0 11v2m0 7v2m0 43v5m1-76v2m0 2v2m0 20v2m0 30v5m0 28v2m1-71v2m0 52v2m2-61v2m0 3v2m1-22v4m0 5v2m0 6v3m0 56v2m1-65v2m0 11v2m0 20v2m0 11v2m1 22v4m1-74v2m0 3v2m0 32v2m0 22v2m1-65v5m0 34v2m0 24v5m1-81v5m1-11v2m0 13v2m0 7v2m0 2v2m0 52v5m1-85v2m0 5v2m0 43v2m0 18v2m1-57v5m0 2v2m0 41v5m1-55v3m0 65v4m1-63v2m0 26v2m2-41v2m0 29v2m1-50v2m0 4v3m0 10v3m0 2v2m0 2v2m0 18v2m0 15v2m2-61v3m0 6v2m0 39v2m2-39v3m0 6v2m0 13v2m0 3v2m0 2v2m2-50v5m0 6v2m0 2v5m1-5v3m0 10v3m0 26v2m1-54v6m1-11v2m0 3v2m0 4v2m0 2v5m0 4v2m0 9v4m0 31v2m1-63v4m0 18v2m0 4v2m1 28v3m1-37v4m1 24v2m0 11v2m1-69v2m0 2v2m0 2v7m0 9v2m0 6v2m0 35v2m1-58v2m0 2v4m1 3v2m1-2v2m2-35v2m0 31v4m1-30v2m0 24v4m1-37v2m0 11v2m0 24v2m1-41v4m0 13v5m0 2v2m0 7v2m0 24v2m1-59v2m0 5v2m0 2v2m0 11v2m0 9v4m1 15v3m1-37v2m0 4v2m0 5v2m1-22v2m0 5v2m0 4v2m0 3v4m0 41v2m1-28v2m1-56v4m0 7v2m0 4v5m0 49v3m0 10v3m1-81v3m0 6v2m0 11v2m0 26v2m0 11v2m0 24v2m1-34v2m1-63v2m0 5v2m0 17v2m1 33v2m1-46v5m0 4v2m1-6v2m0 2v2m0 5v2m0 39v4m1-43v2m0 26v2m1-48v3m0 4v2m0 7v4m0 24v2m0 9v2m1-54v2m0 45v2m1-69v2m0 5v2m0 4v2m0 50v2m1-63v5m0 2v2m0 24v2m0 2v2m1-45v2m0 7v2m0 50v2m0 2v2m0 9v2m1-61v2m0 11v5m0 93v2m1-130v2m0 7v2m0 15v2m0 7v2m0 2v2m0 7v2m0 28v2m1-71v2m0 26v2m1-30v2m0 41v2m0 7v2m0 17v2m0 2v3m1-52v4m0 2v4m0 7v2m1-30v4m0 4v3m0 4v2m0 11v2m0 7v2m1-39v2m0 19v3m0 6v2m0 33v2m1-28v4m0 11v2m1-45v4m0 13v2m1-52v2m0 57v2m0 4v2m0 15v3m1-63v2m1-26v4m0 22v4m0 15v3m1-42v7m0 2v2m0 28v3m0 26v2m1-70v3m0 8v2m0 5v2m0 2v2m0 7v4m0 4v3m1-48v2m0 11v2m0 2v5m0 17v2m0 2v2m0 22v2m1-50v3m0 2v2m0 26v2m1-52v2m0 2v3m0 15v4m0 2v2m0 7v4m1-37v5m1 26v2m0 2v4m0 7v2m0 2v2m1-39v5m0 50v2m1-52v2m0 2v4m0 3v4m0 2v2m0 26v2m1-62v4m0 71v3m1-70v2m0 9v4m0 7v2m0 9v4m0 26v2m0 7v2m1-35v2m0 33v2m1-84v4m0 2v2m0 76v2m1-86v2m0 2v2m0 24v4m0 2v3m0 2v2m1-15v4m0 11v2m1-28v2m0 7v4m0 11v4m1-52v2m0 22v2m0 4v3m0 39v2m1-54v2m0 2v2m0 4v3m0 2v4m0 37v2m1-63v2m0 3v2m0 21v3m0 2v2m1-50v2m0 13v2m0 13v3m0 26v2m0 8v3m1-57v2m0 13v3m0 8v2m0 3v6m0 4v3m0 30v2m1-93v4m0 13v5m0 17v2m1-28v2m0 24v2m0 9v4m0 26v2m1-65v5m0 10v5m0 4v2m1-41v2m0 9v2m0 4v3m0 8v5m1 47v2m1-82v2m0 7v2m0 19v3m0 2v6m0 13v2m1-30v2m1-21v4m0 4v2m0 3v2m0 21v3m0 6v2m0 5v2m1-57v5m0 34v3m0 4v4m1-21v2m0 13v2m0 39v2m1-91v2m0 11v4m0 3v2m0 8v3m0 58v2m1-80v2m1-15v2m0 37v2m0 9v4m0 28v3m1-42v5m0 2v2m1-45v6m0 37v2m1-52v4m0 3v2m0 8v3m0 6v2m0 5v2m0 8v3m0 10v3m1 10v3m1-65v2m0 2v4m0 35v2m0 2v2m0 31v2m1-54v2m1-35v5m0 8v2m0 7v2m0 24v2m2-28v9m0 2v4m0 13v2m0 2v3m0 32v2m1-91v2m0 5v6m0 22v2m0 4v3m0 4v2m0 2v2m0 7v2m0 2v2m1-67v2m0 3v2m0 2v2m0 11v4m0 22v4m0 22v2m1-76v2m0 9v2m0 57v2m2-59v5m0 13v2m0 4v2m0 13v2m1-2v2m1-23v2m0 4v2m0 2v3m0 4v6m0 16v2m1-74v7m0 8v2m0 9v2m0 2v3m0 17v4m0 26v2m1-78v3m0 6v2m0 44v2m0 4v2m1-67v4m0 5v2m0 39v2m0 7v2m1-28v2m0 8v3m0 2v2m0 2v4m0 24v2m1-43v4m1-43v2m0 9v4m0 37v2m1-52v7m0 19v5m0 6v2m0 7v2m0 15v2m1-32v2m0 4v2m0 5v2m0 24v4m1-78v2m0 5v2m0 2v2m0 56v3m1-55v5m0 2v2m0 9v6m0 5v2m0 43v4m1-97v2m0 11v4m0 5v2m0 8v3m0 52v2m1-48v2m0 2v3m0 2v4m0 33v2m1-54v2m0 6v2m0 13v3m0 4v2m1-32v4m0 17v2m0 35v2m1-43v2m0 2v2m0 26v3m1-37v4m0 4v3m1-7v4m0 22v2m1-43v2m0 9v2m0 32v3m1-81v3m0 2v2m0 2v2m0 35v2m0 4v3m0 21v2m1-67v2m0 22v4m0 3v2m0 21v3m2-61v4m0 35v2m1-30v4m0 35v2m0 2v2m0 31v2m1-22v2m1-82v4m0 13v2m0 3v2m0 28v4m1-21v2m0 4v2m0 13v2m0 9v2m0 2v3m1-65v2m0 24v2m0 4v2m0 15v3m0 6v2m0 22v2m1-91v2m0 7v2m1-11v2m0 2v3m0 52v2m0 8v3m0 2v2m1-43v2m0 2v2m0 48v2m1-72v3m0 8v7m0 11v2m0 17v2m0 18v2m1-89v2m0 9v2m0 35v8m1-37v3m0 13v2m0 50v2m1-54v6m0 11v2m1-35v3m0 15v2m0 4v2m0 3v2m0 32v2m0 11v2m1-62v2m0 4v2m0 5v2m0 21v3m1-74v2m0 4v3m0 2v2m0 39v2m0 2v2m1-56v2m0 7v2m0 17v2m0 16v2m0 6v2m1-56v2m0 7v2m0 4v2m0 9v2m0 9v2m0 11v2m1-43v2m0 2v2m0 9v4m0 26v2m1-54v2m0 5v2m0 2v2m0 18v2m0 15v4m1-54v2m0 2v3m0 2v4m0 2v2m0 9v2m0 24v2m0 2v3m1-7v2m0 28v3m1-35v2m1-50v2m0 52v3m1-48v2m0 22v8m0 46v2m1-82v2m0 2v2m0 2v3m0 6v2m0 52v2m1-26v3m0 6v2m0 5v2m0 13v2m1-82v2m0 2v2m0 20v2m0 17v4m1-56v4m0 5v2m0 22v2m0 8v3m0 2v2m0 6v3m1-50v2m0 39v6m0 22v2m1-80v2m0 2v3m0 2v2m0 6v3m0 13v2m0 6v2m0 3v2m0 8v3m0 13v4m1-63v2m0 41v3m1-61v2m0 26v2m0 2v3m0 4v4m0 5v2m1 2v2m1-32v2m0 19v2m0 3v2m0 11v2m0 2v2m1-11v5m0 13v2m1-74v2m0 11v2m1-15v2m0 15v5m0 4v2m1 26v2m0 33v2m1-37v2m1-49v2m0 4v2m0 22v4m1-24v3m0 2v2m0 30v2m0 24v2m1-67v2m0 5v2m0 4v2m0 22v2m0 7v2m0 28v2m1-80v2m0 39v2m0 3v2m0 28v4m1-21v2m1-52v2m0 13v2m1-32v2m0 6v2m0 5v2m0 4v2m0 18v2m0 26v2m1-80v2m0 26v2m0 26v2m0 16v2m1-74v2m0 20v2m0 2v2m0 26v2m0 3v2m1-41v2m0 26v8m0 20v2m1-63v2m0 18v2m0 13v2m0 4v3m1-37v2m0 2v2m0 2v3m0 62v3m0 2v2m1-13v2m1-84v2m0 2v2m0 39v4m0 16v2m0 17v2m0 2v3m1-20v2m0 13v5m1-98v2m0 11v2m0 2v3m0 2v2m0 24v2m0 2v4m1-41v2m0 3v2m0 2v2m0 33v2m0 2v2m1-45v4m0 6v3m0 17v2m0 4v3m0 10v3m2-74v2m0 20v2m0 2v2m0 2v2m0 5v2m0 6v3m0 21v2m0 7v2m0 17v3m1-98v2m0 2v3m0 4v2m0 33v2m0 11v4m1-63v2m0 5v2m0 4v7m0 8v2m0 24v5m0 19v2m1-24v3m1-11v2m0 2v2m0 2v3m1-39v4m0 4v2m0 46v2m1-74v5m0 4v2m0 37v4m0 16v2m1-57v3m0 4v2m1 9v2m3 13v4m0 37v2m0 2v3m1-81v3m0 71v2m1-78v2m0 11v5m0 19v2m0 2v3m0 17v2m1-78v4m0 11v2m0 5v2m0 6v3m0 34v2m0 11v2m0 87v2m1-156v2m0 5v4m1-28v2m0 2v2m0 35v2m0 7v8m0 37v2m0 5v2m1-95v2m0 2v2m0 26v7m1-44v2m0 3v2m0 2v2m0 63v2m1-39v2m0 9v6m2-56v2m1 33v2m0 2v4m1-41v2m0 7v2m0 9v6m0 24v2m0 2v3m1-61v4m0 102v4m1-93v2m0 5v2m0 2v2m0 26v5m1-57v2m0 9v2m0 39v2m0 3v2m1-11v2m0 4v3m0 8v5m1-31v2m0 3v2m0 43v4m1-93v2m0 5v4m0 7v2m0 15v2m0 2v2m0 3v2m1-39v2m0 9v4m0 6v3m0 23v5m0 6v2m0 5v2m1-74v7m0 13v4m0 2v2m1-6v4m0 22v2m0 2v2m1-39v5m0 50v2m1-67v4m1 56v2m1-54v2m0 3v2m0 8v3m0 17v2m0 9v2m1-48v7m0 11v2m0 2v2m0 13v2m1-54v2m0 2v3m0 36v3m0 2v4m0 11v2m1-61v3m0 6v2m0 76v2m1-91v2m0 5v4m0 33v2m0 6v2m0 16v2m1-24v2m0 7v2m0 4v2m0 9v2m0 11v2m1-65v4m0 13v7m0 22v2m0 6v2m0 5v2m1-63v2m0 9v2m0 2v2m0 9v2m0 11v4m1-19v2m0 4v3m0 8v2m1-69v7m0 17v2m0 2v2m0 37v2m1-67v2m0 3v2m0 41v6m1-58v2m0 4v3m0 2v4m0 48v2m1-59v3m0 2v2m0 15v2m0 22v2m0 15v5m1-16v3m0 2v2m0 2v2m1-34v2m0 6v5m0 8v7m0 8v3m1-70v5m0 10v3m0 10v3m0 17v4m0 18v2m1-54v2m0 2v2m0 7v2m0 6v2m0 9v2m0 22v2m1-69v2m0 2v2m1 9v4m0 5v2m0 2v2m0 2v2m0 35v2m1-80v2m0 2v3m0 10v5m0 6v5m1-18v2m0 9v2m0 9v2m0 39v2m0 5v2m1-76v2m0 2v7m0 52v2m0 9v2m1-89v2m0 4v3m0 6v2m0 41v9m0 2v2m0 5v2m0 11v2m1-89v4m0 11v2m0 7v4m0 48v2m1-58v2m0 2v2m0 30v3m0 4v2m0 4v3m0 17v2m1-91v2m0 5v4m0 58v3m0 58v2m1-93v2m0 2v3m0 2v2m0 24v4m1-50v7m0 11v4m0 19v3m0 13v2m1-85v5m0 6v2m0 7v2m0 6v3m1-29v3m0 2v4m0 15v5m0 47v7m1-87v2m0 5v4m0 2v2m0 15v3m0 45v2m0 11v7m1-63v4m0 54v2m2-93v5m0 6v2m0 5v4m0 17v5m0 2v2m0 17v2m1-69v2m0 2v5m0 8v3m0 8v2m0 46v2m0 4v3m1-78v2m0 6v2m0 11v2m0 24v2m1-2v2m0 7v2m0 2v2m0 9v2m1-82v4m0 7v2m0 22v4m0 9v6m0 15v2m0 3v2m1-52v2m0 2v4m0 3v2m0 4v4m0 42v2m0 2v2m1-84v4m0 2v2m0 9v2m0 2v2m0 7v2m0 2v2m0 11v2m0 3v2m0 6v2m1-36v2m0 13v2m0 17v2m0 13v3m1-46v2m0 5v2m0 21v3m0 4v4m0 2v5m1-80v4m1 30v2m0 9v2m0 5v2m0 4v2m0 5v2m1-15v6m0 2v2m0 7v2m1-76v2m0 3v2m0 4v2m1-15v2m0 7v2m0 2v2m0 52v2m0 3v6m1-58v2m0 2v4m1-26v2m0 5v2m0 2v2m0 18v2m0 8v3m0 23v3m0 10v3m1-70v5m0 28v2m0 37v2m1-9v5m0 4v2m1-71v2m0 8v3m0 10v3m0 10v3m0 2v2m0 6v3m1-70v2m0 7v2m0 39v2m0 7v2m1-26v2m0 7v2m0 21v3m1-70v2m0 9v2m0 37v2m0 2v3m0 4v2m1-50v5m0 30v2m0 7v2m0 6v2m1-56v4m0 3v4m0 9v2m1 4v2m0 2v3m1-29v5m0 28v2m1-48v3m0 10v3m1 80v6m1-86v2m0 30v2m0 74v2m1-128v2m0 26v7m0 2v2m0 11v2m0 5v2m0 4v2m1 0v5m0 8v2m0 3v2m1-63v2m0 4v3m1-29v3m0 2v2m0 115v2m0 2v2m1-95v2m0 4v3m0 23v3m0 2v2m1-41v2m0 2v2m0 15v3m0 4v4m0 2v3m0 10v3m1-26v2m0 4v2m1-54v2m1-15v2m0 7v4m0 56v3m1-33v2m1-26v2m0 3v2m0 6v2m0 26v3m0 2v2m0 2v2m2-13v2m0 5v2m0 2v4m0 3v4m1 9v4m0 2v2m1-93v2m0 7v2m0 2v2m0 35v6m0 13v3m0 4v2m1-76v2m0 68v4m1-78v2m0 2v2m0 55v4m1-2v2m0 2v2m0 18v2m1-89v2m0 15v2m0 5v2m0 30v2m0 11v5m1-35v2m0 9v2m0 4v2m0 3v2m0 6v2m1-67v2m0 46v2m0 13v4m1-30v2m0 5v2m1-48v2m0 11v2m0 20v2m0 32v3m1-50v6m0 28v3m0 8v2m1-60v4m0 22v4m0 7v2m0 2v2m0 9v4m0 9v2m1-59v3m0 2v4m0 20v4m2-33v3m0 4v2m0 13v2m0 2v3m0 2v4m1 0v7m2 10v3m1-72v2m0 5v2m0 60v3m0 2v2m1-72v3m0 2v2m0 2v2m0 2v5m0 6v5m0 10v3m0 6v2m0 5v2m1 8v3m0 2v2m0 9v2m1-54v4m0 4v2m0 5v2m0 9v4m0 22v2m1-85v5m0 6v2m0 2v7m0 4v2m1-30v2m0 20v4m0 26v2m0 2v3m0 28v2m1-46v5m2-48v2m0 9v2m0 7v2m0 13v2m0 6v7m0 17v5m0 2v2m1-72v5m0 19v2m1-28v7m0 41v2m0 7v4m0 2v2m1-52v2m0 7v2m0 2v2m0 3v2m0 6v2m0 5v2m0 22v2m0 2v2m1-78v2m0 2v3m0 6v2m0 20v2m0 2v7m1-13v4m0 11v2m1-48v2m0 7v2m0 52v2m0 18v2m1-18v3m0 2v2m0 4v2m1-75v6m0 2v2m0 3v2m0 6v2m0 37v2m1-52v3m0 2v2m0 26v2m0 9v2m0 11v4m1-78v2m0 2v3m0 6v2m0 24v4m0 5v2m0 6v3m0 2v2m0 9v2m1-74v4m0 5v2m0 2v2m0 5v6m0 50v2m0 4v3m1-18v5m0 8v2m0 3v4m1-52v2m0 7v2m0 6v7m0 4v2m0 9v4m1-63v5m0 17v2m1-34v4m0 2v2m0 9v2m0 24v2m0 11v2m1-30v2m0 6v3m0 28v2m1-50v11m0 9v2m0 2v2m0 9v8m1-54v2m0 11v5m0 8v2m0 3v2m1-48v2m0 2v3m0 6v2m0 54v3m1-70v2m0 9v2m0 18v2m0 6v2m0 24v5m0 4v2m1-74v3m0 2v2m0 58v3m1 0v2m1-74v4m0 3v2m0 6v2m0 9v4m1-30v2m0 5v2m0 26v2m0 4v2m0 3v2m1-13v2m0 9v2m0 6v2m0 5v2m0 2v2m1-65v2m0 7v2m0 2v2m0 5v2m0 2v4m0 22v4m0 9v2m1-65v2m0 3v2m0 24v2m0 8v3m0 39v2m1-67v4m0 43v5m0 6v4m0 3v4m1-91v2m0 4v3m1 56v2m1-48v3m0 23v3m0 2v4m0 2v2m1-36v2m0 2v2m0 2v2m0 3v2m0 41v2m1-26v2m0 5v2m1-9v2m0 9v2m0 15v5m1-29v3m0 4v4m0 18v2m1-87v2m0 7v2m0 22v4m0 2v2m1-6v2m1 15v4m0 16v2m1-72v5m0 6v4m0 3v2m0 6v5m0 21v2m0 31v2m1-76v2m0 9v6m0 3v4m0 11v8m0 33v2m0 11v2m1-82v2m0 2v2m0 2v3m0 52v4m1-46v3m0 21v2m0 5v2m0 2v2m0 2v3m1-83v5m0 4v2m0 7v4m0 6v3m0 34v2m0 9v7m1-72v4m0 7v2m0 2v2m0 18v4m0 15v2m1-58v2m0 2v2m0 24v2m1-36v2m0 6v5m0 6v2m0 5v2m0 43v7m1-35v4m1-54v2m0 5v2m0 24v2m0 2v2m0 37v2m0 7v2m0 11v2m1-83v3m0 21v9m1-13v2m0 7v2m0 8v3m0 4v9m0 6v2m1-76v3m0 4v2m0 4v3m0 4v2m0 4v3m0 19v2m0 5v2m0 4v2m1-65v2m0 5v2m0 2v2m0 2v3m0 6v4m1-15v2m0 9v2m0 44v4m1-26v2m0 4v3m0 6v2m0 2v3m1-5v2m1-52v3m0 4v2m0 4v3m1-33v2m0 9v4m0 37v4m0 3v4m0 4v2m1-69v2m0 9v2m0 56v3m0 2v2m1-43v2m0 8v7m0 17v2m1-17v2m0 2v3m0 8v2m1-54v2m0 5v2m0 45v3m0 4v2m1-78v2m0 9v2m0 2v2m0 13v3m0 2v4m0 2v2m1-43v2m0 2v3m0 49v3m0 8v2m0 3v2m1-18v3m0 28v2m1-80v2m0 2v2m0 28v3m0 2v2m0 24v2m1-37v7m0 6v2m0 24v2m1-73v2m0 24v6m1-6v2m0 6v2m1-23v2m0 32v2m0 31v2m1-89v4m0 3v2m0 4v2m0 24v4m1-45v2m0 15v2m0 13v3m0 8v5m0 4v2m0 4v3m0 36v5m1-100v7m0 30v2m0 9v2m0 17v2m0 3v2m1-48v2m0 9v4m0 13v2m0 9v4m0 13v3m0 4v2m0 7v2m1-100v2m0 22v2m0 20v2m0 30v4m1-65v5m0 8v3m0 17v4m0 63v2m1-106v2m0 9v2m0 37v2m1-65v2m0 18v2m0 2v2m0 4v3m0 17v2m0 13v2m0 9v2m1-24v2m0 7v2m1-65v4m0 9v2m0 35v4m0 2v3m1-57v2m0 3v2m0 34v3m0 2v4m0 24v2m1-61v3m0 6v2m0 24v2m0 15v3m1-65v2m0 2v4m0 13v2m0 22v2m0 7v2m0 4v2m1 7v2m1-74v3m0 6v2m0 2v5m0 2v2m0 43v3m2-20v2m0 22v2m1-71v2m0 2v2m0 72v2m1-46v2m0 3v2m0 6v7m0 24v2m0 6v2m1-80v2m0 11v5m0 8v5m0 2v2m0 37v2m1-56v2m0 2v2m0 59v2m1-100v2m0 11v2m1-13v2m0 3v2m0 58v2m0 3v4m1-15v6m0 18v2m1-54v2m0 11v2m0 19v2m0 5v2m1-74v2m0 55v4m1-59v7m0 28v4m0 3v2m0 39v2m1-30v4m1 4v5m1-48v2m0 11v2m0 28v2m1-67v2m0 5v4m0 2v2m0 5v2m0 43v2m1-30v4m1-36v4m0 28v4m0 5v2m0 2v2m0 5v2m0 2v2m2-11v2m0 11v2m2-49v2m0 13v2m0 2v2m0 7v2m0 28v2m1-56v2m0 37v4m0 2v3m0 2v2m0 4v2m1-56v7m1-29v3m0 4v2m0 13v2m0 2v3m0 34v2m1-36v2m0 2v2m0 7v2m0 6v2m0 11v9m1-72v3m0 4v2m0 28v2m0 9v2m0 7v2m0 6v3m1-72v4m0 7v2m0 30v3m0 10v5m0 2v2m1-32v2m0 8v3m0 2v4m0 4v3m1-55v3m0 4v2m0 20v2m0 4v2m0 2v3m1-35v4m1-6v2m0 2v2m0 52v2m1-43v7m0 2v2m0 15v2m0 2v5m1-63v2m0 9v2m0 45v3m0 8v5m1-37v6m0 33v2m0 4v2m0 3v4m1-69v2m0 19v2m0 9v2m0 11v2m0 35v2m0 4v3m0 6v2m1-121v4m0 26v2m0 20v2m0 4v3m0 6v2m0 22v2m0 2v2m1-21v2m0 2v2m1-30v2m0 2v2m0 29v4m1-91v2m0 11v2m0 2v2m0 3v4m0 22v4m0 9v2m1-46v2m0 7v2m0 22v2m0 17v2m0 9v2m1-39v5m0 4v2m0 9v2m0 4v2m0 9v4m1-32v2m0 4v3m0 10v3m0 2v2m1-72v3m0 4v4m0 28v3m0 2v2m1-24v4m0 3v2m0 4v2m0 2v3m0 2v2m0 22v2m0 4v4m1-80v2m0 5v2m0 11v2m0 6v3m0 23v5m0 11v2m0 6v5m1-72v2m0 2v5m0 67v2m2-76v2m0 33v2m0 9v2m0 2v2m0 5v2m0 6v2m1-47v2m0 17v5m0 6v2m0 5v2m0 4v2m1-24v3m0 13v4m0 4v5m0 17v4m1-34v4m0 11v4m0 9v2m0 2v2m1-89v5m0 24v4m0 6v3m0 2v2m1 0v4m0 2v3m1-70v2m0 5v2m0 2v2m0 54v3m1-63v6m0 57v4m1-61v5m0 4v4m0 13v5m0 2v2m0 17v2m2-47v2m0 6v3m0 6v2m0 7v2m0 17v2m1-69v2m0 2v3m0 6v2m0 18v2m0 6v2m0 3v2m1-48v2m0 7v2m0 39v2m1-19v2m0 6v2m0 22v2m1-65v5m0 2v2m0 6v3m0 4v2m0 4v3m0 26v8m1-34v4m0 9v2m0 21v3m1-22v2m0 9v4m1-30v2m0 2v2m0 28v5m1-76v2m0 2v2m0 7v2m1 39v2m0 2v3m0 28v2m1-87v2m0 37v2m0 50v2m1-88v4m0 4v2m0 13v5m0 8v3m0 23v3m1-65v2m0 6v2m0 22v2m0 31v2m1-70v3m0 15v2m0 4v2m0 13v3m1 39v2m1 2v2m0 41v2m1-104v3m1-13v2m0 58v2m3-71v2m0 54v2m1-60v2m3 71v3m1-13v2m2-57v3m0 36v3m1-13v2m1-13v2m3-24v4m1 18v2m0 6v3m0 19v2m1-67v4m0 24v2m0 3v4m0 24v2m0 41v2m1-104v2m0 9v2m0 9v2m0 2v5m0 41v4m1-61v3m0 10v5m0 8v3m1-46v2m0 7v4m0 46v2m0 6v2m0 20v2m1-17v2m0 11v2m0 41v2m2-125v2m0 2v4m0 72v2m1-67v6m0 11v2m0 7v2m0 24v4m0 15v2m0 24v2m1-121v2m0 2v3m0 80v2m0 2v2m0 7v2m0 4v2m1-52v5m0 32v2m0 7v2m1-104v2m0 5v4m0 2v2m0 18v4m0 11v6m0 13v5m0 10v5m1-67v2m1-20v2m1 48v4m0 3v2m0 11v4m0 6v3m1-70v2m0 5v2m0 48v2m1-72v2m0 7v4m0 52v2m0 11v5m1-59v2m0 41v3m0 4v2m0 7v2m1-37v2m0 7v2m1-59v5m0 6v4m0 5v2m0 45v3m1-70v2m0 3v2m0 4v2m0 37v7m0 47v2m1-75v2m0 15v2m0 9v2m1-41v4m0 13v4m0 63v2m2-71v2m0 4v3m0 39v4m1-50v2m1-19v2m0 2v2m0 2v3m1-33v2m0 18v6m0 30v3m0 6v2m0 18v2m1-74v2m0 35v2m0 9v2m0 2v2m0 24v2m0 2v3m1-72v2m0 2v3m0 21v2m1-34v2m0 32v3m0 2v2m0 22v2m1-37v2m0 9v4m1 9v2m0 6v3m1-83v5m0 26v2m0 17v2m0 2v3m0 13v2m0 8v3m1-70v2m0 50v2m1-13v5m1-46v2m0 5v2m0 6v3m0 36v5m0 8v9m1-84v2m0 4v2m1 2v3m0 2v2m0 32v5m0 11v2m0 8v5m1-80v4m0 6v3m0 6v2m1 22v2m0 2v5m0 8v2m1-36v2m0 6v2m1 42v2m1-67v2m0 4v2m0 59v2m1-80v6m0 61v4m1-78v2m0 3v2m0 2v2m0 2v2m0 13v3m0 21v2m0 9v2m1 2v3m0 2v2m0 6v3m0 2v2m1-89v2m0 7v2m0 41v2m0 9v2m0 2v5m0 13v2m1-2v4m0 6v3m0 10v7m1-100v5m0 6v2m0 46v2m0 2v2m1-2v2m0 2v5m0 6v2m1-88v2m0 2v4m0 50v2m0 37v2m1-97v4m0 7v4m0 17v5m0 21v2m0 9v2m1-65v2m0 5v2m1-24v2m0 13v2m0 9v2m0 41v3m0 10v3m1-78v2m0 24v4m0 9v2m1-48v2m0 2v5m0 11v2m0 8v3m0 2v4m0 9v2m0 13v4m1-60v2m0 2v4m1 39v2m0 7v2m1-2v2m1-50v2m0 3v2m0 4v2m1-11v3m0 4v2m0 4v3m0 28v6m0 5v4m1-4v2m0 4v2m0 7v2m1-80v2m0 4v5m0 47v2m0 7v2m0 4v3m1-65v2m0 2v4m0 24v2m0 7v2m0 41v2m0 2v3m1-104v6m0 80v7m0 6v5m1-113v2m0 2v2m0 5v2m0 95v2m1-108v4m0 7v2m0 39v2m0 2v3m1-16v3m0 2v2m1-17v2m0 2v4m0 13v2m0 3v4m1-63v2m0 2v5m0 58v5m1-5v5m3-72v7m0 6v2m0 72v2m1-30v2m0 8v3m0 4v2m1-76v5m0 2v2m0 39v2m0 7v2m1-59v5m0 4v2m1 41v5m0 15v2m0 6v3m0 8v2m0 7v2m2-71v2m0 4v2m0 7v2m0 37v4m1-89v2m0 7v2m0 54v2m0 9v2m0 2v3m1-26v2m0 2v2m2-32v2m0 8v5m1-33v5m1-9v4m0 20v2m0 6v7m0 2v2m0 5v4m0 22v4m1-85v5m0 2v2m0 20v2m0 8v3m2-26v4m0 4v2m0 9v2m0 46v2m1-85v5m0 32v5m0 45v2m1-89v5m0 56v2m1-63v3m0 28v4m0 2v2m0 22v4m0 3v4m0 2v2m0 31v2m1-104v2m0 58v3m0 2v2m0 2v2m1-63v3m0 2v2m0 63v2m1-65v2m0 4v3m1-26v4m0 32v5m0 8v3m0 2v2m0 9v2m0 2v2m0 2v2m1-65v3m0 4v4m0 44v4m1-26v2m0 7v2m0 8v3m0 13v2m1-33v2m0 7v2m0 2v2m1 0v3m1-35v2m1-28v2m1 2v2m0 5v2m0 4v2m1 9v4m0 7v2m0 13v4m0 5v2m1-69v4m0 2v2m0 26v2m0 52v3m1-46v4m0 31v2m0 4v2m1-62v2m0 2v4m0 15v5m0 26v2m1-85v3m0 6v2m0 9v2m0 4v3m0 19v2m0 7v2m0 2v2m0 18v2m0 6v5m1-48v2m0 7v2m1 6v2m0 9v4m0 9v4m1-93v5m0 6v4m0 3v2m0 19v5m0 2v2m0 2v4m0 9v2m0 39v2m1-41v2m0 5v2m0 2v2m0 5v2m0 8v3m1-83v2m0 68v2m0 2v2m1-93v2m0 4v3m0 6v2m0 70v2m1-46v9m0 37v2m0 2v2m1-93v2m0 2v3m0 10v3m0 10v5m0 2v2m0 4v3m0 56v2m1-69v2m0 50v6m1-76v3m0 4v4m0 11v2m0 2v5m0 34v3m1-81v3m0 4v2m0 9v2m0 43v2m0 7v2m0 2v2m0 3v2m0 4v2m1-4v6m0 11v2m1-106v2m0 9v2m0 52v2m0 7v2m0 9v2m1-4v2m1-87v4m0 3v2m0 32v7m1-46v2m0 3v4m0 11v2m0 13v2m0 2v2m0 3v2m1 19v5m0 17v2m1-89v2m0 5v2m0 26v2m0 9v2m0 37v4m1-89v2m0 3v2m0 21v3m1-29v3m0 6v2m0 35v4m0 13v2m1-52v3m0 10v3m0 52v4m1-87v2m0 3v2m0 13v4m0 33v6m0 2v2m0 3v2m0 4v2m0 2v3m1-33v4m0 3v2m0 6v5m0 6v2m1-80v4m0 3v2m0 58v2m0 5v2m0 2v2m1-58v2m0 4v5m0 36v5m0 13v4m1-78v4m0 11v2m0 26v3m0 26v6m1-74v3m0 10v3m1-35v2m0 11v2m0 76v2m0 2v2m1-95v7m0 10v3m0 8v7m0 32v2m0 5v2m0 4v5m1-83v2m0 3v4m0 17v2m0 16v4m1-35v2m0 5v2m0 2v2m0 7v4m0 2v2m1-39v3m0 4v2m0 7v2m0 6v5m0 43v4m0 5v4m0 2v2m2-78v5m1-22v2m0 9v2m0 2v2m0 39v2m0 5v2m1-63v2m0 2v3m0 47v5m0 19v4m1-78v5m0 2v2m0 9v2m0 6v3m0 17v4m0 7v2m0 22v2m1-48v4m0 3v2m0 58v7m0 8v3m1-109v2m0 11v2m1-28v5m0 6v2m0 35v2m0 4v5m2-57v3m0 4v4m0 28v3m0 13v2m0 19v2m0 5v2m1-65v2m0 24v2m0 2v2m0 31v2m1-91v2m0 2v2m0 20v2m0 4v3m0 2v2m0 2v2m0 9v2m0 11v2m0 4v3m0 6v2m1-30v2m0 13v4m0 3v2m1-57v5m0 2v2m0 33v2m0 28v2m1-65v2m0 7v2m0 11v2m0 9v2m0 2v2m0 20v2m2-85v2m0 9v2m0 5v2m0 2v4m0 11v2m0 2v7m1-48v5m0 30v2m0 4v3m0 2v2m0 2v4m0 3v2m0 4v2m0 11v2m0 9v4m0 2v3m1-94v5m0 2v2m0 2v2m0 13v3m0 19v4m0 9v2m0 20v2m1-82v2m0 2v2m0 17v3m0 26v6m1 20v4m1-89v4m0 5v2m0 9v2m0 2v2m0 26v7m0 2v2m1-43v2m0 4v2m2-6v2m0 4v5m0 6v7m0 30v2m0 17v3m1-48v2m0 13v2m0 5v2m0 11v6m1-22v5m0 6v2m1-62v2m0 6v2m0 5v4m0 2v2m0 57v4m1-28v4m1-80v2m0 41v3m0 10v3m0 15v2m0 11v2m0 2v2m0 11v2m0 2v3m1-109v2m0 9v2m0 65v2m1-62v2m0 2v2m0 2v2m0 9v2m0 5v2m0 6v2m0 7v2m1-63v2m0 5v2m0 6v3m0 6v2m0 2v3m0 6v2m0 5v2m0 21v3m0 6v2m1-47v2m0 11v4m0 35v2m0 2v2m1-30v2m0 2v2m0 22v2m0 2v2m2-10v2m1-31v3m0 6v2m0 9v2m0 13v2m1-91v5m0 6v2m0 35v2m0 11v4m0 18v2m0 6v2m1-95v4m0 29v2m0 4v2m0 7v2m1-37v2m0 24v7m0 6v2m0 5v4m0 28v4m1-88v2m0 4v2m0 61v2m0 4v3m1-83v2m0 3v2m0 4v2m0 70v2m1-83v7m0 6v7m0 9v4m0 11v2m0 2v2m0 11v2m1-45v4m0 4v3m1-24v2m0 41v2m1-52v2m0 7v4m0 70v2m0 8v3m1-94v7m0 74v8m1-82v6m0 9v2m0 2v3m0 13v2m0 39v2m1-74v2m0 5v2m0 4v2m0 42v2m0 6v2m0 3v2m0 6v2m1-28v7m0 15v2m1-56v2m0 11v2m0 37v2m0 2v2m1-60v4m0 2v2m0 2v3m0 39v2m0 4v2m1-78v2m0 13v3m0 8v5m0 41v4m0 4v3m2-83v5m0 4v2m1-24v5m0 6v2m0 37v2m0 5v2m1 2v4m0 20v4m2-58v2m0 2v2m1-24v2m0 20v4m0 7v4m0 7v2m0 26v2m0 4v2m1-75v4m0 9v4m0 2v2m0 2v3m0 6v2m0 7v2m0 2v2m0 7v4m0 4v5m0 2v2m0 4v3m1-65v4m0 4v2m0 11v5m0 4v2m1-30v4m0 33v6m0 4v3m0 10v3m0 2v4m1-97v4m0 45v3m0 4v2m0 11v2m0 2v2m0 7v4m0 7v4m0 4v3m1-96v5m0 4v2m0 76v2m1-15v2m1-69v2m0 2v4m0 55v4m1-35v5m0 6v2m0 26v5m1-96v2m0 46v4m0 5v2m1-57v3m0 2v4m0 13v4m0 9v4m0 44v2m2-87v7m1-9v7m0 13v2m0 4v4m0 3v4m0 2v2m0 48v2m0 11v2m1-19v2m1-78v2m0 2v2m0 22v2m0 2v5m0 8v2m0 3v4m0 2v2m1-50v7m0 13v2m0 2v2m0 9v2m0 2v3m1-44v2m0 3v2m0 2v2m0 26v4m0 7v2m1-61v3m0 19v9m0 2v2m0 9v2m0 22v2m0 6v2m1-82v2m0 2v3m0 2v2m0 32v3m0 2v2m0 4v2m0 3v4m1-41v2m0 6v5m0 8v7m0 4v5m0 2v2m0 17v2m1-84v2m0 26v2m0 5v2m0 43v4m0 9v7m1-81v5m0 80v2m1-97v2m0 2v2m0 43v5m1-59v2m0 3v2m1-5v3m0 4v6m0 9v2m0 57v4m1-74v5m0 8v2m0 18v2m0 24v2m0 4v7m0 6v2m1-58v2m0 26v2m0 18v2m0 2v2m1-93v2m0 28v2m0 3v2m0 11v2m0 8v3m0 21v5m0 4v2m1-91v2m0 11v2m0 87v2m1-58v2m0 37v2m0 2v2m0 4v3m1-83v2m0 3v2m0 11v2m0 21v3m0 4v4m0 35v2m1-48v3m0 2v2m0 2v2m1-24v3m0 8v5m1-35v2m0 2v2m0 22v4m0 5v2m1-28v4m0 28v2m0 11v2m1 11v2m0 3v2m1-67v2m0 11v4m1-35v2m0 9v2m0 2v3m1-35v2m0 11v6m0 5v2m0 4v2m0 39v3m1-50v2m0 4v2m0 55v2m0 2v2m0 17v3m1-89v6m0 20v2m0 17v5m0 4v2m0 7v2m1-15v2m0 4v2m0 9v2m0 2v2m1-58v4m0 2v3m0 23v3m0 4v2m0 11v2m1-74v5m0 4v2m0 24v4m0 7v2m1-26v2m0 2v3m1-44v2m0 18v2m0 9v2m0 4v2m0 9v2m1-52v2m0 5v4m0 4v2m0 7v2m0 15v2m0 3v2m0 19v2m0 3v2m0 11v2m1 0v8m0 22v2m1-102v5m0 4v2m0 5v2m0 6v5m0 58v2m1-37v3m0 10v3m1-85v9m0 60v3m0 4v4m0 22v4m1-6v2m1-61v2m1-43v4m0 3v2m0 4v2m0 70v2m0 2v2m1-71v6m0 26v2m0 5v2m0 4v4m0 7v2m0 13v2m0 5v2m1-74v7m1-18v2m0 9v2m0 2v3m1-5v2m0 7v4m0 57v4m0 2v2m0 5v2m1-109v3m0 6v2m0 7v4m0 2v2m0 5v4m0 7v2m0 37v2m0 4v2m1-80v2m0 65v2m1-75v6m0 20v4m0 2v2m0 2v3m0 21v5m0 23v3m1-89v4m0 20v2m0 2v2m0 2v2m0 11v2m0 7v4m1-34v2m0 4v2m0 7v2m0 35v2m0 4v4m1-78v3m0 10v5m0 6v2m0 3v2m1-39v4m0 2v2m0 11v2m0 48v2m1-76v5m0 2v2m0 24v2m0 2v2m0 5v2m0 9v2m0 4v2m0 2v3m0 6v2m0 2v3m1-78v2m0 4v2m1-13v5m0 26v4m0 24v4m0 7v2m0 4v2m0 11v4m0 11v2m1-93v7m0 13v4m0 11v2m0 28v5m1-85v4m0 3v2m0 11v2m0 2v2m0 33v2m0 32v2m1-62v2m0 2v2m0 7v2m1-41v2m0 32v2m0 42v2m1-78v2m0 2v2m1-4v2m0 2v2m0 5v2m0 6v3m0 19v2m0 9v4m0 5v4m1 2v2m0 5v2m1-57v3m0 17v6m0 46v2m0 7v2m1-109v5m0 15v4m0 2v3m0 10v3m0 2v2m0 2v4m0 7v2m0 4v3m0 6v2m1-30v2m0 9v2m0 2v4m0 11v5m0 2v2m1-89v2m0 5v4m0 9v2m0 8v5m0 47v9m1-84v4m0 9v2m0 34v3m1-20v2m0 7v4m0 2v2m0 3v2m0 6v2m0 3v2m1-24v2m0 24v4m1-58v2m0 2v4m0 5v4m0 11v2m0 7v4m0 6v3m0 13v2m1-87v2m0 5v2m0 2v2m0 22v2m0 2v4m0 33v2m0 4v3m0 2v2m1-63v2m0 2v3m0 4v2m0 37v2m0 20v6m1-32v2m0 2v2m0 4v3m1-35v2m0 4v3m0 21v2m1-67v2m0 5v2m0 11v2m0 4v2m0 5v2m0 37v2m1-89v2m0 2v3m0 8v2m0 3v2m0 47v7m1-76v2m0 33v2m1-37v2m0 2v3m0 21v5m0 26v2m0 6v2m0 9v2m1-28v2m0 11v2m0 11v2m1-65v2m0 13v3m1-33v2m0 9v6m0 3v4m0 24v2m0 37v4m1-91v2m0 7v2m0 4v2m0 9v2m0 57v2m0 4v2m1-89v3m0 2v2m0 2v2m0 13v5m0 4v2m0 2v2m0 3v2m0 2v6m0 29v2m0 6v2m1-78v5m0 13v2m0 11v2m0 17v5m0 4v2m1-78v4m1-6v2m0 7v2m0 11v2m0 8v3m0 47v5m1-48v4m0 15v3m0 6v2m1-30v2m0 4v3m0 2v2m0 35v2m1-63v9m1 0v2m0 8v3m0 2v2m0 35v2m0 2v2m1-87v3m0 6v2m0 31v4m0 28v2m1-78v2m0 5v4m0 15v5m0 10v5m0 11v2m0 4v2m0 5v4m1-76v2m0 7v4m0 15v5m0 34v2m0 5v2m0 2v2m1-6v4m1-76v2m0 5v2m0 43v2m0 3v2m0 24v2m1-80v2m0 8v3m0 2v2m0 6v3m0 23v7m0 24v2m1-87v2m0 9v2m0 35v2m0 4v3m1-42v3m0 6v2m0 39v2m1-65v3m0 2v2m0 48v4m0 6v3m1-72v2m0 7v2m0 13v4m0 22v2m0 2v2m0 3v2m1-57v5m0 2v2m0 7v6m0 24v2m1-2v2m0 11v2m1-61v5m0 4v2m1-15v2m0 2v5m0 6v2m0 11v2m0 24v2m1-36v2m0 26v4m0 2v2m1-34v2m0 26v4m1-50v5m0 11v2m0 8v7m0 9v2m0 28v2m1-76v2m0 48v2m0 5v2m1-61v4m0 13v3m0 6v2m0 44v2m0 2v2m0 2v2m1-75v2m0 19v2m0 11v2m0 18v2m1-61v2m0 5v4m0 2v5m0 6v2m0 39v2m0 7v2m1-78v4m0 11v5m1-11v2m0 2v4m0 7v2m0 4v3m0 17v2m0 11v4m1-65v2m0 5v4m0 2v2m0 9v4m1-8v2m1-4v2m0 15v2m0 2v2m0 9v2m0 7v2m1-63v2m0 18v2m0 2v2m0 4v3m0 10v3m0 6v2m0 9v2m0 15v2m1-78v7m0 48v2m0 2v4m1-67v2m0 20v2m0 28v4m0 20v6m0 3v2m1-85v5m0 2v2m0 4v2m0 13v3m0 43v2m0 4v3m1-68v3m0 10v3m0 36v3m0 10v5m0 2v2m1-71v4m0 2v2m0 20v2m0 35v2m1-87v2m0 11v2m0 22v4m0 5v2m0 17v2m1-54v2m0 26v5m0 2v2m0 19v5m1-74v2m0 11v2m0 5v2m0 8v3m1-5v5m0 2v2m0 2v2m0 9v2m1 4v3m0 6v2m1-65v2m0 9v2m0 18v2m0 2v2m0 41v2m1-49v6m0 30v5m0 11v2m1-87v2m0 5v2m0 2v2m1-13v2m0 11v2m0 5v2m0 8v7m0 2v2m0 5v2m0 19v2m1-34v2m0 11v2m0 15v4m1-71v2m0 4v3m1 0v4m0 43v5m1-37v2m0 13v2m0 28v2m0 7v2m1-56v2m0 11v2m0 2v2m0 15v3m0 26v4m0 15v2m1-99v6m0 52v4m1-54v2m0 5v2m0 43v2m0 7v2m1-67v2m0 35v2m0 9v2m0 4v2m1-69v2m0 13v4m0 5v2m1 11v2m0 9v2m0 11v2m1-54v4m0 35v2m0 4v2m1-34v2m0 2v2m0 2v2m0 20v2m1-45v4m0 4v7m0 2v2m0 2v2m0 7v2m0 7v2m0 8v5m0 4v2m1-54v2m0 28v3m0 4v2m1-48v3m0 4v4m0 20v2m0 4v2m0 11v2m0 9v2m1-50v3m0 6v4m0 37v2m1-58v2m0 46v2m0 4v2m1-37v3m0 34v2m1-60v2m0 37v2m0 26v2m1-76v5m0 6v2m0 2v3m0 4v2m0 4v3m0 45v2m1-65v2m0 3v4m0 9v4m0 48v2m1-87v4m0 35v2m0 44v2m1-80v2m0 21v3m0 2v6m0 24v2m0 7v2m0 4v2m1-67v5m0 26v6m0 11v4m1-65v2m0 7v2m0 13v2m0 2v3m0 30v4m0 20v2m0 4v2m0 5v2m1-87v7m0 30v2m0 13v2m0 11v2m0 20v2m1-97v2m0 54v2m1-56v6m0 39v2m0 37v2m1-93v2m0 9v2m1-13v5m0 6v2m0 35v2m0 2v2m0 13v3m0 4v2m1-71v6m0 33v2m0 11v2m0 2v2m0 4v3m1-33v2m0 5v2m1-24v4m1-28v2m0 65v2m1-60v2m0 6v3m0 17v4m1 31v2m1-72v2m0 5v4m0 54v2m1-67v5m0 8v5m0 47v7m1-41v2m0 4v2m0 5v2m1-50v2m0 26v2m0 26v2m0 9v2m0 9v2m1-52v9m0 13v6m1-56v2m0 9v2m0 9v2m0 8v3m0 36v3m0 13v2m1-52v2m0 2v2m0 31v2m0 24v2m1-87v2m1-15v4m0 11v2m0 3v2m0 2v2m1 37v2m0 7v2m1-13v4m0 2v5m1-65v4m0 22v2m0 13v2m0 24v2m2-74v5m0 28v2m0 11v2m1-30v2m0 24v2m0 13v2m1-54v4m0 56v3m1-57v5m0 17v4m0 5v2m0 15v2m2 20v2m1-63v2m0 41v2m0 5v2m0 24v6m1-56v2m0 4v3m0 19v2m1-65v5m0 8v2m0 24v5m1-42v3m0 2v2m0 2v2m0 37v2m0 9v6m0 5v2m0 13v4m1-104v2m0 7v2m0 63v2m0 4v3m1-16v5m0 28v2m0 2v2m1-93v2m0 59v6m1-60v2m0 26v2m0 11v2m0 2v2m0 3v2m0 2v2m0 13v2m0 2v3m0 4v2m0 2v2m1-93v2m0 5v2m0 4v2m0 3v2m0 28v4m0 18v2m0 2v2m1-91v2m0 9v2m0 59v2m0 8v3m0 6v4m1-45v2m0 7v2m0 41v2m1-102v2m0 16v2m0 6v2m0 65v5m0 6v2m2-82v2m0 83v2m1-96v3m2 36v3m2-57v5m0 8v2m0 72v2m0 2v2m0 13v3m1-107v3m0 15v4m0 2v5m0 8v2m0 11v2m1-23v6m0 17v3m0 6v2m0 5v6m0 2v2m0 9v2m0 11v2m1-102v7m0 15v2m0 2v3m0 21v7m0 26v2m0 2v2m2-91v2m0 9v4m0 7v2m0 2v2m0 5v2m0 15v2m0 2v3m0 17v2m1-71v2m0 4v2m0 46v2m0 6v3m0 2v2m1 11v2m1-74v2m0 7v2m1-22v3m0 2v2m0 24v6m0 44v2m0 2v4m1-63v3m0 4v2m0 9v2m0 6v7m1-48v5m1-20v2m0 2v3m0 47v2m0 5v2m0 2v2m1-50v3m0 6v2m0 57v2m1-80v2m1-7v2m0 9v2m0 20v2m0 2v2m0 44v2m1-85v5m0 26v4m0 11v2m0 17v5m0 4v2m1-71v4m0 2v2m0 15v3m0 2v6m0 20v2m0 11v2m1-59v3m0 8v2m0 22v2m1-47v2m0 24v2m0 4v2m0 26v2m1-41v5m0 23v3m0 19v2m1-65v2m0 9v2m0 7v2m0 17v7m1-31v3m0 10v3m0 4v2m0 7v2m1-50v2m0 4v3m0 4v6m0 3v2m0 6v5m0 15v2m1-43v2m0 13v2m1-22v9m0 19v3m0 10v3m1-52v2m0 8v3m0 4v2m1 7v2m0 13v2m0 6v3m1-37v2m0 2v4m0 13v5m0 8v3m0 6v2m0 13v2m1-54v5m0 21v2m1-54v2m0 3v2m0 26v2m1-35v2m0 24v2m0 3v2m0 4v4m0 5v2m1-48v2m0 3v4m0 2v2m0 2v3m0 13v2m0 8v3m1-31v2m0 3v2m0 6v5m1-13v2m0 2v2m0 4v3m0 19v2m0 2v3m0 8v2m1-54v2m0 5v2m0 2v2m0 7v2m0 2v4m1-6v2m0 4v3m0 6v7m1-57v2m0 9v2m0 5v2m0 24v2m0 2v2m0 2v2m1-54v2m0 16v4m0 19v3m0 15v2m1-52v2m0 37v2m1-17v4m0 2v2m0 5v4m1-54v2m0 7v4m0 6v3m0 4v2m0 17v3m1-46v2m0 9v6m0 5v2m0 6v3m1-5v2m0 5v2m0 6v3m1-42v3m0 30v2m1-32v2m0 4v2m1 20v2m1-35v2m0 3v2m0 13v2m0 4v2m1-21v2m0 2v2m0 22v2m1-35v3m0 8v2m0 5v2m0 13v2m1-22v3m0 6v2m0 26v2m1-39v3m0 10v3m1-13v2m0 4v4m0 9v2m1 11v2m0 7v2m0 2v2m1-56v4m0 20v2m0 32v3m1-22v2m0 7v2m1-61v2m1 9v4m0 11v2m0 11v4m0 16v2m0 4v2m1-19v2m0 17v2m1-65v3m0 2v2m0 4v5m0 10v3m0 8v2m0 3v2m1-48v7m0 30v4m0 15v5m1-57v3m0 13v2m0 13v2m0 6v3m2-26v2m0 4v2m0 13v7m1-44v3m0 2v2m0 4v5m0 32v2m1-28v2m0 22v2m0 13v2m0 11v2m0 35v4m1-117v2m0 9v2m0 72v2m1-78v2m0 39v7m0 26v4m1-74v2m0 5v2m0 17v2m1-39v3m0 2v4m0 89v2m1-63v2m0 5v2m0 19v5m1-74v2m0 9v4m0 57v4m1-74v2m0 9v2m0 2v3m0 4v2m0 35v4m0 2v2m1-45v2m0 9v2m0 4v2m0 7v2m0 4v5m1-50v2m0 20v6m1-26v2m0 24v2m0 9v2m0 2v2m0 7v2m0 4v3m1-33v2m0 11v2m0 9v2m1-56v4m1 17v3m0 2v2m0 17v2m0 24v2m1-41v2m0 3v2m0 13v2m0 6v3m1-68v3m0 26v2m0 8v3m0 2v2m0 37v2m2-89v2m0 9v2m0 59v2m1-15v2m0 4v2m1-45v2m0 11v4m0 11v2m1-39v2m0 5v6m0 28v2m1-52v5m0 26v2m0 6v3m0 4v2m1-48v3m0 2v2m0 24v2m0 4v2m1-34v2m0 2v2m1-13v2m1-2v2m0 7v2m0 54v2m1-67v2m0 29v2m0 13v2m0 22v4m1-39v2m0 9v2m0 17v2m0 3v2m0 4v2m1-76v3m0 13v2m0 4v2m0 13v5m0 21v2m1-62v2m0 19v2m1-21v2m0 2v2m0 39v2m0 3v2m0 2v2m1-63v2m0 3v2m0 4v2m0 41v5m1-46v2m0 3v2m0 2v2m0 4v3m0 34v2m1-60v2m0 13v4m0 2v3m0 15v2m0 2v2m0 15v3m1-72v7m0 60v2m0 3v2m1-67v2m0 2v2m0 43v3m0 6v2m1-65v2m0 9v4m0 35v7m0 13v2m1-65v2m0 2v2m0 33v2m0 17v5m1-52v2m0 4v2m0 2v3m0 30v6m0 3v2m0 8v3m1-83v5m0 45v2m0 13v2m0 3v2m0 2v2m0 13v2m1-91v2m0 9v2m0 74v2m1-69v2m0 28v2m0 2v3m0 6v2m0 7v2m1-74v2m0 7v2m0 11v4m0 7v4m0 4v3m0 8v2m0 11v5m0 4v2m0 2v2m0 5v4m1-78v2m0 26v2m0 5v2m0 9v2m0 17v2m0 2v3m0 2v2m1-39v6m0 37v2m1-78v3m0 69v4m1-86v2m0 24v2m0 13v6m0 15v3m0 4v4m0 5v2m1-67v2m0 28v2m0 7v2m0 4v2m0 11v9m1-85v2m0 3v2m0 4v2m0 5v2m0 2v2m0 35v2m0 6v3m0 2v2m1-63v4m0 20v2m0 9v2m0 4v2m1-36v2m0 28v4m0 5v2m1-50v2m0 54v2m0 3v2m1-65v2m0 35v2m0 4v2m0 15v3m1-63v4m0 37v2m0 2v2m0 9v2m0 18v2m1-65v2m0 28v2m1-54v2m0 5v2m1 8v5m0 6v2m0 24v2m1-34v2m0 32v5m1 6v5m1-55v5m0 6v2m0 20v2m0 4v3m0 4v2m0 2v2m1-67v2m0 16v2m0 11v2m0 26v2m0 30v2m1-88v2m0 2v2m0 22v2m0 6v3m0 2v2m0 17v2m1-65v3m0 8v2m0 3v2m1-20v2m0 5v2m0 30v2m0 3v4m0 32v3m0 2v4m1-39v4m0 5v2m0 9v2m1-24v2m1-50v2m0 3v2m0 19v2m1-13v3m0 2v4m0 24v2m0 4v3m0 4v2m1-61v5m0 26v2m0 4v2m0 42v4m1-89v4m0 9v2m0 2v3m0 32v2m0 11v2m1-65v2m0 33v2m0 9v2m0 35v2m1-85v5m0 56v4m0 11v4m1-69v2m0 7v2m0 15v4m0 7v4m0 2v3m0 62v3m1-115v2m0 6v3m0 28v2m1-20v3m0 2v6m0 13v5m0 4v2m0 7v2m1-61v4m0 16v2m0 15v2m0 4v5m1-48v2m0 31v2m0 15v2m0 7v2m1-67v6m0 54v2m0 5v4m1-74v3m0 15v2m0 13v2m0 22v4m1-58v2m0 2v2m0 20v2m0 13v2m0 6v5m1-44v3m0 23v3m0 2v2m0 13v2m1-63v2m0 9v2m0 44v4m0 6v3m1-39v2m0 4v2m0 7v2m1-50v4m0 16v4m0 2v2m0 13v2m0 5v4m1-19v6m0 15v2m1-49v4m1-2v4m0 52v2m1-47v2m0 4v2m0 18v2m1-46v2m0 9v2m0 15v3m0 8v5m0 21v2m0 7v2m0 2v2m1-82v2m0 13v2m0 5v2m0 11v4m0 2v5m0 4v2m0 13v2m0 22v2m1-50v7m0 39v2m0 2v2m0 13v2m1-69v2m0 7v2m0 2v2m0 2v3m0 30v2m1-69v2m0 17v2m0 3v2m0 2v2m0 13v2m1-67v2m0 9v2m0 26v2m0 15v7m0 9v4m1-74v5m0 2v2m0 4v2m0 7v2m0 13v4m0 3v2m1-44v7m0 28v2m0 2v3m0 10v3m2-26v2m0 8v5m1 8v3m1 0v2m1-61v2m0 5v4m0 17v2m0 16v2m0 13v2m0 2v2m1-43v2m0 2v2m0 37v2m0 11v2m0 13v3m1-74v2m0 28v7m0 11v2m1-50v4m0 11v2m0 7v2m0 9v2m1 6v2m0 5v2m0 9v2m1-85v2m0 5v2m0 2v2m0 35v6m0 11v2m1-60v6m0 35v4m1-54v2m1 24v2m0 2v5m0 13v2m1-48v2m0 3v2m0 41v2m1-52v4m0 5v2m0 2v2m0 52v2m0 130v3m1-182v2m0 4v2m0 2v3m0 41v2m1-50v2m0 22v2m1-48v5m0 24v4m0 28v2m1 9v2m0 7v2m1-67v2m0 6v2m0 18v2m0 19v3m1-68v3m0 19v2m0 5v4m0 19v3m0 2v4m0 2v2m1-49v2m0 50v2m1-7v2m1-58v2m0 11v2m0 4v3m1-7v2m0 7v2m0 30v2m1-67v2m0 11v2m0 7v2m1-6v2m0 2v2m0 11v4m0 5v2m1-15v4m1-11v4m0 3v2m0 2v2m0 15v2m1-56v7m1-3v5m0 13v2m0 4v2m0 35v4m0 3v4m0 2v2m0 9v2m0 4v3m1-91v4m1 63v2m1-65v2m0 26v7m0 21v5m1-61v2m0 22v4m0 22v2m1-63v2m0 11v2m0 7v4m0 4v5m0 2v2m0 11v2m0 7v2m0 6v2m0 9v2m1-73v2m0 8v5m0 43v2m1-58v4m0 4v3m0 13v2m0 28v9m1-48v2m0 4v5m0 2v2m1-30v2m0 4v5m0 52v2m1-72v2m0 3v2m0 8v5m0 15v2m0 13v2m0 5v2m1-54v4m0 4v2m0 39v3m1-20v2m1-28v2m0 5v2m0 4v4m0 5v2m0 4v2m0 13v3m1-57v2m0 13v3m0 2v2m0 22v2m0 15v2m1-63v2m0 26v5m0 11v2m0 2v4m0 9v2m1-30v2m0 11v2m0 9v2m0 6v2m0 3v2m1-72v5m0 2v2m0 11v4m0 2v2m1-2v7m1 8v7m0 2v2m0 9v4m0 2v3m1-35v2m0 7v6m0 7v2m1-57v3m0 2v6m0 39v2m1-45v2m0 13v7m0 6v2m0 9v2m1-22v5m0 13v2m1-41v4m1-6v4m0 41v2m1-32v2m0 9v2m0 15v2m0 11v2m1-61v5m0 26v2m0 2v2m1-24v5m0 6v2m0 9v2m0 28v3m0 4v2m0 7v2m0 2v2m1-54v4m0 28v3m1-70v5m0 4v2m0 2v2m0 9v4m0 26v3m0 6v2m1-63v5m0 26v2m0 2v2m0 2v3m1 4v4m1-47v4m0 2v2m0 2v3m0 2v2m0 2v2m0 7v4m0 15v2m0 5v2m1-56v2m0 41v2m0 11v2m0 7v2m1-48v2m0 2v3m0 10v5m0 2v4m2-37v3m0 2v2m0 43v2m2-54v5m0 6v2m0 15v3m0 4v2m0 7v2m0 8v3m1-68v5m0 2v6m0 16v2m0 6v2m0 13v7m1-56v2m0 8v3m0 17v2m0 7v2m0 19v2m1-49v2m0 17v4m1-28v2m0 11v2m0 11v7m2-35v2m0 20v2m0 11v2m0 6v3m1-55v3m1 6v2m0 28v5m1-18v3m0 30v2m1-37v2m0 26v3m1-29v3m1 0v2m0 13v2m1-48v2m0 7v2m0 26v7m0 6v7m1-26v2m0 21v3m1-46v2m0 28v9m2-30v2m0 22v2m0 28v2m1-74v3m0 47v2m1-45v2m0 15v2m0 13v5m0 6v2m0 9v4m1-56v2m0 11v7m0 6v2m0 2v5m0 17v2m1-60v2m0 4v7m0 41v2m0 2v2m0 2v5m1-72v5m0 10v5m0 19v2m0 20v2m0 2v2m0 13v3m1-76v2m0 19v3m0 8v2m0 29v4m0 2v4m1-69v2m0 20v2m0 4v2m0 18v2m1-26v2m1-22v3m0 2v2m0 19v3m0 15v2m0 2v2m1-56v2m0 11v2m0 9v2m0 13v2m1-48v3m0 2v2m0 4v2m0 13v3m0 15v2m1-48v5m0 13v2m0 13v2m0 2v2m1-6v2m0 2v4m0 9v2m0 2v3m0 4v2m1-39v2m0 33v4m1-48v3m0 19v2m0 18v4m1-24v2m0 7v2m1-28v2m0 22v2m0 2v2m0 2v2m1-49v2m0 6v2m1-2v2m0 9v2m1-17v4m0 7v2m0 2v2m0 15v3m2-39v2m1-2v2m0 2v2m1-11v2m0 7v2m0 9v2m0 9v2m0 17v2m0 5v2m0 11v2m1-67v2m0 11v2m1-15v2m0 37v2m0 19v2m3-52v3m0 45v2m0 2v3m1-50v2m0 13v2m1-19v2m1-22v2m0 24v2m0 13v2m1-32v2m0 17v3m0 8v2m1-41v2m0 29v2m0 24v2m0 2v2m1-58v2m0 28v2m1-35v3m0 17v2m0 20v2m0 24v2m1-65v2m1 39v2m1-37v2m0 13v3m0 6v2m0 2v3m1-3v3m0 6v2m1-30v2m0 2v5m2-29v3m2 4v2m0 4v3m1-18v2m0 31v2m1 56v2m2-82v2m0 35v2m2-39v2m1 39v2m1-30v4m1-6v4m0 31v2m4-57v3m1-9v6m1 11v2m0 42v6m1-45v2m1-11v2m0 15v2m2-28v2m0 7v2m1-6v2m0 21v3m1-29v3m0 56v2m1-54v2m3-9v3m1 21v2m1 26v3m2-31v5m1-20v4m0 13v3m0 26v2m3-39v2m4 19v3m2-26v4m0 4v2m1-2v2m2-23v4m1 22v4m0 15v7m2 21v2m1-45v2m1-24v2m1 18v2m5-39v4m1 41v3m2-33v2m0 24v2m1-2v2m1 18v2m1-24v2m4-30v4m0 2v2m1-4v2m1 7v2m1-13v2m0 11v2m2-2v2m0 33v2m1-41v2m1 37v2m1-2v2m1-18v3m3-44v5m1 2v2m6 9v4m1-11v2m2-8v2m2-9v4m2 16v2m2-2v2m0 21v3m1-44v2m1-4v4m2 24v2m1 35v2m1-58v2m1 15v2m0 35v2m1-50v2m2 3v2m3-13v2m3-11v2m6 46v2m1-43v2m2-11v2m2 20v2m1 54v2m3-69v2m1 43v2m1-45v2m2 0v2m0 26v2m1-6v2m5 11v2m1 13v2m2-28v2m1-43v2m0 30v5m1-37v2m0 4v3m3 52v4m2-17v2m2-15v2m1-37v2m0 28v2m4 16v2m1-26v2m1 19v3m2-39v2m0 41v2m2-32v2m2-7v2m1 11v5m3-7v2m4-21v2m1 24v2m8-20v2m1 24v5m4-24v2m1-17v2m3 6v2m4 5v2m1-15v2m1-4v2m2 15v2m2-15v2m2-6v2m1 4v7m1-9v4m0 7v2m6-7v3m0 2v2m1 48v2m3-67v4m1 6v3m2 6v4m1 16v2m3-46v5m1 47v2m1-10v4m1-22v2m5 0v3m0 13v2m2-18v3m1 17v2m1-19v2m3-13v2m1 50v2m7-63v4m2 22v2m6-2v2m0 9v2m1-28v2m2-19v2m5 28v4"/><path stroke="#ff2f00" d="M2 39v6m4-30v2m6-2v2m1 15v3m1 56v2m1-76v2m7-8v2m0 4v5m2-7v4m2-15v5m2-5v2m0 5v2m1-9v2m3 35v2m3-41v2m4 7v6m2-13v2m1 3v4m2 2v2m1 0v5m4 15v2m6-30v2m0 2v2m1-13v2m1 0v2m3 9v2m1-4v6m4-2v5m1-9v2m1-9v3m4 52v2m2-61v2m1 9v2m0 20v2m1-24v2m1-4v2m3 19v3m4-26v2m3-5v3m0 6v2m1 93v3m4-78v2m3-31v3m1 58v2m1-65v2m1 5v2m2-4v2m0 6v2m0 72v2m3-67v2m2-19v2m2-5v3m0 13v2m6 17v4m1-34v2m2 45v5m1-2v4m2-52v2m17 13v4m1-19v2m0 24v2m11 9v2m5-33v3m2-16v5m4-5v3m6-7v2m1 37v7m1-44v2m1 81v4m1-78v2m1-11v2m1-2v2m0 3v2m0 6v2m1-6v2m4-13v2m0 5v2m1-9v2m0 5v2m0 19v2m0 11v5m1 10v3m3-55v3m1 32v2m1-39v2m3-2v2m1 20v2m2-15v2m0 2v2m1-2v2m2 20v4m1-30v2m3-13v2m2 89v2m0 2v3m1-85v2m1-8v2m1 8v3m2-11v2m9 4v2m2-6v2m0 65v2m1-71v2m0 4v2m1 18v4m3-28v4m3 26v2m4-39v3m0 6v2m1-13v5m2 15v4m4-22v3m3 6v2m11 67v3m1-87v2m0 13v2m2-6v2m2 0v2m1 15v2m6 0v3m7-31v2m0 9v2m1-6v4m0 28v2m2-39v3m2 2v2m2-9v2m3-6v2m7 17v3m1-20v2m0 11v2m1-4v2m2 2v2m1 3v2m2-7v2m10 68v2m2-39v2m1-50v2m2 7v2m0 4v2m7-15v5m0 17v2m2-15v2m2 2v2m1-10v2m0 2v2m2-2v2m1-13v2m0 2v3m2 32v2m3-39v9m3-7v3m1-5v2m1 0v3m1 0v2m2 30v2m6-39v2m3 13v3m3-11v2m0 28v2m2-21v6m1 7v4m3-28v4m2 7v2m2 34v3m2-59v2m0 20v2m0 26v2m1-45v4m2-13v4m0 65v2m7-65v3m1 23v3m1-24v4m3-13v7m0 6v2m2-4v2m6-13v2m2 2v3m6 6v2m0 76v7m1-83v2m5 16v2m3-11v2m3 33v2m2-35v2m0 18v4m3-33v3m1-11v2m0 6v3m0 58v4m2-13v3m1-59v2m3 31v2m3-18v3m0 13v2m2-31v3m2 15v2m2-33v3m2 0v2m6 4v2m0 22v2m1-37v2m0 46v2m1-41v2m0 9v2m2 0v2m1-11v2m1 0v3m4-16v3m1 41v2m1-13v2m1 13v2m1-6v2m2-20v3m0 45v2m1 33v4m1-76v2m1-41v2m0 76v5m1-81v3m4-3v3m1-7v2m0 2v3m0 26v2m2-31v3m0 8v2m1-15v2m0 9v2m0 2v3m1 69v2m2-80v2m1-6v4m2-2v2m1 13v2m0 39v2m1-56v2m1 46v2m3-52v2m0 76v2m1-89v4m0 20v2m0 26v2m1-19v2m0 39v2m2-37v2m1-30v2m2 11v2m2-2v2m1 33v2m1 2v2m1-58v4m1 13v2m2-28v2m1 24v2m0 44v2m2-50v2m1 28v2m0 16v2m1-26v2m1-9v2m1-17v2m2 37v2m1-65v2m5 5v2m0 26v2m1-35v5m3-9v2m0 2v3m0 8v2m0 11v2m0 31v2m0 37v4m1-97v2m1 0v2m1-7v3m3-7v2m0 5v2m0 6v2m1-15v2m2 7v4m1-8v2m0 17v2m0 13v2m1-41v2m0 5v2m1 2v4m0 7v2m3-24v5m0 17v2m0 13v2m0 7v2m1-48v2m0 3v2m0 65v2m0 2v2m1-78v2m0 3v4m0 17v2m0 16v2m3-37v2m0 89v2m1-93v2m1-9v5m2-5v3m0 4v2m2 78v2m1-89v5m2 58v5m3-59v2m1 2v3m1-18v2m0 7v4m0 15v3m1-29v3m3 101v5m1-109v3m0 8v2m1 22v2m2-28v2m2 11v2m0 39v2m1-6v2m1-52v2m0 76v2m1-76v3m0 58v4m1-80v2m0 9v2m0 2v3m0 34v2m0 46v2m1-102v2m0 11v5m1-7v2m0 2v5m0 43v4m1-10v2m1 43v2m3-56v2m1-41v2m1-6v4m2 80v2m1-91v2m0 9v2m3-4v2m1-11v2m0 113v2m2-95v2m1-24v2m0 9v2m1 2v5m0 89v2m1-113v2m0 7v2m0 35v2m0 17v2m1-6v2m0 4v2m1-52v3m0 28v4m1-39v4m0 16v2m0 2v2m0 41v2m1-75v2m0 2v2m0 7v2m0 52v2m1-72v3m0 6v2m1-11v3m0 6v7m1 0v2m0 13v2m0 17v2m1-56v4m0 9v2m0 52v2m1-62v2m0 8v5m1-20v2m0 7v2m0 28v2m2-39v3m0 17v2m0 52v4m1-80v5m0 86v2m1-78v3m2 0v2m0 13v2m1-33v3m0 21v2m0 35v2m1-60v4m0 9v2m0 30v2m1-30v2m0 20v2m1-44v3m1 17v2m0 37v2m1-58v2m2-7v2m0 26v3m0 17v2m1-4v2m0 30v2m1-78v3m0 4v2m0 2v2m0 3v2m1-15v2m0 102v2m1-83v3m0 45v9m3-78v4m1 0v2m1-2v4m0 44v2m1-59v3m0 4v2m1-4v4m0 56v3m0 2v2m1-11v2m1-63v3m1-5v2m0 3v6m0 15v2m0 55v2m1-76v9m0 4v2m0 41v5m1-55v3m0 4v2m0 17v3m0 36v3m1-81v3m0 4v4m0 2v5m0 13v2m0 9v2m1-31v3m0 2v2m1-9v5m2-11v4m1 2v5m0 71v2m2-93v2m0 2v3m0 8v2m0 3v2m1 13v2m1-20v5m0 34v3m1-55v3m0 10v5m0 26v2m1-50v4m0 18v2m0 74v2m1-83v3m0 8v2m2-23v2m0 84v2m1-84v2m0 11v2m0 20v2m0 4v2m0 26v2m0 11v2m3-95v2m0 22v2m0 24v4m1-54v4m0 9v4m2-2v5m0 13v2m1 4v2m0 54v5m1 6v7m1-7v2m1-88v2m1-11v2m0 4v3m0 65v6m0 17v5m1-22v7m1-76v4m0 61v4m1-58v2m0 6v2m0 20v2m1-63v5m0 2v2m0 9v2m0 21v3m0 15v2m2-61v2m0 7v2m0 7v2m0 6v2m0 22v2m1-39v5m0 2v2m0 69v2m1-88v4m0 11v2m0 15v2m0 9v2m1-45v2m0 78v2m1-85v3m0 10v3m1-3v3m1-7v2m0 7v2m1-2v2m0 4v2m1-15v2m0 35v2m1-37v7m0 67v2m2-89v3m0 4v4m0 5v2m0 19v2m1-41v2m1 0v3m0 4v6m1 46v2m2-58v4m0 2v2m0 5v4m0 4v2m0 81v4m2-39v2m1-63v5m0 60v2m1-82v2m0 5v2m0 2v2m0 24v6m0 29v2m1-59v2m0 96v4m2-108v6m0 26v2m0 5v2m0 52v2m1-97v4m0 2v4m0 3v2m0 32v5m0 43v2m1-91v2m0 28v5m0 4v2m0 15v3m1-70v2m1 18v2m0 9v2m1-33v2m0 3v2m0 11v2m1-18v3m1 47v2m1-45v6m0 7v4m0 11v2m1-28v2m1-6v2m0 11v2m1-20v3m0 10v5m1-7v2m0 3v2m1-13v2m1-4v4m0 28v2m0 54v5m1-91v2m0 41v2m1-50v5m0 4v4m1 0v3m0 80v2m2-56v2m0 13v2m0 9v2m1-72v2m0 5v2m0 39v2m0 11v2m1-63v2m0 24v2m1-26v5m0 56v2m0 52v2m1-97v2m0 13v2m0 52v2m1-84v2m1-4v4m1-13v2m0 7v2m0 26v2m1-6v2m0 63v2m1-91v2m0 6v3m0 6v2m1-24v3m0 34v2m1-10v2m0 8v3m0 19v2m1-56v4m1-13v2m0 7v2m0 7v4m1-22v2m0 7v2m0 9v4m1 11v2m0 43v3m1-9v2m0 2v2m1-78v3m0 8v2m0 31v4m1-48v3m0 28v2m1-26v4m0 5v4m0 24v2m0 35v2m0 13v6m1-86v2m0 4v2m1-11v3m0 19v4m0 11v2m1-26v3m0 58v2m2-84v4m1-9v5m0 34v3m1-35v2m0 9v4m0 52v2m1-76v3m1 41v2m1-2v2m0 17v2m1 16v2m1-83v3m0 4v2m0 4v3m0 71v4m1-88v2m0 4v2m0 28v3m0 6v2m1-45v2m1-2v2m0 11v4m1-22v3m0 6v4m1 24v2m0 37v2m1-73v4m0 2v2m1 63v2m1-65v3m0 2v2m2-17v2m1 73v3m1 43v4m1-119v2m0 7v2m0 15v2m0 7v2m0 2v2m1-50v3m1 15v6m1-26v2m0 13v3m0 2v2m0 2v2m1-17v4m0 83v4m1-80v4m0 7v4m0 24v2m0 17v2m3-75v2m0 2v4m0 11v2m0 2v3m0 2v4m1-32v2m0 24v2m0 11v2m1 34v3m0 6v2m1-63v3m1-31v5m1-5v2m0 33v2m1-22v3m1-18v2m0 9v2m0 2v5m0 8v3m0 4v2m0 17v3m1-33v2m2-17v4m1-13v2m0 13v3m0 13v2m0 11v2m1-46v2m0 9v2m0 13v5m1-31v2m1 31v2m1-15v6m1-8v2m0 4v4m0 5v2m0 39v2m1-76v5m0 2v2m0 28v2m0 2v3m0 8v2m0 31v2m0 4v2m1-95v2m0 11v2m0 28v3m0 6v2m0 7v2m0 9v2m1-61v2m0 7v2m0 4v2m0 22v2m0 28v3m0 2v2m1-69v2m0 69v2m1-69v2m0 26v2m0 33v2m1-89v2m0 33v2m0 30v2m1-62v6m0 37v2m0 59v4m1-98v3m0 8v2m1-19v4m0 11v4m0 13v3m1-44v2m0 5v2m0 19v3m0 6v2m0 5v2m1-46v5m0 26v6m1-17v2m2 9v2m0 4v2m1-37v7m1-4v2m0 11v2m1-13v4m0 74v2m1-69v4m0 6v3m0 2v6m1-17v2m0 37v2m0 39v2m1-91v2m0 35v2m0 5v2m1-48v4m0 31v2m1-20v5m0 63v4m1-82v2m0 30v2m0 9v2m0 9v2m1-74v2m0 11v2m0 9v4m1 11v2m1-39v3m1 58v2m0 7v2m2-54v2m0 4v2m1-26v3m0 6v2m0 24v4m0 7v2m1-48v5m0 8v3m0 2v4m0 15v2m0 3v2m0 39v2m1-65v4m0 5v2m0 41v2m1-78v7m0 32v2m0 20v2m0 24v2m1-87v2m0 9v2m1 0v5m0 10v3m0 19v2m0 18v2m0 11v6m0 33v2m1-126v4m0 50v2m1-32v4m0 5v2m0 2v6m0 9v2m0 5v2m0 21v3m0 4v2m1-89v2m0 13v3m0 4v2m0 11v2m1 33v2m1-72v2m0 7v6m0 7v2m1-24v5m0 43v2m0 2v2m0 18v2m1-52v2m0 7v2m0 6v2m1-43v2m0 2v3m0 13v2m0 4v2m0 24v2m0 7v2m1-20v3m0 8v2m0 18v2m0 17v2m1-78v7m0 9v4m0 2v2m1-39v5m0 4v2m0 11v2m1-4v2m0 2v2m0 20v2m1-2v2m1-26v2m0 2v5m0 73v2m1-86v2m0 17v5m0 2v2m0 9v2m1-33v2m1-17v2m0 5v4m0 2v2m0 28v3m1-37v2m0 15v2m0 7v2m0 22v2m1-70v5m0 54v2m2-19v2m1-44v3m0 2v2m0 17v5m0 13v2m1-28v2m0 15v2m0 11v4m2-8v2m0 15v2m1-43v4m2-19v2m1 19v2m0 16v2m1-37v2m0 39v2m0 22v2m1-69v2m0 82v2m1-95v4m0 11v2m0 18v2m1-35v2m0 11v2m0 22v4m0 7v2m1-19v2m1-33v5m0 17v6m0 20v2m1-50v2m0 9v2m2 26v5m0 4v4m0 5v2m0 8v3m1-63v6m0 37v4m0 22v2m1-56v2m0 4v3m0 17v2m0 7v2m1-44v3m0 17v2m0 28v2m1-32v2m1-37v2m0 5v2m0 9v2m0 11v2m0 19v2m1-52v3m0 28v2m0 32v3m1-65v2m1 80v2m2-52v4m0 29v2m1-41v2m0 4v2m0 5v4m0 19v3m0 15v2m1-89v2m0 5v2m0 37v6m1-41v2m0 11v2m0 7v2m0 11v2m0 37v2m0 4v2m1-32v2m0 19v3m1-57v2m0 11v5m1-42v3m0 43v4m1-52v2m0 3v2m0 17v7m0 41v2m1-74v2m0 37v2m0 3v2m1-44v3m0 2v2m0 50v2m0 4v2m1-67v2m0 11v2m0 9v2m0 9v2m0 13v2m0 24v2m1-54v2m0 2v3m0 34v2m0 7v2m1-26v2m0 2v3m0 19v2m1-76v5m0 2v2m0 13v7m0 30v2m0 28v2m1-91v5m0 2v2m0 30v3m0 10v3m0 8v2m0 9v2m1-76v5m0 2v2m0 11v2m0 91v2m1-86v2m0 2v4m0 11v2m1 7v2m1-30v4m0 41v2m0 5v2m1-85v7m0 32v2m1-17v7m0 15v2m0 11v2m1-35v5m0 21v2m0 26v3m1-74v2m0 7v4m0 2v2m0 11v2m0 2v3m1-29v3m0 2v2m0 13v2m0 13v4m1-30v4m0 5v2m0 15v4m1-36v4m0 2v2m0 31v2m3-46v2m1 46v2m0 39v4m1-62v2m2-22v2m0 5v6m1-11v2m0 20v6m0 16v2m1-70v3m0 6v2m0 24v2m0 7v2m1-43v4m0 2v2m1-8v2m0 19v5m0 4v2m0 26v2m1-56v2m0 2v2m1 16v2m0 8v3m0 4v2m1-41v4m0 22v2m0 11v4m0 20v2m1-76v4m0 9v2m0 5v2m0 2v2m0 2v2m0 7v4m0 2v3m0 4v4m0 15v3m1-55v5m0 4v2m0 85v2m1-106v4m0 20v2m0 2v4m0 5v2m0 2v4m1-52v2m0 7v2m0 33v2m0 8v5m0 13v2m0 4v2m0 13v3m1-81v3m0 2v2m1-24v2m0 7v4m0 7v2m0 6v5m1-29v3m0 4v4m0 35v2m0 2v2m0 3v2m1-5v3m1-9v2m0 22v2m1-37v2m0 7v4m0 4v3m0 15v4m1-67v4m0 59v2m0 78v2m1-156v2m0 11v2m0 37v4m1-49v4m0 22v4m0 56v2m1-80v2m0 7v2m0 11v4m0 2v3m0 13v2m0 2v2m0 26v2m0 2v3m1-65v2m0 4v2m0 2v3m0 54v2m1-100v2m0 7v2m0 22v2m0 4v2m0 18v2m0 35v2m2-89v4m0 22v4m0 5v2m1-39v6m0 9v2m0 7v6m0 9v2m0 22v2m1-65v2m0 6v5m0 6v2m0 68v2m1-11v2m1-41v2m0 26v2m1-32v2m1-43v8m0 9v4m0 9v2m0 7v4m0 24v2m1-72v3m0 15v2m0 2v2m0 119v5m1-150v7m0 15v2m0 11v4m2-39v2m0 7v6m0 5v2m0 6v5m0 4v2m0 2v3m0 4v2m0 2v2m1-47v4m0 4v3m0 6v7m0 4v4m0 9v2m0 2v2m0 37v2m1-91v7m0 11v4m0 4v3m0 2v4m0 7v6m0 15v5m0 23v5m2-96v3m0 17v2m0 11v6m1-23v2m1-11v2m0 26v2m0 13v2m0 52v3m1-74v4m0 11v2m0 2v3m0 106v4m1-158v2m0 48v2m1 17v5m0 32v4m1-104v3m1-7v2m0 9v2m0 39v2m1-58v4m0 7v2m1-22v2m0 15v3m0 23v5m1-39v2m0 9v2m0 26v2m1-46v5m0 13v2m0 6v3m0 19v2m0 9v4m1-60v4m0 9v2m0 8v7m0 2v2m0 9v2m1-22v3m0 19v2m0 28v3m0 23v3m2-55v3m1-57v2m0 3v2m0 24v4m0 17v2m0 126v2m1-162v2m0 6v3m0 28v2m1-39v2m0 9v2m0 2v2m0 11v4m1-54v2m0 7v2m0 24v4m0 9v4m1-15v2m0 37v2m2-76v3m0 2v4m0 9v2m0 4v5m0 8v5m0 8v2m1-56v2m0 13v5m0 6v2m0 7v2m0 4v2m1-26v3m0 17v4m0 37v2m1-47v4m0 15v4m0 29v2m1-33v5m0 8v2m0 7v2m1-67v4m0 39v2m1-56v4m0 52v3m0 2v2m1-39v4m0 35v2m1-65v2m0 9v2m0 4v3m0 2v2m0 6v3m0 8v2m2-43v2m0 15v5m0 2v2m0 9v2m0 11v2m1-30v2m0 24v2m1-39v2m0 22v4m0 11v8m1-41v2m0 7v2m1-4v4m0 9v2m0 2v2m0 33v2m0 52v2m1-78v4m1-32v2m0 2v2m0 44v2m1-52v6m2 52v3m1-63v2m0 19v5m0 2v2m0 4v3m0 32v7m1-91v2m0 4v2m0 44v2m1-24v2m1-37v2m0 5v2m0 6v3m0 8v5m0 17v2m0 15v2m0 42v2m1-63v2m0 2v5m0 21v2m1-52v3m0 10v3m0 2v2m1-43v2m0 2v4m0 18v2m0 11v2m1-39v2m0 30v2m0 3v2m0 6v2m0 31v2m1-87v2m0 22v4m0 20v2m0 4v3m0 2v2m0 63v4m1-117v2m0 74v2m1-76v2m0 9v2m0 9v4m0 15v3m1-35v4m0 5v4m0 54v2m0 24v2m1-112v2m0 4v2m0 20v2m0 19v3m1-39v2m0 13v2m0 15v2m0 48v2m1-102v2m0 13v3m0 4v2m0 4v3m0 23v3m0 10v3m0 4v2m0 2v2m0 9v2m2-69v2m1 7v2m0 13v2m0 2v2m0 2v3m1-55v3m0 2v2m0 19v3m0 4v4m0 35v2m1-54v2m0 4v3m0 8v2m1-41v2m0 9v2m0 13v2m0 24v2m0 29v2m1-76v2m0 4v3m0 4v2m0 35v2m2-50v2m0 2v3m0 2v2m0 39v2m1-61v3m0 4v2m1 13v2m0 2v3m0 15v2m0 2v4m1-52v3m0 4v2m1-4v2m0 2v2m0 2v5m0 6v2m0 3v4m0 37v2m1-56v2m0 32v2m0 3v2m1-41v2m0 4v2m0 26v2m0 37v5m1-94v5m0 2v2m0 4v3m0 13v2m0 8v3m0 2v6m0 2v3m0 6v2m0 15v3m1-55v3m0 13v4m0 2v2m0 11v4m1 29v2m1-74v2m0 9v2m0 7v2m0 24v4m1-78v2m0 13v2m0 11v2m0 7v2m0 9v2m0 11v2m1-44v5m0 6v2m0 24v5m1-57v7m0 13v2m0 2v4m0 9v4m0 11v2m0 3v2m0 2v2m1-61v5m0 19v2m0 16v2m1-46v5m0 4v2m1-11v7m0 8v3m0 10v3m0 13v2m0 6v5m0 2v2m0 6v3m1-68v3m0 10v3m0 6v7m0 19v2m0 2v3m0 8v2m0 9v2m1-47v2m0 6v2m0 9v2m1-8v2m0 8v5m1-59v2m0 7v2m0 7v2m0 15v2m0 2v2m0 13v3m1-52v4m0 26v2m1-30v4m0 2v2m0 57v4m0 11v2m0 2v2m1-91v3m0 15v2m0 11v2m0 4v2m0 3v2m0 15v2m1-32v6m0 30v5m1-67v2m0 2v2m0 4v3m0 4v2m0 11v2m0 11v2m0 7v4m1-17v4m0 17v2m1-69v2m0 2v5m0 13v2m0 2v2m0 2v3m1-18v2m0 31v2m0 19v5m0 2v2m1-26v7m2-31v2m0 13v3m0 21v2m1-67v2m0 26v3m0 2v6m0 11v2m2-52v2m0 5v2m0 4v2m0 3v4m0 56v2m1-49v2m0 4v2m0 5v2m1 32v5m1-74v4m0 13v2m0 18v2m0 32v5m1-65v6m0 5v2m0 2v4m0 15v3m0 4v2m0 2v7m0 2v4m1-69v4m0 9v2m0 11v2m1-35v3m0 32v4m0 3v2m0 2v2m0 11v2m0 28v2m1-97v2m0 4v3m0 4v2m0 2v2m0 3v4m0 6v3m0 30v4m1-63v3m0 23v3m0 10v5m1-48v4m0 50v2m0 9v2m1-52v2m0 3v4m0 32v3m1-57v2m0 42v4m0 19v3m1-52v2m0 2v2m1-11v2m0 24v5m0 6v4m0 16v4m1-74v2m0 3v2m0 6v2m0 5v2m0 2v2m0 2v5m0 6v2m0 5v2m1-9v2m2-41v2m0 9v2m0 15v3m0 2v2m0 13v4m0 5v4m1-37v7m0 8v5m0 8v2m1-39v3m0 4v2m0 28v5m0 47v2m1-101v2m0 80v2m0 26v2m1-119v4m0 18v4m0 9v2m0 2v7m0 6v2m0 5v4m0 9v2m0 4v2m1-73v2m0 78v2m1-48v2m0 3v4m0 17v5m0 4v2m0 7v2m1-76v4m0 2v3m0 8v2m0 11v2m0 26v3m0 4v2m1-74v3m0 45v4m0 13v3m0 2v2m1-33v3m1 32v2m1-60v2m0 11v2m0 15v4m0 5v2m2-52v2m0 63v2m1-74v2m0 52v3m1-57v2m0 70v2m1-63v2m0 22v2m0 30v5m0 4v2m1-65v2m0 13v3m0 10v3m1-33v2m0 18v4m0 13v4m0 11v2m0 24v7m1-96v2m0 16v2m0 45v2m1-67v2m0 3v2m0 11v4m0 9v2m0 11v2m0 19v2m1-43v2m0 11v2m0 33v2m0 2v2m1-69v2m0 7v2m0 19v2m0 5v2m0 11v4m1-63v2m0 7v2m0 17v3m0 10v3m1-16v3m1 4v9m0 23v3m1-65v4m0 43v2m0 5v2m1-54v2m0 100v2m1-104v2m0 13v4m0 28v3m1-57v2m0 24v7m1 37v2m1-67v2m0 24v2m0 28v2m1-63v2m0 7v4m0 5v2m0 2v4m0 9v4m0 26v5m0 10v3m1-55v3m0 17v4m0 33v2m1-74v2m0 3v2m0 4v2m0 5v2m0 2v2m0 11v2m0 2v2m0 65v3m1-117v2m0 4v2m0 5v2m0 6v2m0 61v2m1-26v2m0 9v2m0 20v2m1-98v3m0 17v2m0 35v2m0 6v3m0 6v2m0 2v3m1-50v2m0 4v2m0 7v2m0 2v5m1-42v3m0 15v4m0 2v2m0 11v2m0 7v2m0 2v7m1-50v2m0 22v6m0 15v3m1-72v7m0 65v4m0 2v2m1-78v2m0 7v2m0 37v2m0 2v2m0 5v2m0 15v4m1-78v5m0 13v2m0 13v2m0 4v3m0 21v2m1 18v2m1-87v2m0 3v4m0 11v2m0 11v4m0 37v4m0 2v3m1-81v5m0 11v4m0 6v3m0 15v2m0 22v2m0 8v3m0 13v2m1-83v3m0 2v4m0 39v2m1-43v2m0 2v2m0 7v2m0 2v2m2-36v6m0 26v2m0 33v2m0 9v2m0 34v5m1-106v2m0 37v2m0 13v2m0 30v5m0 10v3m2-96v2m0 22v2m0 2v3m0 26v2m0 4v2m4 26v2m4-119v2m1 35v2m0 24v2m1-56v4m0 24v2m1-19v2m0 28v2m1-26v2m0 9v4m0 16v4m1-61v2m0 35v7m0 13v2m0 6v2m1-26v3m0 36v3m1-78v4m0 9v2m0 4v2m1-24v3m0 56v4m2-50v3m0 13v2m0 8v5m0 2v2m1-39v2m0 5v2m0 4v2m0 22v6m1-43v4m0 5v2m0 4v2m0 9v2m0 24v2m0 2v3m1-22v2m0 2v2m0 18v2m1-69v2m1-7v5m0 2v2m0 4v2m0 9v2m0 28v3m0 2v2m0 2v2m0 9v2m1-69v4m0 7v4m0 35v2m0 19v2m1-80v2m0 13v3m0 15v2m0 26v2m1-63v5m0 45v2m0 7v2m0 15v2m1-56v2m0 2v2m0 24v2m1-4v4m1-36v6m0 30v3m0 15v2m0 2v2m1-30v2m0 28v2m1-43v4m0 11v2m0 3v4m0 19v3m0 2v2m1-76v2m0 7v4m0 9v2m0 11v2m0 9v2m0 39v2m1-91v2m0 15v5m0 4v2m1-22v3m0 8v2m0 18v2m0 2v2m1-54v2m0 2v3m0 8v2m0 13v3m0 2v2m0 41v2m1-60v2m0 4v4m0 13v5m0 11v2m1-41v4m0 2v2m0 13v2m0 31v2m1-67v2m0 17v2m0 7v2m0 2v2m0 3v6m0 7v2m1 28v2m1-76v5m0 8v5m0 30v2m2 7v2m1-67v2m0 30v2m0 9v2m1-39v2m0 24v2m1-24v5m0 2v4m0 11v2m0 7v6m0 24v2m0 2v3m0 2v2m1-26v2m0 2v5m0 2v4m1-54v2m0 9v2m0 13v2m1-45v6m0 2v2m0 18v4m0 7v2m0 8v3m0 17v2m0 15v7m1-76v2m0 2v2m0 11v7m0 13v2m1-52v2m0 67v2m1-78v3m0 13v2m0 13v2m0 4v5m0 26v2m1-63v2m0 7v2m0 2v2m0 2v2m0 52v3m1-59v2m0 20v2m0 2v2m1-47v2m0 17v2m0 13v2m0 3v4m0 13v2m0 4v3m0 6v2m0 5v2m0 26v4m1-113v3m0 17v2m0 7v2m0 2v2m0 22v2m1-63v2m0 9v4m0 20v2m0 15v2m0 9v2m0 7v2m1-70v3m0 6v2m0 20v2m0 17v2m0 7v2m1-58v2m0 24v2m0 19v5m0 4v2m0 4v5m1-63v2m0 9v2m0 2v2m0 22v2m1-4v2m1-35v2m0 5v2m0 32v5m1-59v5m0 6v2m0 13v2m0 37v2m1-67v2m0 50v2m1-54v2m0 3v2m0 30v4m0 16v4m0 9v2m1-65v2m0 61v2m0 2v2m2-78v2m0 5v2m0 4v9m0 43v2m1-50v3m0 10v3m1-13v2m0 43v2m0 2v3m1-70v5m0 6v2m0 13v2m0 22v4m1-36v4m0 2v2m0 26v5m1-52v2m0 6v5m0 8v2m0 16v2m0 2v2m1-41v2m0 4v3m0 2v2m0 4v2m0 5v2m0 11v2m0 11v2m0 13v2m1-11v7m1-59v2m0 13v3m0 4v4m0 2v3m0 26v4m1-65v2m0 11v2m0 4v3m1-33v4m0 3v2m0 58v2m0 5v2m0 6v5m0 6v2m0 3v4m0 9v4m1-43v2m0 13v2m0 2v2m1-93v2m0 7v2m0 9v2m0 4v2m0 18v2m0 2v4m0 26v5m0 2v2m0 6v3m0 2v4m1-104v7m0 15v8m0 9v4m0 26v3m0 2v2m0 2v2m0 11v2m0 2v3m2-98v4m0 65v3m0 2v2m1-76v7m0 45v2m0 2v5m0 24v4m1-78v2m0 7v6m0 11v4m0 26v2m1-23v2m0 2v2m0 28v2m0 3v2m1-18v3m0 45v2m1-93v2m0 24v4m0 29v2m1-41v2m1-35v2m0 11v2m0 5v2m0 19v2m0 5v2m0 6v5m0 11v6m0 17v3m1-98v2m0 44v2m1-44v3m0 4v2m0 56v3m1-74v2m0 15v2m0 57v2m0 2v2m1-54v4m0 3v2m1 15v2m1-54v2m0 30v3m1-26v2m0 24v2m0 13v2m2-11v2m0 5v2m1-37v2m0 15v2m1-34v2m0 13v6m0 24v2m0 3v2m0 4v2m0 61v2m1-76v5m0 4v2m1-45v2m0 2v2m0 4v3m0 2v2m0 26v4m1-63v3m0 10v3m0 8v2m0 5v2m1-30v2m0 6v2m0 16v4m0 37v2m0 2v2m1-78v2m0 61v2m1-41v2m0 9v2m0 28v2m1-67v2m0 5v2m0 52v2m0 11v2m1-61v3m0 2v2m0 6v7m0 6v3m1-35v4m0 2v3m0 2v2m0 4v2m0 9v2m0 5v2m0 13v2m0 4v2m0 3v2m0 11v2m1-80v2m0 24v2m0 13v2m3-39v2m2 115v2m2-95v2m0 17v2m3-39v3m2 2v2m9 30v2m4-47v2m0 9v2m0 50v2m1-59v2m1 20v2m1-30v2m0 9v2m0 4v2m0 13v2m0 3v2m0 6v2m1-2v2m1-34v2m0 22v2m0 2v4m0 7v2m0 15v7m1-35v2m0 2v2m0 35v2m0 11v2m0 5v2m1-91v4m0 4v3m0 28v2m0 11v2m1-43v2m0 6v2m0 22v2m0 24v2m1-78v2m0 29v2m0 39v2m1-85v3m0 28v2m0 22v2m0 2v2m1-17v2m0 22v4m1-69v4m0 2v4m1 13v3m2-3v3m0 41v2m0 4v2m1-71v2m0 59v6m1-26v4m0 16v2m0 6v2m1-34v2m0 9v2m0 19v5m1-74v2m0 11v6m0 39v3m0 2v4m0 9v2m0 15v2m1-71v2m0 28v7m0 6v2m1-76v5m0 4v2m0 31v6m0 4v3m0 4v2m0 26v7m0 13v2m1-83v5m0 6v2m0 24v5m1-70v7m0 15v6m0 24v5m0 4v2m0 2v2m0 13v3m1-9v4m0 11v2m2-69v2m0 74v2m1-95v4m0 4v5m0 8v2m0 20v4m0 15v5m0 2v2m0 11v2m1-58v2m0 13v2m0 22v4m0 4v2m0 5v2m1-87v5m0 2v2m0 11v2m0 2v2m0 52v2m0 3v2m0 13v2m0 6v3m1-98v2m0 41v3m0 17v2m1-67v9m0 2v2m0 43v2m0 5v2m0 2v2m1-78v2m0 3v4m0 32v7m0 15v2m0 2v3m1-50v4m1 17v3m0 34v2m1-47v2m0 13v2m0 24v4m1-76v5m0 2v2m0 20v4m0 9v2m0 41v2m1-48v3m0 6v2m0 11v2m0 2v3m0 19v2m1-89v3m0 8v2m0 5v4m0 7v4m0 22v2m0 26v2m1-69v2m0 63v2m1-65v2m0 2v2m2-21v2m0 6v7m0 28v4m0 9v2m0 69v3m1-133v3m0 43v2m0 22v4m1-74v3m0 28v4m0 20v4m0 26v2m1-76v2m0 9v11m0 37v2m1-59v5m1-15v2m0 13v4m0 17v3m0 6v2m0 7v4m0 15v2m0 7v2m1-89v7m0 26v4m0 7v2m0 11v2m0 2v2m1-41v4m0 7v2m0 11v2m0 19v3m0 10v3m0 2v2m0 4v2m0 3v2m1-87v7m0 13v2m0 13v8m0 37v2m1-58v2m0 2v2m0 24v2m0 3v2m0 6v2m1-41v2m0 13v3m0 4v4m0 11v4m0 3v2m1-87v2m0 7v2m0 13v6m0 22v2m0 9v2m0 9v2m1-74v2m0 5v2m0 65v2m1-28v6m1-49v6m0 17v5m0 32v5m1-52v2m0 4v4m0 35v2m1-34v6m0 24v4m1-34v4m0 4v2m1-41v2m0 3v2m0 2v2m0 4v3m0 8v5m0 13v4m0 2v2m1-47v2m0 4v2m0 28v3m0 10v3m0 19v4m0 39v3m1-83v2m0 7v2m0 50v2m1-39v2m0 5v4m1-63v4m0 5v2m0 2v2m0 33v2m0 2v4m0 5v2m0 2v2m0 9v2m2-91v2m0 7v4m0 9v2m0 22v2m0 4v2m0 24v2m0 7v2m1-72v3m1 0v2m0 2v4m0 15v3m0 17v4m1-26v5m0 6v2m1-15v2m0 20v4m0 17v3m1-81v3m0 28v2m0 19v5m0 4v2m0 2v3m0 8v5m1-48v4m0 13v5m0 2v2m0 22v2m0 8v7m1-82v2m0 2v6m0 11v5m1-31v5m0 6v2m0 24v2m1-39v2m0 9v2m0 18v6m0 2v7m0 8v7m0 9v4m1-78v2m0 9v4m0 9v2m0 30v2m0 9v2m0 7v6m1-69v2m0 7v2m0 52v2m1-80v4m0 9v2m0 32v5m0 21v5m0 26v4m1-100v3m0 2v4m0 108v3m1-104v2m0 2v2m1-37v2m0 44v6m0 2v3m0 26v2m0 2v2m1-80v2m0 35v2m0 13v2m0 17v3m1-46v2m0 20v2m2-54v2m0 11v2m2-22v2m0 3v4m0 19v5m0 19v2m0 7v2m0 4v3m2-59v2m0 13v2m3-30v2m0 22v4m0 9v2m0 9v2m0 17v9m1-63v2m0 33v2m0 4v2m0 9v2m0 7v2m1-56v2m1 8v3m0 6v2m0 9v2m0 13v2m0 11v7m0 4v2m1-43v2m0 32v3m1-70v7m0 13v2m1-26v6m0 5v2m0 2v2m0 15v5m0 6v2m0 3v4m0 13v2m1-74v5m0 2v2m0 2v5m0 19v7m0 8v2m0 7v2m0 7v2m1-61v2m0 15v3m0 23v5m0 2v2m0 20v2m0 26v4m1-113v3m0 4v2m0 13v2m0 2v3m0 15v4m0 2v2m0 3v2m0 17v2m1-73v2m0 4v4m0 5v2m0 11v2m0 11v2m0 22v2m0 8v3m2-20v4m1-28v2m1-41v2m0 16v2m0 19v2m0 29v2m0 30v2m1-106v4m0 18v2m0 11v2m0 2v2m0 13v5m0 2v2m2-54v4m0 4v3m0 69v6m2-84v2m0 24v6m0 18v2m0 4v5m0 10v3m0 2v2m1-43v4m0 2v2m0 2v3m0 19v2m0 7v2m0 4v2m1-93v2m0 13v5m0 30v2m0 5v2m0 8v5m0 2v2m1-15v2m0 11v2m1-58v2m0 8v3m0 17v2m0 2v7m0 8v3m0 8v5m0 21v2m0 83v2m1-163v3m0 21v2m0 9v2m0 20v2m0 4v2m1-86v2m0 2v4m0 16v2m0 13v2m0 28v2m1-76v3m0 8v2m0 13v3m0 30v4m0 35v2m1-93v2m0 20v2m0 15v2m1-45v4m0 30v5m1-42v3m0 10v3m0 32v2m0 46v4m2-17v2m1-82v2m0 21v5m0 21v3m0 21v5m1-61v2m0 65v2m1-78v2m1 16v2m1-31v3m1 2v2m0 6v3m1 2v2m0 9v4m0 9v4m0 2v2m0 15v3m1-39v2m0 8v3m0 15v2m0 22v2m0 8v3m1-91v2m1 4v2m0 41v7m0 2v4m0 9v2m0 2v3m1-63v2m0 2v2m0 22v2m0 7v2m0 11v2m0 2v4m1-21v2m1 34v3m1-48v2m0 17v7m1-50v2m0 5v2m0 17v4m0 7v2m0 2v5m0 23v3m1-96v2m0 7v2m0 13v2m0 13v2m0 9v2m0 11v2m0 5v4m0 4v9m1-78v2m0 20v4m0 2v2m0 7v6m0 2v3m1-16v7m1-48v2m0 5v2m0 13v2m0 4v3m1-24v2m0 24v2m0 9v2m1-18v5m0 13v2m0 2v4m0 48v2m0 20v2m1-130v2m0 4v3m0 28v2m0 6v5m0 6v2m0 5v2m0 4v2m0 3v2m1-57v7m0 28v4m0 31v4m1-65v4m0 7v4m0 7v2m0 19v3m0 10v3m1-83v2m0 3v2m0 11v2m0 6v2m0 74v2m0 11v2m1-117v2m0 11v2m0 3v2m0 8v5m0 6v5m0 26v4m1-67v4m0 72v2m0 2v2m1-84v6m0 7v6m0 7v2m0 2v2m0 43v3m1-74v2m0 22v4m0 9v8m0 18v2m1-63v2m0 52v5m0 4v2m1-67v2m0 20v2m0 63v4m1-98v3m1 34v2m1-34v2m0 26v2m0 17v3m0 17v11m0 2v4m0 20v2m1-26v2m1-82v8m0 3v2m0 47v5m1-67v2m0 73v3m1-78v2m0 24v6m0 4v3m0 8v2m0 7v2m0 4v3m0 2v2m0 4v2m0 5v2m0 2v2m1-89v5m0 4v4m0 13v3m0 13v2m0 2v4m0 31v4m1-82v2m0 2v2m0 37v2m0 9v4m0 20v2m0 2v2m1-80v2m0 11v2m0 7v2m0 6v2m0 31v2m0 4v5m0 15v4m1-87v7m0 15v2m0 9v2m0 13v2m0 33v2m0 6v3m1-104v6m0 20v2m0 11v2m0 17v2m0 2v5m0 11v6m1-87v5m0 4v7m0 2v2m0 19v5m0 19v2m0 22v2m1-65v5m0 43v4m0 22v2m0 17v3m0 4v2m0 2v2m1-130v5m0 11v2m0 8v3m0 4v2m0 4v5m0 2v4m1-50v3m0 6v2m0 57v2m0 2v4m1-4v2m0 11v2m1-84v4m0 2v2m0 44v2m0 2v4m1-26v2m0 20v2m0 2v5m1-65v2m0 8v5m0 6v2m0 16v2m0 13v2m0 15v4m1-80v2m0 3v2m0 39v2m0 2v4m0 3v2m0 11v2m0 2v2m1-67v9m0 6v2m0 7v2m0 6v7m1-39v2m0 7v2m0 4v2m0 5v4m0 2v2m0 41v3m0 2v2m1-65v4m0 50v2m0 11v4m1-84v2m0 87v2m1-82v2m0 19v5m0 2v2m0 4v5m0 4v2m0 20v4m1-85v3m0 8v5m0 36v3m0 4v2m2-19v2m0 24v2m0 112v3m1-159v3m0 6v2m0 5v2m0 17v2m0 11v4m0 7v2m1-87v3m0 17v6m0 7v2m0 9v2m0 2v2m0 5v4m0 11v2m0 6v3m0 4v2m1-48v5m0 28v2m0 52v2m1-123v2m0 39v2m0 2v2m0 5v4m0 2v5m1-59v2m0 20v2m0 2v2m0 7v6m1-50v3m0 69v2m1-76v2m0 20v2m0 37v2m0 11v4m0 37v2m1-110v4m0 2v2m1-17v4m0 20v2m1 48v2m1-46v5m0 32v2m1-62v4m0 43v5m0 6v2m1-19v4m0 33v2m1-11v2m0 13v2m1-21v4m0 9v2m3 6v2m1-8v2m0 15v2m1-76v3m0 52v2m1-74v2m0 57v2m1-72v2m0 29v2m0 28v4m0 9v4m1-56v2m0 4v3m0 28v2m0 2v2m1-65v2m0 13v3m0 30v2m0 20v6m1-63v7m0 13v2m0 2v2m0 2v3m0 30v2m0 4v7m1-87v2m0 31v4m0 22v2m0 6v3m0 10v5m1-85v2m0 5v2m0 26v2m0 11v2m0 2v2m0 46v2m1-95v2m0 17v2m0 7v6m0 13v3m0 23v3m0 2v2m1-39v2m0 2v2m0 3v2m0 24v4m0 9v2m1-98v5m0 30v4m1-21v2m0 2v4m0 18v2m1-46v2m0 35v2m0 9v2m0 2v2m1-39v3m0 10v7m0 2v4m0 35v2m1-56v2m0 9v2m0 13v2m0 7v2m0 26v2m0 37v4m1-128v2m0 7v2m0 7v4m0 2v2m0 11v2m0 5v2m0 24v2m0 2v2m1-78v7m0 60v5m0 19v2m0 7v4m1-43v2m1-54v2m0 35v4m0 2v4m0 5v2m0 2v2m0 2v3m0 2v4m0 11v2m0 2v5m0 6v2m1-104v2m0 9v4m0 5v4m0 37v4m0 2v9m0 11v4m1-89v3m0 2v2m0 9v2m0 8v7m0 13v2m0 2v2m0 7v2m0 4v3m0 8v5m1-29v5m0 17v4m1-75v4m0 76v6m1-65v2m0 3v2m0 13v4m0 26v4m1 20v2m1-102v2m0 11v5m0 10v5m0 4v4m0 11v2m0 13v3m1-59v4m0 52v5m0 41v2m1-108v4m0 63v2m0 2v5m0 28v2m1-111v3m0 6v2m0 2v3m0 17v2m0 24v2m0 2v2m0 11v5m0 8v7m1-98v2m0 5v4m0 11v2m0 2v2m0 37v7m0 8v3m0 2v2m0 2v2m0 13v5m0 4v2m0 2v2m1-119v2m0 5v2m0 4v5m0 19v4m1-34v2m0 2v2m0 2v3m0 2v2m0 6v5m0 17v2m0 9v2m1-56v2m0 6v3m0 6v4m0 9v2m0 2v3m0 26v2m1-52v4m0 30v3m0 10v5m0 13v4m0 4v3m1-46v2m0 2v3m0 21v2m0 9v2m1 0v2m1-41v2m1 7v2m1-56v6m0 2v5m0 15v2m0 35v4m0 2v2m0 13v5m1-96v3m0 8v2m0 3v2m0 28v4m0 33v2m1-41v2m0 24v2m1-74v2m0 11v2m0 24v2m0 3v2m0 8v7m1-48v2m0 7v4m0 18v2m0 4v4m0 22v4m0 13v3m1-81v3m0 2v2m0 2v2m0 22v4m0 7v2m0 11v2m1-63v2m0 20v2m0 4v2m0 3v2m0 26v2m0 39v2m2 0v2m1-97v6m0 22v2m0 37v2m1-80v2m0 2v2m0 13v3m0 8v2m0 11v2m0 20v2m0 2v2m0 3v4m0 26v2m0 2v5m1-107v3m0 8v2m0 57v2m0 2v2m0 11v2m1-73v2m0 6v5m0 2v2m0 13v4m0 7v2m0 4v2m0 9v2m1-32v4m2-58v2m0 50v4m0 13v2m0 9v2m0 2v4m1-93v2m1 22v2m0 11v2m0 13v2m0 31v2m1-65v2m0 15v2m3-30v2m0 7v2m0 6v3m0 4v2m0 2v2m0 13v3m0 23v3m2-55v3m0 43v2m1-17v2m0 22v2m1-67v2m1 8v3m2-29v3m0 99v2m1-97v2m0 61v4m1-65v4m0 3v2m0 4v2m0 15v3m0 13v2m0 21v3m0 106v2m1-167v2m0 18v2m0 24v2m0 4v2m2-39v2m1 31v2m1-67v2m0 39v2m0 9v2m1-52v2m0 35v2m1 41v2m2-93v4m0 24v2m0 7v2m3-17v2m0 28v2m0 15v5m1-74v2m0 50v2m0 24v2m1-67v2m0 39v2m0 7v2m2-63v2m0 42v2m1-46v2m0 7v2m0 26v2m0 20v2m1-37v2m0 22v2m0 9v2m0 11v2m0 4v2m1-67v2m0 20v2m0 2v2m0 42v2m1-78v2m0 2v4m0 9v2m0 2v3m0 6v2m0 9v2m0 2v2m0 7v2m0 39v2m1-104v2m0 5v2m0 52v2m0 2v5m1-65v4m0 13v2m0 24v2m0 41v2m1-93v2m0 3v2m0 26v2m0 11v2m0 6v3m0 4v2m0 9v2m1-9v2m0 11v2m0 13v3m1-89v2m0 2v2m0 18v2m0 6v2m0 13v5m0 2v2m1-48v3m0 4v2m0 9v4m0 7v2m0 11v2m0 2v2m0 2v2m0 11v7m1-83v3m0 2v2m0 24v4m0 28v5m1 2v2m1-63v2m0 37v2m0 9v6m0 3v2m1-22v2m0 13v2m0 7v2m1-63v2m0 33v2m0 50v2m1-93v2m0 11v2m0 4v7m0 13v2m1-2v2m0 15v2m0 7v2m0 4v3m1-13v2m1-72v2m0 5v4m0 2v2m0 9v2m0 31v2m0 2v4m0 2v5m0 43v2m1-102v3m0 17v4m0 46v2m1-85v3m0 39v2m0 19v2m0 5v4m1-61v3m0 21v2m0 3v2m0 6v2m0 7v2m0 9v2m1-74v5m0 45v2m1-52v2m0 3v2m0 2v2m0 7v2m0 15v2m0 2v2m0 24v2m1-36v4m1-24v2m1 0v2m0 22v2m0 18v4m2-30v2m2-15v2m0 21v3m1-5v2m0 13v7m2 50v2m3-56v2m0 2v2m1-45v2m0 17v2m2-39v2m1 13v3m0 19v2m1-19v2m4-22v2m0 5v2m0 26v2m0 2v2m0 5v2m0 6v7m0 4v2m1 13v3m0 13v2m1-98v5m1 19v2m0 18v2m1-31v3m0 19v2m0 33v2m2-74v2m0 35v2m1-17v2m0 2v2m1-15v2m0 13v3m1-24v2m0 2v2m0 5v2m0 45v5m0 19v2m2-71v2m1 22v2m0 19v2m0 5v2m0 19v3m1-98v7m0 15v2m0 11v2m0 15v2m0 13v2m0 3v2m0 13v2m1-87v5m0 4v2m0 26v4m0 11v2m0 29v4m1-85v3m0 4v2m0 20v2m0 34v3m0 2v4m1-54v2m0 2v2m0 26v3m0 10v3m1-72v2m0 7v2m0 32v5m0 2v4m0 9v2m1 67v2m1-106v2m0 5v2m0 19v3m0 2v4m1-28v2m1-13v4m1-4v2m0 18v4m1-17v4m1 17v2m1-39v3m2 54v6m2-78v5m0 52v2m1-13v2m1-43v2m0 43v2m0 13v5m1-29v5m0 32v2m2-80v2m1 100v2m1-102v3m0 17v2m1 2v2m0 11v2m0 3v2m0 21v3m1-57v2m2-17v2m0 31v2m0 13v2m0 13v2m1-9v3m0 2v2m2-11v2m0 33v4m1-89v2m0 5v2m1 0v2m0 9v2m0 17v5m0 15v4m1-63v2m0 9v2m0 24v4m0 3v2m0 4v2m0 7v2m0 6v3m0 110v4m1-173v7m0 19v2m0 2v3m0 19v2m1-58v2m0 22v2m0 6v2m0 11v2m0 3v2m0 58v2m1-112v2m0 11v2m0 2v2m0 2v3m1 4v2m0 9v2m0 9v2m0 17v2m1-69v6m0 26v5m0 11v2m0 4v2m0 7v2m1-39v2m0 4v3m0 8v2m1-54v2m0 7v2m0 13v2m0 2v5m0 32v2m1-58v2m0 13v2m0 13v2m0 3v4m1-37v2m0 20v2m0 2v2m1-32v2m0 11v2m0 41v2m1-58v2m0 2v2m0 41v5m1-46v2m0 7v4m0 9v2m0 17v3m0 4v2m0 13v2m1-78v2m0 16v2m0 6v5m0 2v4m0 7v2m0 15v2m0 7v2m1-37v2m0 7v2m0 17v2m0 2v5m1-74v2m0 9v4m0 52v2m1-36v2m0 17v4m0 3v4m1-15v2m1-9v5m0 2v4m0 13v4m1-58v4m0 7v2m0 22v2m1-46v2m0 5v2m0 2v2m0 18v2m0 8v3m0 8v2m0 3v4m0 13v2m0 7v2m1-83v5m0 39v2m0 22v2m0 8v3m0 4v2m1-43v6m0 28v3m0 13v2m1-98v2m0 9v2m0 24v2m0 5v4m0 6v3m0 4v2m1-48v7m0 6v3m0 10v3m0 19v2m0 22v4m0 2v3m0 4v2m1-102v7m0 8v5m0 6v2m0 31v6m0 22v2m0 2v5m1-91v2m0 2v2m0 22v4m0 4v3m0 15v6m0 26v2m1-86v2m0 2v2m0 24v7m0 28v2m0 6v3m1-76v4m0 7v2m0 2v2m1 4v3m0 2v6m0 39v2m0 7v2m1-84v2m0 34v7m0 13v2m0 11v2m0 11v2m0 4v3m1-46v2m6 44v2m1-78v2m1 58v3m1-78v2m0 4v4m0 3v2m0 78v4m1-58v2m4-20v2m0 3v2m0 2v2m1-17v2m0 39v2m1-58v2m0 11v2m0 65v2m1-78v2m0 28v2m0 55v2m1-65v2m0 45v3m1-33v2m1-47v2m0 2v4m0 28v3m0 10v5m0 19v2m2-78v3m0 60v2m0 13v3m0 2v2m1-52v2m1-35v3m1 8v2m0 20v2m0 28v2m1-69v4m0 37v2m0 5v2m0 2v2m0 2v3m0 6v2m1-56v2m0 39v2m0 7v2m2-17v2m0 13v2m1 52v2m1-113v3m1 54v2m3-30v2m2 2v2m1-30v2m2-7v3m1 6v2m0 11v2m0 5v2m0 4v2m0 20v4m1-45v2m0 28v2m1-35v3m0 8v2m0 5v2m0 9v2m0 71v2m1-104v3m1-13v2m0 4v2m0 15v3m1-16v3m0 2v2m0 17v2m1-26v3m0 26v2m1-35v2m0 5v2m0 4v2m0 5v2m1-18v5m1-13v4m0 4v3m1 10v3m2-29v3m0 6v2m0 9v2m1-11v2m1-13v5m0 6v2m0 11v2m1-6v4m2-17v2m0 9v2m1-2v2m0 11v2m1-35v2m0 7v2m0 2v2m0 9v2m0 46v2m1-24v2m0 11v2m0 5v2m1-63v2m0 22v2m1-22v2m0 3v2m0 2v2m0 15v2m0 7v2m0 2v2m1 48v2m1-56v2m0 17v3m1-65v2m0 30v2m0 7v2m1-26v4m0 18v2m0 4v2m1 0v2m6-43v2m0 98v2m1-76v2m0 22v2m2-61v3m0 2v2m0 15v2m0 5v2m0 4v2m1-39v2m0 33v2m0 9v4m1-43v2m0 4v2m0 31v6m0 15v3m1-63v2m0 2v2m0 37v2m0 13v5m0 4v2m1-71v2m0 41v2m0 4v3m0 6v2m0 20v2m1-87v2m0 22v4m0 5v2m0 11v2m0 9v2m0 6v2m0 5v2m0 2v2m1-78v2m0 5v2m0 4v7m0 28v2m0 20v4m1-63v2m0 28v3m1-35v2m0 13v2m0 46v2m1-69v2m0 13v2m0 54v2m1-73v2m0 15v2m0 13v2m0 9v2m0 11v4m1-50v3m0 4v2m0 11v2m0 4v3m0 2v4m1-37v5m0 15v4m0 11v2m0 2v2m0 3v2m1-52v2m2 32v3m1-18v2m1-23v2m0 13v2m0 9v2m0 41v2m1-74v5m0 47v3m1-7v2m1-45v2m1 26v2m0 13v2m0 7v2m0 4v5m0 52v2m1-124v2m0 29v4m3 4v5m2 6v2m1-11v3m1-33v2m0 9v2m1-13v4m1 85v2m1-67v2m0 24v2m1-54v2m0 22v2m0 61v2m1-65v2m0 97v3m1-115v4m0 4v5m2 50v2m1-65v4m0 17v3m0 10v3m0 17v2m2-71v2m0 24v2m0 19v2m1 3v2m2-11v2m0 35v2m1-2v2m1 17v2m1-19v2m1-87v3m1 45v2m2 15v3m2-33v4m1-32v2m0 43v5m1 0v2m2-59v3m3 4v2m0 9v2m0 9v2m0 2v2m0 17v5m0 30v4m0 9v4m1-106v2m0 37v2m0 33v2m1-48v5m0 11v2m2 34v3m1-31v5m1-20v2m0 11v2m1-30v2m0 46v2m7-74v2m2 24v2m2 22v2m2-32v2m2 0v2m4 26v2m0 24v2m4-67v2m0 39v4m2-28v2m0 9v4m2-34v2m0 30v2m1-43v2m0 7v4m0 11v4m0 5v2m4 2v2m0 24v2m0 26v2m1-86v4m0 30v2m0 5v4m0 2v2m0 13v5m1-70v3m0 19v2m0 9v2m4 28v2m1-49v2m0 4v2m0 22v4m0 141v4m1-138v2m0 17v2m1-60v4m2-9v3m0 34v5m1 28v2m2-85v5m0 32v2m0 3v2m0 21v3m1-31v5m1-24v2m0 4v2m0 7v2m3 9v2m1 19v3m1-70v2m0 3v2m0 30v2m1-17v2m0 2v2m0 26v3m4-42v3m2 15v2m0 19v3m3-39v2m1 52v2m1 0v2m7-71v2m1 56v2m2-65v2m0 13v3m1 4v2m0 9v2m0 11v2m6-26v4m2 48v2m1-32v2m0 2v2m0 2v2m0 18v2m1-63v2m0 33v2m0 13v2m9-48v3m9-16v3m4 60v2m2-39v3m1 28v2m2 0v2m1-32v2m0 28v2m2-56v2m0 24v2m1 87v2m1-109v3m0 52v2m2-33v2m1-30v2m3 67v5m1-57v3m0 32v2m3-19v2m3-46v3m1 47v2m2-15v2m0 16v4m1-17v2m0 15v2m1-43v4m1 35v2m3-50v2m0 31v2m1-28v2m0 13v2m2-35v2m0 7v2m1 39v2m2-15v2m1-30v2m2 52v2m2-56v2m0 4v3m3 32v2m3-45v2m1 19v3m1-24v2m9-2v2m0 48v2m1-46v2m1 7v4m0 9v4m4-43v4m1 7v2m0 11v4m0 59v4m1-67v2m3 28v2m4 5v2m2-57v3m1 54v2m4-65v4m2 9v2m3 2v2m4-6v2m0 26v2m6-43v4m5 37v4m3-45v2m0 33v2m1 28v2m4-41v2m2-11v2m2-8v2m0 17v5m6-20v4m0 52v3m2-16v3m2-55v5m3 2v2m0 2v2m7-19v2m1 17v3m4-18v5m1-9v2m1 80v2m0 3v2m1-54v2m1-20v5m6-3v3m2-22v2m1 7v2m4 43v7m9-50v2m2 22v2m7-35v2m2 20v2m10-7v5m0 24v2m2 15v4m4-45v2m3-4v4m1 43v2m2-49v2m1 19v2m1-34v2m5 30v2m8-34v2m2 24v4m2 30v3m9-39v2m5-22v2m2-4v2m1 2v5m1 15v2m10-22v2m3 5v2m2-11v4m1-8v2m6-2v2m1-2v2m1 22v2m3-28v2m1 15v2m0 2v2m8 50v2m3-65v3m5 2v2m0 2v2m1-19v2m5 6v3m1 45v7m8-59v2m5 24v2"/><path stroke="#f30900" d="M11 22v2m2-7v5m1-18v5m5 4v4m3-8v2m0 2v2m3 0v2m3-4v2m6-2v2m10 61v6m4-65v2m7-8v2m4 87v2m1-98v5m6 2v2m4 4v2m2 57v2m9-65v2m3-9v3m3 4v2m0 98v2m1-106v2m4-7v2m0 3v2m4 2v4m11-11v3m0 10v3m12-13v4m4 67v4m7-65v3m1 19v4m4-19v2m0 46v2m10-61v2m10-13v2m3 7v2m3-6v2m0 21v5m3-28v2m2-9v2m2 7v2m5-7v3m3-3v3m0 32v2m8-34v2m2 17v4m3-28v2m0 5v2m3 6v5m8-13v2m5-11v2m1-2v2m5 26v2m4-17v2m8 0v2m2-10v2m0 8v3m13 19v2m1-30v2m1 11v2m1-15v6m1 85v2m1-87v3m6-5v5m1-16v5m2 21v3m1 6v7m1-44v5m3-3v3m6-3v3m5-7v2m9 80v3m5-72v2m0 70v2m8-48v2m2-28v2m7 2v3m0 28v4m5-41v2m1-6v2m5 15v2m11-24v2m0 5v2m1 80v4m1-80v2m6-17v4m8-2v2m0 107v6m2-113v3m0 32v7m5-35v2m5-6v2m3 58v2m1-62v2m1-2v2m3-5v3m0 4v2m6 7v2m1-22v7m1-7v2m0 61v6m1-56v2m5 98v2m2-72v3m1-46v2m0 11v2m0 20v2m2-37v2m0 11v2m4-8v2m0 21v3m2-31v2m1 42v4m4-46v5m6 19v5m1-31v2m1 24v5m3 2v4m8-9v5m1 73v7m5-113v2m8 35v2m4-15v2m2 2v3m1 8v2m3 48v2m1-82v2m5 50v2m1-11v2m1 13v5m3-61v2m0 20v2m6 0v2m0 39v2m2-76v3m2-7v2m2 52v2m1 7v4m5-39v2m3-26v3m1 26v2m3-35v2m2 48v2m5 28v2m1-17v4m2 5v2m7 22v2m2 21v3m2-63v4m5-50v2m2 102v2m1-54v2m12 13v5m1-48v2m1-17v2m1-24v2m1 5v2m1 65v6m1-69v2m0 57v4m1-48v2m3-23v2m1 67v2m0 9v4m1-24v2m1-4v2m1-30v2m1-2v2m2 61v4m1-93v2m2 15v2m1 22v2m1 7v2m1-65v2m1 24v2m0 63v2m4-13v2m7-39v2m2 37v2m7-32v2m2 56v3m9-33v2m1-56v2m2 89v2m2-82v2m1 69v2m1-104v3m0 73v2m3-23v2m1 24v4m3-87v2m0 22v2m1 24v2m1 9v2m0 35v2m1-61v2m2 37v5m0 19v2m2-24v3m1 6v2m2-82v2m1 37v2m0 26v2m1-17v2m3-50v2m2-8v2m0 52v4m3 7v2m1-22v2m0 5v2m1-15v2m6-33v3m0 4v2m2 22v2m1-35v2m1 35v2m1 39v2m1-49v2m2 0v2m2-30v2m0 17v2m0 52v2m3-8v2m2-87v2m0 26v3m1-5v2m0 57v2m0 11v2m1-28v2m2-2v4m1-80v2m1 78v4m2 0v3m2 0v4m2-72v3m1-13v2m5 84v2m1-32v4m1 31v2m2-89v4m1 63v2m5 5v2m1-20v5m1 19v2m1 0v2m7-88v2m2 17v2m0 2v3m4 23v7m0 22v2m1-85v5m0 21v2m0 55v2m1 24v2m3-46v2m1-47v2m0 48v2m0 6v2m5-60v2m3 71v5m2-5v5m2-28v6m1 46v2m1-83v3m1 13v2m1-52v2m5 56v5m1-63v2m0 58v3m2-70v2m1 31v2m0 41v2m0 20v2m1-98v3m2 13v2m5 56v2m0 2v3m5-83v2m1 89v2m2-26v3m4-3v9m3-11v2m0 20v2m1-24v5m2 6v2m3 20v2m1-26v4m0 2v3m0 10v3m3-70v2m1-4v2m0 59v2m1 37v2m6-26v2m1 7v2m1-98v2m3 72v2m3-80v2m0 4v3m0 10v3m0 49v3m2-26v2m2 41v2m3-78v2m2-6v2m0 48v2m0 6v2m1-73v2m1-2v2m0 54v2m0 15v3m1-33v2m1 24v2m1-54v2m5 83v2m2-109v3m1 39v2m2 78v2m2-95v2m1-22v2m1-2v2m0 70v2m2 13v4m1-65v2m4-2v2m0 52v2m3-88v4m0 37v2m1-24v2m2 57v2m1 4v2m3-43v2m1-30v2m2-22v2m1 7v2m1 39v2m1 11v2m1-32v2m0 11v2m2-48v2m0 18v4m0 74v4m1-102v2m1-2v2m4 100v2m3-28v2m7 46v2m1-39v2m4-2v2m6-2v2m3 0v2m2-76v3m0 15v2m0 24v2m0 50v2m1-111v3m1-7v2m1 85v2m6 37v2m4-13v2m3-37v2m3-71v9m0 15v4m0 2v2m0 26v3m2-52v4m0 22v2m2 67v2m1-97v2m0 8v3m0 10v3m1-31v2m0 5v2m3 19v3m0 21v2m3-13v3m9-57v2m1 7v2m4 87v4m2-69v2m0 30v2m0 26v3m1-35v2m2-58v2m0 4v4m1-8v2m0 58v3m1-68v3m0 28v4m0 39v2m1-73v2m1 19v2m0 5v2m1 58v3m1-81v5m0 21v3m1-35v2m0 28v2m0 9v2m1-19v2m0 115v2m1-134v2m1 21v3m1 47v2m2-73v2m0 48v2m1-65v2m0 26v2m0 17v3m1-33v2m3 22v2m3-24v2m0 5v2m0 2v2m2-30v2m8 78v2m2-84v2m0 93v2m1 9v2m3-110v2m2 34v3m2 26v2m1 54v4m5-32v2m4-100v2m0 57v2m1-65v2m1 91v2m2-54v2m2 41v3m3-63v2m8 67v2m2-56v2m1 2v2m1 31v2m3-46v3m1-22v2m2 22v2m2 50v2m1 0v2m1 30v5m2-93v2m1 63v4m3-78v2m1 22v2m4-24v2m0 35v2m0 41v2m2-21v2m1-61v2m1 20v2m2 50v2m4-9v3m1-83v2m3 7v2m3-15v2m4 37v2m1-24v7m0 28v2m3-43v2m1 15v2m0 7v2m2-26v2m1 56v5m1-52v2m3-33v3m2 78v4m0 26v2m5-115v2m0 31v2m0 39v2m1 17v3m1-37v2m0 6v3m7-63v2m2 13v2m0 22v2m8 50v4m2-91v2m0 106v3m5 69v2m2-78v2m4-95v2m1 54v2m4-15v2m2-47v2m4 41v2m1-37v5m2 50v2m6-33v2m1-26v3m0 2v2m0 19v3m1-55v3m1-7v2m0 33v2m2 22v2m6 43v2m4-71v2m0 6v3m3-3v3m7 17v2m2-39v2m0 80v7m5-93v4m1 0v2m3-11v3m1 47v2m4-32v2m0 30v3m1-74v2m1 113v2m1-30v2m1-85v2m12 78v3m1-83v2m0 76v2m1-62v2m1-24v2m2 93v2m5-30v4m8 16v2m1-74v2m0 52v2m0 24v5m4-9v4m1-19v2m2-9v5m1-70v2m2 33v2m1 0v4m1-32v2m0 52v2m0 31v6m2-80v2m0 46v2m0 102v2m0 2v2m1-167v2m0 24v5m3 4v2m0 33v2m1-83v3m0 26v4m0 24v2m0 9v2m1-48v4m1-17v2m1 72v2m0 35v4m6-121v2m1 41v2m2-13v2m2 70v2m4-78v2m0 6v3m7-5v2m2 33v2m30 30v3m0 2v2m5-35v2m4-36v2m1-44v3m0 95v2m1-84v2m2 97v2m3-19v2m2-93v2m1 30v3m5-3v5m5 4v2m2 15v3m3-26v2m1 39v2m3 43v2m6-69v2m1 41v3m1-46v2m0 31v4m1-72v7m0 13v4m0 5v2m0 24v2m0 2v2m3-69v2m2 52v2m4-28v2m2 22v2m2-13v2m0 39v2m7-54v2m5 11v2m1-39v2m0 48v2m1 31v2m1 17v4m2-117v3m0 80v4m9-71v2m0 58v5m4-16v3m0 8v2m1-88v2m0 13v2m3 39v2m3-9v3m1 4v2m7 65v4m1-69v2m2 22v2m2-89v2m0 20v2m1 41v2m0 124v2m1-95v2m2-102v2m1 39v2m1-15v2m0 7v2m2 22v2m7-15v2m5-26v2m0 54v2m2-71v2m3-9v3m0 32v2m3-34v2m0 24v2m2-15v2m0 28v2m0 76v2m1-128v2m2 46v2m0 35v2m1-72v3m0 26v2m1-31v3m0 39v2m1-20v5m0 10v3m0 17v2m3-61v3m4 84v2m3-69v2m1-37v2m0 46v2m1-30v2m1 43v2m5 61v2m2-71v2m1-30v2m2 2v2m3 65v2m1-52v2m3-45v2m2 67v2m1 100v4m1-127v2m5-59v2m1 9v2m10 15v3m0 91v2m7-46v2m2 91v3m1-113v2m0 48v2m3-65v2m3 17v3m0 13v2m4-72v2m0 42v2m0 43v2m2-102v3m1 54v2m2-20v3m2-11v2m2 13v2m1-48v5m0 13v4m1 20v2m2-28v2m0 24v2m6-2v2m1-33v2m0 74v2m0 20v2m0 24v2m1-30v4m2-43v2m6 39v4m4-9v3m3-5v2m3-6v4m2-4v2m1 50v2m1-80v2m1-80v2m1 13v2m0 74v2m1-82v2m0 28v2m0 31v2m5 30v7m1-81v3m0 34v2m5-49v2m4 17v2m4 20v2m4 65v4m2-65v2m2-32v2m2 24v2m2-54v2m0 2v2m0 61v2m0 15v3m1-96v2m4 100v2m0 31v4m5-65v2m2-17v2m3 2v2m6-13v2m6 31v2m3-72v3m3 69v2m6-89v2m3 65v3m1 4v2m2 15v2m1-10v2m3-13v2m1-52v4m0 89v2m6-15v2m1-82v2m0 7v2m2 8v3m0 41v2m7-43v2m2-41v2m6 65v2m3-56v2m0 28v2m7-32v2m2-22v2m7-4v2m2 33v2m1-26v2m4 15v2m1 11v2m1-37v5m0 73v3m3 21v2m0 11v2m1-65v3m2-42v3m0 75v3m2-94v5m5 34v3m1 88v3m3-113v2m0 82v3m1-94v3m0 101v3m1 71v4m7-84v2m1-15v4m5-93v2m1 9v2m3-22v3m0 13v2m0 43v2m0 2v3m4-7v2m0 5v2m5-28v2m8-11v2m8-24v2m1 11v2m3-13v3m3 39v2m1 4v2m4-34v2m0 52v4m1-63v2m0 37v2m2-30v2m6 91v5m4-78v2m0 30v7m2-85v2m0 22v2m4-35v3m4 62v3m1-42v3m1 60v2m2-43v2m1 13v2m3-60v2m1 61v2m1-59v2m0 24v2m2 37v2m2-58v2m2 54v2m1-49v2m4 26v2m4 6v3m1 60v2m1-130v3m4 121v4m5-47v2m1-52v2m0 2v2m3-41v2m1 72v2m4 4v2m1 29v6m3-100v3m11-7v2m1 37v2m3 7v2m0 19v3m0 78v2m1-124v2m3 11v2m4 5v2m6 35v4m6-35v2m4 44v2m1-106v2m2 67v2m4-39v2m3 68v4m1-43v2m2 30v2m3-41v4m1-71v2m2 63v2m9-37v2m4 63v5m3-59v2m0 33v2m9-43v2m4 28v2m0 28v2m3 11v2m3-45v2m3-56v2m0 32v3m7-5v2m12 35v2m2-34v2m4 37v2m7-87v2m0 24v2m5 5v2m1-7v2m2 13v3m2-9v2m8-13v4m6-21v2m3-9v2m8 37v7m0 17v2m7-6v6m10 13v2m2-78v3m2 47v2m2-32v2m0 39v2m4-26v2m2-36v2m1 43v2m8-45v2m1 2v2m0 37v2m0 2v3m1-35v2m6-19v2m0 17v2m11-19v2m7-4v4m4-9v5m0 19v2m1 18v4m15-22v2m11 52v3m3-59v2m1-8v2m1 32v2m13 11v2m2-43v4m9 5v2m3-26v6m3 7v2m2-13v2m2-4v6m5 0v3m6-7v4m3 13v3m9 19v2m2-17v4m11-19v2m1-22v5m10 6v2m2 24v2m5-21v2m4-20v2m8 18v2m1-24v4m1 59v2m0 2v2m2-52v3m0 28v4m4-35v3m4-9v2m7 2v2m1 22v2m17-21v2"/><path stroke="#c50000" d="M0 37v4m11-28v2m2-6v2m0 4v2m2 54v3m10-57v2m9-2v2m0 11v2m14 7v2m7-2v2m1-26v2m10 24v2m3-28v7m5-7v2m11-17v2m2 113v2m11-30v2m6-74v2m14 22v2m13 4v3m12-37v2m9-4v2m3-9v2m6-4v2m0 93v2m2-95v2m3 5v2m6 4v2m1-13v2m0 3v2m0 17v4m4-26v3m1 15v4m5-19v2m0 60v3m19-3v3m2-39v2m4 67v2m3-35v3m13-44v7m1-26v2m0 39v4m11-41v4m9-6v2m23-11v2m1 11v5m3 4v2m7-4v4m3 61v2m2-80v2m6-11v2m7-2v2m21 85v4m2-84v2m1-5v3m0 4v2m6 2v5m3-9v6m5-15v2m14 5v2m2 4v2m2-8v2m1 2v2m0 35v2m7-28v6m1 26v3m3-55v3m1 8v5m3 15v4m0 43v7m5-41v4m2-50v5m0 19v2m3 63v2m1-60v2m2-35v2m4 35v2m6-28v2m44 24v2m1 11v4m1 11v2m0 7v2m1-11v4m17-69v2m0 65v2m15-6v6m5-71v2m0 72v2m0 2v2m3-67v2m0 80v2m3-4v4m3 20v6m1-56v7m3-20v2m10-8v2m8-35v2m1 22v2m7 43v7m4-59v3m4 2v2m12 30v2m14 29v2m6-35v2m12 9v2m0 2v2m0 46v2m4-45v2m5-11v2m0 17v3m2-5v2m1-45v2m0 17v3m2-11v4m0 41v2m6-28v2m15 16v2m1-54v2m10 37v2m2-48v2m5 61v2m9-39v2m0 24v2m3-15v2m1-80v2m0 67v3m0 41v6m8-41v4m4-4v2m9-58v2m0 67v2m3 0v2m2-26v3m4 26v6m5-35v3m2 10v3m0 4v2m3-11v2m3 3v2m3-35v2m1 11v4m0 3v2m14-7v5m3-35v2m8 37v2m2 22v4m2-69v2m8 78v2m3-35v5m16 21v3m7 0v2m11-28v2m3-63v2m8 87v2m4-2v2m1-4v2m4 2v2m10-74v3m25 34v2m5 5v2m8 2v2m5-76v3m5 45v2m6-43v2m4 91v4m1-47v2m1-17v2m17 45v2m10-97v2m12 67v2m2 5v4m24 24v6m16 3v2m1-13v4m4-41v2m2 11v2m8-69v2m2 37v2m5 56v2m4-30v2m5-76v3m0 28v2m2 41v4m21-58v2m5-11v2m10 5v2m0 6v3m5 104v2m5-154v2m3 117v2m4-34v2m2 11v2m24-9v2m3-41v2m0 46v2m0 17v2m5-28v5m8-44v2m3-4v2m1-41v2m2 57v2m5-59v2m19 74v2m4-15v2m0 48v6m4-106v2m4 96v2m1-61v2m6 18v2m5 26v2m4-35v3m17-3v3m12 13v2m3-20v2m5-19v2m0 54v2m6 57v2m3-145v2m10 76v2m12-78v2m34-26v2m3 96v2m4-9v2m6-91v2m7 104v3m1-44v2m4-49v2m4 13v2m13 43v5m2-50v2m4-7v3m4-44v2m22 98v4m12-39v2m3-69v2m4 89v2m4-15v4m5 7v2m2 17v3m5-113v2m5 28v2m2-13v3m7 15v2m5 63v6m11-24v3m6 43v2m7-13v2m0 59v2m3-165v2m1 89v2m7-106v2m3 20v2m1 54v2m6 44v4m1-84v2m4 82v2m2-110v2m2 74v2m1-5v3m0 2v2m2 6v3m3-111v2m1 91v2m2 20v4m8 7v2m10-37v2m21-73v2m3 117v2m1-104v2m0 22v2m0 45v5m3-18v3m2 6v2m8 83v4m10-100v2m14-2v2m2-19v2m9 13v2m6 39v2m9-80v2m10 16v2m13-54v2m30 63v2m11 30v2m4-19v2m10 54v2m12-73v4m7-52v2m11-4v2m0 82v2m11-65v3m5-18v2m7-17v2m0 7v2m4 82v2m19-41v2m5 0v3m9-37v2m6 115v4m9-102v2m18 9v2m5 76v2m3-110v2m13 37v2m3 102v2m23-52v2m6-119v2m0 82v7m2-35v2m3-15v2m2 96v4m9-167v2m5 98v2m3-35v3m6-74v2m7 2v2m1 39v3m3 62v3m2-16v3m4-96v2m10 78v3m6 13v2m1-46v2m0 35v2m0 9v2m1-102v2m3 148v2m2-126v2m13 33v4m17-17v2m0 48v2m2-22v2m3-32v2m16-52v2m0 2v3m7 56v2m1-48v3m7-11v2m2 132v4m2-123v2m7 0v4m2 24v2m7-34v2m7 17v2m2-21v2m2 35v2m4-54v2m1 60v5m6-7v7m4-57v3m2-16v3m3 13v2m1-7v2m0 7v2m6 28v2m16-43v2m9-11v3m11 4v2m9 13v2m7-26v2m2-4v2m5-4v2m11 13v2m4 15v3m2-9v2m13-17v4m0 17v3m3-20v2m1 0v2m6-4v2m7 2v3m12 34v2m3-49v2m7-11v4m0 9v2m0 11v2m5 11v2m2 13v4m2-45v2m5 2v5m18 45v7m3-7v2m10-24v7m2 37v2m3-63v2m18-28v2m8 5v2m4 26v4m1-37v2"/><path stroke="#970000" d="M13 37v2m49 24v4m72-61v3m35 84v4m4-71v2m28-26v2m3 33v2m23 2v2m13-37v5m7 63v2m32-54v2m18 28v2m7-45v2m22 4v2m19-13v2m20 5v2m14 82v2m36-26v3m22-9v4m92 9v2m18 20v2m20-22v2m0 2v3m8 8v2m19-15v2m17 5v4m13-61v3m7 62v5m9 0v4m40-35v3m8-3v3m80-22v2m30 0v2m1 57v2m46 2v2m9-50v2m29 13v3m3-76v2m38 30v2m72 9v2m3 98v2m32-65v2m15-78v2m12 9v2m24 80v2m13 20v4m19-34v2m15-65v2m31 45v3m95 13v2m1-83v3m22-5v2m4-2v2m35 94v4m41-17v2m19-98v2m38 178v2m37-134v2m63-50v2m9 0v3m29 136v2m19-102v3m22 4v2m24 65v2m11-37v3m38-70v2m49 57v2m9-76v2m10 187v2m26-59v5m66-37v2m53-7v3m52-70v2m20-26v5m9 21v3m5-31v2m22 33v4m24-43v2m26 22v4m6-24v5m6 4v2m10 33v2m73 41v2m4-87v3m30-3v3"/><path stroke="#800000" d="M23 28v2m11-2v2m49 0v5m18 13v2m15-31v3m25 26v2m1 0v4m59-45v2m22-7v2m74 48v2m29-39v2m66-4v2m75 5v2m2 43v2m104-43v2m58 74v2m10-95v2m136 21v3m1-33v2m22 72v2m47 0v2m17-9v3m8-42v3m34 78v2m14-115v2m21 43v3m6 71v2m28-115v3m25 45v2m34-4v2m29 41v2m9 35v2m10-24v3m28-59v2m4 46v2m24-72v3m14-5v2m9 18v2m50 41v2m64-45v2m6 41v4m11-39v3m3-35v2m7 2v2m40 24v2m2 9v2m32 2v3m12 0v2m20-39v2m52 121v7m19 6v2m27-95v2m24 85v2m107-132v2m13 2v2m22-8v2m8 15v2m8-39v2m7 33v2m0 45v5m7-46v2m5-54v2m20 31v2m42 11v2m1-15v2m0 13v2m16 139v2m5-191v2m73 98v2m11-26v2m4-45v2m14-33v3m3 13v2m17-15v2m14 34v3m4-9v2m30-15v4m5-28v2m7 31v2m2 41v2m20-28v2m14-4v2m2-39v2m4 17v3m2-33v4m9 5v4m12 13v2m9 22v2m2-32v2m1-13v2m2-2v2m51-9v2m5-2v2m3 33v4m8-30v4m16-4v2m13 41v2m5-8v2"/><path stroke="#fff" d="M40 2v2m16 7v2m13-11v4m20 7v2m44-2v2m3-11v2m9 16v2m9-13v2m4 6v3m0 2v2m10-7v3m5 17v2m10-30v2m2-7v3m0 4v2m3-4v2m3 13v4m18-26v2m2 5v2m13 24v2m19-13v4m7-19v2m7-2v2m9 28v2m11-34v2m14 13v2m14-20v3m16 30v2m16-32v2m11 28v2m6 13v2m25-52v5m8-7v4m5 0v5m1-7v2m0 3v2m4-7v2m8-4v2m8 0v2m1 22v4m1-30v2m0 2v3m5 28v2m5-33v3m4 36v3m5-22v2m4-26v2m2 24v2m4 13v2m3-15v2m1-6v2m1-15v2m1 28v2m3-26v3m1-11v2m6 26v2m1-11v2m1 29v2m1 0v4m2-9v3m1-48v2m5 46v4m3 0v2m2-63v2m3 52v3m3 28v4m1-89v2m9 57v4m4-45v2m2 34v3m1-50v2m2-4v2m0 37v2m2-26v2m3-17v2m1-9v2m6 59v2m7 0v2m5-63v2m1 57v2m6-20v3m2 17v2m8-6v2m1-52v2m1-9v2m2 59v2m3-13v2m2 7v2m3-52v2m1 48v2m11-2v2m1 11v2m1-4v2m1 2v2m1-74v3m0 52v2m5-20v2m4-6v2m1 20v2m1-44v3m10 75v3m1-78v2m1 34v3m1-50v2m3 35v2m0 24v2m3-50v2m0 30v3m2-31v2m0 26v3m1 4v2m3 11v2m1-32v2m2 43v2m1-21v2m1 6v2m2-80v2m0 55v4m0 24v2m2-69v2m1 50v2m0 6v2m1-36v2m1 6v5m0 17v4m1-19v4m1-4v2m0 35v2m1-39v2m2-7v3m0 30v4m2-6v2m7-15v4m1-39v2m3 37v4m2-58v2m2-24v2m0 65v5m0 21v5m8-39v2m1 0v2m1-30v2m2 26v2m2-41v2m0 37v2m1 28v5m2-72v2m0 35v2m2 24v2m2-65v4m0 39v5m1 13v2m1 4v5m4-37v2m2-2v2m0 24v2m1-2v2m3-37v2m0 9v2m7 9v4m1-26v2m0 2v3m3 4v2m0 7v4m1 11v2m4-11v2m1-21v2m0 30v2m1-52v2m0 18v4m3 30v3m1-37v2m1-4v2m0 2v2m0 9v2m1-72v3m0 54v4m0 13v4m3-21v4m3-2v2m0 11v4m5-21v4m3-2v2m0 28v2m1-32v4m7-6v2m2-18v3m0 15v2m1-46v3m4 52v4m0 13v2m1-22v3m5-11v2m7-59v3m0 62v3m11-50v2m0 13v2m0 30v3m2-48v2m1 50v4m1 0v2m3-36v2m7-22v2m0 52v2m2 11v2m1-26v3m4 6v2m1 0v2m6 9v2m7-19v2m0 13v2m0 2v2m2-67v2m13 26v3m8-7v2m4 7v2m7-37v2m1-11v3m5 34v2m5-17v2m2-30v2m0 28v2m3 50v5m6-20v2m18-52v2m5-30v2m3 33v2m2 32v3m4-33v2m1 28v3m2 19v2m15 5v2m3-57v3m0 45v4m3-54v2m11 50v2m4-95v2m14 5v2m1-2v2m9 84v5m7-24v2m4-65v2m1 67v2m3-6v2m5-35v3m3 32v2m2-52v2m0 63v2m1-23v2m2 21v3m3-20v4m8-41v2m9 31v2m7-30v2m9 39v2m2-26v2m6-30v2m1 41v2m13-21v2m2-57v3m4 73v2m3-2v2m2-21v2m5 11v2m8 13v4m1-19v2m3 0v2m3-41v2m4 4v3m1-18v2m7 50v2m1-10v2m2 17v2m2 2v3m1-52v2m3 47v3m7-18v2m3-60v2m1 50v2m4-30v2m2 30v4m10-43v2m1 98v2m1-11v4m2-41v2m1 11v2m1-13v3m1 43v2m2-52v2m0 48v2m1-11v2m1-43v2m2 2v3m4-98v2m1 72v4m5 2v2m5-4v4m6-80v2m0 70v2m1-15v2m7 6v3m0 6v2m1-17v2m6 9v2m1 0v2m3-52v2m5-21v2m1 63v2m2-74v2m1 93v3m2-7v2m8-39v2m4-56v2m0 119v3m8-63v2m7 67v2m2-34v2m1-5v3m3 43v4m1-56v2m2 0v2m3 5v2m2 11v2m0 11v2m7-46v2m1 13v5m5 11v2m4-76v2m7 65v2m2-2v2m3-11v3m3 0v2m6-26v2m3-74v2m2 83v2m1 0v2m7-80v2m0 76v2m15-54v2m3 72v2m4-41v2m3 2v2m3 11v2m1-2v2m5-11v2m4-8v2m4-35v2m2 35v2m5 9v2m4-17v2m3 4v2m6 13v3m2 0v2m2-7v2m2 0v5m3-5v3m2-22v2m28-2v2m2-56v2m0 74v2m3-37v2m0 15v2m5-8v2m3 2v2m1 26v2m1-32v2m17-26v2m1 44v2m3-26v2m2 22v2m3-2v2m2-9v4m1 3v2m1-5v3m1-63v2m5 52v2m1-74v3m10 73v2m6-17v2m1-17v2m3 24v2m4-39v2m6 44v2m5-2v2m2-5v3m2-29v3m0 26v2m1-2v2m5-20v2m1-8v2m5 32v5m3-2v4m1-9v2m1-2v2m1-71v2m0 59v2m1-65v2m5-20v3m0 56v2m9 20v2m0 6v2m2-73v2m1 39v4m1-45v2m1 61v2m1-9v2m1-41v2m0 37v2m1-58v2m0 41v2m1-78v5m0 52v2m0 8v3m0 2v2m1-56v2m0 19v2m3 18v2m1-22v2m2 31v2m2-69v2m0 37v2m0 8v3m1 0v2m0 2v2m1-48v5m0 50v2m1-52v2m0 17v2m0 33v2m0 2v2m1-82v2m1 26v2m0 61v2m1-69v2m0 2v2m0 22v2m0 26v2m0 11v2m2-52v3m3-29v3m1 0v2m0 24v2m0 32v2m1-8v2m1-76v2m0 7v2m0 61v2m0 6v2m1-45v2m1 22v4m1-63v2m0 16v2m0 17v2m0 39v2m1-41v2m0 35v4m3-73v2m1 26v2m3 15v2m0 3v2m1-35v2m2 7v2m1-13v4m0 15v3m0 28v2m1-76v2m0 22v2m0 11v2m0 37v2m1-35v3m1-42v3m0 67v2m1-52v2m0 11v2m0 2v2m0 9v2m0 24v2m1-58v4m1 52v2m2-73v2m0 2v2m0 39v2m1-8v2m0 15v2m1-11v2m0 7v2m1-61v3m0 56v2m1-11v2m1-36v2m0 52v2m2-13v2m0 9v2m2-65v2m0 74v2m0 6v3m1-89v2m0 24v2m0 61v2m1-93v2m0 67v2m0 9v2m1-30v2m1 11v2m1-65v2m0 17v2m0 16v2m1 30v2m1-71v2m0 30v2m0 18v2m1-39v2m0 35v2m1-2v2m1-59v3m0 34v2m0 29v2m1-39v2m2-20v3m0 39v2m1-54v2m0 37v2m2-46v2m1 42v2m0 4v2m0 7v2m1-63v2m0 22v2m1-17v2m0 28v2m1-37v3m0 15v2m1-2v2m0 17v2m2 13v3m1-31v2m0 22v2m0 20v2m1-33v3m1-11v2m0 24v2m1-35v2m0 11v2m0 18v2m1-26v2m0 2v2m0 11v2m0 7v2m1-37v2m0 39v3m0 4v2m1-50v2m1 29v2m1-52v2m0 41v2m0 2v3m1 39v2m1-80v4m0 32v3m0 17v2m0 17v3m1-91v2m0 13v2m0 32v3m0 13v2m0 2v2m1-56v2m0 32v3m2-42v3m1-13v2m0 47v5m2-7v2m1 13v3m1-31v2m0 26v3m1-46v2m1-21v2m0 45v2m1-15v2m1 13v3m0 4v2m0 56v3m1-65v2m1-57v3m0 2v2m0 13v2m1-6v2m0 32v5m0 13v2m1-52v2m0 39v2m1-65v2m1 33v2m2-35v2m0 16v2m0 2v2m0 33v2m2-22v4m0 33v2m2-50v2m0 44v2m1-39v4m1-6v2m1-9v2m1-26v3m0 17v2m1-2v2m2-4v2m1 45v3m1-65v2m0 2v2m0 11v2m1 28v2m0 24v2m2-54v2m0 59v2m1-4v2m1-37v2m0 2v3m1 0v2m1-57v3m0 2v2m0 67v2m1-73v2m0 50v2m1-39v2m0 13v2m1 33v2m1-65v4m3-11v2m0 48v2m0 2v3m0 17v2m0 15v2m1-4v2m1-93v2m0 96v2m1-7v2m0 3v2m1-65v2m1-37v2m0 78v2m0 11v5m1-91v2m0 2v2m0 30v3m1-46v2m0 76v2m2-2v4m2-56v2m2-26v2m0 33v2m1-4v2m0 9v2m1-44v3m0 36v3m0 8v2m1-56v2m0 5v2m0 11v2m0 21v3m0 15v2m0 15v4m1-58v2m0 15v2m0 13v3m1-57v2m0 18v2m0 4v2m0 11v2m0 9v2m0 18v2m2-70v3m0 2v2m0 6v5m1 24v2m1-28v2m0 21v3m1 8v2m0 7v2m2-65v2m0 5v2m0 19v2m0 16v2m0 11v2m1-61v2m1 7v4m0 41v2m0 5v2m1-46v3m0 8v2m0 24v2m1-56v4m1 22v2m0 18v2m1-48v2m0 22v2m0 2v2m2-10v2m0 4v2m1 9v2m1-30v2m0 26v2m0 2v2m1-41v2m0 3v2m0 47v3m0 13v4m1-76v2m2 22v2m0 15v2m1-23v2m0 2v2m0 20v2m1-44v3m0 13v2m2 15v4m1-34v2m0 13v2m2-20v3m0 2v2m1-9v2m0 7v2m1 7v2m0 2v2m1-26v2m0 9v2m0 7v4m1-24v2m0 9v2m0 4v5m1-13v2m0 24v2m0 9v2m0 8v3m1-35v2m0 13v2m1-32v2m0 26v2m0 4v3m0 10v5m1-54v2m0 15v2m0 2v2m0 5v2m0 2v2m1-37v3m0 10v3m0 41v2m1-61v5m0 19v2m0 9v2m0 17v3m0 4v2m1-61v3m0 2v2m0 32v3m0 15v2m0 9v2m1-37v2m0 4v3m1-42v3m0 54v2m1-52v2m0 41v2m0 5v2m1-41v2m0 11v2m3-33v3m1 13v2m3 2v2m1 52v2m1-43v2m0 15v2m1-21v2m4-28v2m0 17v2m0 24v2m1-52v5m2 17v2m1 11v2m0 5v2m0 13v2m1-52v2m0 63v2m3-76v2m0 24v2m0 46v2m3-71v2m1-9v2m2 0v2m0 22v2m0 18v2m2-11v2m0 13v2m1-32v2m0 4v2m0 16v2m1 4v2m1-37v3m2-18v2m1 59v2m2-11v2m1-2v2m0 13v3m2-48v2m0 11v2m1-28v2m0 61v2m1-37v2m1 13v2m2 16v2m1 19v2m1-93v2m0 3v2m0 11v2m0 4v2m1-26v2m1 16v4m0 69v2m2-91v3m0 15v2m0 50v4m1-32v2m1-2v2m1-22v2m1 13v2m0 16v2m0 19v2m1-8v2m2-67v2m1 9v2m3 21v3m3-37v2m0 9v2m0 30v2m0 15v3m1-31v2m0 29v2m1-70v3m0 62v3m1-72v4m1 35v2m0 22v2m0 13v2m1-39v2m0 44v2m1-87v2m0 76v2m1-43v2m0 18v2m0 19v2m1-54v2m0 13v3m0 13v2m0 17v2m1-63v3m1 0v2m0 52v4m1-58v2m0 56v2m1-78v2m0 16v2m0 47v3m1-70v2m0 39v3m4 6v2m1-15v2m0 31v2m0 6v2m1-82v4m0 68v2m1-67v2m1 52v2m1-26v2m0 7v2m1-46v2m0 52v3m1-48v2m0 11v2m0 2v2m0 29v2m1-54v2m0 45v2m0 5v2m1-41v2m1-2v2m0 4v2m1 29v2m0 15v2m0 13v2m1-24v3m1-68v3m0 13v2m0 41v2m1-45v2m0 13v2m1 9v2m0 6v2m1-13v3m1 0v2m0 11v2m1-57v3m0 15v4m0 30v3m1-7v2m0 2v3m1-7v2m1 0v2m1-45v2m0 50v2m1 26v2m0 18v2m1-91v2m0 2v2m0 11v2m0 35v4m1-34v2m0 8v3m1-22v2m0 7v2m1 11v2m2-33v2m1-13v3m0 43v2m3-43v2m2 28v2m0 5v2m1 17v2m1-78v2m1 3v2m1 0v2m0 15v2m3-4v2m0 2v2m0 16v2m1-28v2m0 6v2m0 24v2m1-34v2m0 28v2m3-43v2m0 9v2m0 30v2m1-47v2m0 41v2m0 7v2m2-9v2m0 3v2m2-39v2m0 4v2m0 33v2m2-30v2m0 39v2m0 2v2m1-62v2m2 13v2m1 24v2m1-46v5m0 17v2m0 2v3m1-42v3m0 30v2m0 39v2m1-43v2m0 24v2m1-6v2m1-50v2m0 24v2m0 17v3m0 10v3m1-65v2m0 71v2m1-8v2m1-35v2m0 16v2m2-41v2m0 21v3m1-20v2m1-26v5m1 10v3m0 26v2m1-28v2m1-2v2m0 4v2m1-21v2m0 15v2m0 17v5m0 8v3m1-50v2m0 11v2m0 19v3m0 10v3m0 2v2m2-56v2m0 13v2m0 11v2m0 22v2m1-52v2m0 30v5m0 15v2m0 9v2m1-74v2m0 50v2m1-50v3m0 32v2m0 15v3m0 4v2m1-37v2m1 16v2m0 4v4m1-49v2m0 2v2m0 24v2m0 17v5m1-59v2m0 24v2m0 5v2m0 15v2m1-8v2m0 13v2m0 13v2m1-19v2m1-52v4m0 26v2m1-19v2m0 11v2m0 32v3m1-50v2m1-17v2m0 13v2m0 4v2m0 7v2m1-19v2m0 15v2m1 15v2m0 7v2m2-19v2m0 15v2m1-13v2m0 9v2m1-4v2m1-17v2m1-48v2m0 9v2m1 28v2m1-34v2m0 6v3m1-11v2m0 6v3m0 17v4m1 0v2m0 9v2m1-54v2m0 5v2m0 11v2m0 41v2m0 15v2m1-80v5m0 13v2m0 4v2m0 61v4m1-69v4m0 9v2m0 17v3m0 2v2m1 9v2m1-50v2m0 26v2m0 2v3m0 19v2m1-52v2m0 22v2m0 2v3m1-13v2m1-41v2m0 2v2m1-11v2m0 5v2m0 28v2m0 2v3m0 10v3m1-31v2m1-23v2m0 15v2m0 11v2m0 24v2m1-43v2m0 13v2m1 7v2m0 6v2m1-34v4m1-22v5m0 15v2m1 13v2m1-6v2m0 17v2m1-54v2m0 68v2m1-72v2m0 5v2m0 32v3m0 13v2m1-22v4m1-26v3m0 8v2m0 22v2m2-47v4m1 9v4m1-4v4m1 32v3m1-50v2m0 15v4m1-13v5m1 15v2m1-17v2m0 15v2m1 0v2m2-26v3m3 23v5m1-39v2m1-11v4m1-4v2m0 9v2m1 48v4m2-61v3m3 17v2m0 13v2m3-34v2m1 17v2m3-26v2m6-2v2m1 18v2m2-4v4m4-22v2m3 3v4m1-2v2m3-2v2m2-11v2m0 9v2m0 41v2m2-49v2m0 8v5m1-11v2m2 11v2m0 15v2m1 18v2m4-56v2m3-5v5m0 34v3m5-39v2m1-9v2m0 9v2m0 22v2m2 15v2m9-19v4m1-39v2m0 2v3m1-5v2m0 5v2m1 0v2m4-6v4m1-4v2m1-2v2m0 11v2m10-11v2m1-13v2m2 2v5m0 15v4m1 28v3m5-55v3m1 45v2m7-50v3m6 13v2m8 17v4m1-23v4m1-7v3m3 2v4m4 28v2m5-2v5m6-57v5m1 10v3m7 21v5m10-37v4m1 39v2m1-28v2m2 9v2m2-19v2m16 24v2m5-22v2m3-24v5m0 28v4m3 15v3m5-42v3m5 0v4m0 11v2m10-30v4m0 43v2m3-49v2m7 26v2m1 9v2m2-41v2m1 2v2m5 13v2m1 9v2m4-17v4m0 17v3m2-24v2m2 2v4"/></g><g transform="translate(240.5 1911) scale(1 -1)" stroke-width="1.08"><path stroke="#00b2ff" d="M273 347v17"/><path stroke="#00dbff" d="M382 381v18m1-35v17m7 35v6m4-71v13m0 17v18m58-70v15m2-15v18"/><path stroke="#19ffde" d="M274 347v6m108 11v17m2-17v15m1-15v17m1-34v34m6-17v17m0 35v9m1-74v30m0 35v17m1-34v17m1-52v35m0 17v17m1-86v15m0 19v35m1-85v33m0 35v17m1-35v18m0 17v11m1-98v18m0 17v35m1-18v18m13-50v6m34-41v50m1-52v17m0 20v24m1-9v9m1-78v17m0 17v44m1-78v34m0 20v8m1-62v34m1-17v17"/><path stroke="#3affbd" d="M356 349v13m28-13v15m8 17v35m1-35v35m1-52v17m1-34v17m0 35v17m1-102v13m0 4v16m0 17v17m0 35v17m1-69v13m0 41v15m1-102v50m0 18v17m1-69v17m0 35v17m1-69v17m0 35v8m49-112v34m0 18v17m1-52v17m2 22v13"/><path stroke="#5aff9c" d="M376 364v6m4 11v18m5-52v17m15 0v17"/><path stroke="#7bff7b" d="M357 364v6"/><path stroke="#0061ff" d="M267 353v2m8-8v2m114 80v2"/><path stroke="#008aff" d="M267 351v2m5-6v2m2-9v2m1 0v2m108 35v2m6 37v4m1-6v2"/><path stroke="#00b2ff" d="M269 360v2m0 2v2m2-9v3m1 0v4m4-11v2m102-2v2m8 9v2m3 61v2m2-15v2m9-50v2m47-6v2m1-2v2m2-52v2m0 7v2m0 19v2m1-32v2m1 26v2"/><path stroke="#00dbff" d="M265 360v2m2 0v2m2-20v5m4 0v2m0 11v2m2-24v2m0 2v3m1 8v2m104 39v3m2-42v3m1 0v2m1 6v2m1-26v3m0 17v2m1-13v2m0 5v2m0 6v2m4 44v2m2-2v2m1-33v3m0 15v2m1 26v2m1-91v2m0 78v2m1-108v2m0 9v2m0 22v2m0 13v2m0 22v2m0 43v2m1-101v2m0 54v2m0 28v2m1-52v3m0 41v2m1-80v2m0 15v2m0 28v3m0 15v2m1-61v2m0 31v2m0 17v2m0 3v2m1-89v2m2 41v2m0 7v2m1 2v2m43-56v2m0 7v2m0 6v3m0 8v2m0 3v2m0 4v2m1-47v2m0 50v2m1-67v2m0 8v3m0 15v2m0 35v2m0 2v2m1-58v2m0 13v2m1 9v2m1-24v2m0 43v3m1-57v2m0 29v2m0 6v2m1-54v5m0 28v2"/><path stroke="#19ffde" d="M266 347v2m3 13v2m3-20v3m1 6v2m0 2v3m1-16v3m103 6v2m1 2v3m0 2v2m2-2v4m0 13v2m1-2v2m1-30v2m1 28v2m1-28v2m0 5v2m1-22v2m0 5v2m0 2v4m0 33v2m7 0v4m0 5v2m1-11v2m0 5v2m0 2v4m0 28v3m1-96v5m0 19v2m0 2v5m0 8v3m0 8v2m0 22v2m0 11v2m0 2v3m1-102v2m0 4v2m0 13v3m0 2v2m0 41v2m0 2v3m0 21v5m1-117v2m0 8v3m0 4v2m0 28v2m0 9v2m0 39v2m0 7v4m0 2v3m1-70v2m0 5v2m0 17v5m0 19v2m0 2v3m1-87v2m0 2v2m0 9v2m0 2v3m0 41v2m1-85v3m0 6v2m0 74v4m0 7v2m1-111v3m0 41v2m0 6v5m0 15v2m1-74v3m0 2v2m0 13v2m0 52v2m11-30v2m24-9v3m1-5v5m11-42v3m0 2v2m0 19v5m1-35v2m0 13v5m0 6v2m0 20v2m0 11v2m1-72v3m0 21v2m1 13v3m1-42v3m0 36v3m0 8v2m1-36v4m0 19v3m0 10v5m0 6v2m1-58v4m0 9v2m0 7v2m0 2v4m0 7v4"/><path stroke="#3affbd" d="M265 353v2m2 0v2m1-15v2m1-2v2m2 16v2m2-18v3m0 4v2m1-11v2m0 3v2m83 19v2m18-15v2m0 3v4m1-9v2m0 3v6m1-4v2m1-9v2m2 3v2m0 4v2m0 15v3m0 2v2m1-26v2m0 26v2m1-45v2m0 9v4m0 6v3m0 2v2m0 11v2m0 2v2m0 5v2m1-39v2m0 4v2m0 5v2m0 6v3m1-44v5m0 17v2m0 4v3m1-16v3m0 6v4m0 3v2m0 6v2m0 5v2m1-9v5m6-24v2m0 4v5m0 2v2m0 2v2m0 37v4m1-71v2m0 7v2m0 2v2m0 7v4m0 45v5m1-74v2m0 7v2m0 17v2m0 7v2m0 7v2m0 2v2m0 11v2m1-74v3m0 19v4m0 3v2m0 8v3m0 2v2m0 2v2m0 31v2m0 2v4m1-78v2m0 3v2m0 21v3m0 4v2m0 2v2m0 11v5m1-81v3m0 2v2m0 13v2m0 2v2m0 35v2m0 7v2m0 2v2m0 2v3m0 2v2m1-33v3m0 2v4m0 26v4m1-114v2m0 11v2m0 2v2m0 4v5m0 8v3m0 28v2m0 11v2m0 6v3m0 17v2m1-108v2m0 61v2m0 6v2m0 9v2m3-43v4m10-4v2m34-35v3m0 4v2m0 7v4m1-35v2m0 9v2m0 5v4m0 4v2m0 20v2m0 2v2m0 11v2m1-41v2m0 35v2m1-78v2m0 3v2m0 32v2m0 9v2m0 9v2m0 2v2m0 5v2m0 6v3m1-74v4m0 13v2m0 3v4m0 4v2m0 24v2m1-67v2m0 3v2m0 11v4m0 2v4m0 7v2m0 2v2m0 7v2m1-50v2m0 13v3m0 4v2m0 4v3m0 4v2m0 2v2m0 22v2m1-58v2m0 4v2m0 35v4m0 3v2"/><path stroke="#5aff9c" d="M356 355v5m1-13v2m0 8v5m1 2v2m19-6v2m0 2v2m1-6v2m2 6v2m2-6v2m0 17v3m0 10v3m0 2v2m1-39v2m0 7v2m1-22v2m0 2v3m0 13v2m1 17v2m1-39v2m0 16v2m6 8v3m1-31v2m0 22v4m0 11v2m0 35v4m1-43v2m0 2v3m0 28v2m0 4v2m1-97v2m0 9v6m0 22v2m0 7v2m0 2v2m0 9v2m0 19v3m1-83v5m0 10v3m0 6v2m0 5v2m0 30v2m0 5v2m1-70v5m0 8v3m0 2v2m1-13v2m0 13v2m0 13v2m0 3v2m0 15v2m0 20v2m1-65v2m0 26v2m1-84v2m0 2v2m0 30v3m0 41v4m0 11v2m1-97v2m2 52v2m9-15v2m35-11v2m1-30v2m0 50v2m1-69v2m0 56v2m1-60v2m0 35v2m0 2v2m0 7v2m1-13v2m0 13v2m1-65v2m0 63v2m0 5v2m1-74v2m0 11v2m1 2v3m0 23v5"/><path stroke="#7bff7b" d="M356 349v2m1-2v2m18 13v2m8 4v3m3-22v2m8 7v2m1 37v2m3-33v2m1-28v2m0 5v2m49-35v2m4-17v2"/><path stroke="#9cff5a" d="M357 362v2m23 28v2"/><path stroke="#ffa100" d="M2125 214v5"/><path stroke="#fff" d="M273 355v2m109 9v2m0 18v2m12 13v2m1-33v3m1-20v2m2-15v2m0 33v4m1-24v2m0 20v2m1-28v2m49-2v2m1-52v4m0 20v2m2-6v2"/></g>
</g>
<path d="M512 1054V1921M784 1054V1921M1056 1054V1921M1328 1054V1921M1600 1054V1921M1872 1054V1921M2144 1054V1921M240 1776H2415M240 1632H2415M240 1487H2415M240 1343H2415M240 1198H2415" stroke="#b0b0b0" stroke-width="2.2" fill="none"/>
<path d="M230.3 1920H240M230.3 1776H240M230.3 1632H240M230.3 1487H240M230.3 1343H240M230.3 1198H240M230.3 1054H240M240 1921V1930.7M512 1921V1930.7M784 1921V1930.7M1056 1921V1930.7M1328 1921V1930.7M1600 1921V1930.7M1872 1921V1930.7M2144 1921V1930.7M2595 1054H2604.7M2595 1227H2604.7M2595 1401H2604.7M2595 1574H2604.7M2595 1747H2604.7M2595 1920H2604.7" stroke="#000" stroke-width="2.2" fill="none"/>
<rect x="240" y="1054" width="2175" height="867" fill="none" stroke="#000" stroke-width="2.2"/>
<rect x="2551" y="1054" width="44" height="867" fill="url(#jet)" stroke="#000" stroke-width="2.2"/>
</g>
<g id="panel2">
<g clip-path="url(#cp2)" fill="none" stroke-width="1.2">
<g transform="translate(240.5 2890) scale(1 -1)" stroke-width="1.08"><path stroke="#0061ff" d="M1193 35v17m1-52v17m0 35v17m1-17v17"/><path stroke="#00b2ff" d="M378 347v17m3 0v17m33-34v17m781-277v15"/><path stroke="#00dbff" d="M379 364v17m4-17v35m138-68v13m675-327v18m0 17v17m1 18v17m1-104v35m0 52v34m1-104v18m0 34v70m1-104v17m0 17v35"/><path stroke="#19ffde" d="M380 364v17m140-50v16m676-347v17m0 18v17m0 17v18m1-87v87m0 17v35m1-104v52m0 34v35m1-156v17m0 18v34m0 70v17m1-156v35m0 17v17m0 35v52"/><path stroke="#5aff9c" d="M383 347v17"/><path stroke="#9cff5a" d="M864 0v17"/><path stroke="#ffec00" d="M882 0v17m42-17v17m2-17v17m129-17v17m94-17v17m80-17v17m6-15v15m43 0v18m2-35v17m5 0v18m39-35v17m87-17v17m320-15v13"/><path stroke="#ffc600" d="M683 0v17m1-17v17m5-17v17m52-17v17m6-17v17m32-17v15m41-15v17m5-17v17m41-17v17m1-17v17m2-17v17m6-17v17m3-17v17m2-17v17m39-17v17m2-17v17m7-17v17m38-17v17m38-13v13m1-17v17m42-17v17m2-17v17m7-17v17m8-17v17m33-17v17m1 0v18m5-35v35m48-18v18m3-35v17m29-17v17m2-17v35m45-35v17m1-15v15m42-17v35m1-18v18m2-18v18m3-35v15m46-15v17m1-17v17m37-17v17m8-17v17m7-17v17m1-17v17m305-17v17m51-17v17m2-17v15m6-15v17m31-17v15"/><path stroke="#ffa100" d="M554 35v17m136-52v17m9-17v17m2-15v15m30-17v17m1-17v17m4-17v17m3-17v17m1-17v17m6-17v17m31-17v17m7-17v17m2-17v17m3-17v17m34-17v17m5-17v17m42-17v17m1-17v17m1-17v17m2-17v15m5 37v17m1-52v18m1-35v17m29-17v17m1-17v17m1-17v17m6-17v17m4-17v17m35-17v17m1-17v17m1-17v17m1-17v17m1-17v17m3-17v17m45 0v18m6-35v17m1-17v17m1 2v16m29-35v17m5 52v18m6-87v17m1 0v18m3-35v35m1-35v17m29-17v35m2-35v17m8 18v17m1-52v35m1 0v17m1-52v17m1 18v17m1-52v17m31-17v17m4-17v17m2-17v17m4-17v17m6-17v35m30-18v35m1-52v17m3-17v17m2-17v17m1-17v17m1-17v17m2-17v17m1 0v18m33-35v17m1-17v17m5-17v17m1-17v17m3-17v17m7-17v17m28-17v35m1 0v17m6-35v18m2-35v17m1-17v35m2-35v15m1-15v17m1-17v35m3-35v17m30-17v17m1-17v17m2-13v31m2-18v18m5-35v17m3-17v17m1-17v35m34-35v35m4-18v18m2-35v17m1-17v17m4 0v18m42-35v17m306-17v17m7-17v35m11-33v15m28-17v13m3-11v33m1-35v15m7-15v17m34-17v17m3-17v17m6-15v13"/><path stroke="#ff7b00" d="M419 17v18m99 2v15m136-17v17m30-35v18m6-18v18m1-18v18m3-35v17m5 0v18m1-18v18m1-18v18m31 17v17m1-69v35m8-18v18m1-35v17m32-17v17m1-17v17m1-15v33m1-13v13m1-35v17m2-17v17m1-17v17m5 0v18m1-35v35m3-35v17m39-17v17m36-17v35m1 17v17m2-69v17m1 0v18m3-18v35m1-52v17m1 5v13m1-18v52m1-69v35m1-18v35m1-35v18m1-35v17m2 0v18m1-18v18m29-18v18m2-35v17m1-17v17m3-17v17m1 0v18m2-35v17m1 0v18m2-31v13m1 0v18m32-33v15m2 0v18m9-35v17m2-17v17m2-17v17m1-17v15m1-15v17m27 18v17m2-52v17m1-17v17m0 18v17m2 17v18m1-87v17m1 0v18m2 0v17m2-17v17m2-17v17m1-17v34m1-52v35m2-52v15m31-15v17m5-17v17m1-17v35m3-18v18m5-18v35m1-17v17m29-52v17m0 18v17m2-35v52m2-69v35m1-18v18m0 17v17m1-69v17m1-17v17m1 18v17m1-35v18m0 17v17m1-34v52m4-70v18m1-35v52m1-35v35m1-52v17m27-17v15m0 4v16m1-18v18m1-35v35m0 34v15m3-32v17m1-69v17m4 0v18m1-18v18m1-35v35m1-18v18m3-35v32m2-15v35m31-17v34m1-69v17m0 18v17m3-35v35m1-35v18m1-18v18m1-35v17m2 18v17m1-17v17m38-35v18m2-18v18m1-35v35m2-33v15m4 0v18m32-35v17m0 52v7m1-76v35m1-35v17m1-17v17m0 35v17m1-34v17m2-17v34m2-34v17m1-52v35m38-35v17m2 0v18m4-35v35m3 0v17m2-35v18m34 17v17m4-69v17m2-17v35m2-18v18m0 2v15m1-52v35m4-18v35m40-52v35m310-35v17m1-17v17m2-17v17m4-17v17m1 0v18m2-35v17m32 0v18m56-35v17m6-17v17"/><path stroke="#f50" d="M685 0v35m7-18v18m1-35v17m2-17v17m3 0v18m85-18v18m5-35v35m1-16v16m30-35v17m5-17v17m40 0v18m2 0v17m3-17v17m3 0v17m1-52v18m1 0v34m2-13v13m2-34v15m3 2v17m29-52v18m5-35v35m8-18v18m3-18v18m37-35v17m4 0v18m3-35v35m30 17v15m0 2v18m3-70v18m2 17v17m1-34v17m2-35v18m2-18v35m37 0v17m2-34v17m1 0v17m2-52v18m1-18v18m2 2v15m4-17v17m4-35v18m0 17v17m1-17v17m28-52v15m1-15v35m2-35v35m1-17v52m1-18v18m1-18v18m1-70v18m1 34v18m1-18v18m2-35v35m1-70v18m1-35v35m0 34v18m1-52v17m2 0v35m1-70v35m0 17v18m27-35v35m1-18v15m2-84v35m1 17v17m1 0v15m1-32v17m2-69v17m0 18v15m3-15v34m1-34v17m1 0v17m1-52v52m32-69v17m1 37v15m3-52v18m0 17v17m1-52v52m1-34v17m5-35v18m39-18v18m42 0v34m3-34v17m4-17v34m3 0v18m2-35v17m1-34v17m1-52v17m2-13v31m28-35v17m3 0v18m1 0v13m1-46v15m0 18v17m5-35v18m1 0v15m1-50v17m1 0v18m1 0v17m1-17v17m30-35v18m1-18v18m2-35v17m1 18v15m0 19v18m1-52v34m2-52v18m3 0v34m1-17v17m6-69v17m1 18v17m30-35v18m6-35v35m7 2v15m1-17v17m1-17v17m300-35v18m2-18v18m6-33v33m2-16v16m2-16v13m1-15v18m1-18v18m1-33v15m1 0v18m2-18v18m83-18v18"/><path stroke="#ff2f00" d="M693 17v18m97-18v18m37-18v18m38 0v17m5 0v17m1-17v17m2-34v34m9-17v17m32-52v18m6-18v18m81 17v35m1-35v17m1-17v17m45-34v17m2 17v18m6-52v17m6 17v18m2-52v17m31 0v17m4 0v18m5-52v17m1 0v17m4-17v17m30-17v17m3 0v13m1-30v32m3-32v35m5-35v17m33-17v17m4-17v17m46-52v18m41 34v18m8-18v18m7-52v17m31-17v17m7-52v17m2 0v18m4-18v18m35 0v17m4-35v18m7 0v17m1 0v17m44-17v17"/><path stroke="#f30900" d="M1004 69v18m43-18v18m57-35v17m35 0v7"/><path stroke="#c50000" d="M1104 69v18"/><path stroke="#970000" d="M425 17v18m86 52v8m546-60v17m40 121v18m132-174v18m12 52v10m124-45v17m61 0v11m41-80v13m225-13v15m39 20v15m0 19v9"/><path stroke="#800000" d="M8 2v9m4 76v6m6-91v7m3 62v9m32-11v9m43 9v8m1-93v11m2 74v10m11-60v8m33 61v7m42-24v8m2-80v13m5 57v6m3-58v6m2-6v6m1 46v10m44-28v9m2 286v6m1-21v15m3-17v8m1-6v13m26-13v15m1-17v17m1-17v17m1-17v15m6-345v13m40 22v13m5-63v15m38 332v15m1-17v30m1-30v26m1-26v34m1-34v34m1-17v15m0 2v7m1-7v11m1-45v52m1-52v41m1-41v49m0 3v13m1-65v69m1-52v30m1-392v15m0 330v17m0 17v35m1-399v13m0 317v17m0 17v35m1-69v17m0 17v35m1-69v52m1 0v17m1-412v13m0 330v65m1-48v30m0 5v17m1-69v60m25-368v13m0 297v13m0 2v17m1-30v13m0 17v7m1-59v33m0 2v24m1-57v16m0 17v15m1-50v50m1-50v35m3-329v17m2-35v18m2-18v13m1 9v11m2-33v13m1 9v13m2-35v28m28 284v18m1-347v17m0 312v7m1-334v13m0 2v18m0 17v17m0 262v13m1-344v17m1-17v35m0 17v13m1-65v35m1-18v18m0 17v13m1-48v18m1-18v35m1-35v18m0 17v15m1-48v46m1-65v17m1 0v35m1 0v6m1-58v17m0 18v17m1-17v17m1-35v18m1-31v13m1 0v46m27-46v18m0 17v13m1-30v15m1-31v16m1 0v17m1-52v69m0 35v6m2-110v17m0 20v15m1-52v17m1-17v35m0 34v11m1-80v52m2-52v17m0 20v32m1-69v48m1-48v17m0 52v7m1-57v33m1-35v18m0 21v13m0 278v13m1-360v15m0 37v17m0 278v17m1-347v35m0 277v31m1-360v17m0 18v32m0 280v17m1-17v13m26-343v18m0 17v15m1-15v17m1-34v32m1-45v13m0 19v13m1-67v52m0 17v9m1-74v13m0 18v15m1-46v13m0 18v17m2-52v35m1-35v17m0 18v17m0 17v11m1-80v35m0 17v17m2 35v6m1-91v13m2-15v35m2-52v17m1-17v15m0 2v15m28 22v33m1-87v15m0 24v48m1-65v13m2 4v30m1-34v17m0 2v13m1-15v17m1-52v18m0 19v22m1-76v17m0 72v8m1-97v17m1-17v35m1-35v17m0 18v15m0 2v17m2-30v13m1-52v35m1-35v17m0 35v17m0 18v8m1-95v17m0 35v17m1 0v11m1-11v18m27-35v35m1-87v52m1-13v13m1-33v31m1-50v13m0 22v17m0 17v18m1-87v50m0 39v6m1-60v34m1-69v52m0 17v18m1-33v15m0 2v13m0 3v13m1-65v17m1-50v67m1-34v17m0 35v13m1-81v16m0 52v15m1-85v15m1 5v15m1-35v67m0 22v7m1-96v18m1-18v15m0 20v13m28-48v35m0 35v6m1-58v17m1-17v13m1-48v52m0 17v18m1-87v52m1-33v33m1-17v17m1-17v17m1-52v15m0 20v17m1-52v13m0 22v17m0 54v7m2-78v17m1-35v35m1-52v52m1-52v52m1-50v15m0 18v17m1-15v8m1-45v17m0 18v23m29-58v69m0 35v11m1-96v48m0 37v9m1-96v52m0 37v7m1-78v17m0 37v13m1-67v34m1-69v67m1-67v15m1 2v52m1-69v78m1-78v67m0 37v6m1-93v59m1-59v52m1-34v34m0 35v11m1-98v52m1-69v48m0 4v17m1-69v69m0 18v6m1-76v63m1-63v61m1-61v52m27-52v35m0 17v18m1-70v67m1-49v52m1-52v52m1-65v60m1-63v68m1-70v52m1-52v70m0 17v6m1-110v84m1-49v49m1-67v67m0 22v9m1-115v87m1-52v34m1-34v47m0 22v6m1-75v52m1-52v52m1-52v49m1-84v69m1-69v87m27-70v78m1-78v70m1-87v69m0 52v7m1-128v15m0 2v18m0 2v15m0 2v30m1-67v63m1-63v61m1-61v52m1-69v87m0 2v13m0 4v7m1-78v34m1-52v52m1-52v61m1-76v67m1-69v82m0 24v7m1-113v69m1-69v76m1-76v67m1-67v30m1-30v84m1-84v50m0 2v17m27-34v15m0 4v30m2-67v18m0 34v24m1-76v61m1-59v50m1-17v35m1-70v35m0 17v18m1-70v35m0 17v11m1-11v18m1-18v18m1-18v18m1 17v11m1-46v18m1-87v17m0 35v17m1-17v17m1-52v35m0 17v18m0 34v7m1-93v52m1-52v17m1-17v17m28-17v45m1-45v52m1-70v70m1-70v65m1-47v43m1-43v52m1-87v15m0 2v70m1-70v63m1-45v52m1-70v70m1-52v15m0 2v35m1-52v34m1-52v52m1-34v30m1-30v28m1-63v69m1-17v15m0 37v6m1-93v52m1-47v47m27-69v69m1-52v35m1-35v52m1-34v34m0 52v18m1-122v52m1-52v15m0 3v17m0 2v33m0 56v11m1-137v18m0 17v35m1-87v17m0 18v34m0 2v16m1-70v70m1-68v16m0 2v15m0 2v15m1-69v84m1-67v52m1-34v52m1-87v69m1-52v70m1-52v13m0 6v15m1-34v49m1-65v65m1-67v18m0 17v35m27-87v35m0 52v13m1-100v52m1-35v35m0 17v24m1-24v33m1-85v52m0 18v8m1-78v35m1 17v18m1-87v17m0 18v52m0 2v6m1-95v17m0 18v34m1-69v17m0 35v45m1-97v17m0 35v35m1-87v35m0 17v50m1-33v15m1-84v35m0 17v35m1-87v35m0 34v18m1-35v35m1-70v35m0 2v33m1-52v52m1-87v87m28-52v17m0 17v18m0 123v7m1-200v35m1-35v18m0 17v35m1-70v18m0 17v52m0 104v15m1-206v15m0 3v17m0 35v17m0 104v13m1-221v15m0 2v52m0 18v17m0 17v18m1-139v17m0 18v69m0 4v13m1-86v52m0 34v9m1-95v15m0 4v50m0 17v18m1-87v48m0 23v33m1-104v52m0 22v13m1-87v50m0 37v8m1-143v13m0 18v52m1-87v35m0 17v17m0 2v13m1-84v104m0 52v6m1-127v69m0 17v18m1-87v17m0 18v34m1-121v17m0 52v13m0 5v15m0 6v13m1-52v18m0 21v31m27-87v35m0 17v35m0 2v15m1-104v117m1-117v121m1-173v17m0 52v122m1-191v17m0 52v117m1-99v104m1-156v17m0 35v86m0 18v15m1-171v34m0 18v67m0 2v50m1-171v34m0 18v121m1-208v35m0 17v17m0 18v121m1-208v17m0 70v136m1-136v136m1-136v17m0 17v52m0 35v17m1-138v101m0 3v34m0 20v15m1-173v52m0 2v47m0 5v15m0 17v18m1-191v121m0 20v15m1-156v52m0 2v130m1-236v17m0 70v15m0 2v102m0 2v9m1-130v121m0 17v18m27-208v17m1-17v34m0 35v6m1-75v34m0 35v6m1-75v17m1-52v52m0 17v24m1-76v15m0 3v17m1-35v35m1-35v35m1-35v18m0 17v43m2-95v17m0 18v17m1 17v18m1-35v41m1-58v17m0 17v15m0 72v17m1-173v17m0 52v18m1-87v17m0 18v17m1-17v52m0 86v9m1-147v49m1-32v17m28 18v32m1-50v67m1-119v35m0 17v18m0 2v50m1-70v83m1-83v85m1-85v65m0 5v17m1-156v35m0 34v93m1-110v117m1-134v138m1-138v147m1-165v165m1-130v136m1-119v122m1-191v35m0 34v18m0 17v87m1-104v104m1-52v69m1-52v48m1-48v17m1-17v45m27-184v87m0 2v28m1-117v87m0 17v11m1-97v95m1-113v113m1-113v104m1-121v17m0 18v65m0 4v17m0 2v9m1-97v52m0 2v47m1-101v80m1-80v82m1-82v69m1-87v100m1-100v100m1-117v35m0 17v63m1-115v104m1-104v87m1-87v17m0 18v62m1-97v97m1-80v80m1-97v97m27-62v65m1-48v30m2-47v15m1-15v49m0 20v6m1-93v18m0 34v35m1-104v17m0 35v35m1-52v47m0 5v10m1-80v18m0 69v6m1-93v18m0 34v28m1-45v35m1-52v34m1-50v50m0 18v17m1-69v62m1-28v18m1-87v15m0 2v18m0 17v52m1-87v18m0 17v35m1-70v65m1-30v35m28-70v76m1-76v35m0 4v48m1-87v31m0 4v17m0 18v17m1-52v17m0 20v15m1-52v35m1-35v52m1-69v49m0 5v15m1-82v82m1-87v15m0 3v65m1-65v47m0 5v10m1-62v65m1-83v18m0 17v41m1-41v52m1-104v17m0 18v32m0 2v35m1-52v48m1-48v32m1-32v48m1-100v97m1-97v104m27-69v67m1-102v17m0 18v69m1-104v52m0 17v35m1-87v35m0 17v35m1-17v13m1-100v17m0 2v16m0 34v41m1-110v35m0 17v52m1-69v80m1-80v67m1-67v13m0 4v67m1-50v48m1-43v36m1-75v80m1-115v104m1-104v110m1-75v52m1-35v61m1-96v18m0 21v59m1-115v35m0 34v50m27-119v52m0 17v18m1-87v50m0 2v28m1-80v87m1-52v67m1-102v93m1-93v17m0 20v13m0 4v28m1-82v32m0 3v15m0 4v33m0 19v7m1-113v97m1-80v70m1-52v52m1 0v13m1-65v47m1-47v17m0 17v13m1-82v102m1-102v69m1-69v102m1-102v35m0 17v32m1-84v35m0 34v18m1-87v13m0 4v15m0 20v17m28-52v76m1-93v69m0 2v42m1-113v110m1-110v102m0 2v13m1-117v117m1-117v113m1-111v63m0 4v35m1-102v67m0 2v33m1-104v117m1-117v104m1-104v17m0 2v85m1-104v113m1-113v32m0 3v69m1-69v17m0 17v15m0 22v7m1-111v33m0 17v61m1-113v13m0 6v33m0 17v35m1-104v87m0 2v28m1-117v32m0 3v80m1-115v17m0 18v67m27-102v13m0 4v18m0 34v9m1-76v13m0 37v17m0 18v10m1-80v35m0 17v18m1-70v18m0 17v15m1-50v18m1 0v17m1-15v13m0 21v13m1-84v17m0 2v16m0 34v15m1-28v31m2-68v48m2-50v18m1-35v15m0 20v17m0 17v9m1-26v35m1-48v13m1-17v17m1 0v43m1-78v52m29 0v11m1-11v18m1-70v15m0 20v17m1-30v28m2-67v32m0 37v15m1-65v16m0 19v15m2-47v30m1-52v35m2-35v17m0 57v13m1-35v15m0 4v16m1-87v15m0 22v15m1-50v13m0 54v15m1-67v35m0 17v18m1-70v15m0 20v15m28 2v7m3-76v35m0 2v15m1-52v17m0 52v15m1-67v15m0 37v11m1-80v15m0 2v18m1-35v15m0 20v15m1-48v50m1-50v30m0 20v15m1-32v17m3-52v50m0 6v13m1-52v33m0 2v35m1-70v18m1-35v32m0 7v13m1-52v35m0 17v32m28-32v17m1-65v13m0 20v15m0 17v11m1-45v15m0 19v7m1-41v15m0 24v10m2-32v17m2-69v17m1 2v16m0 17v35m2-85v15m2 35v17m0 2v9m1-63v15m1-15v13m1-13v18m1-18v18m1-35v32m28-13v33m1-52v17m0 18v32m2 124v13m2-187v18m1 4v13m1-17v17m0 139v15m1-154v17m1-65v31m0 158v6m1-197v28m0 5v17m0 139v13m1-13v15m2-137v7m2-59v18m0 4v13m2-52v17m1 52v11m28-45v15m0 2v15m1-30v15m1-17v15m0 2v17m1-52v18m0 36v9m1-63v15m0 5v43m1-61v16m0 17v17m1-34v17m0 17v11m1-45v34m1-17v28m1-58v30m0 2v9m1-28v17m1 0v17m1-17v15m1 2v13m1-47v17m0 2v24m1-43v17m0 2v15m1-34v52m1-48v30m1-32v13m0 2v17m27-13v13m1-34v15m1-50v52m0 17v13m1-30v17m1-17v17m3-52v18m1-18v18m0 4v13m0 2v15m1-50v16m0 34v9m1-41v15m0 17v7m2-24v24m3-59v31m0 21v11m2-11v11m28-61v13m1 3v15m1-50v15m3 37v15m1-32v15m0 4v15m1-17v9m1-59v15m0 35v13m0 4v7m1-24v24m2-7v9m1-56v30m1-15v39m1-7v13m1-30v9m1 10v7m1-24v9m1-44v16m0 34v9m28-26v13m1-65v17m1 0v18m1-33v15m0 52v9m1-59v16m1-35v15m1 20v13m0 4v15m1-50v15m0 5v13m0 6v13m2-52v18m2 0v17m1 17v9m3-78v17m1 0v13m1 5v15m1 4v15m28-50v11m1 5v17m3-17v23m2-23v17m3-17v8m2 9v6m1-39v29m1-31v13m2-13v18m0 4v26m1-13v13m1-13v17m28-34v17m1-30v30m2 0v13m2-30v15m1-50v17m2 35v17m5-17v9m2-9v9m33-26v17m3-52v17m1 0v9m1 26v6m8-19v13m31-17v17m5-13v11m2 4v7m3-44v15m3 5v15m41-15v11m5-13v15m2-15v15"/><path stroke="#000fff" d="M1195 91v2"/><path stroke="#0038ff" d="M1193 17v2m0 20v2m1-39v2m0 15v3m0 17v2m0 35v2m0 6v3m1-22v2m0 13v2m1 20v2"/><path stroke="#0061ff" d="M383 351v2m318-321v3m492 19v2m2 22v2m1 24v2m0 9v2m628-54v2"/><path stroke="#008aff" d="M380 379v2m1-6v2m0 24v4m2-48v3m0 43v2m1-30v2m29-35v2m1-4v2m229-333v2m372-11v2m178 7v2m1 15v2m0 20v2m1-9v2m0 2v3m0 26v2m0 43v4"/><path stroke="#00b2ff" d="M377 344v3m1 21v2m1 3v2m1 2v2m0 4v3m1 10v3m1-55v3m0 43v2m1 4v3m0 6v2m1-52v2m29-13v3m1-9v2m1 2v2m98-305v2m179-37v2m50 55v2m88 0v2m35-39v2m98 46v2m85-65v2m50 63v2m95-67v2m1-4v2m0 41v2m4-9v3m1 26v2m0 24v2m0 43v2m1-128v3m0 67v2m0 9v2m263-18v3m1-55v3m92 34v2m136-65v3m36 54v2m8-52v2"/><path stroke="#00dbff" d="M378 344v3m0 15v2m0 2v2m1-11v3m0 2v2m0 17v2m1-15v2m0 11v2m1-36v2m0 24v2m0 11v2m0 6v2m1 5v2m1-54v2m0 48v2m1-28v2m0 17v2m30-39v2m0 3v2m1-24v4m53-314v2m52 306v2m81-258v2m131-37v3m0 15v2m3-56v2m49-9v2m3 26v2m37-32v2m52 11v2m42 33v2m1 17v2m46-67v2m6 13v2m35 59v2m10-80v2m75 61v2m93-26v2m12 0v2m0 5v2m0 28v6m1-84v2m0 7v2m0 8v3m0 2v2m0 4v2m0 3v2m0 6v2m0 3v2m0 6v5m0 8v2m0 3v2m0 32v2m0 5v2m0 13v2m1-82v2m0 2v2m0 11v9m0 50v2m0 4v4m0 13v3m1-150v2m0 9v2m0 24v2m0 4v3m0 2v2m0 9v4m0 2v2m0 74v2m0 9v2m1-156v2m0 11v6m0 3v2m0 8v3m0 26v4m0 39v2m0 9v2m0 2v2m0 2v3m0 4v2m0 4v3m0 2v4m0 4v3m135-81v3m30-11v2m58-9v2m227-56v2m166 18v2"/><path stroke="#19ffde" d="M97 11v2m178 344v5m1-7v5m102-5v2m1-2v2m0 9v2m2-6v2m0 13v2m1-28v2m0 39v2m0 9v2m1-4v2m1-46v3m0 17v2m0 22v2m77-308v2m7-67v2m36-26v3m7-9v2m10 332v2m209-336v2m8 11v2m36-9v3m16 21v2m2 44v2m31-76v2m11-2v2m43 5v2m41 34v3m4-44v2m37 0v3m7-3v3m3 75v3m2-76v2m2 28v2m27-13v2m4-28v2m9 33v2m5 39v2m29-78v2m10 76v2m45-84v2m3 2v2m85 29v2m6-20v2m0 3v4m0 6v3m0 21v5m0 2v4m0 20v2m1 0v6m0 7v2m1-100v5m0 2v2m0 9v2m0 2v4m0 61v2m0 2v2m0 9v7m0 6v2m1-104v5m0 2v2m0 4v2m0 37v2m0 11v2m0 7v4m0 7v2m0 2v2m0 2v5m0 4v2m0 2v5m0 2v2m0 2v2m1-97v2m0 2v5m0 30v2m0 4v3m0 8v5m31-9v2m2-80v2m3-15v2m6 20v2m36-2v2m3-2v2m0 58v2m4-75v2m39 11v2m44-18v3m90 26v2m50 19v2m41-56v2m41 39v2m3-8v2m50-30v2m45-11v2m39 7v2m15 19v2m356 16v2"/><path stroke="#3affbd" d="M103 67v2m172 286v2m103-10v2m0 8v3m0 4v2m1-6v2m1 11v2m0 11v2m1 17v2m1-45v2m0 13v2m1-24v2m0 20v2m1-32v2m29-2v2m51-312v2m56-15v2m1 314v2m120-307v2m4-37v2m40 0v2m13 0v2m89 7v2m88-9v3m7-5v2m39 9v2m40 2v3m9-22v2m44 7v2m32 11v2m6-5v3m6-11v2m39-7v3m51 69v2m45-65v2m2-17v2m1 0v2m0 39v2m0 24v2m1-34v2m0 28v2m0 9v2m0 30v5m1-115v2m0 11v2m0 4v3m0 2v2m0 17v2m0 3v2m0 6v2m0 7v2m0 15v2m0 13v3m0 2v2m0 19v3m1-122v2m0 5v2m0 45v3m0 19v2m0 2v3m0 10v3m1-65v2m0 32v5m0 39v2m28-102v2m11-9v3m1-9v2m5 9v2m32 9v2m6-11v2m138-13v2m79 2v3m61 23v3m37-33v2m8 0v2m31 55v2m93-18v3m142 6v2"/><path stroke="#5aff9c" d="M379 364v2m0 9v2m1 15v2m1 5v2m1-54v2m1 45v2m1-47v2m30-9v2m140-288v2m3-56v2m46 74v2m89-80v2m51 59v2m3-52v2m75-11v2m44 11v2m12 11v2m49-30v2m126 85v2m40-20v2m17-67v2m27 5v2m10-2v2m8 26v2m43-26v2m31-8v2m147 2v2m41-11v2m310 9v2m16-15v2m309 2v3"/><path stroke="#7bff7b" d="M381 366v2m222-357v2m90-9v2m54 65v3m39-65v2m126-9v2m12 46v2m139-41v2m209 13v2m16-13v2m38-13v2m95-6v2m43 7v2m8-11v2m86 2v2m131 0v3m41-9v2"/><path stroke="#9cff5a" d="M511 91v2m53-89v2m125-2v2m54-4v2m81 0v2m9 35v2m48-41v2m30 2v3m5-5v2m43 5v2m3-4v2m44-9v2m86 5v2m15-7v2m39 46v2m99-54v2m76 7v2m54-2v2m42-9v2m182 0v2m47-6v2m322 0v2"/><path stroke="#bdff3a" d="M509 2v2m143 0v2m92 3v2m2-2v2m212-9v2m7-4v2m6 0v2m39 0v2m51-2v2m38-6v2m44 7v2m8 0v2m83-2v2m4 0v2m39 11v2m12-13v2m44-6v2m2-9v2m29 0v3m5-3v3m2-7v2m10-4v2m27-2v2m14 2v2m39-4v2m10-2v2m170-2v2m57 0v2m43-2v2m34-4v2"/><path stroke="#deff19" d="M502 6v3m58-7v2m38-4v2m13 4v3m38 0v2m35-11v2m14 4v3m1-9v2m30 9v2m8-7v3m37 6v2m0 2v3m3-11v2m1 0v2m10-13v2m38-4v2m10-2v2m33 4v3m5 2v2m4 0v2m2-6v2m0 17v2m79-28v2m2 7v2m3-4v2m8 0v2m39-13v2m5 7v2m34-2v2m9-7v2m35-4v2m3 5v2m1 0v2m5 9v2m3-24v2m44 4v3m3 6v2m31-11v3m1 10v3m0 13v2m1-31v3m1-7v2m4-4v2m0 7v2m41-5v3m48-9v2m6 20v2m1-22v2m39 2v3m5 2v2m44-2v2m3-11v2m0 7v2m0 6v5m3-15v2m35-11v2m43-2v2m89 4v3m42-3v3m2-9v2m93 4v3m5-5v2m36-6v2m46 0v2m11-4v2m5 17v3"/><path stroke="#ffec00" d="M513 0v2m2-2v2m40-2v2m7 2v2m40-6v2m40 0v2m55 0v2m4-2v2m31 3v2m4 0v2m3-7v3m0 15v2m1-26v2m1 2v2m36-2v2m2-6v2m1-2v2m2 17v3m1-9v2m1-2v2m2-13v2m3 7v2m3 0v2m31-15v2m1 4v3m4-3v3m2-3v3m34 4v4m1-11v3m1 4v6m1-19v2m4 0v4m3 0v3m0 21v2m1-17v2m3-2v2m1-11v3m1-9v2m30 2v5m5 2v2m3-13v2m6 17v3m31-18v5m1 2v2m4-7v3m3 2v2m1-11v2m0 2v3m3 0v2m33 26v2m3-37v2m0 5v4m0 6v5m1-13v2m1-11v2m1 7v2m3 2v2m1-6v2m6-2v2m30-11v2m3 5v4m2 52v2m2-54v2m2 17v3m3-26v2m4-7v2m1-4v2m28-4v2m0 63v2m4-63v2m8-2v2m0 22v2m0 41v3m1-70v2m1-4v2m1-2v4m1 9v2m1 24v2m28-41v2m1 11v2m6-15v2m5 24v2m4-26v2m1-6v2m1 9v2m30 13v2m1-22v3m2-5v2m0 11v2m4 33v2m3-43v2m39-7v3m1 0v2m5-11v2m0 11v2m1-9v3m1 0v2m1-11v2m0 24v4m30-24v3m0 4v2m1-15v2m0 20v2m2-11v2m1-6v2m1-7v2m1-6v2m2 17v3m1 26v2m1-44v3m1-9v2m0 22v2m2-20v3m0 32v2m1-32v2m1-9v2m0 22v2m2-17v2m1-6v2m29 0v2m5 13v2m2-17v2m2-11v2m38 5v2m0 58v2m5-62v2m0 17v2m1 0v2m3-10v2m4 6v2m1-28v2m29-6v2m0 2v2m10 0v3m5 45v2m31-52v5m7-9v4m3-4v2m5-2v2m31 0v2m6-2v2m4 0v2m5-4v2m35 0v2m1-2v2m8-2v2m43-2v2m3-4v2m75 2v3m15-9v2m1 2v2m29 18v2m7-26v2m1 7v2m3-7v2m3-6v2m32-2v2m7 0v2m8-2v2m31 7v2m143-13v2"/><path stroke="#ffc600" d="M426 26v2m1-4v2m75-26v2m7 2v2m1-4v2m1 0v2m4 0v3m5 28v2m27-39v2m16-2v2m31 2v2m4-4v2m1-2v2m7 0v2m1-6v2m0 7v2m1 0v2m34-13v2m2-2v2m0 7v2m3-2v4m3-2v2m3-4v2m1 0v2m31 19v3m1-3v3m1-35v2m3-2v2m5 7v2m6-9v2m28 5v2m3-9v2m3-2v2m3-4v2m0 52v2m2-45v2m3 41v2m2-54v2m30 0v2m1 0v3m5-9v2m0 11v2m1-15v2m2 4v3m2-5v2m1 5v2m1-13v2m1 13v2m0 9v2m2-19v2m1-2v2m32 2v2m0 2v2m7-13v3m4-5v2m29 11v2m1-10v2m1 30v2m2-34v2m1 6v2m1-10v2m2-9v2m0 11v2m1-4v2m1-2v2m0 22v2m4-11v2m1-21v2m1 6v2m0 42v2m1-50v2m1-15v2m0 11v2m29-4v2m12-9v2m1 0v3m0 6v2m0 11v2m1-17v2m1-11v2m0 5v2m1 0v2m28-15v2m3-2v2m0 2v2m2-4v2m0 7v2m1-4v2m2 2v2m1 4v3m3-22v2m1-2v2m1 2v2m3-4v2m28 2v3m0 2v2m0 56v2m3-36v2m0 28v2m2-13v2m2-32v2m1-20v3m0 2v2m0 9v2m1-7v2m1-19v2m0 30v3m0 2v2m1-35v2m0 33v2m2-37v2m3-4v2m1 2v3m0 17v2m29-17v2m2-11v2m3-4v2m0 4v3m0 65v2m1-67v2m0 11v2m2-24v4m1 2v3m0 28v2m0 6v3m1-22v2m1-19v2m1 17v2m0 5v2m0 37v2m3-65v2m1-11v2m0 35v2m1-37v2m0 13v3m28-20v2m0 13v2m1-13v3m0 34v2m1-39v3m0 2v2m1-13v2m0 28v2m2 0v3m1-18v2m0 9v2m1-26v2m1 0v3m0 23v3m1-33v2m1 41v3m1-46v2m0 46v2m0 2v2m1 5v2m0 15v2m1-78v2m1 35v2m1-24v2m0 31v2m1-20v3m2-29v3m0 39v2m28-39v4m1-11v2m0 3v2m0 56v2m0 2v3m1-72v2m0 18v2m1-13v2m0 56v2m1-62v2m0 45v2m1-56v2m0 39v2m7-19v2m1-17v2m2-13v2m1 15v5m1 10v3m0 36v3m28-70v2m0 22v2m0 15v3m1-22v6m1-28v2m3 29v2m1-11v2m1-24v2m0 5v2m1-7v3m0 6v2m2 31v2m2-46v5m0 26v2m34-35v2m0 26v2m1-10v2m1-5v3m3-11v2m2-7v3m1 4v2m2-13v2m1 0v2m2-6v4m1 5v2m3-9v2m27 5v4m0 9v2m0 6v2m2-30v2m0 5v2m1-5v3m0 13v2m0 6v2m1-30v4m1-4v2m0 9v2m0 13v2m2-8v2m1-20v2m0 31v2m1 22v2m1-24v2m1-6v2m0 32v2m1-65v3m1 10v3m0 15v2m1 24v2m1-65v2m0 22v2m0 4v2m1-21v2m0 13v2m2-22v3m28-9v2m0 4v3m5 8v2m0 22v2m1-37v3m0 6v2m3-15v4m1 0v3m1 0v2m0 4v2m2-11v3m1-9v2m0 7v2m1-7v2m31-4v2m1 2v3m1-3v3m0 62v3m1-68v3m1-7v2m1 24v2m1-21v2m0 11v2m1 2v2m2-26v2m1 5v2m0 6v5m0 39v2m1-61v2m1 2v3m0 4v2m5 35v2m29-52v2m1 13v4m1-17v7m1-9v2m12 2v2m1-4v2m31 5v2m1-9v2m0 2v3m2-5v5m2 0v2m1-7v2m5-2v2m1-4v2m3-2v2m27 0v2m4 0v3m6-9v2m48 2v2m5-6v2m28 2v2m3 3v2m2-11v2m4 4v3m2 0v2m1-7v2m2-2v2m1-6v2m0 7v2m2-7v2m0 3v2m29-7v5m5-3v3m1-3v3m3 0v2m48-9v2m36-2v2m1 13v2m2-6v2m1-11v2m0 18v2m1-15v2m2-11v2m1 18v2m2-9v2m1-8v4m2 6v3m2 6v2m0 2v3m28-31v2m3-2v2m1 22v2m2-28v4m0 11v2m1-15v2m6-4v2m3-4v4m32-4v2m7 7v2m1-5v3m3-9v4m1 0v2m1-4v2m122-2v2m7 0v2m3-4v2"/><path stroke="#ffa100" d="M412 26v2m3-2v2m3-2v2m5-4v2m2-2v2m3 0v2m1-4v2m28 6v3m0 2v2m1-2v2m1-7v3m3 0v2m3-2v2m1-5v3m1 2v2m1-4v2m1-5v5m1 0v2m1-4v4m1-7v3m1 2v2m2-2v2m31 2v2m6-6v2m1-2v2m1-39v2m0 35v2m2-2v2m0 2v2m2-43v4m0 35v2m31-2v2m1-4v2m1-4v2m1-2v2m1-33v2m1-4v2m1 31v2m1 2v2m1-4v2m1-4v4m2-4v2m1-2v2m1 0v4m2-41v2m0 35v2m1 0v2m29-35v3m1-9v2m4 7v2m2-11v2m0 9v2m1-4v2m2-7v7m4-7v2m31 35v4m1-45v2m0 39v2m1 0v2m1-2v2m1-34v2m0 26v4m2-39v2m0 5v2m1 26v6m1-43v2m0 35v2m1 0v2m1 0v2m1-36v2m0 28v2m5-41v2m0 37v4m1-32v2m27-13v2m0 2v2m0 29v2m1-28v2m0 8v3m1-22v2m0 33v2m1-31v3m1-5v2m1-6v2m0 2v2m0 31v2m1-33v3m0 2v2m0 24v2m1-20v3m3-22v2m0 33v2m1-35v2m0 2v3m0 26v4m2-4v4m2-2v2m1-20v3m0 15v2m1-37v2m0 13v2m0 3v2m0 6v2m0 5v2m29-39v2m0 52v4m1-47v2m0 37v4m0 4v3m1-42v3m1 28v2m1-48v2m0 7v2m0 37v2m0 2v2m1-58v2m0 50v4m1-43v2m1 37v4m0 2v3m1-61v2m0 2v2m0 48v4m1-52v3m0 47v2m1-41v2m0 31v2m1 2v2m1-56v2m0 11v4m0 41v3m1-37v2m1 26v2m0 2v2m1-6v2m0 2v2m1-47v2m0 37v2m0 6v3m1-7v2m1-56v4m0 5v2m0 47v3m27-61v2m0 9v2m1-4v2m1-7v2m0 3v2m2-11v2m1 4v3m1-5v2m0 3v2m1-9v2m0 5v2m2-11v2m2 4v3m0 2v2m2-11v4m0 22v2m1-6v2m2-20v3m1-5v2m29-4v4m0 7v2m1-15v2m1 0v2m3-4v2m1 11v2m2 7v2m2-22v2m1-2v2m1 0v2m4-4v2m1-2v2m27 2v3m0 2v2m1-13v2m0 20v4m0 4v2m1-21v2m1-11v2m0 41v3m1-48v2m1 0v4m0 16v2m0 2v2m0 11v2m0 11v2m2-35v3m0 2v2m1-9v2m0 11v2m0 20v2m1-54v2m0 15v2m2-19v2m0 2v2m0 35v2m1-34v2m0 4v2m0 46v2m1-65v2m1-2v4m0 28v3m1-35v2m0 2v2m1 0v3m0 2v4m0 26v4m0 9v2m2-47v2m0 4v2m0 5v2m0 28v2m31-54v2m1-2v2m0 4v3m1-7v2m0 5v2m1-11v2m1 0v2m0 7v2m3-2v2m0 4v2m1-8v4m2-9v5m1-11v4m0 13v2m1-15v5m1 6v2m2-13v2m0 3v4m30 11v2m8-24v2m0 13v2m0 5v2m1-22v2m0 24v2m1-30v2m2-2v2m30 11v2m0 5v2m0 11v2m0 2v2m0 37v2m1-78v2m1 0v2m2 16v2m1-13v2m1-9v2m0 9v2m1-2v2m1 7v2m0 50v2m1-41v4m1-2v2m3-41v4m0 26v2m1-21v2m0 30v2m0 9v2m1-30v2m1-11v2m1-19v2m0 33v2m1-37v2m0 2v2m0 3v2m29-11v4m0 52v2m1-49v2m1-7v5m0 34v2m1-45v4m0 9v2m0 39v2m0 15v3m1-70v2m0 61v2m1-63v3m0 19v2m1-24v3m1-5v5m1-7v2m0 26v2m1-23v2m2 65v2m2-78v2m1 33v2m2-11v2m0 35v2m1-56v2m0 30v2m28-43v2m0 11v2m0 26v2m2-28v2m0 26v2m0 13v3m1-7v2m1-47v2m0 6v2m1-19v2m0 2v2m0 68v2m1-76v2m1 7v2m0 60v3m1-74v2m1 22v2m0 2v4m0 22v2m1 0v2m1-52v3m0 6v2m0 2v3m0 4v2m0 26v4m2-58v2m0 26v2m0 2v3m0 17v2m2-52v2m0 9v2m1-13v2m0 28v3m0 8v2m1-34v2m0 54v2m0 9v4m27-60v2m0 39v4m1-45v2m1-22v2m0 9v2m0 63v2m2-80v2m0 56v3m1-24v4m0 20v2m1-59v2m0 3v2m2-9v2m0 7v2m2-13v4m0 57v2m1-41v4m1-17v2m1-7v7m0 24v2m0 17v2m1 2v3m1-57v2m0 20v2m1-26v2m0 7v2m1 22v4m1-26v4m0 13v2m28-32v2m1 0v7m0 6v2m0 37v2m2-19v4m1-32v4m0 17v2m0 7v2m0 13v2m1-6v2m0 6v3m1-61v2m0 37v2m1-22v7m1-9v2m0 5v2m1-4v2m1-20v2m1 13v3m1-22v2m0 35v2m34-7v3m1-35v2m0 4v3m0 23v3m2-33v2m1-4v2m0 35v2m3-37v2m0 5v2m0 8v3m1-16v5m0 8v5m2-20v2m0 26v3m2-24v2m2 4v2m0 5v2m3 4v2m0 5v2m28-26v2m0 15v5m1-31v2m0 22v2m1-28v2m1-4v2m0 78v2m1-58v2m1-24v2m0 5v2m0 8v3m0 13v2m1-35v2m0 31v6m1-35v3m0 13v4m0 17v2m0 5v2m1 2v2m2-54v2m0 18v2m0 50v2m1-50v2m0 37v2m1-41v2m1 24v2m1-48v3m0 17v2m0 39v2m1-69v2m2 15v2m28-10v2m2 6v2m0 7v2m1-2v2m1 7v2m1-22v2m1-4v2m1-4v2m1-13v2m1 22v2m2 15v2m1-41v4m1 3v2m1 34v3m1-13v2m0 17v2m30-45v2m0 15v2m0 2v3m2 2v4m1-30v2m0 37v2m1 13v2m1-11v2m1-19v2m1-35v3m1-5v2m0 9v2m1-17v2m0 30v3m1-18v2m0 35v2m1-26v2m0 5v2m1-33v3m0 52v2m2-57v3m0 4v2m0 15v2m1-26v3m0 28v6m1-32v2m0 2v4m0 5v2m0 13v2m0 39v2m1-82v2m0 9v2m0 19v7m1-28v2m0 48v2m27-61v2m2-2v2m1 18v2m1 15v2m2-37v2m1-6v2m1 4v3m3 0v2m0 6v5m1 6v2m2-28v2m1-4v2m0 2v2m0 31v2m1 13v2m1-54v2m1-2v2m0 41v2m31-45v2m1 2v2m7 3v2m1-11v2m1 4v3m5 0v2m27-11v2m7-2v2m5-2v2m4 4v3m34-3v3m2-3v3m4-9v2m1-2v2m2 0v2m1 2v3m1-7v2m31-4v2m2 2v5m3-5v5m1-9v2m0 2v2m2 3v2m3-5v3m2-3v3m1-3v3m30-5v2m4-4v2m1 0v2m1-2v2m1-6v2m1-2v2m1 0v2m1-2v2m3-4v2m1 7v2m1-2v2m2-2v2m32-11v2m1 0v2m3-2v2m4-4v2m4 4v3m30 8v2m1-13v3m0 6v4m1-19v2m0 7v4m1-13v2m1 2v2m1-2v2m0 22v2m1-30v2m0 7v4m3-2v2m0 2v2m2-4v2m2-13v4m0 22v2m1-26v2m2-6v2m0 20v2m1-24v2m0 2v5m0 8v2m28-15v2m3 0v3m3-5v2m0 22v2m1-4v2m10-24v2m0 9v4m0 3v2m29 13v2m1-33v3m1 6v2m1 0v2m1-19v2m0 2v2m0 7v4m1-6v2m3-13v2m1 30v3m5-29v3m1-7v2m0 2v3m132-7v2m5-2v2"/><path stroke="#ff7b00" d="M411 26v4m1-2v2m1-4v4m1-4v2m1 0v2m1-6v2m1 0v4m1-6v2m2-2v2m1-2v4m1-4v2m0 2v2m1-4v4m1-6v4m1-2v2m1 0v2m2-6v2m0 2v2m1-4v4m28 5v2m1-5v5m2 0v2m1-7v7m1-7v3m1 2v2m1-7v3m1 2v2m1-2v2m1-7v5m1-5v3m0 2v2m2-7v5m1-5v3m1 0v2m1-5v3m1 2v2m1-7v3m27 2v2m0 2v2m1-4v2m1-4v2m1-2v6m1-39v2m1 35v2m1-4v4m1-6v6m1-6v6m1-4v4m1-2v2m1-2v2m1-4v4m1-6v2m0 2v2m1-4v2m1-2v2m1-37v2m29 31v4m1-2v2m2-6v2m0 2v2m2-2v2m1-6v6m1-2v2m1-4v4m1-4v2m1-4v2m0 2v2m2-4v4m2-4v4m1-6v2m1 2v2m1-6v2m1-2v4m34-39v2m2 4v3m37 34v2m1-41v2m0 33v2m1-2v2m0 2v2m1-6v2m1-32v2m1 32v2m1-4v2m1-4v2m0 2v2m2-4v4m1-2v2m1-6v4m1-2v2m1-2v2m1-4v2m0 2v2m1-39v3m0 34v2m3-6v2m0 2v2m27-34v2m0 17v2m0 5v2m1-28v4m0 20v2m1-31v3m1-5v2m0 29v4m1-11v2m0 7v2m1-7v5m1-24v2m0 11v4m1-28v2m0 9v4m0 18v4m2-7v3m1-29v5m1 6v2m0 3v2m0 8v3m1-35v2m0 11v2m0 20v2m1-31v3m0 23v3m1-3v7m1-7v5m1-26v2m1 2v2m1-6v2m0 2v2m0 18v2m28-31v3m0 8v2m0 33v2m0 4v3m1-55v3m1 2v4m0 2v2m0 33v6m1-58v2m0 13v7m1 28v2m1-2v2m0 6v3m1-61v2m1 7v2m0 2v2m0 35v2m0 4v2m1-56v2m0 46v4m0 4v3m1-57v2m0 18v2m0 32v3m1-57v2m0 5v2m0 6v5m0 28v4m0 2v3m1-44v2m0 37v5m1-11v4m0 2v2m1-8v2m0 2v2m0 2v3m1-3v3m1-11v2m0 6v3m1-7v4m1-54v2m0 44v2m0 4v2m1-45v2m0 2v2m0 3v2m0 26v8m30-52v3m0 6v2m2-6v2m0 17v2m1-15v2m1-2v2m1 3v2m3-5v3m1-7v2m3-8v2m0 11v2m0 4v2m2-17v2m28 7v2m1-9v4m2-19v2m0 20v4m1-20v3m0 4v2m1-6v2m2-9v2m0 11v9m2-24v2m0 9v2m5-11v2m31-4v2m0 7v2m0 11v4m1 9v2m0 21v3m1-29v5m1-26v2m0 2v2m2-4v4m0 18v4m0 11v2m0 2v4m1-58v2m0 13v2m0 2v3m0 2v2m1-26v2m0 4v5m0 6v2m0 3v2m1-15v6m1 7v4m0 6v5m1-28v2m0 45v2m0 7v2m1-54v2m1 20v2m0 2v6m0 13v3m2-57v2m0 5v2m1 17v2m0 11v2m0 7v2m1-32v2m0 26v2m0 6v3m0 2v2m1-59v5m0 4v2m0 35v2m0 4v5m29-52v8m2-8v2m2 4v2m0 5v2m1-26v2m0 2v2m0 11v2m3-15v2m0 9v2m3-11v3m1 4v2m1 2v2m0 3v2m1-15v2m0 2v2m1 7v4m1-17v2m0 11v2m1-7v2m1-6v4m0 5v2m27-15v4m2-9v2m1 5v4m1-11v2m0 11v5m1-18v2m0 9v4m0 3v2m3-22v2m0 31v2m1-24v2m1-6v2m1-2v2m0 4v2m0 2v5m1 4v2m1-19v2m2-9v2m0 9v2m1 2v3m29-20v2m0 20v2m0 6v3m1-35v2m0 13v2m2 0v2m0 7v2m1-9v3m1 15v2m0 13v2m0 9v2m1-11v2m1-52v2m0 7v2m0 22v2m1-26v6m1-6v2m0 11v6m0 33v2m1-54v6m0 9v2m0 11v2m1-34v4m0 15v7m2-22v2m0 17v3m0 21v2m0 3v2m3-50v4m0 2v3m0 2v2m1 2v2m0 7v2m1-37v2m0 24v13m29-32v2m2 43v2m1-41v2m1-6v2m0 63v4m1-67v2m0 11v2m0 2v2m1-15v5m1 32v2m1-52v2m0 3v2m0 39v2m1-52v2m0 2v2m0 13v3m0 2v2m0 2v2m1-24v3m0 4v4m0 24v2m1-28v7m1-13v2m0 19v2m0 7v4m1-41v2m1 18v4m0 4v2m0 5v2m0 35v2m1-76v2m0 9v2m1 2v2m0 5v2m0 8v3m1-35v2m27 9v2m0 17v2m0 7v2m0 4v3m1-31v5m0 8v2m1-28v2m0 9v4m2-2v2m0 5v2m0 6v3m2-22v4m1 0v7m0 41v4m1-50v3m0 2v4m0 7v2m1-26v2m0 15v7m1-33v2m0 31v2m0 13v2m0 17v2m0 11v2m1-75v4m0 9v2m0 8v3m1-35v2m0 28v7m0 13v4m0 4v3m0 8v2m0 3v2m1-67v4m0 11v2m1-15v4m0 22v2m0 4v2m0 11v2m1-43v2m0 35v2m2-48v3m0 52v2m0 15v2m1-63v5m0 2v2m28-24v2m1 50v2m1-50v3m0 8v2m0 7v2m0 2v2m1-4v7m0 28v2m0 2v2m0 2v5m1-63v2m0 2v2m0 24v2m0 5v2m0 24v2m0 2v2m1-24v3m0 6v2m1-69v2m0 13v2m1 22v2m2-6v4m1-33v9m0 54v2m1-36v4m1-28v4m0 26v4m0 18v2m1-30v2m1-22v2m0 11v2m0 2v5m0 13v2m1-17v2m1 2v2m1-41v2m0 7v2m0 56v2m0 9v2m28-78v2m1 31v2m0 2v2m1 4v5m2-31v5m1-15v2m0 4v2m0 2v3m0 2v4m1-6v2m0 4v2m0 7v2m0 2v2m1-43v2m1 0v4m1-2v2m0 5v2m0 45v3m1-16v3m1-46v2m0 18v2m0 2v2m0 7v2m1 17v2m33-52v2m1-2v2m0 5v2m0 22v2m1-33v2m0 3v2m0 4v2m1-17v2m0 7v4m0 4v2m1-6v6m1-15v2m2-4v2m1 11v2m4-15v2m2 9v2m1 20v2m1-37v4m1 5v4m28 6v3m1 30v4m3-34v4m2-22v2m0 22v2m0 2v3m0 17v2m0 2v2m1 3v4m1-54v4m0 17v3m0 36v3m0 8v2m1-84v2m0 7v2m0 6v5m0 17v2m0 4v3m0 15v2m1-54v2m0 9v2m0 2v4m2-28v2m0 7v2m0 28v2m0 28v3m1-61v2m0 7v2m0 8v3m0 8v2m1-45v2m0 2v2m0 3v2m0 8v3m0 6v2m0 37v2m1-37v5m0 2v2m0 4v3m0 21v2m1-69v2m0 24v2m1-30v2m0 4v3m0 10v3m0 2v4m1-4v2m0 4v2m0 7v2m29-39v4m1 7v2m0 4v3m0 34v2m1-41v2m0 31v2m1-37v2m0 5v2m0 17v2m1-30v2m1-15v2m0 7v2m0 17v2m1-21v2m1 4v2m2-13v2m1 11v2m0 11v5m0 13v2m1-50v2m1 2v2m0 33v2m1-37v2m0 33v2m1-35v5m0 2v2m0 2v5m0 8v2m0 11v2m1-30v2m2-17v2m27-2v4m1 5v2m0 11v2m0 6v2m0 48v2m1-54v2m1 44v4m1-63v2m0 2v3m0 2v2m0 13v2m0 17v5m0 8v3m1-74v2m0 26v7m0 8v2m0 5v2m0 6v3m1-50v2m0 17v2m1-15v5m1-11v2m0 4v2m0 5v2m0 4v2m0 3v2m1-2v2m1-31v3m0 2v2m0 6v5m0 37v2m1-11v2m2-35v3m2-9v4m0 26v2m1-36v2m0 41v4m1-54v2m1 63v2m27-65v2m3 3v2m1 8v3m0 15v2m4-26v2m1-9v3m0 13v4m2 9v6m1-15v2m0 2v5m3 6v7m31-48v2m2-2v2m1 0v2m3-2v2m2 0v2m1-4v2m1 2v3m2 0v2m3-7v2m31-4v2m2-4v2m2 0v2m1-4v2m3-2v2m8-2v2m33-2v2m8 0v2m4-4v2m33-2v2m44 2v2m8-4v2m5 0v2m38-2v2m8 0v3m29 4v2m0 7v2m0 2v2m1-24v2m0 5v2m0 9v4m0 2v2m1-8v2m1 0v2m2-15v2m0 17v2m1-15v2m0 18v2m1-9v2m0 3v4m1-24v4m1-15v2m1 13v5m2-24v2m0 11v2m0 4v3m2 10v3m2-29v3m1 6v2m0 2v5m1-13v6m0 2v3m27-16v3m1 2v2m0 17v2m1-32v4m0 13v2m2-6v2m0 4v3m1-18v2m0 7v2m1-4v6m1-8v4m3-11v2m0 15v3m1-22v4m0 2v3m0 2v2m1-11v2m0 9v6m0 3v2m1-13v2m4 11v2m1-17v6m27 22v4m1-15v2m1-19v2m1 2v2m1-11v2m0 5v4m0 4v3m1-11v2m0 9v2m1-18v5m0 2v2m2 37v2m2-45v2m0 2v2m0 9v2m1-2v2m1-22v2m124-6v2m13 2v2m2-2v2"/><path stroke="#f50" d="M411 24v2m6-2v2m8 2v2m1-6v2m34 6v3m3-3v3m9 2v2m1-4v2m35-33v2m8-6v2m1 35v2m2-2v4m1-41v2m29 33v4m2-2v2m5-4v2m2 2v2m2-4v2m80-37v2m2 0v2m2 37v2m6-39v3m2 32v2m2-34v2m29 2v2m3-15v2m1 28v2m2 3v2m1-33v2m0 16v2m0 4v2m1-11v5m0 13v2m2-20v5m1-13v6m1 0v2m2-17v2m2 26v2m1 0v3m1-26v2m0 17v2m28-8v2m2-9v2m0 33v2m0 6v3m1-39v4m1 28v2m3-56v2m0 13v2m2 2v5m2 26v4m2-52v4m0 3v2m0 6v2m0 37v2m3-58v2m0 50v2m2-30v2m28-11v7m1-9v2m0 2v2m0 11v2m4-19v4m1-6v2m2 2v2m3-6v4m0 2v2m0 9v2m1-15v2m0 9v2m2-22v3m0 4v2m1-13v2m0 11v2m0 2v5m30-5v5m3-9v2m1 2v3m1-9v4m0 5v2m3-11v4m0 7v2m2-22v2m5-4v2m1 0v2m1-6v2m28 41v5m0 2v4m1-28v2m0 2v2m2-19v2m1 15v2m1-26v3m0 13v2m0 19v5m0 4v4m1-30v2m0 22v4m1-28v4m0 2v3m0 8v2m1-36v4m0 24v6m0 11v2m1-54v2m1 52v2m0 5v2m1-28v2m1-7v3m0 4v2m0 4v3m0 6v2m1-30v2m0 2v2m1-17v2m0 28v7m0 2v2m0 7v4m2-28v2m1-15v2m0 39v2m29-47v2m0 4v2m2-21v2m0 13v4m1-13v2m4-4v2m0 7v4m1-26v2m0 2v2m0 7v2m1 0v2m0 2v3m0 8v2m1-6v2m1-11v2m2 5v2m1-15v2m0 6v3m0 4v2m1-15v2m1-6v2m0 4v2m31 11v2m0 2v3m1-13v2m2-18v3m0 15v2m2-9v5m1 0v2m2 2v2m2 4v3m3-29v3m0 17v2m0 2v2m1-8v2m1-26v2m0 7v2m0 6v2m27 26v5m1 17v2m1-63v3m0 6v2m0 24v2m1-37v3m0 30v2m0 4v3m0 21v7m1-61v4m1 50v2m0 9v2m1-76v3m1 13v2m0 4v2m1 5v4m0 26v11m0 2v2m1-69v2m0 30v5m0 4v2m2-52v2m0 44v2m1 13v2m2-65v2m0 2v2m0 24v9m0 22v2m1-41v2m0 15v4m2-24v5m0 43v4m1-45v2m0 46v2m29-31v7m1-52v2m0 2v2m0 31v2m0 32v3m1-22v2m0 2v2m0 11v2m1-28v2m0 29v2m3-22v2m0 7v2m0 2v2m1-50v3m0 26v2m1-35v2m0 2v3m0 6v2m1-28v2m0 11v4m0 16v4m0 2v2m1-21v2m0 11v2m0 39v2m2-24v4m3-49v2m0 13v8m1 9v2m1-30v2m0 2v2m0 3v2m0 6v5m0 2v2m27-7v7m0 22v2m1-52v2m0 22v2m0 8v3m1-35v2m0 39v2m1-37v5m0 11v4m0 9v2m1-35v2m0 46v4m1-52v2m0 2v3m0 2v2m1 30v2m0 9v2m1-67v2m0 24v4m0 3v2m0 26v2m1 2v2m0 9v2m0 2v2m1-80v5m0 30v2m1 22v6m1-8v2m0 4v2m0 13v2m2-71v4m1 18v2m0 8v3m0 6v2m0 7v2m1-46v3m0 2v2m0 6v3m0 19v2m1-28v4m0 9v4m0 37v2m1-60v2m0 22v2m1 11v2m0 2v2m27-58v2m0 17v7m0 2v2m0 4v2m1-28v2m1 5v2m0 35v2m0 2v2m0 7v2m1-41v4m0 11v4m1-19v2m0 13v2m0 24v2m1-11v2m1 0v2m1-34v2m0 13v2m0 2v2m1-6v2m2 15v5m1-46v7m0 41v4m1-78v4m0 9v7m0 30v2m1-35v5m0 26v2m2-30v2m0 6v2m1-26v3m0 13v4m0 13v2m1 0v4m0 7v2m1-13v2m0 7v4m0 11v2m0 7v4m28-54v2m0 11v2m0 4v2m0 3v2m1-7v2m1 5v2m0 2v2m0 2v5m1-15v2m1-35v2m0 18v2m0 6v5m2-18v5m0 30v2m1-19v6m1-32v2m1 39v4m1-67v2m0 13v2m0 35v2m1-11v5m0 4v2m1-9v3m0 2v2m0 6v3m1-24v2m0 11v2m32-46v3m0 2v2m2 17v2m0 3v2m1-24v2m0 9v4m1-9v3m0 4v2m1-17v2m1-4v2m1-5v3m0 6v2m0 5v2m0 2v2m1 4v3m1-7v2m5 2v7m1-2v2m1-33v3m0 21v2m1-19v2m1-9v3m0 19v2m27-6v2m0 48v2m1-59v2m1 11v2m1-21v2m0 32v3m1-35v2m1 37v2m0 4v3m0 6v2m1-19v2m0 6v5m2-2v2m0 4v4m0 5v2m1-48v5m1 15v4m0 28v2m1-73v2m0 19v3m0 2v2m1-7v3m1-35v2m0 26v2m0 5v2m0 8v3m1-35v2m0 11v2m0 4v3m0 10v5m1 11v4m2-56v4m1 22v2m29-31v3m1 43v2m1-43v2m0 35v2m0 6v2m1-28v5m0 17v2m1-35v3m0 10v3m0 17v4m1-26v2m1-17v2m2 5v2m0 2v2m0 7v2m1-37v2m0 52v2m1-54v7m0 19v2m1-11v5m0 8v3m0 2v2m1-24v2m1 5v2m0 2v2m0 4v3m1 17v2m1-48v9m2-2v2m27-2v4m0 18v2m1-37v2m1 72v2m1-20v2m0 3v4m1-2v2m0 2v2m2-28v4m1-45v2m0 11v4m2-4v2m0 4v5m1-15v2m0 13v2m0 2v2m1 15v7m1-22v2m0 39v3m1-46v4m0 37v2m1-45v4m1 50v2m1-39v5m2-46v2m28-2v2m2 7v4m0 20v4m3-37v2m2 7v2m3 0v2m0 17v3m1-11v2m1 26v2m4-22v3m0 26v2m31-59v2m8-4v2m7-4v2m134 2v2m35-4v2m13 5v2m45-5v3m29 21v2m0 5v2m1-4v2m1-22v2m0 5v2m0 2v2m1-17v4m1-2v2m1 4v3m1 10v3m2-22v2m0 9v2m1-11v2m1 13v2m2-23v2m0 24v2m1-24v2m1 13v2m1-17v2m1 15v2m28-23v2m0 11v2m0 4v2m1-8v2m1-20v2m1 5v2m2-4v4m0 4v2m1-10v2m0 13v4m0 2v2m2-26v3m1 2v2m1-9v2m0 20v2m1-19v2m0 6v5m0 4v2m2-28v4m0 5v2m1 4v2m4-13v5m27 26v2m1-2v2m0 2v2m2-30v2m3 2v4m4 3v2m1-20v2m1 3v2m1 19v2m3-17v2m1-17v2m123 0v2m8 0v2"/><path stroke="#ff2f00" d="M640 11v2m8-11v2m37 7v2m0 6v3m0 2v2m1 2v2m2-4v2m3-24v2m0 22v4m1-10v2m0 6v2m1-17v2m1 9v2m0 2v2m4-2v2m1-4v2m2 0v2m33-10v2m6 0v2m2-7v5m34-5v3m0 2v2m6 4v2m1-10v4m0 4v2m1-28v2m1-4v2m1 22v2m0 2v2m2-26v3m0 2v2m0 15v4m31-28v2m0 7v9m1 2v2m1-2v2m2-9v5m2-20v2m0 13v5m2-9v4m1-13v2m0 11v5m3-22v2m33 35v2m2-11v2m4-13v2m0 29v4m1 17v2m1-15v2m0 9v2m2-8v2m0 4v4m1-13v3m0 4v2m0 2v2m3-28v2m1 16v2m2-22v2m1 7v2m0 17v2m28-43v2m2 0v2m1-4v2m5-21v4m0 6v3m0 8v2m3-4v2m1-21v2m1 15v2m35-2v2m0 7v4m5-30v2m0 11v4m4-2v2m0 6v3m3-9v2m1 0v2m1-17v2m0 4v5m1-5v3m27 34v5m0 13v2m2-48v7m0 34v7m1-35v2m1 26v2m2-34v2m0 4v2m0 7v2m0 9v4m2-35v3m39 34v2m0 7v2m1-74v3m0 47v2m0 7v2m2-4v6m3-39v2m0 37v2m2-54v2m0 42v2m5-7v2m3 0v3m1-3v3m29-35v6m0 11v7m0 2v2m0 2v2m0 18v6m2-43v2m0 2v2m1-39v3m0 39v2m0 6v5m0 17v2m1-9v3m1-3v3m0 4v2m2-6v2m0 4v2m1-8v2m2-65v2m1 15v4m0 33v2m0 15v2m1-62v2m0 26v2m0 17v2m0 3v2m0 4v2m1-41v4m0 18v2m2-15v2m1-15v2m0 35v2m27-9v4m0 11v2m1-19v4m0 2v5m1-13v2m2 13v2m3-37v2m1-13v3m2-9v2m1 11v2m0 9v2m0 19v5m1-70v3m2 6v2m0 5v2m0 37v2m32-41v2m0 6v2m0 18v2m0 13v2m0 2v5m0 2v2m1-9v2m3-15v5m1-18v5m0 13v2m0 2v2m1 7v4m4-67v4m0 2v2m1 22v2m0 7v2m36-15v2m1-17v2m1-2v4m1 6v5m1-7v9m2-13v6m4-6v2m1-24v2m1 0v3m2 28v2m2-7v5m29-22v2m0 9v2m0 4v3m0 6v9m0 13v6m0 5v2m1-28v2m0 13v2m2 4v2m0 5v2m3-13v2m4 0v4m0 3v2m1-5v5m1-26v2m0 13v2m1-2v2m1 11v2m2-69v2m0 19v3m29-26v2m1 43v2m1-28v4m0 20v4m1-2v4m1-49v2m0 45v2m3-45v2m1-6v2m1 19v2m0 3v2m1 2v2m0 2v2m0 7v6m1-13v3m0 2v4m1-41v2m0 2v2m0 9v4m0 11v2m1-21v2m0 4v2m31-13v3m0 19v4m3-41v2m1 72v4m1-43v4m5-6v2m0 6v5m2 26v2m4-37v2m1-30v2m0 43v5m31-39v2m0 4v2m8 20v2m5-13v7m1-5v2m1 0v5m80-46v2m141-6v2m79 33v2m2-20v2m0 18v2m1-22v2m1-4v2m1-15v2m1 22v2m0 2v5m2-13v2m1-2v2m1 2v2m2 9v2m1-7v3m1-9v2m1-19v2m0 6v2m0 5v4m30-15v2m0 2v5m1-3v3m7-11v2m2 15v2m1-2v2m35 18v2m9-20v2m1-4v2"/><path stroke="#f30900" d="M645 9v2m43 17v4m4-4v2m1-2v2m43-28v2m6 2v3m40 19v2m2-15v2m0 9v2m39-6v4m11-22v2m36 57v2m0 2v4m1-13v7m1 4v2m1-13v5m3-57v3m2 58v2m4-4v2m30-39v2m1 0v2m14-21v2m74 58v3m1-9v2m1-6v2m1 2v4m44-21v6m0 13v4m2 9v2m43-24v3m0 21v2m6-10v2m5-44v5m0 4v2m0 37v2m32-2v2m3-24v3m0 6v2m4 2v5m1-22v2m6 9v2m32-4v2m6-11v7m46-31v2m41 46v2m11-11v2m2 11v2m2-43v4m38 11v2m2-10v2m1-15v2m44 32v2m5-32v6m0 11v2m1 7v2m30-39v2m315 7v2m6-4v2m98-9v2"/><path stroke="#c50000" d="M185 93v2m508-65v2m91-2v2m86 33v2m10 24v2m124-19v2m100-13v2m93 110v3"/><path stroke="#970000" d="M4 32v3m4-29v3m1 8v2m0 13v3m3 54v2m1-50v2m1 26v2m6-54v2m1 9v2m36-30v2m7 72v2m0 2v2m3-35v3m35-20v2m0 2v3m10 45v2m27-52v2m2 7v2m0 76v2m2-24v5m1-26v2m3 0v2m2 17v2m3-23v2m2 4v2m3-19v2m32-30v2m12-31v3m83 8v2m6 3v2m1-15v2m31 2v2m2 37v2m0 2v2m5-52v3m0 13v2m0 13v2m4 2v2m2 18v2m1-61v2m1 35v2m29-2v2m8 314v2m1-329v2m1-24v5m1-7v5m2-5v5m1 4v2m3-4v2m0 13v2m28 15v2m2-6v2m1-28v2m0 353v2m4-327v2m1-32v2m0 72v2m1-44v3m1-18v2m1 11v2m2 3v2m2-13v2m1 9v2m1-2v2m1-11v2m29-2v2m1 2v2m0 9v2m0 11v2m0 271v2m2-329v2m1 4v3m0 2v2m1-26v2m0 15v5m2 30v2m1-26v2m0 11v2m0 13v2m2-47v2m0 35v2m1 2v2m3-37v2m0 20v2m1-13v2m1-26v2m1-4v2m27 11v4m0 20v2m2-26v2m0 48v2m1 9v2m1-78v2m0 67v2m1-6v2m1-30v2m1-30v2m1 8v3m0 26v2m0 24v2m1-26v2m1-43v2m0 17v4m1-6v2m1-19v2m2 21v3m0 17v2m1 4v3m1-16v3m0 28v2m1-78v2m0 24v2m28-22v3m2-3v3m1 23v3m1-26v2m0 4v2m0 57v2m2-35v2m1-43v2m0 48v4m1-39v4m0 44v2m1 9v2m1-50v4m0 33v2m1-63v2m0 37v2m0 26v2m1-65v3m0 8v2m0 3v2m1 37v2m1-5v3m0 2v2m1-43v2m0 52v2m0 4v2m1-49v2m1 26v2m1-35v2m29-15v2m0 78v3m1-37v2m0 6v3m1-74v2m0 35v2m1 32v3m2-46v2m0 7v2m1-11v4m0 11v2m1 11v2m1-52v3m0 39v2m1-26v2m1-15v2m0 9v2m0 39v2m1-39v2m0 35v2m1-41v2m0 24v2m0 32v3m1-16v3m1-65v2m0 2v2m1 28v2m0 24v2m0 24v2m1-47v2m1-33v3m28-11v2m0 13v2m0 20v2m1 2v4m1 22v2m3-54v2m1-22v3m0 58v2m0 13v2m0 7v2m3-87v3m0 10v3m0 2v2m0 41v2m1 13v2m1-69v2m0 7v2m0 30v2m0 37v2m0 3v2m1-98v2m0 13v3m1 73v2m1-80v2m0 50v2m0 11v2m1-56v2m0 7v2m0 9v2m1-33v2m1 52v3m27-29v3m2-35v2m1 33v2m1 8v3m0 52v2m1-72v2m1-30v2m0 70v2m1-20v2m0 3v2m1-67v2m1-2v2m0 26v2m0 67v2m3-82v2m0 20v2m1 13v2m1-48v2m1 72v2m2-84v2m0 45v2m29-34v2m0 15v2m1-4v2m0 20v2m0 45v2m1-73v2m1 61v2m1-67v2m0 32v2m1-23v2m2-2v2m1-9v2m0 31v2m1-37v2m0 2v2m2-13v3m0 13v2m1-5v3m0 19v2m0 37v2m0 5v2m1-83v3m0 36v3m1-68v3m0 8v2m0 18v2m1 52v2m1-54v2m0 4v3m0 17v2m1-19v2m0 24v2m1-39v2m27-11v2m0 22v2m0 20v2m1-24v2m1-17v2m0 2v2m0 9v2m1-22v3m1-9v2m0 15v2m0 22v2m0 5v2m1-33v2m0 29v2m1-50v2m0 15v2m0 20v2m1-48v3m0 47v2m1-36v2m0 15v2m1-17v2m1 35v2m1-72v2m0 9v2m0 11v4m0 37v2m0 3v4m1-7v3m0 2v2m1-7v3m1 2v2m0 4v2m0 7v2m1-50v2m0 11v2m1-17v2m0 2v3m1-42v3m0 43v2m1-39v2m0 11v2m0 13v2m0 33v2m27-50v2m0 26v3m1 10v3m1 52v2m1-109v3m0 6v2m0 37v2m1-39v2m0 7v2m0 22v2m1-37v2m0 5v2m2-31v3m0 62v5m0 8v3m1-31v2m1-30v2m0 22v2m1-45v2m0 4v2m0 20v2m1-20v3m0 15v2m0 2v2m1-19v2m0 9v2m1-15v2m0 6v2m0 7v2m0 7v2m0 11v2m0 8v3m1-59v2m0 7v2m0 2v2m0 41v3m1-9v2m2-37v5m0 13v2m0 11v2m1-48v2m0 41v3m27 65v2m3-122v3m0 8v2m0 42v2m0 6v2m1-19v2m0 7v2m1 2v2m0 33v2m1-11v2m2-15v2m1-2v2m0 7v2m0 34v3m3-104v2m0 50v2m1-72v2m0 57v2m1-13v2m1 26v2m1-30v2m0 17v3m2-37v2m0 6v3m28 10v5m0 13v2m1-61v2m0 24v2m0 9v2m0 2v3m0 23v3m1-44v2m0 42v2m2-26v2m1-22v2m0 26v3m1-48v2m0 2v2m0 26v3m0 6v2m0 15v3m3-70v2m0 13v5m0 24v4m1-13v2m0 4v3m0 2v2m1-24v2m2 13v2m2-28v2m0 18v2m0 11v2m1-15v6m1-2v2m1-26v2m28 5v2m0 9v2m1-35v2m0 18v2m1 11v2m0 11v2m0 58v2m0 3v2m1-91v2m1 45v3m0 2v2m1-30v4m0 17v2m1-17v2m1 9v2m0 7v2m1-41v2m0 6v2m1-47v2m0 11v2m0 13v2m0 7v2m1-9v2m0 28v3m0 4v2m1-11v2m1-43v2m0 26v5m1-42v3m0 8v2m0 22v2m0 11v2m1-24v3m1-11v2m0 32v3m1-13v2m0 13v2m1-11v2m28-37v3m0 6v2m0 2v3m0 41v2m1-15v2m1 0v2m1-30v2m2 15v2m1-58v2m0 35v2m1-48v2m0 57v2m1-59v2m0 50v2m1 26v5m1 54v2m1 0v2m1-128v3m0 58v4m2-2v2m1-19v2m0 9v2m1-69v2m0 13v2m0 15v2m1 11v2m28-43v2m0 22v2m0 19v3m0 17v2m0 7v2m0 104v2m1-158v2m0 15v2m0 145v3m1-130v4m0 119v2m1-171v2m0 72v2m1-65v2m0 59v2m0 34v3m1-120v3m0 39v2m0 24v2m0 2v2m0 30v3m1-57v2m0 31v2m1-72v3m0 6v2m0 28v3m0 2v2m0 15v4m1-13v3m0 13v2m0 21v3m0 2v2m0 26v2m1-89v2m0 83v2m1-78v2m0 2v2m0 9v2m1-2v2m0 2v3m1-46v2m0 2v3m0 60v2m1-13v3m1-76v2m0 2v2m0 5v2m0 19v2m0 22v2m0 7v2m1-61v2m0 9v2m0 41v3m0 26v2m1-76v2m0 41v2m1 13v3m1-98v2m0 78v2m0 18v2m27 15v2m1-80v2m0 11v2m0 7v2m0 4v2m0 3v2m0 26v4m1 2v2m1-119v2m0 68v2m0 8v3m0 4v2m0 17v3m0 8v2m0 31v2m0 9v2m1-161v3m0 106v2m0 22v2m1-20v2m0 26v3m1-65v2m0 34v3m0 8v5m0 32v2m1-134v2m0 4v3m0 73v2m0 11v2m0 24v2m0 20v2m0 2v2m1-132v2m0 7v2m0 20v2m0 2v2m1-28v4m0 28v3m0 13v2m0 13v2m0 4v2m1-130v3m0 173v2m0 2v2m0 13v3m0 15v2m1-106v2m1 4v2m0 31v2m0 48v2m0 2v2m0 9v2m0 9v2m1-132v2m0 6v2m0 20v2m0 17v5m0 63v2m0 21v3m0 4v2m1-158v4m0 2v3m0 32v2m0 7v2m0 22v2m0 8v3m0 54v2m0 2v2m1-117v2m0 9v2m0 33v2m0 69v2m1-190v2m0 2v2m0 20v2m0 11v2m0 56v2m0 29v2m0 8v3m0 32v2m1-195v2m0 33v2m0 50v2m0 61v2m0 13v2m1-108v2m0 22v2m0 28v2m0 48v2m28-158v2m0 50v2m2-52v2m1-37v2m0 20v2m4 61v2m2-9v2m1-30v2m1 2v3m0 10v3m1-35v2m0 35v2m1-65v2m0 69v5m0 56v2m1-89v3m0 78v2m1-76v2m0 7v2m0 76v2m1-76v2m1 50v2m0 2v2m0 35v2m28-73v2m0 11v2m1-44v3m0 8v2m0 5v2m0 26v2m1-50v2m0 13v3m0 2v2m0 48v4m1-72v3m0 45v2m0 26v2m1-82v2m0 44v4m0 26v4m1 5v2m1-61v4m0 42v2m1-132v2m0 125v3m0 2v2m1-91v2m0 2v2m0 37v2m0 31v2m0 11v2m0 9v2m1-104v2m0 17v2m0 31v2m0 41v2m0 22v2m1-132v2m0 17v3m0 8v2m0 16v2m0 11v2m0 13v2m0 9v2m0 13v2m0 4v2m0 16v2m1-109v3m0 34v2m0 52v3m0 10v3m1-44v2m0 37v2m0 7v2m0 7v2m1-171v2m0 4v2m0 130v2m1-54v2m1 48v2m0 7v2m1 30v2m2-26v3m0 10v3m0 19v2m27-171v2m0 18v2m0 4v2m0 26v2m0 7v2m0 15v2m0 3v2m2-44v3m0 6v2m0 33v2m1-46v3m1-39v2m0 50v2m0 15v2m1-63v2m0 42v2m0 34v3m1-83v2m0 9v2m0 28v3m1-35v2m0 35v2m0 4v2m1-58v4m1 33v2m0 4v2m0 31v2m1-104v2m0 2v5m0 2v2m0 11v2m0 63v2m0 9v2m1-104v2m0 2v2m0 22v4m0 39v2m0 29v2m1-50v2m0 20v2m1-52v2m0 22v2m0 21v3m0 6v2m1-73v2m0 19v2m0 24v2m0 11v2m1-73v2m0 28v2m0 18v2m0 6v2m1-39v3m0 58v2m1-73v4m0 32v3m0 10v3m1-16v3m27-59v2m0 46v2m1 15v2m2 46v2m1-87v2m0 42v2m0 6v2m0 18v2m1-87v2m0 16v2m0 43v2m1-11v3m1-20v2m2 33v2m1-28v2m0 6v3m0 4v2m0 85v2m1-111v2m1-34v2m0 11v2m0 15v2m1 5v2m0 13v2m1-43v2m1-28v2m0 45v2m0 42v2m1-11v4m0 15v3m1-37v2m29-46v3m0 13v2m0 2v2m0 13v2m1-30v2m0 22v2m0 2v2m0 2v5m1-18v3m2-50v2m0 15v2m0 39v2m1 3v2m0 11v2m1-15v2m0 24v2m1-70v3m0 8v2m0 50v2m1-69v2m0 39v2m1-34v2m0 54v2m1-28v2m0 2v3m0 15v2m0 4v2m1-32v2m1 24v2m1-48v3m0 13v2m0 6v2m0 7v2m0 20v2m1-50v2m0 7v2m1 11v2m1-44v3m0 54v2m1-74v2m0 3v2m0 17v2m0 5v2m0 2v2m0 2v2m28-10v2m0 6v2m2 18v2m0 4v2m3-8v2m0 6v3m0 2v2m0 4v2m1-34v2m1-17v2m0 19v2m2-34v2m0 2v2m0 13v2m0 29v2m0 13v2m1-15v2m0 13v2m1-30v2m1-4v2m1-67v2m0 39v2m0 2v2m0 44v2m1-93v2m0 6v2m0 39v3m1 0v2m1-7v2m0 3v2m0 6v2m1-54v2m1 55v2m0 19v2m0 13v3m27-98v2m1 7v2m0 4v2m0 29v2m0 2v2m1-63v2m0 7v2m0 2v2m0 37v7m1 4v2m0 31v2m1-91v2m0 30v2m0 5v2m0 37v2m1-87v2m0 11v2m1-4v2m0 22v2m0 7v2m1-35v2m0 15v3m0 8v2m0 7v2m0 11v2m0 11v2m0 4v3m1-70v2m0 33v2m0 4v3m1-9v2m0 13v2m0 44v2m2-50v2m1-28v2m0 4v3m0 28v2m1-56v2m0 30v2m0 7v2m0 2v2m0 37v2m1-78v2m0 7v2m0 9v2m0 2v2m0 31v2m1-13v2m1-50v2m0 2v3m1-33v2m0 15v3m0 15v2m0 43v2m29-39v5m0 2v2m0 11v2m0 20v2m1-59v2m0 61v2m0 5v2m1-74v2m0 50v4m0 16v2m1-44v3m1 2v2m1-48v2m0 24v2m0 20v2m0 28v2m1 7v2m1-100v3m0 2v2m0 6v3m0 6v2m0 26v2m0 20v2m1-48v3m0 8v2m0 5v2m0 6v3m0 4v2m0 2v2m0 13v3m0 28v2m1-95v2m0 78v2m2-46v3m0 4v2m1-52v2m1 9v2m0 54v2m0 7v2m1-71v2m0 8v3m0 8v2m0 13v3m2 6v2m1-54v2m0 41v3m0 15v2m1-67v4m0 69v3m28-29v3m0 6v2m0 18v2m1-22v2m0 22v2m2-71v2m0 6v2m1-13v3m0 45v2m1-39v2m0 31v2m1 4v2m0 16v2m1-54v2m0 43v2m1-50v5m1 43v2m1-28v2m1-8v2m0 2v2m0 2v2m2-49v2m0 54v4m1-52v2m1 52v3m0 8v2m1-75v2m0 11v2m0 32v2m1-39v5m0 17v2m27 37v2m1-63v3m2 36v3m0 8v2m3-43v2m1 61v2m1-69v2m1 2v2m0 41v3m2-26v2m2-44v3m1 13v2m0 52v2m1-48v2m0 16v2m1-41v2m0 56v2m0 11v2m2-30v2m29-37v2m1-13v3m0 30v4m0 48v2m1-48v3m0 2v2m1-39v2m0 7v2m1 6v2m0 5v2m0 26v2m2-43v2m0 26v2m0 7v2m1-15v2m1-22v2m1 59v2m3-91v2m0 17v3m0 19v2m0 18v2m1 6v2m2-62v2m0 30v2m0 7v2m1-39v2m0 54v2m1-71v2m0 41v2m29 18v2m1-50v2m0 61v2m2-52v2m0 24v2m0 5v2m1 21v3m2-61v2m0 39v2m2-4v2m1-61v3m1 45v2m1-41v2m3 22v2m1-24v2m1-8v2m27 6v3m0 32v2m1-13v5m0 4v2m1 7v2m0 2v2m0 20v2m4-20v2m0 115v2m2-175v2m0 37v2m0 15v2m1-56v2m0 41v3m0 10v3m1-72v2m0 39v5m0 2v2m0 141v2m1-180v2m0 9v2m0 4v3m0 2v2m0 165v2m2-132v2m2-65v4m0 28v2m0 3v2m1-39v2m0 4v2m0 31v2m2-52v2m0 76v2m28 2v2m1-36v2m0 4v2m0 5v2m1-7v2m0 24v2m1-28v2m2-36v2m1 45v2m2 5v2m2-43v2m0 21v3m2-7v2m0 2v3m1-18v2m1 13v3m1 8v2m1-21v2m29-2v2m0 4v2m1-2v2m1-8v2m0 15v2m4 11v2m1-50v3m1-5v2m0 26v3m1-31v2m0 5v2m0 26v2m3-9v3m3-50v2m0 9v2m0 41v2m1-37v2m0 5v2m2-11v2m0 7v2m0 26v2m27-43v2m0 37v4m2-39v2m1-13v2m2 42v2m1-2v2m1-37v2m1-19v2m0 4v2m0 9v2m0 30v3m1-9v2m0 17v3m2-52v2m1-2v2m2 19v2m0 29v2m3-48v2m1-8v2m0 2v2m0 46v2m28-31v3m1-39v4m1 22v2m1-24v2m0 61v2m1-43v2m0 8v5m1-7v2m1-43v2m0 15v3m0 39v2m0 2v2m1-4v2m3-37v2m1 7v2m0 24v2m1-41v2m1-9v2m1 26v3m1-42v3m0 62v3m1-48v2m1 11v2m31 22v2m2-26v2m0 11v2m2-19v2m4-7v2m0 24v2m2-56v2m0 48v2m2-50v2m1 37v2m2 5v2m27-20v3m1-18v2m0 16v2m2 11v4m1-43v2m4 41v2m3 4v3m2-16v3m1 10v3m2-61v2m1 30v3m1 10v3m28-42v3m3 45v2m1-43v2m0 9v2m2-15v2m0 39v2m1-50v2m1 3v2m0 45v2m1-32v2m2 22v2m1-46v3m1 8v5m32 15v2m2 9v2m1-7v2m1-39v3m1 10v3m2-16v3m1 36v3m1 8v2m1-8v2m1 6v3m1-42v3m6 32v2m28-6v2m2-43v2m1 17v2m0 9v2m0 7v2m2-11v2m10 7v2m2-11v2m43-26v4"/><path stroke="#800000" d="M4 50v2m1 2v2m0 31v4m1-69v8m0 26v2m1-8v4m2-43v6m0 9v6m2-32v2m0 30v3m0 4v4m0 18v2m1-59v5m0 19v2m0 2v3m0 13v2m0 28v9m1-87v4m0 35v2m0 7v4m0 6v5m1-52v2m0 6v5m0 37v8m0 2v3m1-42v3m1-24v2m0 17v2m0 11v2m0 48v2m1-84v6m2-17v2m0 13v2m0 13v5m1-16v3m1 0v4m0 4v5m0 30v4m28-47v8m1-6v2m1 28v2m1-24v3m0 8v7m1-46v5m0 23v5m0 30v2m3-69v2m0 15v7m0 60v3m1-85v2m0 41v5m2-37v2m0 11v4m1 11v2m0 20v4m2 7v2m2 0v2m3-37v4m28 33v4m1-82v2m0 65v7m0 6v7m3-3v3m3-57v2m0 3v2m0 32v5m1-9v2m0 2v2m0 11v2m1-56v7m0 19v7m0 32v2m1-95v9m0 45v2m1 22v2m1-39v4m0 29v2m1-28v2m1-41v2m0 30v4m0 5v2m3-30v4m27-4v8m0 28v3m0 8v7m0 34v5m2-100v9m0 17v2m1 57v4m1-4v2m1-31v3m1-44v5m0 8v11m1-28v2m0 9v2m0 13v4m1 22v4m1-8v2m0 21v5m1-89v4m0 33v2m1-26v9m0 54v4m2-80v4m0 18v2m0 34v3m1-7v7m1 8v5m0 23v7m1-93v6m2 31v2m28-9v7m1-48v2m0 2v7m0 71v2m1-93v5m1 4v6m0 11v2m0 42v4m1-48v5m0 41v2m2-20v3m1-52v4m0 71v3m2-24v2m1-33v3m1-33v7m0 17v2m0 11v6m0 13v3m0 10v3m1-61v2m1 69v3m1-24v4m1-63v2m1-2v2m0 3v2m0 8v3m0 67v4m1-32v6m28-41v2m0 37v2m1-19v2m5-35v2m1 67v3m2-78v2m0 24v4m1 15v2m1 22v2m2 273v9m0 2v4m1-338v2m0 319v2m0 2v9m1-299v4m0 13v2m0 280v4m1-17v4m0 11v4m1-17v13m28-362v5m0 30v4m0 321v4m1-368v2m0 340v5m0 19v2m1-286v5m0 253v4m1-4v2m0 2v3m2-336v4m0 28v5m0 2v6m2-47v2m0 34v3m0 6v2m1-41v9m0 8v3m1 62v3m4-70v7m2-22v7m0 2v4m0 13v4m1-39v3m0 13v2m1 8v3m1 62v3m28-89v2m0 15v9m1-22v4m1 20v2m0 17v5m1-41v4m0 13v2m1-32v2m0 19v7m0 2v2m1-19v6m1-9v5m1 6v5m1-18v5m0 2v4m0 7v2m2-33v2m0 48v2m1-26v5m0 21v5m1-39v4m0 17v5m2-26v4m0 30v5m1-57v7m0 4v2m1-17v2m0 7v2m0 15v11m1-37v2m0 2v5m0 30v2m1-37v7m0 8v5m27 34v3m0 279v4m0 3v2m1-349v2m0 89v2m0 247v7m0 17v2m1-347v3m0 4v4m0 310v7m1-347v4m0 33v4m0 9v2m0 288v7m1-7v7m1-321v2m0 312v4m0 37v5m1-386v11m0 6v2m0 3v2m0 316v9m0 8v7m1-364v6m0 347v9m0 8v11m1-372v4m0 327v7m1-341v3m0 15v2m0 4v2m0 308v7m1-343v2m0 33v2m0 15v2m0 11v2m0 269v7m1-347v2m0 7v2m0 4v4m0 3v4m0 13v2m0 28v5m0 17v4m0 245v4m0 72v2m1-405v2m0 2v5m0 2v2m0 65v4m0 245v4m0 7v2m0 54v11m1-396v2m0 2v4m0 310v7m0 69v2m1-409v4m0 2v2m0 37v2m0 15v3m0 21v2m0 243v7m0 69v2m1-405v9m0 6v2m0 310v7m0 69v2m1-407v4m0 2v7m0 56v2m0 258v4m0 55v2m0 4v2m0 7v4m1-399v3m0 6v13m0 2v2m0 9v2m0 284v7m0 13v8m0 18v2m0 2v2m0 24v2m1-401v2m0 11v5m0 305v7m1-7v4m0 7v11m26-347v2m0 35v2m0 4v3m0 10v3m0 264v2m0 2v5m0 34v2m1-361v4m0 13v4m0 2v3m0 283v11m0 22v2m0 2v7m0 4v2m1-375v7m0 9v4m0 48v2m0 247v6m1-320v4m0 2v4m0 3v2m0 43v2m0 254v6m0 24v2m0 7v2m0 19v3m1-380v5m0 2v4m0 304v8m1-323v5m0 2v2m0 4v5m0 8v13m0 280v2m0 37v4m1-355v2m0 4v5m0 17v11m1-46v18m0 11v2m0 8v3m0 4v2m1-39v4m0 11v5m0 30v9m0 15v2m1-80v13m0 19v2m1-39v9m0 20v2m0 4v7m1-26v2m0 21v9m1-48v11m0 20v2m0 9v2m1-18v3m1-16v3m0 13v4m1 19v9m0 11v2m1-69v2m0 6v5m0 2v2m1-15v2m0 17v3m0 10v3m1-37v2m28-11v9m0 2v2m0 2v2m0 24v5m0 4v4m0 41v3m0 227v2m1-307v2m0 2v2m0 22v11m0 10v9m0 20v2m0 221v6m1-290v4m0 280v4m1-308v3m0 2v4m0 7v2m0 4v2m0 5v4m0 4v2m1-19v6m0 52v5m1-63v2m0 9v4m0 4v5m0 2v2m0 4v5m1-72v2m0 5v2m0 2v2m0 22v4m0 2v3m0 2v2m1-52v4m0 5v6m0 20v2m0 2v4m0 2v3m0 6v2m0 7v6m1-67v2m0 7v6m0 65v2m1-84v6m0 9v2m1-8v4m1 13v2m0 22v8m0 9v4m1-71v9m0 6v2m0 37v2m0 5v2m0 37v4m1-104v6m0 9v2m0 9v6m0 7v6m1-21v4m1-22v5m0 4v2m0 5v4m0 26v4m0 9v2m1-63v5m0 2v4m0 33v8m0 5v2m1-39v8m0 16v2m1-50v2m0 2v2m27 5v4m0 28v2m0 5v2m1-46v11m0 2v7m0 4v5m0 21v9m1-56v2m0 24v2m0 13v2m0 4v7m0 4v2m0 2v5m0 4v2m1-82v4m0 2v7m0 9v2m0 4v7m0 17v4m0 2v5m0 4v2m0 5v2m0 2v2m1-6v4m1-76v2m0 2v7m0 9v2m0 11v2m0 13v2m0 9v2m1-44v9m0 24v4m0 5v2m0 39v2m1-82v4m0 6v5m0 13v2m1-17v2m0 17v2m0 2v3m0 2v4m1-15v2m0 2v7m0 30v2m1-84v8m0 3v2m0 8v5m0 8v3m0 2v2m0 2v4m0 7v6m0 3v2m1-59v7m0 50v2m1-20v5m1-44v2m0 3v6m0 7v2m0 8v3m0 4v2m0 7v6m1-65v2m0 11v2m0 39v7m0 4v2m0 2v3m0 4v2m1-80v2m0 11v4m0 18v2m0 6v2m0 26v11m0 258v7m0 19v2m1-349v5m0 6v2m0 16v4m0 22v2m0 258v2m0 6v5m1-343v2m0 5v6m0 35v2m0 9v6m0 2v5m0 290v4m1-353v2m0 3v2m0 6v5m0 36v9m0 251v3m0 10v3m0 17v2m1-35v3m0 4v2m26-331v6m0 20v2m0 4v2m1-39v9m0 2v9m0 17v4m0 24v2m1-67v2m0 3v2m0 8v5m1-20v7m0 4v2m0 31v2m1 2v2m0 7v8m1-52v2m0 3v6m0 2v2m0 20v2m0 4v3m0 4v4m0 9v2m0 15v2m1-80v2m0 3v6m0 2v2m0 20v2m0 4v3m0 2v6m1-63v7m0 4v2m0 7v4m0 11v4m0 9v2m0 9v13m0 17v2m1-47v8m0 7v2m0 9v2m1-56v6m0 4v3m0 23v3m0 2v4m1-22v5m0 19v7m0 15v9m0 2v2m1-104v2m0 13v2m0 13v5m0 15v4m0 7v8m0 2v3m1-74v2m0 2v2m0 3v2m0 8v3m0 2v2m0 6v5m0 8v3m0 4v2m0 4v5m1-59v2m0 3v2m0 2v4m0 24v2m0 5v2m0 13v2m0 2v2m0 11v2m0 26v2m1-99v4m0 2v9m0 6v3m0 13v4m1-46v9m0 37v2m0 9v4m0 2v5m0 10v5m0 4v2m1-89v5m0 4v4m0 5v2m0 4v2m0 5v2m0 2v2m0 11v2m0 2v5m0 2v2m0 11v4m1-63v5m0 2v4m0 2v3m0 4v2m0 20v2m0 2v2m0 13v2m1-37v3m0 2v4m0 4v3m0 6v2m28-47v4m0 11v4m0 2v2m0 42v2m0 2v2m1-74v3m0 78v4m1-100v5m0 26v4m0 6v9m0 7v2m0 4v4m0 7v4m0 22v2m1-104v2m0 11v9m0 4v2m0 9v2m0 2v5m0 4v6m0 24v9m1-89v2m0 7v4m0 4v9m0 41v2m1-67v2m0 7v6m0 7v2m0 2v5m1-29v3m0 2v2m0 17v7m0 2v4m0 7v2m0 19v3m0 45v2m1-108v4m0 18v8m1-19v4m0 15v13m0 2v5m0 6v2m0 7v2m0 2v2m1-67v5m0 10v7m0 11v2m0 4v2m0 9v2m0 5v4m0 26v4m1-71v11m0 21v2m0 48v4m1-106v5m0 2v2m0 6v3m0 34v2m0 5v2m0 37v2m1-106v4m0 2v2m0 9v2m0 5v2m0 6v13m0 2v5m0 13v6m0 9v4m1-95v4m0 2v5m0 15v6m0 20v6m0 9v4m0 7v6m0 31v2m1-78v4m0 2v7m0 17v2m0 3v2m0 8v3m0 26v4m1-100v2m0 9v9m0 4v7m0 21v9m1-54v6m0 7v6m0 7v2m0 19v7m0 13v4m0 2v3m1-94v3m0 4v9m0 26v2m0 2v2m0 9v6m1-65v2m0 22v2m0 7v2m0 4v11m0 2v5m0 4v4m27-65v11m0 9v8m0 3v6m0 9v2m0 39v4m1-34v8m0 2v3m1-55v5m0 2v2m0 4v3m0 26v6m0 4v3m0 4v2m0 11v4m1-95v2m0 50v4m0 7v2m0 2v2m1-37v3m0 23v5m0 2v4m0 20v2m0 4v2m1-36v6m0 2v2m1-69v2m0 18v4m0 2v4m0 42v2m0 4v2m0 9v4m0 20v2m1-59v5m0 2v2m0 20v4m0 4v2m0 13v3m1-104v2m0 13v11m0 2v2m1-35v2m0 18v2m0 4v5m0 19v4m0 7v2m0 11v4m0 9v2m1-24v2m0 11v5m1-81v3m0 6v4m0 3v2m0 6v5m0 21v5m0 2v6m0 2v3m0 4v4m1-69v2m0 33v8m0 2v3m0 13v8m0 2v3m1-74v4m0 26v2m0 5v2m0 9v2m0 6v2m0 9v2m1-82v4m0 11v2m0 35v9m0 17v2m0 2v2m0 7v4m0 2v5m0 6v5m1-102v4m0 74v2m1-78v4m0 18v2m0 13v4m0 2v2m0 20v9m0 6v2m1-91v2m0 5v6m0 33v2m0 32v3m0 6v2m0 2v5m1-96v5m0 2v2m0 7v2m0 4v11m0 11v2m0 2v7m0 8v2m0 3v2m0 4v4m0 20v4m27-93v2m0 35v9m0 10v3m1-59v4m0 7v4m0 22v4m0 9v2m1-52v4m0 59v4m0 15v5m0 4v4m1-58v2m0 46v2m0 11v2m1-63v6m0 44v4m1-104v2m0 2v5m0 41v2m0 7v4m0 17v2m1-75v2m0 13v2m0 4v5m0 17v6m1-28v2m0 20v9m0 21v5m0 6v2m0 2v3m1-83v2m0 33v2m0 48v6m1-56v4m0 37v2m1-63v3m0 2v6m0 44v2m1-37v2m1-2v4m0 26v2m1-32v4m0 9v6m0 22v2m0 7v2m1-52v2m1-37v5m0 2v2m0 26v6m0 20v4m0 7v2m1-78v4m0 15v3m30 34v2m0 29v2m1-93v2m1-7v2m0 63v2m1-67v5m0 17v2m0 33v2m0 2v4m1-63v3m0 19v7m0 36v9m0 22v2m0 6v5m2-46v7m0 21v7m1-35v5m0 8v2m4-15v5m0 4v2m0 15v2m0 5v2m1-98v3m0 17v9m0 34v2m0 11v5m0 15v2m1-35v2m0 3v2m0 13v2m0 11v4m1-37v2m0 24v5m1-31v5m1-61v4m1-4v4m1-6v2m0 65v2m0 22v4m27-50v9m0 22v4m1 13v2m1-74v3m2-33v2m0 5v2m0 4v2m1-8v2m0 2v2m0 72v4m0 4v2m1-28v5m1 13v4m0 6v7m2-100v2m0 5v2m0 19v3m0 88v3m1-115v2m0 76v4m1-6v4m1-59v3m0 34v2m0 3v2m0 2v2m0 13v7m1-68v3m0 67v2m1-72v3m0 52v4m0 2v2m0 26v5m1-94v3m0 52v2m0 21v3m1-113v2m0 2v2m0 11v2m0 13v3m0 52v2m1-20v11m0 11v2m1-6v4m29-22v9m0 41v2m3-119v2m1 5v4m0 56v9m0 11v4m0 20v2m2-109v7m0 17v5m0 34v7m0 15v6m1-28v5m0 30v4m0 13v2m1-112v4m1 76v4m2-26v2m5 18v4m0 13v2m27-76v3m1-22v2m0 39v4m0 3v2m0 32v2m1-91v3m0 54v6m1-56v2m1 0v2m0 52v2m1 16v4m0 11v6m1-21v4m0 2v2m0 18v4m2-80v4m0 46v2m1-24v4m0 20v6m1-8v4m1-56v6m0 26v2m0 2v9m0 13v11m1-87v5m0 2v2m0 39v4m0 18v2m1-72v5m0 26v4m1-11v2m0 5v2m0 19v5m1 13v10m0 20v4m1-34v4m0 11v2m1-72v3m0 41v8m0 9v2m0 13v2m0 9v7m1-124v2m0 24v7m0 19v2m0 15v9m0 17v3m28-68v3m1-31v2m0 7v4m0 15v3m0 52v2m1-80v2m0 4v2m0 72v2m0 22v4m1-106v6m1 2v5m0 8v3m1-5v5m0 52v4m0 9v4m0 11v2m2-117v2m0 11v4m1 11v2m0 2v3m0 52v2m0 2v2m1-91v2m0 11v2m0 70v2m0 2v2m1-91v2m0 28v3m0 52v4m1-59v3m1-20v2m1 11v2m0 2v3m0 34v9m0 26v2m1-74v3m1 34v9m0 37v2m1-85v5m0 6v7m0 52v2m1-35v9m0 26v4m1-11v3m27-31v11m0 28v2m1-97v4m0 35v2m0 9v15m0 2v2m0 22v4m1-106v2m0 2v3m0 4v2m1 54v9m0 15v2m0 24v2m0 18v2m0 13v2m1-87v7m0 4v4m0 9v9m0 17v9m0 24v2m1-67v2m0 2v4m0 28v7m1-130v2m0 13v2m0 20v6m0 7v2m0 69v7m0 13v4m1-128v7m0 6v5m0 52v4m0 6v5m1 4v2m1-93v2m0 54v11m0 20v2m1-9v7m1-33v2m0 3v4m0 24v4m1-19v6m0 11v4m1-39v2m1-62v2m0 2v4m0 70v4m0 17v2m1-82v7m0 34v2m2-65v3m1 4v4m0 18v6m0 2v2m0 55v2m0 4v2m27-26v5m1-35v2m0 2v2m0 7v2m0 13v9m1-80v4m0 39v6m1-34v2m0 24v8m0 48v4m1-97v2m0 67v5m1-74v4m0 65v9m1-63v7m0 13v4m0 35v2m0 4v7m1-70v2m1 72v2m2-84v2m1 11v2m0 6v2m0 59v2m0 15v2m0 18v2m1-78v4m0 52v2m0 20v2m1-108v2m0 4v2m1 18v6m0 18v4m0 54v2m1-134v2m0 4v3m0 6v2m0 2v3m0 10v7m0 35v2m2-78v2m1 74v4m0 17v2m28-101v2m0 4v7m0 30v4m0 5v2m0 26v8m0 94v2m0 4v2m1-186v4m0 63v11m0 2v4m0 100v4m0 3v4m1-173v2m0 50v4m0 108v9m0 9v2m1-204v2m0 18v6m0 63v6m0 3v2m0 4v2m0 2v3m0 2v8m0 13v3m0 2v4m0 39v7m0 21v2m1-145v5m0 17v2m0 22v6m0 5v10m0 55v4m1-126v5m0 26v2m0 4v2m0 24v2m0 9v4m1-39v2m0 20v6m1-149v2m0 2v2m0 81v6m0 13v4m0 7v2m1-89v5m0 69v2m0 13v2m0 18v2m0 13v2m0 2v2m1-56v4m0 9v2m0 37v2m1-145v2m0 35v2m0 52v6m0 33v4m0 5v2m1-104v2m0 54v2m0 2v3m1-81v3m0 52v10m0 26v3m0 6v7m0 4v2m1-58v10m0 7v2m0 7v2m0 6v5m0 17v6m1-45v4m0 18v4m0 19v7m1-143v4m0 102v2m0 18v4m0 15v2m1-147v2m0 30v7m0 17v2m0 9v7m0 49v3m0 13v4m1-108v8m0 9v2m0 59v2m0 11v2m0 4v2m0 5v2m1-135v3m0 28v4m0 11v2m0 20v8m0 44v2m27-93v2m0 37v4m0 4v5m0 2v2m0 52v2m1-110v2m1 123v2m0 9v2m1-121v4m1 124v2m1-173v2m0 52v2m0 6v3m0 104v4m1-169v2m0 2v5m0 17v4m0 20v4m0 4v3m0 93v4m0 2v5m1-107v3m1-83v2m0 5v2m0 71v3m0 121v2m0 2v2m0 3v2m1-171v4m0 32v3m0 125v5m0 4v2m1-206v2m0 65v3m1-50v2m0 45v3m1-50v2m0 6v3m0 36v3m0 26v8m0 54v11m0 5v2m0 2v2m0 9v2m0 17v2m0 11v2m1-156v3m0 147v6m1-156v3m0 121v4m0 2v3m0 4v2m0 20v2m1-72v11m0 24v6m0 9v7m0 10v7m1-208v2m1-24v5m0 45v4m0 13v3m1-5v5m0 127v11m27-167v5m0 21v3m0 19v4m1-110v2m0 26v7m0 52v2m1-61v7m0 67v2m2-52v4m1-45v2m0 82v2m1-86v2m1-2v4m0 65v4m1-71v4m0 28v5m1 32v5m1-70v7m0 30v7m0 19v2m0 2v7m0 4v2m1-52v5m0 45v5m1-61v2m0 4v5m1-18v3m0 30v4m0 20v6m0 50v2m0 5v4m0 22v6m1-139v5m0 17v2m0 20v8m0 7v4m0 39v5m0 4v2m0 7v6m1-154v2m0 33v6m0 11v5m0 23v3m0 28v2m0 4v5m0 2v8m0 9v4m0 24v5m1-104v6m0 2v5m0 45v2m0 2v3m0 6v9m1-65v4m0 24v2m0 2v5m0 13v2m0 11v4m0 2v4m0 9v2m1-182v2m0 39v5m0 78v2m0 15v4m0 24v2m28-97v4m0 39v2m0 5v4m0 9v2m1-4v4m0 4v2m1-82v2m0 78v2m1-121v7m0 26v8m1-8v4m1 2v2m0 89v4m1-95v2m1-67v2m2 24v7m2-7v2m1-13v2m0 9v4m0 29v2m1-28v2m0 17v2m0 2v3m0 6v2m0 18v2m0 8v5m0 89v4m1-4v2m0 4v4m1-69v7m0 69v2m30-195v2m1 87v2m0 7v8m1-104v2m0 7v2m1-13v2m1 104v2m1-106v7m4 6v5m0 69v4m0 2v3m1-107v3m0 6v2m2 24v11m1 52v2m0 4v7m1-24v4m3-93v2m0 9v2m29-11v7m0 6v3m0 2v2m0 76v2m1-82v4m0 45v3m1-50v6m0 26v7m0 2v2m0 4v5m0 8v9m0 2v2m0 13v5m1-87v2m0 2v3m1 2v2m0 6v3m0 17v2m1-41v2m0 2v2m0 11v5m0 39v6m0 20v2m1-104v4m0 2v5m0 6v2m1-15v2m0 67v13m1-39v3m0 6v2m1-69v2m0 11v2m0 28v5m0 54v2m0 58v3m0 2v6m1-169v5m0 73v7m1-7v5m0 17v4m0 59v4m1-141v2m1-15v2m0 20v2m0 46v2m1-39v2m0 61v2m1-102v2m0 26v2m0 2v7m0 35v4m0 22v4m2-67v2m28-48v2m0 9v2m1-2v2m0 87v4m1-104v2m0 63v2m0 7v9m0 17v4m1-69v2m0 4v3m0 23v5m0 4v7m0 17v2m1-97v2m0 13v4m0 15v5m0 39v4m1-48v5m0 56v4m1-76v3m1-33v2m0 9v2m5-9v3m0 2v2m1 91v4m1-58v2m1-11v2m0 44v4m1-74v2m0 16v4m0 6v7m2 52v2m27-100v3m1 8v5m0 10v3m1 19v2m0 11v2m0 35v2m1-91v2m0 87v4m1-76v7m0 43v5m1-52v2m0 28v2m1-32v2m1-5v3m3 30v4m1-69v2m0 2v5m0 54v6m1-69v2m3 85v4m3-56v4m0 2v2m27 9v6m0 9v2m2 18v8m0 22v2m3-93v6m3 55v2m0 6v9m1-104v2m0 26v7m0 54v2m0 2v4m1-15v5m1-87v4m1-4v2m0 50v4m0 2v3m0 4v4m0 20v6m0 5v4m2-35v7m0 6v2m0 5v2m0 13v4m0 24v2m1-21v2m1-78v2m0 67v2m0 18v2m1-63v4m0 18v8m0 13v5m1-72v2m0 26v2m0 5v2m28-76v7m0 6v2m7 87v4m2-4v2m1-2v4m2-4v4m1-108v2m0 2v2m0 18v2m0 2v7m0 17v2m0 9v6m0 18v4m0 4v2m1-52v7m1 0v2m0 7v8m0 35v4m3-91v9m27 9v4m0 9v6m0 7v8m1-50v5m0 6v9m0 2v4m0 29v4m0 6v3m1-33v7m0 4v2m0 20v4m0 2v2m0 15v7m1-102v2m0 67v3m0 2v2m1-76v2m0 18v4m0 4v7m0 8v3m0 15v11m1-78v2m0 6v2m0 3v2m0 28v2m0 9v2m0 30v7m1-100v7m0 10v3m0 6v2m0 2v3m0 26v2m0 2v2m1-22v11m0 7v4m1-54v2m0 7v2m0 2v4m0 18v2m0 41v4m1-93v2m0 5v6m0 11v2m0 9v2m0 2v2m0 2v3m0 6v2m0 2v3m0 4v2m1-65v2m0 5v4m0 58v5m1-70v7m0 4v7m0 4v4m0 5v11m0 8v2m0 7v4m0 5v4m0 2v11m1-85v5m0 4v2m0 18v2m0 2v2m0 4v3m0 2v2m0 2v2m0 7v4m0 4v3m0 2v6m1-63v7m0 6v3m0 30v4m1-65v2m0 5v4m0 9v4m0 2v5m0 4v11m0 37v2m0 8v3m1-100v2m0 7v2m0 15v9m0 17v4m0 2v5m0 52v2m1-117v2m0 7v2m0 2v4m0 7v8m0 20v4m0 7v8m0 5v2m0 13v4m1-91v2m0 7v2m0 4v3m0 2v2m0 11v2m0 9v4m1-46v3m0 4v2m0 54v2m0 44v2m27-113v2m0 3v19m0 11v2m0 17v5m0 2v4m0 13v2m0 24v2m1-110v2m0 2v5m0 13v2m0 4v7m0 10v7m0 13v2m0 2v2m1-67v5m0 2v4m0 7v4m0 2v7m0 4v6m0 3v2m0 8v3m0 6v2m1-43v11m0 4v4m0 16v2m0 2v2m0 20v4m1-87v2m0 5v6m0 18v2m0 32v9m0 2v2m0 7v4m1-84v4m0 4v9m0 71v3m1-94v11m0 2v3m0 8v2m0 18v2m0 9v2m0 2v2m0 9v8m0 24v2m1-69v9m0 17v2m0 20v2m1-89v2m0 2v7m0 30v2m0 5v2m0 24v4m0 17v3m1-100v2m0 9v4m0 9v4m0 2v7m0 6v2m0 11v7m0 2v2m0 2v2m0 7v4m0 13v2m1-97v9m0 4v2m0 37v2m0 9v2m0 2v7m0 8v9m1-56v2m0 13v6m0 2v3m0 6v2m0 7v2m0 4v2m0 5v4m0 4v3m1-81v7m0 13v6m0 3v6m0 7v6m0 4v3m0 21v2m0 7v2m1-89v5m0 2v2m0 9v8m0 7v2m0 11v2m1-52v2m0 4v3m0 21v9m1-33v3m0 6v2m0 2v3m0 17v6m0 20v2m0 4v3m1-68v5m0 2v2m0 24v2m0 7v6m1-65v4m0 46v11m0 24v2m1-74v2m0 20v4m0 9v2m0 32v5m0 4v2m28-86v2m0 6v2m0 7v6m0 9v2m0 22v4m1-67v2m0 11v2m0 2v3m0 4v2m0 2v2m0 5v2m0 19v11m0 5v4m0 4v2m1-82v4m0 7v2m0 4v5m0 4v4m0 5v2m0 9v2m0 2v4m0 11v2m0 20v2m0 2v2m0 7v6m1-56v2m0 2v2m0 5v4m0 7v4m0 4v5m1-70v2m0 11v7m0 2v6m0 5v4m0 2v2m0 3v2m0 4v2m1-67v2m0 5v2m0 4v2m0 22v2m0 2v2m0 3v4m0 11v2m0 2v2m1-34v2m0 21v7m0 39v4m1-86v2m0 2v2m0 4v3m0 52v4m0 6v3m1-37v4m0 17v3m0 10v5m1-63v6m1-34v2m0 4v7m0 6v2m0 20v9m0 4v2m0 13v2m0 5v2m1-83v3m0 2v2m0 2v2m0 2v3m0 2v4m0 4v3m0 4v11m0 4v2m0 2v7m0 2v2m0 5v8m0 5v2m1-87v2m0 18v4m0 4v2m0 5v2m0 4v5m0 4v2m0 4v5m1 6v2m1-60v6m1-15v2m0 31v2m0 15v11m0 28v2m0 11v4m1-56v2m0 46v6m1-71v4m0 9v4m0 45v7m1-102v7m0 2v2m0 9v8m0 2v5m0 2v4m0 7v4m0 15v2m0 11v2m27-84v2m0 7v2m0 11v6m0 9v2m0 2v2m0 7v2m0 17v2m0 3v2m0 6v7m1-72v9m0 6v3m0 21v5m0 2v2m1-61v5m0 8v2m0 3v2m0 8v3m0 30v4m1-69v4m0 13v11m0 37v2m1-63v7m0 2v2m0 9v11m0 4v6m0 3v2m0 6v7m1-57v3m0 6v7m0 2v4m0 22v2m0 19v5m0 2v4m1-82v2m0 9v2m0 9v10m0 7v2m0 4v11m0 24v4m0 85v4m1-134v4m0 13v11m0 15v5m0 84v2m1-167v3m0 2v4m0 20v8m0 124v2m1-163v7m0 9v4m0 9v2m0 4v2m0 5v8m0 2v3m0 4v2m1-50v5m0 2v2m0 13v2m0 2v7m0 17v4m0 13v5m1-85v2m0 3v2m0 13v2m0 48v2m0 6v5m1-81v3m0 19v4m0 16v4m1-50v2m0 9v2m0 22v2m1-28v6m1-6v6m1-2v2m0 20v2m2-33v3m0 4v9m0 2v2m0 6v3m27-26v2m0 41v2m0 17v3m1-46v7m1-18v7m0 4v2m0 9v2m0 7v2m0 19v5m0 6v2m0 2v3m0 2v2m1-91v4m0 7v4m0 39v2m0 24v2m0 104v5m1-182v4m0 2v4m0 3v2m0 8v3m0 4v6m0 3v6m0 4v3m0 8v2m0 16v4m0 95v7m0 2v2m0 2v2m0 3v2m1-206v2m0 2v2m0 5v2m0 22v2m0 8v5m0 136v5m0 2v2m1-193v2m0 9v6m0 9v4m0 20v6m0 3v2m0 4v2m0 2v5m0 4v2m0 106v5m0 6v5m1-204v4m0 48v2m0 132v2m1-184v2m0 5v2m0 13v4m0 7v2m0 147v2m0 3v2m1-158v6m0 7v2m0 2v6m0 3v2m0 6v2m0 11v2m0 102v5m1-135v5m0 4v2m0 119v5m1-167v2m0 2v4m0 3v2m0 2v2m0 7v4m0 9v10m0 3v4m0 108v5m1-189v4m0 16v2m0 4v4m0 5v2m0 2v4m0 5v4m0 15v2m0 3v2m1-76v2m0 7v4m0 9v10m0 13v5m0 8v5m1-48v2m0 5v4m0 22v4m0 11v13m0 6v2m1-69v2m0 35v2m0 9v4m0 9v2m0 91v4m1-164v2m0 4v2m0 7v2m0 6v3m0 4v4m0 5v2m0 13v15m0 6v5m0 80v4m1-156v9m0 17v13m0 9v2m0 2v2m0 13v5m1-87v2m0 5v2m0 30v2m0 13v9m28 9v6m0 4v5m1-31v3m0 2v4m0 2v2m0 5v2m0 6v5m1-20v5m0 6v2m1-47v2m0 4v2m0 2v3m0 2v6m0 2v5m2-57v3m0 30v4m0 5v2m0 21v5m1-24v4m0 5v6m1-65v2m0 65v2m0 3v2m0 4v9m1-87v2m0 26v7m0 2v4m0 7v2m2-20v3m0 17v4m0 5v2m0 2v2m0 4v5m1-74v2m0 2v3m0 23v5m0 4v9m0 19v2m0 7v11m1-87v4m0 3v2m0 28v4m0 2v3m0 2v2m1-7v11m0 7v6m2-37v3m0 36v3m0 6v4m1-52v3m1 39v2m1-7v5m27-42v9m2 11v2m0 2v5m0 4v2m1-58v2m0 2v2m0 7v2m0 2v2m0 4v5m0 4v7m0 2v2m0 19v3m1-42v3m0 4v2m0 2v9m0 22v4m0 2v2m1-50v3m0 2v6m0 2v3m0 2v2m0 4v7m1-31v13m0 9v11m0 6v5m1-37v2m0 2v5m0 2v2m0 4v5m1-48v2m0 54v5m1-65v2m0 4v2m0 22v4m0 7v2m0 6v5m1-57v3m0 13v2m0 8v3m0 28v6m1-37v11m0 5v2m0 2v4m1-17v6m0 3v4m1-28v6m0 2v5m0 2v4m0 2v3m0 2v4m0 2v2m0 3v4m1-35v2m0 7v11m0 2v4m0 5v2m0 2v4m0 5v4m1-69v2m0 2v2m0 37v2m0 4v3m0 2v2m0 2v2m1-50v3m0 4v2m0 4v5m0 6v2m0 5v4m0 4v3m0 10v5m1-50v2m0 7v4m0 4v7m0 2v4m0 11v2m1-47v4m0 4v2m0 7v2m0 2v2m0 7v2m0 7v4m0 2v2m27-67v9m0 4v2m0 24v2m0 11v2m0 5v2m1-61v2m0 7v2m0 2v4m0 3v4m0 39v6m1-49v6m0 4v5m0 2v6m0 20v6m1-65v5m0 8v3m0 2v4m0 7v2m0 11v2m0 73v3m1-91v2m0 15v2m0 9v2m0 6v3m0 6v2m0 46v2m1-106v2m0 4v9m0 2v4m1-15v5m0 34v5m0 6v2m1-73v2m0 6v2m0 9v4m0 16v4m1-35v2m0 9v2m0 20v2m1-28v8m0 9v11m1-17v4m0 11v2m0 4v9m0 4v2m1-41v5m0 2v11m0 10v7m1-65v2m0 9v2m0 39v2m0 7v2m0 4v2m1-69v2m0 2v2m0 5v8m0 13v3m1-29v5m0 2v2m0 2v5m0 2v2m0 4v2m0 26v3m0 2v4m1-63v2m0 13v5m0 19v9m1-28v2m0 2v13m0 4v3m0 10v7m1-56v4m0 4v2m0 7v2m0 2v11m1-37v5m0 47v11m28-19v4m1-24v2m0 5v10m0 11v11m0 4v5m1-76v2m0 7v2m0 41v2m0 9v4m1-37v7m0 4v2m0 18v8m1-28v4m0 7v2m0 11v2m1-39v4m0 3v4m0 13v4m0 11v2m1-69v2m0 4v3m0 8v2m0 3v4m0 6v3m1-35v4m0 65v2m1-58v2m0 20v2m0 19v2m0 11v2m1-36v4m0 4v5m0 15v2m1-65v4m0 5v2m0 11v6m0 2v2m0 18v4m0 20v2m1-76v4m0 22v2m0 37v2m0 4v5m1-74v4m0 3v2m0 6v2m0 3v2m0 2v2m0 9v2m0 11v8m0 7v4m1-56v2m0 4v5m0 11v8m0 13v9m1-65v6m0 9v2m0 15v3m0 6v4m0 3v6m0 9v4m1-50v2m0 3v2m0 4v4m0 11v2m0 3v6m1-48v3m1-9v11m0 15v4m1-24v5m0 13v4m0 43v3m27-57v5m0 10v3m0 21v7m1-52v4m1 4v5m1-24v11m0 34v5m0 11v2m0 2v2m1-54v4m0 28v3m0 6v2m0 5v2m1-61v9m1 15v11m0 13v2m0 4v2m1-58v2m0 15v11m0 24v2m1-2v2m2-30v11m1-22v6m0 13v5m0 13v2m0 6v7m1-54v11m0 4v2m0 7v2m1-37v2m1-2v2m0 2v2m0 5v6m1-15v2m1 11v2m1 31v4m1-52v6m0 7v4m0 18v4m27-13v4m0 5v2m0 8v11m1-43v4m0 2v3m0 8v5m1-29v5m0 41v2m1-50v7m0 34v3m1-48v2m0 4v3m0 34v9m1-33v3m0 4v11m0 15v2m1-24v5m1-18v9m0 6v5m0 8v11m1-56v2m0 52v2m0 7v6m1-43v9m0 10v7m1-43v4m0 26v2m0 4v3m1-33v2m0 24v2m0 18v4m2-59v7m0 9v4m0 4v5m0 6v4m0 7v4m1-34v2m0 19v9m1-28v8m0 9v4m1-32v4m0 33v2m1-52v2m0 22v2m0 9v4m1-39v6m0 42v2m27-22v4m1-32v6m0 18v6m0 24v2m1-21v4m1-39v2m0 4v9m0 7v2m0 13v2m0 2v4m0 3v2m1 2v2m1-39v2m0 5v2m0 2v4m0 13v13m1-47v8m0 31v6m1-26v2m1-28v2m0 9v4m1-13v5m0 39v4m1-52v6m0 18v2m0 2v9m1-24v4m0 2v3m0 17v2m0 15v5m1-46v4m0 26v5m0 2v2m1-54v2m0 2v2m0 44v4m1-32v2m0 2v2m0 11v4m1-43v2m0 13v7m0 2v6m0 11v7m1-26v2m0 6v5m0 4v4m1-41v4m1-4v7m0 15v2m0 2v2m0 24v2m28-28v2m1-11v5m0 34v3m2-59v7m0 10v3m0 6v2m0 15v5m1-46v2m0 18v2m0 2v7m0 2v4m0 4v5m1-44v3m0 2v2m0 9v2m1-24v6m0 3v2m0 28v9m0 10v3m2-18v2m1-43v2m0 26v5m0 2v6m1-28v4m0 33v2m0 4v3m1-61v2m0 24v9m1-26v8m0 18v2m0 19v5m0 108v2m1-171v6m0 7v4m0 7v2m0 4v2m0 16v4m0 117v4m1-164v4m0 4v5m0 19v2m1-41v7m0 8v5m1-9v2m0 9v6m1-8v6m0 2v7m0 11v2m1-50v2m0 28v2m0 18v4m27-41v2m0 9v4m2-19v2m0 19v5m0 2v2m0 2v2m1-37v3m0 2v4m0 9v8m0 3v2m0 13v4m0 7v6m0 22v2m1-85v5m0 13v4m0 9v2m0 6v3m1-46v4m0 16v4m0 6v3m0 6v4m0 3v2m1-26v2m0 11v2m1-26v2m0 43v7m1-28v2m0 4v2m1-39v3m0 13v2m0 19v2m0 3v4m1-35v5m0 6v2m0 20v4m0 4v5m1-57v3m0 4v2m0 11v2m1-26v2m0 41v3m1-46v4m0 24v5m1-35v2m0 7v17m0 58v3m1-70v2m0 13v5m0 13v4m1-52v9m0 6v5m0 4v2m1-17v4m0 2v5m1-5v5m28 13v2m1-37v6m0 22v4m0 22v2m1-47v6m0 7v8m1 5v2m2-2v2m1-9v2m1-8v2m0 21v3m1-39v8m0 18v2m0 8v5m1-46v2m0 3v6m2 20v2m1-15v2m2-11v4m1-13v2m0 5v4m0 4v3m2-7v4"/><path stroke="#fff" d="M245 360v2m4-11v2m26 0v2m3-4v2m0 4v3m97-3v5m1 8v5m1 32v2m4-19v2m1-32v2m1 6v5m0 19v2m0 15v3m1-9v2m1 7v2m1-59v2m0 11v2m27 5v2m1-43v2m0 13v2m1-17v2m0 13v2m0 4v2m1-23v2m3-317v5m0 17v2m0 5v2m2-22v2m8-8v2m0 6v2m29-28v2m1 13v3m0 2v2m0 30v2m0 278v2m1-334v2m0 5v2m1-11v4m0 24v2m1-30v4m0 22v2m1 0v2m1-13v5m1-5v5m0 17v4m2-4v4m0 13v3m2-37v2m0 11v2m0 4v2m2-39v3m0 30v2m1 7v2m3-5v5m27-28v2m0 2v2m0 26v2m2-28v2m1 13v2m1-39v3m0 4v2m0 15v2m0 5v4m2-28v2m2 9v2m1-24v2m0 26v2m0 5v2m0 9v2m2-48v4m0 50v5m1-48v2m1-13v4m1 37v2m1-26v3m0 8v2m1-21v2m0 30v2m0 9v2m0 7v2m0 286v4m1-333v2m0 21v5m1-9v2m0 2v3m0 294v2m0 7v2m27-325v2m0 24v2m1-2v4m1 0v5m1-5v3m1-50v4m0 13v2m0 9v4m0 28v3m1-37v2m2 6v5m1-37v2m0 13v2m1-26v5m0 36v3m0 23v3m1-61v2m0 43v3m5-37v2m0 2v2m0 11v2m2-32v2m1 9v2m28 37v2m0 13v4m1-71v2m0 47v3m3-7v2m1-17v2m0 4v3m0 15v2m1-11v2m1-34v2m0 2v2m2-24v2m0 5v2m1-9v5m0 10v3m1 21v2m3-41v5m0 19v2m1-24v3m0 45v4m1-47v4m1 56v3m1 4v2m0 2v2m27-19v2m0 11v4m1-54v2m2 11v2m1 35v2m0 2v2m1-58v2m0 17v3m1-9v2m0 4v3m4-37v2m0 15v2m0 7v4m0 13v4m1-21v2m0 6v3m0 47v2m1-69v2m0 59v4m1-69v2m1 22v2m1-22v4m0 5v2m0 17v2m0 5v2m1-43v2m0 6v2m0 13v3m29-42v3m0 34v2m2-15v2m1-30v2m0 41v3m1-24v2m1 13v2m4-15v2m3-26v2m0 7v2m0 26v2m1-17v2m1-17v2m0 17v2m2-21v2m0 11v2m1-20v5m0 34v5m1-26v2m28-22v2m2 24v2m1 11v2m0 50v2m1-86v4m0 13v2m0 20v2m1-5v3m2-11v2m1-26v2m0 15v2m0 5v4m2 4v3m1-46v2m3 5v4m1 41v2m1-37v3m0 19v2m31-17v2m5 11v2m1-17v4m0 46v4m1-22v2m2-17v2m1 20v2m1-24v2m1-17v2m3-9v5m0 30v2m1 26v2m28-30v2m2 7v2m2-35v2m3-6v4m2 15v3m7-26v4m0 15v2m30-34v2m0 47v5m0 13v2m7 4v2m1-10v4m1-17v2m3-5v3m2-35v2m0 11v2m0 4v3m1 6v2m30 24v2m2-24v3m1-50v4m2 4v3m1 21v2m2-23v2m0 41v2m1-54v2m0 30v3m2-26v2m5 15v4m30-15v4m3 33v2m1-54v2m1-13v4m0 52v3m1-35v2m0 35v2m1-41v2m1 52v2m1-69v4m1-13v2m0 39v2m1-15v2m1 13v5m0 28v2m1-61v3m1 52v4m2 4v2m28-30v2m1-13v5m5-5v5m0 30v4m2-76v3m0 15v2m0 54v2m2-17v2m0 15v2m1-13v3m1-68v3m2 67v2m1-56v2m1-20v2m0 55v2m0 8v3m29-31v2m2-2v2m0 9v2m1 5v2m0 37v2m0 112v3m1-198v3m0 75v3m0 114v3m1-137v2m0 15v5m0 24v2m0 2v2m2-87v5m1-41v2m0 28v2m0 39v2m0 50v2m1-121v2m1 43v3m1-59v2m0 33v4m0 100v2m2-132v2m0 13v4m1 67v5m1-26v2m0 56v2m1-39v5m0 4v2m1-102v5m1 28v2m0 39v2m0 48v4m27-130v2m0 3v2m0 8v3m0 34v2m0 16v2m0 4v2m0 26v2m0 3v2m1-35v2m0 11v2m0 65v2m1-19v4m0 13v5m1-102v2m0 15v2m0 100v2m0 2v2m1-58v2m0 15v2m2 18v2m0 30v2m1 0v3m1-18v2m1-4v2m0 18v2m1-22v2m0 7v2m1-191v2m0 189v2m1 17v5m1-124v2m0 70v2m0 41v4m0 39v3m1-74v2m1 11v2m1-97v2m0 112v5m1-20v2m1-199v2m0 191v4m0 39v2m27-236v2m0 33v4m5-24v3m1-16v3m1 69v2m1-76v2m2-2v5m3 15v2m0 2v2m0 135v4m4-145v2m1 17v2m28-36v4m0 80v2m0 11v2m1-89v3m0 19v2m2 102v2m1-106v2m0 91v2m2-4v2m1-71v2m0 35v2m1-72v2m2-6v2m1-24v2m0 178v2m1-19v2m2 15v2m1-28v4m0 22v2m0 13v2m1-17v2m29-177v2m1 47v3m1-37v2m0 100v2m1-67v2m0 2v2m1-56v2m0 104v2m3-41v2m1 17v3m0 8v2m1-99v2m0 52v2m1-58v4m1 93v2m1-47v4m1-9v2m1 5v2m0 24v2m1-28v2m1 6v5m2-63v2m0 78v2m27-52v2m0 9v4m3-54v2m2 3v2m0 86v5m4-65v2m1-35v2m1 13v3m0 21v5m1-39v2m1 52v2m3-35v2m2 33v2m29-48v3m1-16v5m0 11v2m1-2v4m0 15v4m3-41v2m2 13v3m0 19v4m2-36v2m2 30v4m4-26v3m2 32v2m28 39v2m1-78v3m0 36v5m4-9v2m1 33v2m1-85v3m2 34v2m0 37v2m1-71v2m0 7v2m2 0v4m0 20v2m3-44v3m2-5v2m30-2v5m2 65v2m2-39v2m0 37v2m4-74v2m0 22v4m2 59v2m1-30v2m1-4v2m2-18v5m1-24v2m0 9v2m0 22v4m28-24v2m0 18v2m1-18v3m0 49v3m0 8v2m1-73v4m0 24v2m0 9v2m1-2v4m1-71v2m2 82v4m1-49v2m0 47v3m2-72v2m0 26v2m1-47v2m0 32v3m0 15v4m2-65v2m0 44v2m0 41v4m1-56v2m0 33v2m3-72v5m1 2v2m0 48v2m0 28v2m28-74v3m0 2v2m0 45v3m1-20v4m1-36v2m0 21v5m0 26v4m1-52v2m0 28v3m2-16v5m1 26v2m1-76v2m0 74v2m3-50v2m2-10v2m0 2v2m1-22v3m0 30v4m1 15v3m0 2v2m0 11v4m2-43v4m1 37v4m1-56v4m0 13v2m0 16v4m31 0v2m3-58v4m1 43v2m3-54v2m3 48v2m0 22v2m2-9v3m1-52v2m0 13v4m1-13v2m31-17v2m0 4v3m0 26v2m1-48v4m1 65v3m1-63v2m0 6v3m0 2v2m1-15v2m1-9v2m0 24v2m0 9v2m1-24v3m1 19v4m3-39v5m0 11v2m0 6v2m1-4v2m0 9v2m0 24v2m0 4v3m0 6v2m1-60v2m0 6v2m1-26v3m1 17v2m0 37v2m0 9v2m29-37v2m1-2v2m1-6v2m4-35v2m1 22v2m0 28v3m2-55v3m2 47v2m1-30v2m2-6v4m1-4v2m1-24v2m0 18v4m28 17v2m1-43v4m2 189v2m1-184v2m1 11v2m0 2v2m2 9v2m0 2v3m0 149v2m4 2v3m1-195v2m6 65v2m28-76v4m0 22v2m0 11v2m0 11v2m1-13v2m1-17v4m0 9v2m1-32v2m0 6v3m1-16v3m0 19v2m0 24v4m1-13v3m0 8v5m1-22v4m0 28v3m1-65v2m0 8v3m0 6v2m0 11v2m0 18v4m1-59v3m0 17v4m0 41v3m1-72v2m0 5v2m1-7v2m0 3v2m0 26v2m1-30v2m0 17v2m0 26v2m0 5v2m1-2v2m1-59v3m0 17v2m0 2v2m0 46v2m1-56v2m0 2v2m0 7v2m0 2v2m0 31v2m1-37v2m0 15v2m1-32v4m0 44v2m1-65v2m0 43v2m0 5v2m1-41v4m0 28v2m27-32v2m2-17v2m0 24v2m0 35v2m1-72v2m0 50v2m1-28v2m0 22v2m3-37v5m1-2v2m1 2v2m0 46v2m1-33v2m2 11v2m3 13v3m2 0v2m29-72v2m0 7v2m7-11v2m1 59v2m2-65v2m0 15v3m0 49v3m1-33v2m0 2v3m1 13v2m4-59v5m31 19v4m2-10v2m1-22v2m4 26v2m2 11v5m4-46v2m1 20v2m1 11v2m41-17v2m3 32v2m2-4v2m28-17v4m1-6v2m0 4v2m2 11v2m5 3v4m40-26v4m3-37v3m0 4v2m41 22v4m10-15v2m3 11v2m46-4v4m2 2v2"/></g>
</g>
<path d="M512 2030V2898M784 2030V2898M1056 2030V2898M1328 2030V2898M1600 2030V2898M1872 2030V2898M2144 2030V2898M240 2752H2415M240 2608H2415M240 2463H2415M240 2319H2415M240 2174H2415M240 2896H2415" stroke="#b0b0b0" stroke-width="2.2" fill="none"/>
<path d="M230.3 2896H240M230.3 2752H240M230.3 2608H240M230.3 2463H240M230.3 2319H240M230.3 2174H240M230.3 2030H240M240 2898V2907.7M512 2898V2907.7M784 2898V2907.7M1056 2898V2907.7M1328 2898V2907.7M1600 2898V2907.7M1872 2898V2907.7M2144 2898V2907.7M2595 2030H2604.7M2595 2203H2604.7M2595 2377H2604.7M2595 2550H2604.7M2595 2723H2604.7M2595 2896H2604.7" stroke="#000" stroke-width="2.2" fill="none"/>
<rect x="240" y="2030" width="2175" height="868" fill="none" stroke="#000" stroke-width="2.2"/>
<rect x="2551" y="2030" width="44" height="868" fill="url(#jet)" stroke="#000" stroke-width="2.2"/>
</g>
<g font-family="'Liberation Sans', sans-serif" fill="#000">
<text transform="translate(57.5 642.6) rotate(-90)" font-size="52.2"><tspan x="0.5" textLength="158.1" lengthAdjust="spacingAndGlyphs">height</tspan> <tspan x="175" textLength="88.2" lengthAdjust="spacingAndGlyphs">[m]</tspan></text>
<text x="193.5" y="960.7" font-size="47.2" textLength="26.1" lengthAdjust="spacingAndGlyphs">0</text>
<text x="108.3" y="816.3" font-size="47.2" textLength="111.4" lengthAdjust="spacingAndGlyphs">2000</text>
<text x="108.7" y="671.9" font-size="47.2" textLength="111.1" lengthAdjust="spacingAndGlyphs">4000</text>
<text x="108.2" y="527.4" font-size="47.2" textLength="111.5" lengthAdjust="spacingAndGlyphs">6000</text>
<text x="108.5" y="383" font-size="47.2" textLength="111.3" lengthAdjust="spacingAndGlyphs">8000</text>
<text x="80.5" y="238.6" font-size="47.2" textLength="139.3" lengthAdjust="spacingAndGlyphs">10000</text>
<text x="80.3" y="94.2" font-size="47.2" textLength="139.3" lengthAdjust="spacingAndGlyphs">12000</text>
<text y="60.5" font-size="59.1"><tspan x="1079.9" textLength="280.2" lengthAdjust="spacingAndGlyphs">20240513</tspan> <tspan x="1379.9" textLength="197.1" lengthAdjust="spacingAndGlyphs">XMACS</tspan></text>
<text transform="translate(2756.9 637.9) rotate(-90)" font-size="52.5"><tspan x="0.7" textLength="130.9" lengthAdjust="spacingAndGlyphs">LDRg</tspan> <tspan x="148.8" textLength="104.9" lengthAdjust="spacingAndGlyphs">[dB]</tspan></text>
<text x="2616.7" y="960.7" font-size="47.2" textLength="90.9" lengthAdjust="spacingAndGlyphs">−50</text>
<text x="2616.7" y="787.4" font-size="47.2" textLength="90.9" lengthAdjust="spacingAndGlyphs">−40</text>
<text x="2616.7" y="614.1" font-size="47.2" textLength="90.9" lengthAdjust="spacingAndGlyphs">−30</text>
<text x="2616.7" y="440.8" font-size="47.2" textLength="90.9" lengthAdjust="spacingAndGlyphs">−20</text>
<text x="2616.7" y="267.5" font-size="47.2" textLength="90.9" lengthAdjust="spacingAndGlyphs">−10</text>
<text x="2615.7" y="94.2" font-size="47.2" textLength="26.1" lengthAdjust="spacingAndGlyphs">0</text>
<text transform="translate(57.5 1618.7) rotate(-90)" font-size="52.2"><tspan x="0.5" textLength="158.1" lengthAdjust="spacingAndGlyphs">height</tspan> <tspan x="175" textLength="88.2" lengthAdjust="spacingAndGlyphs">[m]</tspan></text>
<text x="193.5" y="1936.7" font-size="47.2" textLength="26.1" lengthAdjust="spacingAndGlyphs">0</text>
<text x="108.3" y="1792.3" font-size="47.2" textLength="111.4" lengthAdjust="spacingAndGlyphs">2000</text>
<text x="108.7" y="1647.9" font-size="47.2" textLength="111.1" lengthAdjust="spacingAndGlyphs">4000</text>
<text x="108.2" y="1503.5" font-size="47.2" textLength="111.5" lengthAdjust="spacingAndGlyphs">6000</text>
<text x="108.5" y="1359" font-size="47.2" textLength="111.3" lengthAdjust="spacingAndGlyphs">8000</text>
<text x="80.5" y="1214.6" font-size="47.2" textLength="139.3" lengthAdjust="spacingAndGlyphs">10000</text>
<text x="80.3" y="1070.2" font-size="47.2" textLength="139.3" lengthAdjust="spacingAndGlyphs">12000</text>
<text x="1225.6" y="1036.5" font-size="53.1" textLength="206.1" lengthAdjust="spacingAndGlyphs">KaMACS</text>
<text transform="translate(2756.9 1613.9) rotate(-90)" font-size="52.5"><tspan x="0.7" textLength="130.9" lengthAdjust="spacingAndGlyphs">LDRg</tspan> <tspan x="148.8" textLength="104.9" lengthAdjust="spacingAndGlyphs">[dB]</tspan></text>
<text x="2616.7" y="1936.7" font-size="47.2" textLength="90.9" lengthAdjust="spacingAndGlyphs">−50</text>
<text x="2616.7" y="1763.4" font-size="47.2" textLength="90.9" lengthAdjust="spacingAndGlyphs">−40</text>
<text x="2616.7" y="1590.1" font-size="47.2" textLength="90.9" lengthAdjust="spacingAndGlyphs">−30</text>
<text x="2616.7" y="1416.8" font-size="47.2" textLength="90.9" lengthAdjust="spacingAndGlyphs">−20</text>
<text x="2616.7" y="1243.5" font-size="47.2" textLength="90.9" lengthAdjust="spacingAndGlyphs">−10</text>
<text x="2615.7" y="1070.2" font-size="47.2" textLength="26.1" lengthAdjust="spacingAndGlyphs">0</text>
<text x="241.1" y="2949.1" font-size="47.2" textLength="126.1" lengthAdjust="spacingAndGlyphs">00:00</text>
<text x="513" y="2949.1" font-size="47.2" textLength="126.1" lengthAdjust="spacingAndGlyphs">03:00</text>
<text x="784.9" y="2949.1" font-size="47.2" textLength="126.1" lengthAdjust="spacingAndGlyphs">06:00</text>
<text x="1056.9" y="2949.1" font-size="47.2" textLength="126.1" lengthAdjust="spacingAndGlyphs">09:00</text>
<text x="1328.9" y="2949.1" font-size="47.2" textLength="126" lengthAdjust="spacingAndGlyphs">12:00</text>
<text x="1600.9" y="2949.1" font-size="47.2" textLength="126" lengthAdjust="spacingAndGlyphs">15:00</text>
<text x="1872.8" y="2949.1" font-size="47.2" textLength="126" lengthAdjust="spacingAndGlyphs">18:00</text>
<text x="2144.4" y="2949.1" font-size="47.2" textLength="126.4" lengthAdjust="spacingAndGlyphs">21:00</text>
<text transform="translate(57.5 2594.7) rotate(-90)" font-size="52.2"><tspan x="0.5" textLength="158.1" lengthAdjust="spacingAndGlyphs">height</tspan> <tspan x="175" textLength="88.2" lengthAdjust="spacingAndGlyphs">[m]</tspan></text>
<text x="193.5" y="2912.7" font-size="47.2" textLength="26.1" lengthAdjust="spacingAndGlyphs">0</text>
<text x="108.3" y="2768.3" font-size="47.2" textLength="111.4" lengthAdjust="spacingAndGlyphs">2000</text>
<text x="108.7" y="2623.9" font-size="47.2" textLength="111.1" lengthAdjust="spacingAndGlyphs">4000</text>
<text x="108.2" y="2479.5" font-size="47.2" textLength="111.5" lengthAdjust="spacingAndGlyphs">6000</text>
<text x="108.5" y="2335" font-size="47.2" textLength="111.3" lengthAdjust="spacingAndGlyphs">8000</text>
<text x="80.5" y="2190.6" font-size="47.2" textLength="139.3" lengthAdjust="spacingAndGlyphs">10000</text>
<text x="80.3" y="2046.2" font-size="47.2" textLength="139.3" lengthAdjust="spacingAndGlyphs">12000</text>
<text x="1232.7" y="2012.5" font-size="53.1" textLength="191.5" lengthAdjust="spacingAndGlyphs">WMACS</text>
<text transform="translate(2756.9 2589.9) rotate(-90)" font-size="52.5"><tspan x="0.7" textLength="130.9" lengthAdjust="spacingAndGlyphs">LDRg</tspan> <tspan x="148.8" textLength="104.9" lengthAdjust="spacingAndGlyphs">[dB]</tspan></text>
<text x="2616.7" y="2912.7" font-size="47.2" textLength="90.9" lengthAdjust="spacingAndGlyphs">−50</text>
<text x="2616.7" y="2739.4" font-size="47.2" textLength="90.9" lengthAdjust="spacingAndGlyphs">−40</text>
<text x="2616.7" y="2566.1" font-size="47.2" textLength="90.9" lengthAdjust="spacingAndGlyphs">−30</text>
<text x="2616.7" y="2392.8" font-size="47.2" textLength="90.9" lengthAdjust="spacingAndGlyphs">−20</text>
<text x="2616.7" y="2219.5" font-size="47.2" textLength="90.9" lengthAdjust="spacingAndGlyphs">−10</text>
<text x="2615.7" y="2046.2" font-size="47.2" textLength="26.1" lengthAdjust="spacingAndGlyphs">0</text>
</g>
</svg>
</body></html>
